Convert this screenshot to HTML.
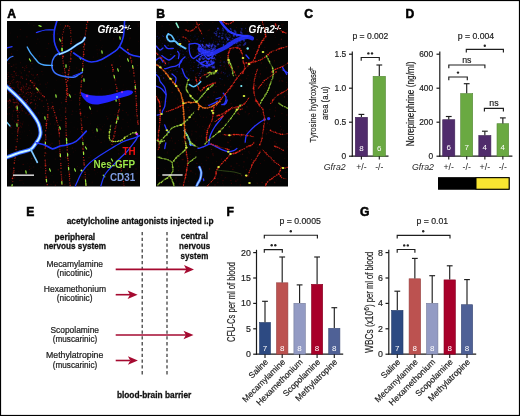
<!DOCTYPE html>
<html><head><meta charset="utf-8">
<style>
html,body{margin:0;padding:0;background:#fff;width:520px;height:416px;overflow:hidden}
svg{display:block;will-change:transform}
text{font-family:"Liberation Sans",sans-serif}
</style></head><body>
<svg width="520" height="416" viewBox="0 0 520 416">
<defs>
<clipPath id="clipA"><rect x="7" y="21" width="133" height="165.5"/></clipPath>
<clipPath id="clipB"><rect x="156" y="21" width="132" height="165.5"/></clipPath>
<filter id="soft" x="-5%" y="-5%" width="110%" height="110%"><feGaussianBlur stdDeviation="0.3"/></filter>
</defs>
<rect x="0" y="0" width="520" height="416" fill="#fff"/>
<g font-weight="bold" font-size="12.1" fill="#000" stroke="#000" stroke-width="0.55">
<text x="7.2" y="17.6">A</text>
<text x="156.2" y="17.6">B</text>
<text x="304.2" y="17.6">C</text>
<text x="405.5" y="17.6">D</text>
<text x="26.2" y="215.6">E</text>
<text x="226.4" y="215.6">F</text>
<text x="360" y="215.6">G</text>
</g>
<g id="panelA">
<rect x="7" y="21" width="133" height="165.5" fill="#040404"/>
<g clip-path="url(#clipA)" filter="url(#soft)">
<circle cx="10.4" cy="99.2" r="0.61" fill="#c81818" opacity="0.18"/>
<circle cx="29.6" cy="97.9" r="0.36" fill="#c81818" opacity="0.32"/>
<circle cx="19.5" cy="94.6" r="0.52" fill="#c81818" opacity="0.48"/>
<circle cx="21.1" cy="99.0" r="0.60" fill="#c81818" opacity="0.53"/>
<circle cx="18.3" cy="91.4" r="0.69" fill="#c81818" opacity="0.27"/>
<circle cx="18.3" cy="97.5" r="0.47" fill="#c81818" opacity="0.48"/>
<circle cx="21.8" cy="108.8" r="0.61" fill="#c81818" opacity="0.30"/>
<circle cx="9.2" cy="90.5" r="0.37" fill="#c81818" opacity="0.23"/>
<circle cx="7.7" cy="78.6" r="0.48" fill="#c81818" opacity="0.38"/>
<circle cx="20.0" cy="71.1" r="0.45" fill="#c81818" opacity="0.38"/>
<circle cx="12.5" cy="80.6" r="0.74" fill="#c81818" opacity="0.20"/>
<circle cx="23.4" cy="105.2" r="0.37" fill="#c81818" opacity="0.42"/>
<circle cx="15.7" cy="73.8" r="0.70" fill="#c81818" opacity="0.28"/>
<circle cx="7.7" cy="74.3" r="0.58" fill="#c81818" opacity="0.33"/>
<circle cx="32.0" cy="63.6" r="0.54" fill="#c81818" opacity="0.42"/>
<circle cx="34.2" cy="100.1" r="0.61" fill="#c81818" opacity="0.55"/>
<circle cx="19.0" cy="81.7" r="0.50" fill="#c81818" opacity="0.42"/>
<circle cx="29.4" cy="94.2" r="0.42" fill="#c81818" opacity="0.20"/>
<circle cx="36.3" cy="100.7" r="0.40" fill="#c81818" opacity="0.25"/>
<circle cx="27.4" cy="99.4" r="0.57" fill="#c81818" opacity="0.50"/>
<circle cx="25.8" cy="66.6" r="0.46" fill="#c81818" opacity="0.32"/>
<circle cx="21.7" cy="89.9" r="0.42" fill="#c81818" opacity="0.24"/>
<circle cx="15.7" cy="108.0" r="0.59" fill="#c81818" opacity="0.26"/>
<circle cx="28.6" cy="92.4" r="0.50" fill="#c81818" opacity="0.38"/>
<circle cx="34.5" cy="85.8" r="0.56" fill="#c81818" opacity="0.40"/>
<circle cx="11.9" cy="87.8" r="0.71" fill="#c81818" opacity="0.46"/>
<circle cx="31.6" cy="74.2" r="0.51" fill="#c81818" opacity="0.31"/>
<circle cx="29.8" cy="104.0" r="0.37" fill="#c81818" opacity="0.18"/>
<circle cx="16.1" cy="100.1" r="0.49" fill="#c81818" opacity="0.17"/>
<circle cx="22.0" cy="92.0" r="0.39" fill="#c81818" opacity="0.30"/>
<circle cx="42.1" cy="96.5" r="0.60" fill="#c81818" opacity="0.21"/>
<circle cx="13.8" cy="104.9" r="0.50" fill="#c81818" opacity="0.20"/>
<circle cx="39.7" cy="56.1" r="0.54" fill="#c81818" opacity="0.34"/>
<circle cx="19.6" cy="95.3" r="0.49" fill="#c81818" opacity="0.26"/>
<circle cx="17.9" cy="84.7" r="0.36" fill="#c81818" opacity="0.53"/>
<circle cx="10.8" cy="91.1" r="0.56" fill="#c81818" opacity="0.54"/>
<circle cx="28.1" cy="75.6" r="0.45" fill="#c81818" opacity="0.30"/>
<circle cx="26.0" cy="112.9" r="0.56" fill="#c81818" opacity="0.46"/>
<circle cx="9.2" cy="100.7" r="0.67" fill="#c81818" opacity="0.54"/>
<circle cx="29.2" cy="71.7" r="0.68" fill="#c81818" opacity="0.45"/>
<circle cx="16.5" cy="108.7" r="0.49" fill="#c81818" opacity="0.16"/>
<circle cx="25.2" cy="94.0" r="0.45" fill="#c81818" opacity="0.43"/>
<circle cx="28.7" cy="87.9" r="0.72" fill="#c81818" opacity="0.55"/>
<circle cx="26.8" cy="88.3" r="0.44" fill="#c81818" opacity="0.24"/>
<circle cx="17.1" cy="100.9" r="0.60" fill="#c81818" opacity="0.51"/>
<circle cx="22.6" cy="78.5" r="0.61" fill="#c81818" opacity="0.47"/>
<circle cx="31.7" cy="102.5" r="0.71" fill="#c81818" opacity="0.46"/>
<circle cx="14.0" cy="76.0" r="0.42" fill="#c81818" opacity="0.47"/>
<circle cx="27.8" cy="89.5" r="0.51" fill="#c81818" opacity="0.53"/>
<circle cx="12.7" cy="83.6" r="0.40" fill="#c81818" opacity="0.21"/>
<circle cx="35.0" cy="77.7" r="0.41" fill="#c81818" opacity="0.48"/>
<circle cx="34.3" cy="89.5" r="0.49" fill="#c81818" opacity="0.37"/>
<circle cx="15.6" cy="93.7" r="0.74" fill="#c81818" opacity="0.41"/>
<circle cx="18.4" cy="83.4" r="0.45" fill="#c81818" opacity="0.27"/>
<circle cx="15.1" cy="110.6" r="0.45" fill="#c81818" opacity="0.32"/>
<circle cx="34.9" cy="114.5" r="0.49" fill="#c81818" opacity="0.33"/>
<circle cx="11.3" cy="91.6" r="0.53" fill="#c81818" opacity="0.22"/>
<circle cx="39.1" cy="92.6" r="0.42" fill="#c81818" opacity="0.34"/>
<circle cx="11.2" cy="74.4" r="0.48" fill="#c81818" opacity="0.36"/>
<circle cx="28.1" cy="103.1" r="0.45" fill="#c81818" opacity="0.26"/>
<circle cx="16.3" cy="75.5" r="0.57" fill="#c81818" opacity="0.45"/>
<circle cx="26.9" cy="84.1" r="0.60" fill="#c81818" opacity="0.35"/>
<circle cx="24.1" cy="88.1" r="0.57" fill="#c81818" opacity="0.53"/>
<circle cx="18.1" cy="85.6" r="0.40" fill="#c81818" opacity="0.33"/>
<circle cx="23.3" cy="96.6" r="0.38" fill="#c81818" opacity="0.42"/>
<circle cx="20.3" cy="62.8" r="0.41" fill="#c81818" opacity="0.44"/>
<circle cx="9.8" cy="85.4" r="0.70" fill="#c81818" opacity="0.54"/>
<circle cx="20.6" cy="125.9" r="0.51" fill="#c81818" opacity="0.34"/>
<circle cx="40.4" cy="90.3" r="0.41" fill="#c81818" opacity="0.32"/>
<circle cx="18.1" cy="103.6" r="0.64" fill="#c81818" opacity="0.16"/>
<circle cx="26.5" cy="93.4" r="0.60" fill="#c81818" opacity="0.35"/>
<circle cx="51.3" cy="108.0" r="0.67" fill="#c81818" opacity="0.54"/>
<circle cx="22.7" cy="98.7" r="0.37" fill="#c81818" opacity="0.46"/>
<circle cx="13.1" cy="99.3" r="0.52" fill="#c81818" opacity="0.51"/>
<circle cx="18.5" cy="82.2" r="0.41" fill="#c81818" opacity="0.52"/>
<circle cx="18.1" cy="94.6" r="0.63" fill="#c81818" opacity="0.32"/>
<circle cx="43.7" cy="106.5" r="0.60" fill="#c81818" opacity="0.47"/>
<circle cx="37.8" cy="105.8" r="0.38" fill="#c81818" opacity="0.50"/>
<circle cx="13.2" cy="99.3" r="0.56" fill="#c81818" opacity="0.25"/>
<circle cx="20.4" cy="97.3" r="0.37" fill="#c81818" opacity="0.23"/>
<circle cx="9.5" cy="103.0" r="0.65" fill="#c81818" opacity="0.27"/>
<circle cx="12.5" cy="94.2" r="0.45" fill="#c81818" opacity="0.16"/>
<circle cx="12.1" cy="74.4" r="0.43" fill="#c81818" opacity="0.34"/>
<circle cx="20.1" cy="89.4" r="0.68" fill="#c81818" opacity="0.32"/>
<circle cx="8.7" cy="72.8" r="0.51" fill="#c81818" opacity="0.29"/>
<circle cx="21.0" cy="94.5" r="0.38" fill="#c81818" opacity="0.45"/>
<circle cx="13.7" cy="100.4" r="0.38" fill="#c81818" opacity="0.49"/>
<circle cx="28.3" cy="76.8" r="0.46" fill="#c81818" opacity="0.25"/>
<circle cx="9.8" cy="107.0" r="0.41" fill="#c81818" opacity="0.33"/>
<circle cx="11.0" cy="127.6" r="0.74" fill="#c81818" opacity="0.37"/>
<circle cx="15.3" cy="128.3" r="0.47" fill="#c81818" opacity="0.29"/>
<circle cx="27.7" cy="92.1" r="0.54" fill="#c81818" opacity="0.35"/>
<circle cx="19.0" cy="107.8" r="0.35" fill="#c81818" opacity="0.26"/>
<circle cx="26.0" cy="99.6" r="0.37" fill="#c81818" opacity="0.16"/>
<circle cx="10.6" cy="101.6" r="0.58" fill="#c81818" opacity="0.36"/>
<circle cx="14.1" cy="71.5" r="0.64" fill="#c81818" opacity="0.50"/>
<circle cx="21.9" cy="91.2" r="0.64" fill="#c81818" opacity="0.41"/>
<circle cx="39.6" cy="99.2" r="0.71" fill="#c81818" opacity="0.40"/>
<circle cx="11.4" cy="66.5" r="0.41" fill="#c81818" opacity="0.36"/>
<circle cx="22.8" cy="67.3" r="0.58" fill="#c81818" opacity="0.51"/>
<circle cx="14.4" cy="95.5" r="0.40" fill="#c81818" opacity="0.29"/>
<circle cx="35.0" cy="108.3" r="0.57" fill="#c81818" opacity="0.40"/>
<circle cx="12.9" cy="92.1" r="0.67" fill="#c81818" opacity="0.45"/>
<circle cx="11.2" cy="87.6" r="0.64" fill="#c81818" opacity="0.25"/>
<circle cx="23.8" cy="97.0" r="0.64" fill="#c81818" opacity="0.23"/>
<circle cx="11.6" cy="53.9" r="0.55" fill="#c81818" opacity="0.30"/>
<circle cx="16.1" cy="72.7" r="0.61" fill="#c81818" opacity="0.18"/>
<circle cx="20.4" cy="100.6" r="0.65" fill="#c81818" opacity="0.27"/>
<circle cx="12.0" cy="91.1" r="0.37" fill="#c81818" opacity="0.26"/>
<circle cx="8.8" cy="81.6" r="0.56" fill="#c81818" opacity="0.34"/>
<circle cx="7.1" cy="93.5" r="0.71" fill="#c81818" opacity="0.23"/>
<circle cx="46.5" cy="87.5" r="0.36" fill="#c81818" opacity="0.33"/>
<circle cx="29.6" cy="58.7" r="0.53" fill="#c81818" opacity="0.26"/>
<circle cx="22.4" cy="124.7" r="0.43" fill="#c81818" opacity="0.38"/>
<circle cx="24.7" cy="105.3" r="0.73" fill="#c81818" opacity="0.20"/>
<circle cx="21.1" cy="76.9" r="0.70" fill="#c81818" opacity="0.43"/>
<circle cx="17.5" cy="121.7" r="0.54" fill="#c81818" opacity="0.16"/>
<circle cx="30.3" cy="92.4" r="0.53" fill="#c81818" opacity="0.27"/>
<circle cx="22.1" cy="101.9" r="0.48" fill="#c81818" opacity="0.49"/>
<circle cx="37.3" cy="92.3" r="0.69" fill="#c81818" opacity="0.20"/>
<circle cx="33.8" cy="82.1" r="0.71" fill="#c81818" opacity="0.27"/>
<circle cx="32.7" cy="91.9" r="0.49" fill="#c81818" opacity="0.32"/>
<circle cx="13.3" cy="96.3" r="0.39" fill="#c81818" opacity="0.48"/>
<circle cx="14.0" cy="103.0" r="0.55" fill="#c81818" opacity="0.23"/>
<circle cx="33.1" cy="75.0" r="0.60" fill="#c81818" opacity="0.52"/>
<circle cx="30.5" cy="85.6" r="0.64" fill="#c81818" opacity="0.17"/>
<circle cx="12.3" cy="76.8" r="0.65" fill="#c81818" opacity="0.41"/>
<circle cx="13.0" cy="96.3" r="0.72" fill="#c81818" opacity="0.20"/>
<circle cx="7.2" cy="113.9" r="0.74" fill="#c81818" opacity="0.25"/>
<circle cx="7.4" cy="82.2" r="0.57" fill="#c81818" opacity="0.31"/>
<circle cx="18.1" cy="99.2" r="0.43" fill="#c81818" opacity="0.51"/>
<circle cx="53.1" cy="65.9" r="0.53" fill="#c81818" opacity="0.21"/>
<circle cx="16.2" cy="97.7" r="0.49" fill="#c81818" opacity="0.19"/>
<circle cx="14.7" cy="102.8" r="0.58" fill="#c81818" opacity="0.50"/>
<circle cx="14.0" cy="77.6" r="0.52" fill="#c81818" opacity="0.36"/>
<circle cx="24.4" cy="96.3" r="0.74" fill="#c81818" opacity="0.20"/>
<circle cx="20.4" cy="84.6" r="0.46" fill="#c81818" opacity="0.25"/>
<circle cx="40.1" cy="84.2" r="0.70" fill="#c81818" opacity="0.16"/>
<circle cx="35.6" cy="96.4" r="0.71" fill="#c81818" opacity="0.34"/>
<circle cx="13.8" cy="91.9" r="0.51" fill="#c81818" opacity="0.52"/>
<circle cx="26.6" cy="67.5" r="0.74" fill="#c81818" opacity="0.25"/>
<circle cx="20.3" cy="97.1" r="0.56" fill="#c81818" opacity="0.42"/>
<circle cx="34.9" cy="84.0" r="0.61" fill="#c81818" opacity="0.46"/>
<circle cx="37.7" cy="98.0" r="0.44" fill="#c81818" opacity="0.52"/>
<circle cx="21.4" cy="99.7" r="0.60" fill="#c81818" opacity="0.43"/>
<circle cx="18.1" cy="95.5" r="0.56" fill="#c81818" opacity="0.38"/>
<circle cx="12.4" cy="90.8" r="0.47" fill="#c81818" opacity="0.33"/>
<circle cx="33.5" cy="86.9" r="0.70" fill="#c81818" opacity="0.34"/>
<circle cx="15.0" cy="102.5" r="0.73" fill="#c81818" opacity="0.43"/>
<circle cx="13.0" cy="94.7" r="0.55" fill="#c81818" opacity="0.42"/>
<circle cx="14.5" cy="95.6" r="0.49" fill="#c81818" opacity="0.32"/>
<circle cx="10.2" cy="83.5" r="0.67" fill="#c81818" opacity="0.45"/>
<circle cx="25.9" cy="89.7" r="0.68" fill="#c81818" opacity="0.24"/>
<circle cx="18.2" cy="115.3" r="0.47" fill="#c81818" opacity="0.53"/>
<circle cx="16.4" cy="106.3" r="0.62" fill="#c81818" opacity="0.53"/>
<circle cx="22.5" cy="103.1" r="0.44" fill="#c81818" opacity="0.54"/>
<circle cx="16.9" cy="95.6" r="0.37" fill="#c81818" opacity="0.31"/>
<circle cx="37.3" cy="74.7" r="0.64" fill="#c81818" opacity="0.55"/>
<circle cx="25.4" cy="86.8" r="0.42" fill="#c81818" opacity="0.52"/>
<circle cx="13.9" cy="88.4" r="0.62" fill="#c81818" opacity="0.30"/>
<circle cx="14.5" cy="92.9" r="0.46" fill="#c81818" opacity="0.29"/>
<circle cx="20.9" cy="90.0" r="0.74" fill="#c81818" opacity="0.23"/>
<circle cx="20.5" cy="78.6" r="0.37" fill="#c81818" opacity="0.34"/>
<circle cx="18.7" cy="104.5" r="0.71" fill="#c81818" opacity="0.16"/>
<circle cx="14.4" cy="88.0" r="0.36" fill="#c81818" opacity="0.18"/>
<circle cx="23.5" cy="86.8" r="0.65" fill="#c81818" opacity="0.51"/>
<circle cx="8.1" cy="101.5" r="0.73" fill="#c81818" opacity="0.40"/>
<circle cx="12.3" cy="114.2" r="0.48" fill="#c81818" opacity="0.26"/>
<circle cx="37.5" cy="92.6" r="0.72" fill="#c81818" opacity="0.40"/>
<circle cx="16.9" cy="90.9" r="0.44" fill="#c81818" opacity="0.34"/>
<circle cx="47.5" cy="82.7" r="0.50" fill="#c81818" opacity="0.25"/>
<circle cx="22.0" cy="88.1" r="0.67" fill="#c81818" opacity="0.45"/>
<circle cx="24.6" cy="70.4" r="0.59" fill="#c81818" opacity="0.28"/>
<circle cx="8.4" cy="104.0" r="0.66" fill="#c81818" opacity="0.18"/>
<circle cx="21.6" cy="114.1" r="0.45" fill="#c81818" opacity="0.18"/>
<circle cx="31.4" cy="95.7" r="0.48" fill="#c81818" opacity="0.54"/>
<circle cx="44.9" cy="64.2" r="0.46" fill="#c81818" opacity="0.18"/>
<circle cx="27.5" cy="101.4" r="0.63" fill="#c81818" opacity="0.33"/>
<circle cx="15.4" cy="106.5" r="0.60" fill="#c81818" opacity="0.42"/>
<circle cx="13.7" cy="64.9" r="0.62" fill="#c81818" opacity="0.20"/>
<circle cx="20.3" cy="82.2" r="0.58" fill="#c81818" opacity="0.30"/>
<circle cx="13.3" cy="82.7" r="0.45" fill="#c81818" opacity="0.25"/>
<circle cx="30.6" cy="115.9" r="0.58" fill="#c81818" opacity="0.28"/>
<circle cx="21.3" cy="73.0" r="0.75" fill="#c81818" opacity="0.19"/>
<circle cx="30.7" cy="65.9" r="0.37" fill="#c81818" opacity="0.27"/>
<circle cx="20.6" cy="98.2" r="0.74" fill="#c81818" opacity="0.38"/>
<circle cx="26.2" cy="86.3" r="0.70" fill="#c81818" opacity="0.33"/>
<circle cx="12.5" cy="116.2" r="0.73" fill="#c81818" opacity="0.19"/>
<circle cx="16.7" cy="105.2" r="0.41" fill="#c81818" opacity="0.23"/>
<circle cx="13.4" cy="110.9" r="0.61" fill="#c81818" opacity="0.23"/>
<circle cx="26.4" cy="92.9" r="0.62" fill="#c81818" opacity="0.22"/>
<circle cx="10.4" cy="100.7" r="0.67" fill="#c81818" opacity="0.37"/>
<circle cx="20.0" cy="94.5" r="0.51" fill="#c81818" opacity="0.37"/>
<circle cx="10.1" cy="87.3" r="0.42" fill="#c81818" opacity="0.43"/>
<circle cx="7.1" cy="108.7" r="0.49" fill="#c81818" opacity="0.32"/>
<circle cx="45.1" cy="56.4" r="0.50" fill="#c81818" opacity="0.23"/>
<circle cx="12.7" cy="82.6" r="0.35" fill="#c81818" opacity="0.51"/>
<circle cx="31.7" cy="93.7" r="0.61" fill="#c81818" opacity="0.51"/>
<circle cx="30.6" cy="102.4" r="0.50" fill="#c81818" opacity="0.35"/>
<circle cx="21.0" cy="101.1" r="0.56" fill="#c81818" opacity="0.52"/>
<circle cx="26.6" cy="102.3" r="0.67" fill="#c81818" opacity="0.54"/>
<circle cx="16.4" cy="98.9" r="0.73" fill="#c81818" opacity="0.54"/>
<circle cx="9.4" cy="92.5" r="0.72" fill="#c81818" opacity="0.31"/>
<circle cx="30.1" cy="81.0" r="0.68" fill="#c81818" opacity="0.21"/>
<circle cx="16.2" cy="82.3" r="0.51" fill="#c81818" opacity="0.49"/>
<circle cx="18.2" cy="84.2" r="0.44" fill="#c81818" opacity="0.31"/>
<circle cx="21.5" cy="99.4" r="0.64" fill="#c81818" opacity="0.51"/>
<circle cx="31.4" cy="96.6" r="0.65" fill="#c81818" opacity="0.17"/>
<circle cx="17.7" cy="86.0" r="0.59" fill="#c81818" opacity="0.37"/>
<circle cx="33.2" cy="94.8" r="0.55" fill="#c81818" opacity="0.24"/>
<circle cx="16.1" cy="67.7" r="0.53" fill="#c81818" opacity="0.22"/>
<circle cx="7.4" cy="93.1" r="0.40" fill="#c81818" opacity="0.32"/>
<circle cx="26.7" cy="100.2" r="0.55" fill="#c81818" opacity="0.17"/>
<circle cx="10.2" cy="87.6" r="0.64" fill="#c81818" opacity="0.46"/>
<circle cx="9.3" cy="91.7" r="0.55" fill="#c81818" opacity="0.30"/>
<circle cx="21.2" cy="89.7" r="0.69" fill="#c81818" opacity="0.55"/>
<circle cx="11.1" cy="66.4" r="0.43" fill="#c81818" opacity="0.54"/>
<circle cx="21.3" cy="87.8" r="0.67" fill="#c81818" opacity="0.52"/>
<circle cx="25.9" cy="97.2" r="0.65" fill="#c81818" opacity="0.21"/>
<circle cx="22.9" cy="85.2" r="0.68" fill="#c81818" opacity="0.21"/>
<circle cx="16.8" cy="102.6" r="0.55" fill="#c81818" opacity="0.28"/>
<circle cx="22.6" cy="94.0" r="0.41" fill="#c81818" opacity="0.52"/>
<circle cx="26.0" cy="113.4" r="0.40" fill="#c81818" opacity="0.36"/>
<circle cx="26.4" cy="79.2" r="0.58" fill="#c81818" opacity="0.50"/>
<circle cx="48.9" cy="118.9" r="0.60" fill="#c81818" opacity="0.31"/>
<circle cx="17.2" cy="81.5" r="0.75" fill="#c81818" opacity="0.38"/>
<circle cx="13.8" cy="87.6" r="0.68" fill="#c81818" opacity="0.25"/>
<circle cx="13.7" cy="92.8" r="0.36" fill="#c81818" opacity="0.21"/>
<circle cx="20.8" cy="99.4" r="0.61" fill="#c81818" opacity="0.16"/>
<circle cx="27.1" cy="92.2" r="0.39" fill="#c81818" opacity="0.29"/>
<circle cx="17.0" cy="110.3" r="0.59" fill="#c81818" opacity="0.23"/>
<circle cx="35.8" cy="116.6" r="0.45" fill="#c81818" opacity="0.21"/>
<circle cx="30.5" cy="103.3" r="0.70" fill="#c81818" opacity="0.46"/>
<circle cx="34.1" cy="93.5" r="0.57" fill="#c81818" opacity="0.29"/>
<circle cx="35.0" cy="83.2" r="0.45" fill="#c81818" opacity="0.51"/>
<circle cx="30.6" cy="96.7" r="0.51" fill="#c81818" opacity="0.25"/>
<circle cx="36.7" cy="100.7" r="0.35" fill="#c81818" opacity="0.37"/>
<circle cx="21.2" cy="89.2" r="0.43" fill="#c81818" opacity="0.39"/>
<circle cx="17.4" cy="84.0" r="0.47" fill="#c81818" opacity="0.27"/>
<circle cx="42.0" cy="100.8" r="0.66" fill="#c81818" opacity="0.44"/>
<circle cx="41.0" cy="93.1" r="0.65" fill="#c81818" opacity="0.34"/>
<circle cx="13.2" cy="76.7" r="0.44" fill="#c81818" opacity="0.19"/>
<circle cx="14.4" cy="95.9" r="0.48" fill="#c81818" opacity="0.45"/>
<circle cx="11.4" cy="81.3" r="0.57" fill="#c81818" opacity="0.32"/>
<circle cx="18.1" cy="75.5" r="0.46" fill="#c81818" opacity="0.41"/>
<circle cx="23.6" cy="89.9" r="0.70" fill="#c81818" opacity="0.16"/>
<circle cx="13.3" cy="102.3" r="0.65" fill="#c81818" opacity="0.53"/>
<circle cx="13.7" cy="79.5" r="0.70" fill="#c81818" opacity="0.28"/>
<circle cx="16.1" cy="122.5" r="0.60" fill="#c81818" opacity="0.43"/>
<circle cx="18.6" cy="111.0" r="0.38" fill="#c81818" opacity="0.51"/>
<circle cx="16.0" cy="94.6" r="0.39" fill="#c81818" opacity="0.52"/>
<circle cx="9.7" cy="98.4" r="0.36" fill="#c81818" opacity="0.17"/>
<circle cx="31.1" cy="99.5" r="0.50" fill="#c81818" opacity="0.48"/>
<circle cx="26.5" cy="65.3" r="0.38" fill="#c81818" opacity="0.50"/>
<circle cx="42.9" cy="74.8" r="0.39" fill="#c81818" opacity="0.23"/>
<circle cx="16.8" cy="94.4" r="0.69" fill="#c81818" opacity="0.47"/>
<circle cx="19.1" cy="95.7" r="0.65" fill="#c81818" opacity="0.23"/>
<circle cx="7.8" cy="105.3" r="0.36" fill="#c81818" opacity="0.25"/>
<circle cx="9.5" cy="113.7" r="0.50" fill="#c81818" opacity="0.28"/>
<circle cx="30.2" cy="88.3" r="0.69" fill="#c81818" opacity="0.40"/>
<circle cx="28.2" cy="94.8" r="0.52" fill="#c81818" opacity="0.46"/>
<circle cx="18.0" cy="87.3" r="0.68" fill="#c81818" opacity="0.22"/>
<circle cx="23.4" cy="92.1" r="0.65" fill="#c81818" opacity="0.54"/>
<circle cx="30.3" cy="92.4" r="0.55" fill="#c81818" opacity="0.47"/>
<circle cx="20.5" cy="107.0" r="0.49" fill="#c81818" opacity="0.48"/>
<circle cx="11.8" cy="125.5" r="0.46" fill="#c81818" opacity="0.24"/>
<circle cx="8.9" cy="76.4" r="0.39" fill="#c81818" opacity="0.40"/>
<circle cx="35.5" cy="104.0" r="0.63" fill="#c81818" opacity="0.46"/>
<circle cx="18.6" cy="88.2" r="0.71" fill="#c81818" opacity="0.16"/>
<circle cx="17.0" cy="102.5" r="0.71" fill="#c81818" opacity="0.35"/>
<circle cx="15.6" cy="107.5" r="0.56" fill="#c81818" opacity="0.45"/>
<circle cx="14.4" cy="71.8" r="0.49" fill="#c81818" opacity="0.28"/>
<circle cx="29.1" cy="114.3" r="0.61" fill="#c81818" opacity="0.45"/>
<circle cx="21.3" cy="105.2" r="0.66" fill="#c81818" opacity="0.38"/>
<circle cx="24.9" cy="103.1" r="0.70" fill="#c81818" opacity="0.25"/>
<circle cx="18.3" cy="103.1" r="0.63" fill="#c81818" opacity="0.49"/>
<circle cx="18.6" cy="98.7" r="0.45" fill="#c81818" opacity="0.28"/>
<circle cx="9.7" cy="100.0" r="0.74" fill="#c81818" opacity="0.44"/>
<circle cx="42.8" cy="113.4" r="0.39" fill="#c81818" opacity="0.30"/>
<circle cx="38.8" cy="89.5" r="0.64" fill="#c81818" opacity="0.32"/>
<circle cx="20.6" cy="110.8" r="0.39" fill="#c81818" opacity="0.23"/>
<circle cx="11.2" cy="94.4" r="0.51" fill="#c81818" opacity="0.47"/>
<circle cx="8.3" cy="76.5" r="0.60" fill="#c81818" opacity="0.34"/>
<circle cx="26.0" cy="106.8" r="0.51" fill="#c81818" opacity="0.45"/>
<circle cx="26.4" cy="83.9" r="0.58" fill="#c81818" opacity="0.45"/>
<circle cx="9.0" cy="63.6" r="0.66" fill="#c81818" opacity="0.43"/>
<circle cx="26.7" cy="75.1" r="0.61" fill="#c81818" opacity="0.33"/>
<circle cx="25.9" cy="100.4" r="0.66" fill="#c81818" opacity="0.44"/>
<circle cx="22.3" cy="110.6" r="0.66" fill="#c81818" opacity="0.31"/>
<circle cx="31.0" cy="96.2" r="0.41" fill="#c81818" opacity="0.46"/>
<circle cx="29.8" cy="85.8" r="0.39" fill="#c81818" opacity="0.38"/>
<circle cx="22.1" cy="77.0" r="0.51" fill="#c81818" opacity="0.53"/>
<circle cx="19.3" cy="112.6" r="0.51" fill="#c81818" opacity="0.46"/>
<circle cx="43.0" cy="120.1" r="0.49" fill="#c81818" opacity="0.17"/>
<circle cx="11.8" cy="106.0" r="0.36" fill="#c81818" opacity="0.32"/>
<circle cx="7.4" cy="100.8" r="0.44" fill="#c81818" opacity="0.45"/>
<circle cx="29.9" cy="85.7" r="0.44" fill="#c81818" opacity="0.47"/>
<circle cx="30.7" cy="109.6" r="0.67" fill="#c81818" opacity="0.40"/>
<circle cx="19.4" cy="127.7" r="0.49" fill="#c81818" opacity="0.41"/>
<circle cx="24.8" cy="68.6" r="0.54" fill="#c81818" opacity="0.27"/>
<circle cx="7.1" cy="89.8" r="0.68" fill="#c81818" opacity="0.29"/>
<circle cx="20.5" cy="83.1" r="0.50" fill="#c81818" opacity="0.25"/>
<circle cx="36.4" cy="92.4" r="0.46" fill="#c81818" opacity="0.25"/>
<circle cx="8.9" cy="107.2" r="0.52" fill="#c81818" opacity="0.40"/>
<circle cx="38.8" cy="80.1" r="0.37" fill="#c81818" opacity="0.48"/>
<circle cx="34.3" cy="78.3" r="0.41" fill="#c81818" opacity="0.48"/>
<circle cx="91.2" cy="111.1" r="0.30" fill="#a01414" opacity="0.39"/>
<circle cx="94.2" cy="129.0" r="0.34" fill="#a01414" opacity="0.14"/>
<circle cx="38.1" cy="169.0" r="0.44" fill="#a01414" opacity="0.15"/>
<circle cx="127.2" cy="170.2" r="0.37" fill="#a01414" opacity="0.37"/>
<circle cx="87.9" cy="169.4" r="0.57" fill="#a01414" opacity="0.37"/>
<circle cx="111.8" cy="173.7" r="0.38" fill="#a01414" opacity="0.31"/>
<circle cx="77.6" cy="166.4" r="0.48" fill="#a01414" opacity="0.36"/>
<circle cx="80.8" cy="130.1" r="0.39" fill="#a01414" opacity="0.14"/>
<circle cx="72.6" cy="114.4" r="0.49" fill="#a01414" opacity="0.14"/>
<circle cx="72.4" cy="147.9" r="0.52" fill="#a01414" opacity="0.36"/>
<circle cx="7.9" cy="173.9" r="0.49" fill="#a01414" opacity="0.27"/>
<circle cx="95.5" cy="173.9" r="0.45" fill="#a01414" opacity="0.23"/>
<circle cx="134.8" cy="115.7" r="0.55" fill="#a01414" opacity="0.29"/>
<circle cx="10.8" cy="156.3" r="0.57" fill="#a01414" opacity="0.38"/>
<circle cx="51.0" cy="184.6" r="0.50" fill="#a01414" opacity="0.25"/>
<circle cx="126.4" cy="112.6" r="0.59" fill="#a01414" opacity="0.29"/>
<circle cx="52.0" cy="175.5" r="0.45" fill="#a01414" opacity="0.24"/>
<circle cx="76.9" cy="168.6" r="0.38" fill="#a01414" opacity="0.23"/>
<circle cx="63.2" cy="152.1" r="0.63" fill="#a01414" opacity="0.19"/>
<circle cx="117.1" cy="140.7" r="0.50" fill="#a01414" opacity="0.18"/>
<circle cx="74.4" cy="184.1" r="0.56" fill="#a01414" opacity="0.34"/>
<circle cx="51.0" cy="134.1" r="0.42" fill="#a01414" opacity="0.28"/>
<circle cx="91.4" cy="169.6" r="0.32" fill="#a01414" opacity="0.32"/>
<circle cx="124.8" cy="151.5" r="0.32" fill="#a01414" opacity="0.19"/>
<circle cx="7.8" cy="124.4" r="0.67" fill="#a01414" opacity="0.28"/>
<circle cx="94.5" cy="170.0" r="0.66" fill="#a01414" opacity="0.28"/>
<circle cx="89.0" cy="157.6" r="0.58" fill="#a01414" opacity="0.28"/>
<circle cx="97.6" cy="126.2" r="0.57" fill="#a01414" opacity="0.24"/>
<circle cx="108.4" cy="117.7" r="0.37" fill="#a01414" opacity="0.11"/>
<circle cx="110.0" cy="179.5" r="0.56" fill="#a01414" opacity="0.21"/>
<circle cx="116.4" cy="169.8" r="0.52" fill="#a01414" opacity="0.18"/>
<circle cx="47.2" cy="142.1" r="0.43" fill="#a01414" opacity="0.23"/>
<circle cx="92.4" cy="181.0" r="0.32" fill="#a01414" opacity="0.27"/>
<circle cx="12.2" cy="119.0" r="0.62" fill="#a01414" opacity="0.27"/>
<circle cx="129.2" cy="143.9" r="0.31" fill="#a01414" opacity="0.22"/>
<circle cx="85.7" cy="181.3" r="0.69" fill="#a01414" opacity="0.24"/>
<circle cx="61.9" cy="117.8" r="0.56" fill="#a01414" opacity="0.16"/>
<circle cx="27.2" cy="111.2" r="0.30" fill="#a01414" opacity="0.31"/>
<circle cx="23.2" cy="183.4" r="0.34" fill="#a01414" opacity="0.36"/>
<circle cx="24.2" cy="111.4" r="0.59" fill="#a01414" opacity="0.17"/>
<circle cx="104.6" cy="124.2" r="0.32" fill="#a01414" opacity="0.33"/>
<circle cx="101.9" cy="175.0" r="0.59" fill="#a01414" opacity="0.13"/>
<circle cx="90.6" cy="163.9" r="0.48" fill="#a01414" opacity="0.38"/>
<circle cx="40.8" cy="183.3" r="0.59" fill="#a01414" opacity="0.10"/>
<circle cx="9.0" cy="159.5" r="0.63" fill="#a01414" opacity="0.12"/>
<circle cx="48.4" cy="165.4" r="0.37" fill="#a01414" opacity="0.36"/>
<circle cx="71.7" cy="114.5" r="0.45" fill="#a01414" opacity="0.27"/>
<circle cx="65.4" cy="161.4" r="0.36" fill="#a01414" opacity="0.34"/>
<circle cx="55.3" cy="159.0" r="0.55" fill="#a01414" opacity="0.23"/>
<circle cx="58.3" cy="169.8" r="0.68" fill="#a01414" opacity="0.34"/>
<circle cx="82.4" cy="132.2" r="0.32" fill="#a01414" opacity="0.39"/>
<circle cx="100.5" cy="172.9" r="0.43" fill="#a01414" opacity="0.28"/>
<circle cx="137.0" cy="173.2" r="0.54" fill="#a01414" opacity="0.19"/>
<circle cx="64.0" cy="177.5" r="0.45" fill="#a01414" opacity="0.31"/>
<circle cx="87.0" cy="178.1" r="0.62" fill="#a01414" opacity="0.18"/>
<circle cx="7.2" cy="130.0" r="0.47" fill="#a01414" opacity="0.28"/>
<circle cx="115.5" cy="177.4" r="0.32" fill="#a01414" opacity="0.35"/>
<circle cx="115.0" cy="175.9" r="0.53" fill="#a01414" opacity="0.18"/>
<circle cx="120.2" cy="171.3" r="0.57" fill="#a01414" opacity="0.37"/>
<circle cx="53.1" cy="116.5" r="0.52" fill="#a01414" opacity="0.34"/>
<circle cx="33.7" cy="167.0" r="0.67" fill="#a01414" opacity="0.17"/>
<circle cx="87.7" cy="161.5" r="0.49" fill="#a01414" opacity="0.16"/>
<circle cx="40.9" cy="167.1" r="0.62" fill="#a01414" opacity="0.24"/>
<circle cx="18.7" cy="171.3" r="0.61" fill="#a01414" opacity="0.17"/>
<circle cx="84.1" cy="178.2" r="0.65" fill="#a01414" opacity="0.26"/>
<circle cx="70.4" cy="154.8" r="0.38" fill="#a01414" opacity="0.16"/>
<circle cx="31.0" cy="163.3" r="0.45" fill="#a01414" opacity="0.27"/>
<circle cx="60.5" cy="149.3" r="0.36" fill="#a01414" opacity="0.11"/>
<circle cx="139.6" cy="138.4" r="0.34" fill="#a01414" opacity="0.29"/>
<circle cx="111.7" cy="121.9" r="0.54" fill="#a01414" opacity="0.20"/>
<circle cx="76.1" cy="111.6" r="0.31" fill="#a01414" opacity="0.40"/>
<circle cx="122.2" cy="147.0" r="0.53" fill="#a01414" opacity="0.18"/>
<circle cx="110.6" cy="142.4" r="0.68" fill="#a01414" opacity="0.33"/>
<circle cx="115.9" cy="183.2" r="0.40" fill="#a01414" opacity="0.11"/>
<circle cx="33.7" cy="123.7" r="0.33" fill="#a01414" opacity="0.12"/>
<circle cx="81.1" cy="176.2" r="0.48" fill="#a01414" opacity="0.38"/>
<circle cx="128.0" cy="114.9" r="0.54" fill="#a01414" opacity="0.22"/>
<circle cx="22.9" cy="182.9" r="0.40" fill="#a01414" opacity="0.27"/>
<circle cx="92.2" cy="182.7" r="0.57" fill="#a01414" opacity="0.22"/>
<circle cx="66.6" cy="122.1" r="0.69" fill="#a01414" opacity="0.40"/>
<circle cx="36.5" cy="112.9" r="0.40" fill="#a01414" opacity="0.21"/>
<circle cx="127.1" cy="178.7" r="0.63" fill="#a01414" opacity="0.11"/>
<circle cx="111.6" cy="163.9" r="0.56" fill="#a01414" opacity="0.40"/>
<circle cx="14.4" cy="121.0" r="0.60" fill="#a01414" opacity="0.38"/>
<circle cx="97.0" cy="132.7" r="0.54" fill="#a01414" opacity="0.33"/>
<circle cx="21.0" cy="134.6" r="0.40" fill="#a01414" opacity="0.14"/>
<circle cx="71.0" cy="122.8" r="0.40" fill="#a01414" opacity="0.14"/>
<circle cx="97.1" cy="111.0" r="0.59" fill="#a01414" opacity="0.16"/>
<circle cx="11.8" cy="180.5" r="0.39" fill="#a01414" opacity="0.38"/>
<circle cx="122.3" cy="177.5" r="0.36" fill="#a01414" opacity="0.23"/>
<circle cx="19.9" cy="180.6" r="0.64" fill="#a01414" opacity="0.29"/>
<circle cx="67.2" cy="135.8" r="0.63" fill="#a01414" opacity="0.24"/>
<circle cx="90.5" cy="120.9" r="0.39" fill="#a01414" opacity="0.12"/>
<circle cx="101.9" cy="152.1" r="0.36" fill="#a01414" opacity="0.36"/>
<circle cx="42.4" cy="141.3" r="0.36" fill="#a01414" opacity="0.18"/>
<circle cx="118.7" cy="135.4" r="0.37" fill="#a01414" opacity="0.25"/>
<circle cx="49.3" cy="178.6" r="0.35" fill="#a01414" opacity="0.39"/>
<circle cx="14.6" cy="178.0" r="0.57" fill="#a01414" opacity="0.16"/>
<circle cx="70.5" cy="131.8" r="0.40" fill="#a01414" opacity="0.16"/>
<circle cx="55.4" cy="185.3" r="0.70" fill="#a01414" opacity="0.38"/>
<circle cx="20.0" cy="132.0" r="0.66" fill="#a01414" opacity="0.12"/>
<circle cx="103.6" cy="132.3" r="0.69" fill="#a01414" opacity="0.10"/>
<circle cx="114.3" cy="135.9" r="0.36" fill="#a01414" opacity="0.10"/>
<circle cx="117.7" cy="150.0" r="0.37" fill="#a01414" opacity="0.23"/>
<circle cx="128.3" cy="126.6" r="0.53" fill="#a01414" opacity="0.14"/>
<circle cx="31.0" cy="168.6" r="0.58" fill="#a01414" opacity="0.16"/>
<circle cx="17.5" cy="116.6" r="0.54" fill="#a01414" opacity="0.25"/>
<circle cx="43.4" cy="125.7" r="0.54" fill="#a01414" opacity="0.31"/>
<circle cx="114.9" cy="154.3" r="0.38" fill="#a01414" opacity="0.12"/>
<circle cx="104.5" cy="141.0" r="0.59" fill="#a01414" opacity="0.12"/>
<circle cx="114.8" cy="135.5" r="0.64" fill="#a01414" opacity="0.36"/>
<circle cx="72.6" cy="111.2" r="0.66" fill="#a01414" opacity="0.24"/>
<circle cx="123.0" cy="130.2" r="0.37" fill="#a01414" opacity="0.35"/>
<circle cx="55.8" cy="122.4" r="0.45" fill="#a01414" opacity="0.28"/>
<circle cx="7.6" cy="149.5" r="0.48" fill="#a01414" opacity="0.25"/>
<circle cx="23.1" cy="164.3" r="0.63" fill="#a01414" opacity="0.36"/>
<circle cx="49.7" cy="164.1" r="0.45" fill="#a01414" opacity="0.33"/>
<circle cx="15.1" cy="176.3" r="0.68" fill="#a01414" opacity="0.25"/>
<circle cx="75.3" cy="150.3" r="0.51" fill="#a01414" opacity="0.11"/>
<circle cx="135.7" cy="127.0" r="0.37" fill="#a01414" opacity="0.13"/>
<circle cx="40.3" cy="172.1" r="0.31" fill="#a01414" opacity="0.13"/>
<circle cx="100.0" cy="124.8" r="0.31" fill="#a01414" opacity="0.28"/>
<circle cx="83.7" cy="149.7" r="0.58" fill="#a01414" opacity="0.13"/>
<circle cx="122.6" cy="164.5" r="0.32" fill="#a01414" opacity="0.14"/>
<circle cx="72.6" cy="148.1" r="0.41" fill="#a01414" opacity="0.14"/>
<circle cx="61.0" cy="120.4" r="0.54" fill="#a01414" opacity="0.36"/>
<circle cx="26.6" cy="153.5" r="0.60" fill="#a01414" opacity="0.15"/>
<circle cx="116.9" cy="181.3" r="0.46" fill="#a01414" opacity="0.23"/>
<circle cx="118.7" cy="149.9" r="0.46" fill="#a01414" opacity="0.38"/>
<circle cx="110.3" cy="135.7" r="0.40" fill="#a01414" opacity="0.20"/>
<circle cx="64.9" cy="184.6" r="0.62" fill="#a01414" opacity="0.37"/>
<circle cx="115.4" cy="174.4" r="0.32" fill="#a01414" opacity="0.26"/>
<circle cx="134.4" cy="181.0" r="0.40" fill="#a01414" opacity="0.23"/>
<circle cx="91.1" cy="137.7" r="0.51" fill="#a01414" opacity="0.12"/>
<circle cx="64.6" cy="148.4" r="0.31" fill="#a01414" opacity="0.14"/>
<circle cx="136.0" cy="169.0" r="0.67" fill="#a01414" opacity="0.29"/>
<circle cx="114.6" cy="177.2" r="0.65" fill="#a01414" opacity="0.11"/>
<circle cx="92.3" cy="130.2" r="0.57" fill="#a01414" opacity="0.18"/>
<circle cx="79.1" cy="180.3" r="0.55" fill="#a01414" opacity="0.18"/>
<circle cx="76.2" cy="143.0" r="0.68" fill="#a01414" opacity="0.19"/>
<circle cx="47.6" cy="159.2" r="0.35" fill="#a01414" opacity="0.28"/>
<circle cx="134.2" cy="149.0" r="0.41" fill="#a01414" opacity="0.24"/>
<circle cx="78.0" cy="121.3" r="0.35" fill="#a01414" opacity="0.14"/>
<circle cx="46.0" cy="140.9" r="0.42" fill="#a01414" opacity="0.17"/>
<circle cx="18.7" cy="151.5" r="0.64" fill="#a01414" opacity="0.28"/>
<circle cx="82.8" cy="159.4" r="0.38" fill="#a01414" opacity="0.31"/>
<circle cx="68.3" cy="151.7" r="0.55" fill="#a01414" opacity="0.24"/>
<circle cx="48.3" cy="128.4" r="0.39" fill="#a01414" opacity="0.25"/>
<circle cx="58.0" cy="154.5" r="0.30" fill="#a01414" opacity="0.21"/>
<circle cx="121.6" cy="128.1" r="0.52" fill="#a01414" opacity="0.25"/>
<circle cx="44.9" cy="185.1" r="0.42" fill="#a01414" opacity="0.33"/>
<circle cx="28.1" cy="115.1" r="0.65" fill="#a01414" opacity="0.23"/>
<circle cx="15.2" cy="139.5" r="0.48" fill="#a01414" opacity="0.32"/>
<circle cx="21.5" cy="127.1" r="0.68" fill="#a01414" opacity="0.32"/>
<circle cx="27.6" cy="135.6" r="0.44" fill="#a01414" opacity="0.30"/>
<circle cx="89.0" cy="174.6" r="0.63" fill="#a01414" opacity="0.26"/>
<circle cx="105.3" cy="166.5" r="0.60" fill="#a01414" opacity="0.24"/>
<circle cx="111.4" cy="163.8" r="0.67" fill="#a01414" opacity="0.14"/>
<circle cx="122.8" cy="110.3" r="0.61" fill="#a01414" opacity="0.28"/>
<circle cx="73.2" cy="183.2" r="0.53" fill="#a01414" opacity="0.23"/>
<circle cx="111.2" cy="176.3" r="0.54" fill="#a01414" opacity="0.21"/>
<circle cx="67.2" cy="144.8" r="0.59" fill="#a01414" opacity="0.19"/>
<circle cx="59.0" cy="152.2" r="0.45" fill="#a01414" opacity="0.20"/>
<circle cx="111.7" cy="174.6" r="0.50" fill="#a01414" opacity="0.23"/>
<circle cx="31.5" cy="133.1" r="0.36" fill="#a01414" opacity="0.27"/>
<circle cx="84.4" cy="116.7" r="0.67" fill="#a01414" opacity="0.20"/>
<circle cx="119.2" cy="173.7" r="0.68" fill="#a01414" opacity="0.16"/>
<circle cx="63.7" cy="179.2" r="0.30" fill="#a01414" opacity="0.11"/>
<circle cx="82.1" cy="147.8" r="0.67" fill="#a01414" opacity="0.33"/>
<circle cx="78.6" cy="185.9" r="0.51" fill="#a01414" opacity="0.26"/>
<circle cx="98.1" cy="139.6" r="0.44" fill="#a01414" opacity="0.28"/>
<circle cx="53.7" cy="182.0" r="0.57" fill="#a01414" opacity="0.26"/>
<circle cx="20.2" cy="138.5" r="0.46" fill="#a01414" opacity="0.27"/>
<circle cx="83.3" cy="176.9" r="0.69" fill="#a01414" opacity="0.25"/>
<circle cx="65.5" cy="157.5" r="0.70" fill="#a01414" opacity="0.20"/>
<circle cx="77.5" cy="172.0" r="0.37" fill="#a01414" opacity="0.20"/>
<circle cx="137.1" cy="172.8" r="0.51" fill="#a01414" opacity="0.13"/>
<circle cx="126.0" cy="162.4" r="0.63" fill="#a01414" opacity="0.40"/>
<circle cx="125.1" cy="142.0" r="0.36" fill="#a01414" opacity="0.19"/>
<circle cx="75.0" cy="148.4" r="0.38" fill="#a01414" opacity="0.15"/>
<circle cx="90.8" cy="155.8" r="0.44" fill="#a01414" opacity="0.40"/>
<circle cx="91.7" cy="113.2" r="0.46" fill="#a01414" opacity="0.34"/>
<circle cx="47.8" cy="162.5" r="0.30" fill="#a01414" opacity="0.19"/>
<circle cx="119.0" cy="154.6" r="0.57" fill="#a01414" opacity="0.16"/>
<circle cx="73.2" cy="152.0" r="0.41" fill="#a01414" opacity="0.29"/>
<circle cx="77.7" cy="185.8" r="0.53" fill="#a01414" opacity="0.22"/>
<circle cx="23.2" cy="121.9" r="0.60" fill="#a01414" opacity="0.13"/>
<circle cx="20.3" cy="123.0" r="0.51" fill="#a01414" opacity="0.35"/>
<circle cx="88.5" cy="171.3" r="0.32" fill="#a01414" opacity="0.10"/>
<circle cx="109.5" cy="134.5" r="0.59" fill="#a01414" opacity="0.21"/>
<circle cx="29.5" cy="130.3" r="0.34" fill="#a01414" opacity="0.37"/>
<circle cx="84.4" cy="136.5" r="0.48" fill="#a01414" opacity="0.22"/>
<circle cx="14.3" cy="177.7" r="0.53" fill="#a01414" opacity="0.39"/>
<circle cx="65.5" cy="157.1" r="0.40" fill="#a01414" opacity="0.11"/>
<circle cx="130.8" cy="175.0" r="0.43" fill="#a01414" opacity="0.37"/>
<circle cx="115.5" cy="133.1" r="0.54" fill="#a01414" opacity="0.39"/>
<circle cx="72.9" cy="182.2" r="0.40" fill="#a01414" opacity="0.22"/>
<circle cx="102.6" cy="126.8" r="0.42" fill="#a01414" opacity="0.36"/>
<circle cx="71.4" cy="170.2" r="0.40" fill="#a01414" opacity="0.15"/>
<circle cx="54.7" cy="124.2" r="0.69" fill="#a01414" opacity="0.19"/>
<circle cx="81.7" cy="118.7" r="0.51" fill="#a01414" opacity="0.22"/>
<circle cx="60.6" cy="115.0" r="0.35" fill="#a01414" opacity="0.35"/>
<circle cx="53.7" cy="128.6" r="0.38" fill="#a01414" opacity="0.19"/>
<circle cx="38.5" cy="112.7" r="0.57" fill="#a01414" opacity="0.20"/>
<circle cx="27.7" cy="163.6" r="0.34" fill="#a01414" opacity="0.18"/>
<circle cx="118.1" cy="119.7" r="0.48" fill="#a01414" opacity="0.35"/>
<circle cx="114.1" cy="122.1" r="0.44" fill="#a01414" opacity="0.32"/>
<circle cx="57.1" cy="182.8" r="0.38" fill="#a01414" opacity="0.39"/>
<circle cx="74.1" cy="127.3" r="0.48" fill="#a01414" opacity="0.14"/>
<circle cx="101.0" cy="129.8" r="0.66" fill="#a01414" opacity="0.28"/>
<circle cx="55.9" cy="128.7" r="0.54" fill="#a01414" opacity="0.16"/>
<circle cx="123.0" cy="119.3" r="0.51" fill="#a01414" opacity="0.26"/>
<circle cx="43.0" cy="168.7" r="0.45" fill="#a01414" opacity="0.30"/>
<circle cx="82.5" cy="133.6" r="0.46" fill="#a01414" opacity="0.13"/>
<circle cx="30.5" cy="174.7" r="0.43" fill="#a01414" opacity="0.30"/>
<circle cx="21.5" cy="152.7" r="0.44" fill="#a01414" opacity="0.25"/>
<circle cx="46.5" cy="115.0" r="0.42" fill="#a01414" opacity="0.17"/>
<circle cx="23.8" cy="164.5" r="0.41" fill="#a01414" opacity="0.22"/>
<circle cx="127.9" cy="168.9" r="0.65" fill="#a01414" opacity="0.36"/>
<circle cx="24.6" cy="131.0" r="0.31" fill="#a01414" opacity="0.30"/>
<circle cx="95.3" cy="136.7" r="0.47" fill="#a01414" opacity="0.30"/>
<circle cx="100.0" cy="128.9" r="0.64" fill="#a01414" opacity="0.21"/>
<circle cx="90.6" cy="123.8" r="0.35" fill="#a01414" opacity="0.37"/>
<circle cx="104.6" cy="164.2" r="0.32" fill="#a01414" opacity="0.11"/>
<circle cx="28.5" cy="125.1" r="0.42" fill="#a01414" opacity="0.21"/>
<circle cx="12.2" cy="133.6" r="0.56" fill="#a01414" opacity="0.15"/>
<circle cx="118.6" cy="153.3" r="0.59" fill="#a01414" opacity="0.18"/>
<circle cx="64.8" cy="162.0" r="0.44" fill="#a01414" opacity="0.10"/>
<circle cx="118.0" cy="169.0" r="0.41" fill="#a01414" opacity="0.11"/>
<circle cx="120.6" cy="156.2" r="0.32" fill="#a01414" opacity="0.17"/>
<circle cx="21.8" cy="170.1" r="0.38" fill="#a01414" opacity="0.37"/>
<circle cx="106.7" cy="116.5" r="0.58" fill="#a01414" opacity="0.22"/>
<circle cx="106.4" cy="173.0" r="0.41" fill="#a01414" opacity="0.13"/>
<circle cx="132.9" cy="142.2" r="0.67" fill="#a01414" opacity="0.31"/>
<circle cx="105.2" cy="173.1" r="0.55" fill="#a01414" opacity="0.24"/>
<circle cx="14.2" cy="163.1" r="0.47" fill="#a01414" opacity="0.25"/>
<circle cx="130.4" cy="119.7" r="0.60" fill="#a01414" opacity="0.11"/>
<circle cx="100.5" cy="171.2" r="0.40" fill="#a01414" opacity="0.26"/>
<circle cx="135.9" cy="158.5" r="0.52" fill="#a01414" opacity="0.17"/>
<circle cx="14.9" cy="137.2" r="0.46" fill="#a01414" opacity="0.16"/>
<circle cx="48.3" cy="120.4" r="0.58" fill="#a01414" opacity="0.30"/>
<circle cx="38.6" cy="128.4" r="0.51" fill="#a01414" opacity="0.23"/>
<circle cx="131.5" cy="136.7" r="0.42" fill="#a01414" opacity="0.37"/>
<circle cx="25.9" cy="152.8" r="0.43" fill="#a01414" opacity="0.34"/>
<circle cx="79.9" cy="167.8" r="0.37" fill="#a01414" opacity="0.30"/>
<circle cx="86.6" cy="145.0" r="0.61" fill="#a01414" opacity="0.35"/>
<circle cx="22.2" cy="132.0" r="0.44" fill="#a01414" opacity="0.16"/>
<circle cx="15.0" cy="131.3" r="0.38" fill="#a01414" opacity="0.31"/>
<circle cx="66.6" cy="118.6" r="0.43" fill="#a01414" opacity="0.24"/>
<circle cx="55.3" cy="122.8" r="0.33" fill="#a01414" opacity="0.10"/>
<circle cx="139.0" cy="167.0" r="0.33" fill="#a01414" opacity="0.32"/>
<circle cx="137.4" cy="152.8" r="0.34" fill="#a01414" opacity="0.25"/>
<circle cx="64.8" cy="124.4" r="0.52" fill="#a01414" opacity="0.10"/>
<circle cx="129.3" cy="159.0" r="0.55" fill="#a01414" opacity="0.38"/>
<circle cx="93.8" cy="129.1" r="0.40" fill="#a01414" opacity="0.14"/>
<circle cx="10.7" cy="168.9" r="0.64" fill="#a01414" opacity="0.19"/>
<circle cx="31.7" cy="158.5" r="0.64" fill="#a01414" opacity="0.38"/>
<circle cx="29.4" cy="169.6" r="0.63" fill="#a01414" opacity="0.32"/>
<circle cx="50.4" cy="124.0" r="0.63" fill="#a01414" opacity="0.20"/>
<circle cx="56.0" cy="151.9" r="0.45" fill="#a01414" opacity="0.35"/>
<circle cx="38.8" cy="113.1" r="0.53" fill="#a01414" opacity="0.29"/>
<circle cx="116.0" cy="163.6" r="0.66" fill="#a01414" opacity="0.38"/>
<circle cx="72.8" cy="148.0" r="0.36" fill="#a01414" opacity="0.19"/>
<circle cx="84.3" cy="116.1" r="0.58" fill="#a01414" opacity="0.15"/>
<circle cx="65.9" cy="183.7" r="0.34" fill="#a01414" opacity="0.11"/>
<circle cx="65.5" cy="124.5" r="0.59" fill="#a01414" opacity="0.10"/>
<circle cx="118.8" cy="175.0" r="0.61" fill="#a01414" opacity="0.23"/>
<circle cx="44.7" cy="160.3" r="0.51" fill="#a01414" opacity="0.23"/>
<circle cx="52.0" cy="143.3" r="0.57" fill="#a01414" opacity="0.35"/>
<circle cx="127.2" cy="122.5" r="0.42" fill="#a01414" opacity="0.23"/>
<circle cx="81.9" cy="136.5" r="0.38" fill="#a01414" opacity="0.13"/>
<circle cx="50.1" cy="145.0" r="0.69" fill="#a01414" opacity="0.37"/>
<circle cx="122.1" cy="184.1" r="0.68" fill="#a01414" opacity="0.29"/>
<circle cx="114.9" cy="114.6" r="0.57" fill="#a01414" opacity="0.28"/>
<circle cx="46.5" cy="153.4" r="0.68" fill="#a01414" opacity="0.24"/>
<circle cx="93.1" cy="132.7" r="0.44" fill="#a01414" opacity="0.37"/>
<circle cx="10.7" cy="124.4" r="0.57" fill="#a01414" opacity="0.23"/>
<circle cx="18.3" cy="160.2" r="0.45" fill="#a01414" opacity="0.27"/>
<circle cx="62.4" cy="150.3" r="0.53" fill="#a01414" opacity="0.22"/>
<circle cx="22.2" cy="123.7" r="0.66" fill="#a01414" opacity="0.26"/>
<circle cx="21.9" cy="175.5" r="0.40" fill="#a01414" opacity="0.13"/>
<circle cx="77.6" cy="129.1" r="0.50" fill="#a01414" opacity="0.27"/>
<circle cx="37.1" cy="153.5" r="0.35" fill="#a01414" opacity="0.25"/>
<circle cx="85.3" cy="116.1" r="0.46" fill="#a01414" opacity="0.12"/>
<circle cx="65.5" cy="175.6" r="0.52" fill="#a01414" opacity="0.31"/>
<circle cx="107.7" cy="118.7" r="0.70" fill="#a01414" opacity="0.32"/>
<circle cx="20.6" cy="173.1" r="0.46" fill="#a01414" opacity="0.15"/>
<circle cx="134.7" cy="152.8" r="0.61" fill="#a01414" opacity="0.14"/>
<circle cx="110.2" cy="114.4" r="0.39" fill="#a01414" opacity="0.21"/>
<circle cx="9.0" cy="155.2" r="0.39" fill="#a01414" opacity="0.19"/>
<circle cx="101.1" cy="142.4" r="0.66" fill="#a01414" opacity="0.29"/>
<circle cx="123.0" cy="152.8" r="0.67" fill="#a01414" opacity="0.36"/>
<circle cx="29.3" cy="166.7" r="0.44" fill="#a01414" opacity="0.33"/>
<circle cx="97.5" cy="172.7" r="0.35" fill="#a01414" opacity="0.21"/>
<circle cx="105.1" cy="182.1" r="0.59" fill="#a01414" opacity="0.11"/>
<circle cx="87.3" cy="117.6" r="0.52" fill="#a01414" opacity="0.34"/>
<circle cx="22.0" cy="180.3" r="0.57" fill="#a01414" opacity="0.18"/>
<circle cx="32.7" cy="144.0" r="0.64" fill="#a01414" opacity="0.27"/>
<circle cx="22.1" cy="111.6" r="0.34" fill="#a01414" opacity="0.34"/>
<circle cx="31.6" cy="152.1" r="0.42" fill="#a01414" opacity="0.31"/>
<circle cx="57.6" cy="33.8" r="0.65" fill="#a01414" opacity="0.23"/>
<circle cx="98.7" cy="92.9" r="0.68" fill="#a01414" opacity="0.10"/>
<circle cx="52.5" cy="34.4" r="0.50" fill="#a01414" opacity="0.32"/>
<circle cx="113.5" cy="24.2" r="0.37" fill="#a01414" opacity="0.30"/>
<circle cx="97.4" cy="55.9" r="0.49" fill="#a01414" opacity="0.14"/>
<circle cx="119.4" cy="56.0" r="0.65" fill="#a01414" opacity="0.25"/>
<circle cx="17.1" cy="50.3" r="0.39" fill="#a01414" opacity="0.32"/>
<circle cx="85.4" cy="24.9" r="0.37" fill="#a01414" opacity="0.19"/>
<circle cx="69.2" cy="72.4" r="0.46" fill="#a01414" opacity="0.19"/>
<circle cx="7.8" cy="72.5" r="0.43" fill="#a01414" opacity="0.11"/>
<circle cx="68.1" cy="108.8" r="0.32" fill="#a01414" opacity="0.14"/>
<circle cx="96.2" cy="45.3" r="0.41" fill="#a01414" opacity="0.23"/>
<circle cx="41.9" cy="71.6" r="0.51" fill="#a01414" opacity="0.34"/>
<circle cx="139.0" cy="24.0" r="0.52" fill="#a01414" opacity="0.29"/>
<circle cx="123.0" cy="89.9" r="0.55" fill="#a01414" opacity="0.26"/>
<circle cx="55.3" cy="46.1" r="0.62" fill="#a01414" opacity="0.32"/>
<circle cx="131.8" cy="81.6" r="0.42" fill="#a01414" opacity="0.29"/>
<circle cx="105.4" cy="66.3" r="0.55" fill="#a01414" opacity="0.19"/>
<circle cx="80.2" cy="57.1" r="0.32" fill="#a01414" opacity="0.18"/>
<circle cx="50.0" cy="109.0" r="0.49" fill="#a01414" opacity="0.19"/>
<circle cx="39.4" cy="41.9" r="0.44" fill="#a01414" opacity="0.13"/>
<circle cx="8.0" cy="98.5" r="0.48" fill="#a01414" opacity="0.21"/>
<circle cx="82.6" cy="47.9" r="0.37" fill="#a01414" opacity="0.12"/>
<circle cx="47.1" cy="48.5" r="0.59" fill="#a01414" opacity="0.24"/>
<circle cx="131.7" cy="51.3" r="0.67" fill="#a01414" opacity="0.25"/>
<circle cx="17.6" cy="36.9" r="0.53" fill="#a01414" opacity="0.35"/>
<circle cx="54.5" cy="89.9" r="0.47" fill="#a01414" opacity="0.32"/>
<circle cx="16.0" cy="64.1" r="0.66" fill="#a01414" opacity="0.17"/>
<circle cx="41.3" cy="23.1" r="0.37" fill="#a01414" opacity="0.17"/>
<circle cx="100.7" cy="40.4" r="0.46" fill="#a01414" opacity="0.15"/>
<circle cx="87.2" cy="97.9" r="0.56" fill="#a01414" opacity="0.15"/>
<circle cx="104.6" cy="106.7" r="0.54" fill="#a01414" opacity="0.12"/>
<circle cx="114.7" cy="98.9" r="0.44" fill="#a01414" opacity="0.13"/>
<circle cx="32.0" cy="68.8" r="0.65" fill="#a01414" opacity="0.26"/>
<circle cx="129.7" cy="39.9" r="0.43" fill="#a01414" opacity="0.29"/>
<circle cx="93.3" cy="57.1" r="0.57" fill="#a01414" opacity="0.18"/>
<circle cx="14.6" cy="57.9" r="0.32" fill="#a01414" opacity="0.26"/>
<circle cx="51.5" cy="65.0" r="0.54" fill="#a01414" opacity="0.16"/>
<circle cx="68.6" cy="22.2" r="0.67" fill="#a01414" opacity="0.24"/>
<circle cx="138.3" cy="26.0" r="0.55" fill="#a01414" opacity="0.28"/>
<circle cx="50.8" cy="29.3" r="0.36" fill="#a01414" opacity="0.14"/>
<circle cx="109.0" cy="29.0" r="0.63" fill="#a01414" opacity="0.21"/>
<circle cx="78.6" cy="73.4" r="0.52" fill="#a01414" opacity="0.26"/>
<circle cx="87.0" cy="50.4" r="0.60" fill="#a01414" opacity="0.16"/>
<circle cx="101.6" cy="88.9" r="0.61" fill="#a01414" opacity="0.18"/>
<circle cx="109.8" cy="108.0" r="0.48" fill="#a01414" opacity="0.17"/>
<circle cx="76.6" cy="104.7" r="0.35" fill="#a01414" opacity="0.10"/>
<circle cx="70.3" cy="79.3" r="0.61" fill="#a01414" opacity="0.19"/>
<circle cx="138.6" cy="41.3" r="0.60" fill="#a01414" opacity="0.12"/>
<circle cx="10.7" cy="32.9" r="0.32" fill="#a01414" opacity="0.23"/>
<circle cx="80.8" cy="37.2" r="0.68" fill="#a01414" opacity="0.19"/>
<circle cx="26.9" cy="36.8" r="0.60" fill="#a01414" opacity="0.33"/>
<circle cx="28.6" cy="23.6" r="0.61" fill="#a01414" opacity="0.16"/>
<circle cx="137.7" cy="65.4" r="0.55" fill="#a01414" opacity="0.19"/>
<circle cx="113.5" cy="61.9" r="0.43" fill="#a01414" opacity="0.33"/>
<circle cx="21.3" cy="86.3" r="0.33" fill="#a01414" opacity="0.26"/>
<circle cx="60.4" cy="97.9" r="0.32" fill="#a01414" opacity="0.24"/>
<circle cx="61.5" cy="102.8" r="0.68" fill="#a01414" opacity="0.26"/>
<circle cx="36.8" cy="43.4" r="0.40" fill="#a01414" opacity="0.21"/>
<circle cx="37.8" cy="39.1" r="0.60" fill="#a01414" opacity="0.26"/>
<circle cx="46.7" cy="109.5" r="0.39" fill="#a01414" opacity="0.24"/>
<circle cx="27.8" cy="97.8" r="0.65" fill="#a01414" opacity="0.17"/>
<circle cx="107.0" cy="94.2" r="0.41" fill="#a01414" opacity="0.18"/>
<circle cx="71.6" cy="100.3" r="0.36" fill="#a01414" opacity="0.27"/>
<circle cx="86.5" cy="61.3" r="0.53" fill="#a01414" opacity="0.32"/>
<circle cx="34.9" cy="99.6" r="0.44" fill="#a01414" opacity="0.29"/>
<circle cx="121.8" cy="37.2" r="0.65" fill="#a01414" opacity="0.35"/>
<circle cx="46.6" cy="23.2" r="0.34" fill="#a01414" opacity="0.34"/>
<circle cx="8.3" cy="102.1" r="0.36" fill="#a01414" opacity="0.28"/>
<circle cx="20.0" cy="36.0" r="0.57" fill="#a01414" opacity="0.12"/>
<circle cx="52.2" cy="102.7" r="0.59" fill="#a01414" opacity="0.32"/>
<circle cx="137.3" cy="23.9" r="0.39" fill="#a01414" opacity="0.30"/>
<circle cx="98.7" cy="24.4" r="0.50" fill="#a01414" opacity="0.16"/>
<circle cx="64.3" cy="30.3" r="0.31" fill="#a01414" opacity="0.35"/>
<circle cx="49.1" cy="99.2" r="0.35" fill="#a01414" opacity="0.22"/>
<circle cx="25.1" cy="59.1" r="0.37" fill="#a01414" opacity="0.27"/>
<circle cx="26.7" cy="86.7" r="0.50" fill="#a01414" opacity="0.13"/>
<circle cx="54.0" cy="65.2" r="0.67" fill="#a01414" opacity="0.19"/>
<circle cx="35.6" cy="107.1" r="0.65" fill="#a01414" opacity="0.28"/>
<circle cx="43.3" cy="36.8" r="0.41" fill="#a01414" opacity="0.12"/>
<circle cx="12.7" cy="66.3" r="0.46" fill="#a01414" opacity="0.24"/>
<circle cx="55.2" cy="21.9" r="0.58" fill="#a01414" opacity="0.26"/>
<circle cx="79.3" cy="69.8" r="0.58" fill="#a01414" opacity="0.35"/>
<circle cx="123.3" cy="84.9" r="0.46" fill="#a01414" opacity="0.18"/>
<circle cx="62.7" cy="107.6" r="0.45" fill="#a01414" opacity="0.20"/>
<circle cx="61.5" cy="33.7" r="0.70" fill="#a01414" opacity="0.10"/>
<circle cx="87.8" cy="103.4" r="0.40" fill="#a01414" opacity="0.25"/>
<circle cx="57.1" cy="42.4" r="0.38" fill="#a01414" opacity="0.13"/>
<circle cx="119.1" cy="90.8" r="0.66" fill="#a01414" opacity="0.11"/>
<circle cx="99.3" cy="49.9" r="0.56" fill="#a01414" opacity="0.24"/>
<circle cx="49.0" cy="107.5" r="0.30" fill="#a01414" opacity="0.29"/>
<circle cx="120.5" cy="66.4" r="0.54" fill="#a01414" opacity="0.35"/>
<circle cx="38.2" cy="77.0" r="0.60" fill="#a01414" opacity="0.19"/>
<circle cx="101.7" cy="56.0" r="0.51" fill="#a01414" opacity="0.25"/>
<circle cx="97.1" cy="49.7" r="0.55" fill="#a01414" opacity="0.24"/>
<circle cx="36.7" cy="75.5" r="0.41" fill="#a01414" opacity="0.33"/>
<circle cx="69.9" cy="85.2" r="0.51" fill="#a01414" opacity="0.22"/>
<circle cx="36.4" cy="33.6" r="0.67" fill="#a01414" opacity="0.23"/>
<circle cx="76.7" cy="67.9" r="0.63" fill="#a01414" opacity="0.16"/>
<circle cx="29.9" cy="94.1" r="0.48" fill="#a01414" opacity="0.26"/>
<circle cx="117.1" cy="100.6" r="0.65" fill="#a01414" opacity="0.11"/>
<circle cx="57.7" cy="95.1" r="0.63" fill="#a01414" opacity="0.13"/>
<circle cx="27.5" cy="43.4" r="0.34" fill="#a01414" opacity="0.19"/>
<circle cx="113.8" cy="67.4" r="0.48" fill="#a01414" opacity="0.12"/>
<circle cx="59.6" cy="109.7" r="0.58" fill="#a01414" opacity="0.21"/>
<circle cx="70.6" cy="92.0" r="0.60" fill="#a01414" opacity="0.14"/>
<circle cx="97.5" cy="53.7" r="0.51" fill="#a01414" opacity="0.16"/>
<circle cx="56.3" cy="51.3" r="0.45" fill="#a01414" opacity="0.10"/>
<circle cx="33.7" cy="71.8" r="0.32" fill="#a01414" opacity="0.14"/>
<circle cx="102.5" cy="45.4" r="0.43" fill="#a01414" opacity="0.16"/>
<circle cx="117.9" cy="29.1" r="0.55" fill="#a01414" opacity="0.31"/>
<circle cx="33.8" cy="58.7" r="0.62" fill="#a01414" opacity="0.25"/>
<circle cx="56.4" cy="24.9" r="0.48" fill="#a01414" opacity="0.19"/>
<circle cx="101.8" cy="47.3" r="0.46" fill="#a01414" opacity="0.26"/>
<circle cx="114.8" cy="52.4" r="0.45" fill="#a01414" opacity="0.24"/>
<circle cx="130.0" cy="38.1" r="0.69" fill="#a01414" opacity="0.28"/>
<circle cx="56.5" cy="80.2" r="0.43" fill="#a01414" opacity="0.12"/>
<circle cx="107.6" cy="54.8" r="0.51" fill="#a01414" opacity="0.22"/>
<circle cx="126.9" cy="88.4" r="0.31" fill="#a01414" opacity="0.25"/>
<circle cx="68.5" cy="62.1" r="0.64" fill="#a01414" opacity="0.20"/>
<circle cx="70.0" cy="100.2" r="0.48" fill="#a01414" opacity="0.22"/>
<circle cx="75.1" cy="94.4" r="0.57" fill="#a01414" opacity="0.29"/>
<circle cx="60.4" cy="24.6" r="0.57" fill="#a01414" opacity="0.24"/>
<circle cx="109.3" cy="89.5" r="0.35" fill="#a01414" opacity="0.16"/>
<circle cx="17.3" cy="93.8" r="0.34" fill="#a01414" opacity="0.12"/>
<circle cx="107.2" cy="71.2" r="0.32" fill="#a01414" opacity="0.27"/>
<circle cx="101.6" cy="64.0" r="0.32" fill="#a01414" opacity="0.27"/>
<circle cx="62.6" cy="73.0" r="0.70" fill="#a01414" opacity="0.30"/>
<circle cx="123.0" cy="34.0" r="0.43" fill="#a01414" opacity="0.23"/>
<circle cx="7.8" cy="109.0" r="0.41" fill="#a01414" opacity="0.17"/>
<circle cx="48.6" cy="43.7" r="0.64" fill="#a01414" opacity="0.24"/>
<circle cx="75.0" cy="58.4" r="0.32" fill="#a01414" opacity="0.18"/>
<circle cx="122.3" cy="92.4" r="0.64" fill="#a01414" opacity="0.16"/>
<circle cx="33.9" cy="25.6" r="0.51" fill="#a01414" opacity="0.19"/>
<circle cx="68.7" cy="64.5" r="0.53" fill="#a01414" opacity="0.19"/>
<circle cx="113.6" cy="38.8" r="0.67" fill="#a01414" opacity="0.24"/>
<circle cx="13.8" cy="49.0" r="0.51" fill="#a01414" opacity="0.20"/>
<circle cx="82.1" cy="49.8" r="0.41" fill="#a01414" opacity="0.30"/>
<circle cx="45.8" cy="84.2" r="0.62" fill="#a01414" opacity="0.25"/>
<circle cx="67.5" cy="104.2" r="0.48" fill="#a01414" opacity="0.32"/>
<circle cx="14.7" cy="59.6" r="0.56" fill="#a01414" opacity="0.11"/>
<circle cx="121.7" cy="27.4" r="0.54" fill="#a01414" opacity="0.15"/>
<circle cx="129.7" cy="70.9" r="0.62" fill="#a01414" opacity="0.22"/>
<circle cx="96.6" cy="81.1" r="0.42" fill="#a01414" opacity="0.15"/>
<circle cx="118.5" cy="34.0" r="0.67" fill="#a01414" opacity="0.15"/>
<circle cx="20.4" cy="29.5" r="0.61" fill="#a01414" opacity="0.34"/>
<circle cx="62.2" cy="79.6" r="0.40" fill="#a01414" opacity="0.33"/>
<circle cx="98.2" cy="34.8" r="0.32" fill="#a01414" opacity="0.27"/>
<circle cx="12.6" cy="95.4" r="0.42" fill="#a01414" opacity="0.16"/>
<circle cx="84.4" cy="49.4" r="0.52" fill="#a01414" opacity="0.14"/>
<circle cx="67.7" cy="25.9" r="0.89" fill="#f0281c" opacity="0.60"/>
<circle cx="69.5" cy="26.6" r="0.72" fill="#f0281c" opacity="0.45"/>
<circle cx="69.9" cy="28.2" r="0.55" fill="#f0281c" opacity="0.81"/>
<circle cx="70.8" cy="30.6" r="0.71" fill="#f0281c" opacity="0.55"/>
<circle cx="70.7" cy="32.2" r="0.54" fill="#f0281c" opacity="0.64"/>
<circle cx="70.9" cy="33.3" r="0.56" fill="#f0281c" opacity="0.54"/>
<circle cx="70.8" cy="36.6" r="0.51" fill="#f0281c" opacity="0.70"/>
<circle cx="71.4" cy="39.1" r="0.52" fill="#f0281c" opacity="0.57"/>
<circle cx="71.3" cy="41.2" r="0.82" fill="#f0281c" opacity="0.55"/>
<circle cx="70.9" cy="43.6" r="0.82" fill="#f0281c" opacity="0.70"/>
<circle cx="71.1" cy="49.5" r="0.65" fill="#f0281c" opacity="0.73"/>
<circle cx="71.3" cy="51.6" r="0.84" fill="#f0281c" opacity="0.84"/>
<circle cx="70.6" cy="53.5" r="0.55" fill="#f0281c" opacity="0.65"/>
<circle cx="70.8" cy="55.0" r="0.71" fill="#f0281c" opacity="0.65"/>
<circle cx="70.6" cy="57.0" r="0.55" fill="#f0281c" opacity="0.52"/>
<circle cx="70.8" cy="58.8" r="0.88" fill="#f0281c" opacity="0.64"/>
<circle cx="70.4" cy="61.5" r="0.80" fill="#f0281c" opacity="0.48"/>
<circle cx="69.6" cy="66.7" r="0.53" fill="#f0281c" opacity="0.69"/>
<circle cx="69.7" cy="68.5" r="0.52" fill="#f0281c" opacity="0.52"/>
<circle cx="68.9" cy="70.4" r="0.78" fill="#f0281c" opacity="0.81"/>
<circle cx="68.9" cy="73.1" r="0.50" fill="#f0281c" opacity="0.87"/>
<circle cx="68.3" cy="74.6" r="0.79" fill="#f0281c" opacity="0.74"/>
<circle cx="68.0" cy="76.6" r="0.59" fill="#f0281c" opacity="0.57"/>
<circle cx="68.2" cy="78.3" r="0.70" fill="#f0281c" opacity="0.79"/>
<circle cx="67.7" cy="80.7" r="0.75" fill="#f0281c" opacity="0.82"/>
<circle cx="66.8" cy="86.3" r="0.77" fill="#f0281c" opacity="0.77"/>
<circle cx="67.1" cy="88.6" r="0.80" fill="#f0281c" opacity="0.82"/>
<circle cx="66.5" cy="90.4" r="0.81" fill="#f0281c" opacity="0.84"/>
<circle cx="66.4" cy="92.9" r="0.55" fill="#f0281c" opacity="0.88"/>
<circle cx="66.5" cy="94.3" r="0.58" fill="#f0281c" opacity="0.63"/>
<circle cx="66.4" cy="97.1" r="0.78" fill="#f0281c" opacity="0.60"/>
<circle cx="66.1" cy="99.3" r="0.83" fill="#f0281c" opacity="0.60"/>
<circle cx="66.1" cy="101.6" r="0.74" fill="#f0281c" opacity="0.82"/>
<circle cx="65.7" cy="108.1" r="0.68" fill="#f0281c" opacity="0.57"/>
<circle cx="65.9" cy="110.0" r="0.62" fill="#f0281c" opacity="0.44"/>
<circle cx="65.6" cy="112.0" r="0.82" fill="#f0281c" opacity="0.46"/>
<circle cx="65.5" cy="116.6" r="0.64" fill="#f0281c" opacity="0.51"/>
<circle cx="66.0" cy="118.8" r="0.70" fill="#f0281c" opacity="0.88"/>
<circle cx="65.5" cy="121.7" r="0.56" fill="#f0281c" opacity="0.66"/>
<circle cx="66.1" cy="123.6" r="0.82" fill="#f0281c" opacity="0.53"/>
<circle cx="65.9" cy="125.4" r="0.71" fill="#f0281c" opacity="0.59"/>
<circle cx="66.0" cy="127.0" r="0.75" fill="#f0281c" opacity="0.62"/>
<circle cx="66.1" cy="130.1" r="0.65" fill="#f0281c" opacity="0.66"/>
<circle cx="66.1" cy="132.8" r="0.89" fill="#f0281c" opacity="0.43"/>
<circle cx="66.3" cy="135.3" r="0.80" fill="#f0281c" opacity="0.85"/>
<circle cx="66.1" cy="137.7" r="0.55" fill="#f0281c" opacity="0.88"/>
<circle cx="66.6" cy="140.4" r="0.52" fill="#f0281c" opacity="0.60"/>
<circle cx="66.6" cy="143.1" r="0.62" fill="#f0281c" opacity="0.67"/>
<circle cx="67.0" cy="145.7" r="0.77" fill="#f0281c" opacity="0.59"/>
<circle cx="67.2" cy="147.4" r="0.56" fill="#f0281c" opacity="0.69"/>
<circle cx="67.2" cy="149.9" r="0.71" fill="#f0281c" opacity="0.84"/>
<circle cx="67.2" cy="152.6" r="0.52" fill="#f0281c" opacity="0.55"/>
<circle cx="67.9" cy="154.5" r="0.62" fill="#f0281c" opacity="0.87"/>
<circle cx="67.7" cy="156.4" r="0.60" fill="#f0281c" opacity="0.60"/>
<circle cx="67.7" cy="158.4" r="0.86" fill="#f0281c" opacity="0.63"/>
<circle cx="68.2" cy="160.4" r="0.56" fill="#f0281c" opacity="0.78"/>
<circle cx="68.4" cy="163.5" r="0.61" fill="#f0281c" opacity="0.58"/>
<circle cx="68.3" cy="165.7" r="0.60" fill="#f0281c" opacity="0.79"/>
<circle cx="68.7" cy="168.5" r="0.88" fill="#f0281c" opacity="0.53"/>
<circle cx="69.0" cy="172.0" r="0.82" fill="#f0281c" opacity="0.46"/>
<circle cx="69.4" cy="174.4" r="0.78" fill="#f0281c" opacity="0.79"/>
<circle cx="69.4" cy="176.4" r="0.66" fill="#f0281c" opacity="0.80"/>
<circle cx="69.7" cy="178.6" r="0.71" fill="#f0281c" opacity="0.73"/>
<circle cx="69.5" cy="180.2" r="0.67" fill="#f0281c" opacity="0.65"/>
<circle cx="69.8" cy="183.0" r="0.73" fill="#f0281c" opacity="0.54"/>
<circle cx="70.2" cy="185.2" r="0.77" fill="#f0281c" opacity="0.78"/>
<circle cx="65.5" cy="25.9" r="0.76" fill="#f0281c" opacity="0.84"/>
<circle cx="64.4" cy="27.9" r="0.61" fill="#f0281c" opacity="0.43"/>
<circle cx="63.5" cy="29.5" r="0.59" fill="#f0281c" opacity="0.45"/>
<circle cx="63.4" cy="31.9" r="0.78" fill="#f0281c" opacity="0.44"/>
<circle cx="62.5" cy="34.3" r="0.56" fill="#f0281c" opacity="0.54"/>
<circle cx="62.6" cy="36.9" r="0.52" fill="#f0281c" opacity="0.81"/>
<circle cx="62.5" cy="38.2" r="0.63" fill="#f0281c" opacity="0.68"/>
<circle cx="62.1" cy="40.2" r="0.82" fill="#f0281c" opacity="0.67"/>
<circle cx="61.8" cy="41.7" r="0.67" fill="#f0281c" opacity="0.43"/>
<circle cx="62.1" cy="43.3" r="0.70" fill="#f0281c" opacity="0.69"/>
<circle cx="62.4" cy="45.8" r="0.88" fill="#f0281c" opacity="0.56"/>
<circle cx="62.1" cy="50.3" r="0.78" fill="#f0281c" opacity="0.63"/>
<circle cx="62.2" cy="52.1" r="0.58" fill="#f0281c" opacity="0.77"/>
<circle cx="62.2" cy="54.4" r="0.58" fill="#f0281c" opacity="0.53"/>
<circle cx="63.0" cy="56.5" r="0.88" fill="#f0281c" opacity="0.86"/>
<circle cx="62.6" cy="58.2" r="0.51" fill="#f0281c" opacity="0.83"/>
<circle cx="63.0" cy="60.9" r="0.57" fill="#f0281c" opacity="0.72"/>
<circle cx="63.2" cy="63.2" r="0.64" fill="#f0281c" opacity="0.85"/>
<circle cx="63.7" cy="66.0" r="0.56" fill="#f0281c" opacity="0.79"/>
<circle cx="64.6" cy="68.8" r="0.69" fill="#f0281c" opacity="0.81"/>
<circle cx="64.7" cy="70.5" r="0.58" fill="#f0281c" opacity="0.53"/>
<circle cx="65.1" cy="72.3" r="0.89" fill="#f0281c" opacity="0.62"/>
<circle cx="65.4" cy="73.7" r="0.55" fill="#f0281c" opacity="0.41"/>
<circle cx="65.5" cy="75.8" r="0.83" fill="#f0281c" opacity="0.79"/>
<circle cx="65.8" cy="79.6" r="0.75" fill="#f0281c" opacity="0.84"/>
<circle cx="66.3" cy="82.2" r="0.86" fill="#f0281c" opacity="0.59"/>
<circle cx="66.5" cy="84.5" r="0.68" fill="#f0281c" opacity="0.69"/>
<circle cx="67.0" cy="86.1" r="0.79" fill="#f0281c" opacity="0.43"/>
<circle cx="67.4" cy="88.9" r="0.60" fill="#f0281c" opacity="0.72"/>
<circle cx="67.3" cy="91.3" r="0.74" fill="#f0281c" opacity="0.43"/>
<circle cx="67.7" cy="93.5" r="0.82" fill="#f0281c" opacity="0.81"/>
<circle cx="67.8" cy="95.1" r="0.89" fill="#f0281c" opacity="0.80"/>
<circle cx="87.6" cy="21.9" r="0.76" fill="#f0281c" opacity="0.86"/>
<circle cx="86.7" cy="24.5" r="0.54" fill="#f0281c" opacity="0.89"/>
<circle cx="86.8" cy="26.1" r="0.70" fill="#f0281c" opacity="0.45"/>
<circle cx="86.5" cy="28.2" r="0.84" fill="#f0281c" opacity="0.68"/>
<circle cx="85.9" cy="30.9" r="0.82" fill="#f0281c" opacity="0.44"/>
<circle cx="85.3" cy="33.0" r="0.50" fill="#f0281c" opacity="0.77"/>
<circle cx="85.4" cy="34.7" r="0.55" fill="#f0281c" opacity="0.73"/>
<circle cx="84.7" cy="36.6" r="0.72" fill="#f0281c" opacity="0.58"/>
<circle cx="85.0" cy="38.6" r="0.54" fill="#f0281c" opacity="0.58"/>
<circle cx="84.4" cy="39.9" r="0.89" fill="#f0281c" opacity="0.78"/>
<circle cx="84.4" cy="43.2" r="0.68" fill="#f0281c" opacity="0.60"/>
<circle cx="84.5" cy="44.8" r="0.82" fill="#f0281c" opacity="0.86"/>
<circle cx="83.7" cy="46.8" r="0.84" fill="#f0281c" opacity="0.62"/>
<circle cx="84.2" cy="49.4" r="0.78" fill="#f0281c" opacity="0.53"/>
<circle cx="83.5" cy="51.9" r="0.68" fill="#f0281c" opacity="0.89"/>
<circle cx="83.7" cy="54.3" r="0.90" fill="#f0281c" opacity="0.78"/>
<circle cx="83.3" cy="56.2" r="0.59" fill="#f0281c" opacity="0.84"/>
<circle cx="83.4" cy="58.8" r="0.86" fill="#f0281c" opacity="0.80"/>
<circle cx="83.3" cy="61.2" r="0.75" fill="#f0281c" opacity="0.58"/>
<circle cx="82.7" cy="63.5" r="0.76" fill="#f0281c" opacity="0.67"/>
<circle cx="83.1" cy="65.7" r="0.89" fill="#f0281c" opacity="0.44"/>
<circle cx="82.9" cy="67.8" r="0.60" fill="#f0281c" opacity="0.76"/>
<circle cx="82.5" cy="70.3" r="0.78" fill="#f0281c" opacity="0.77"/>
<circle cx="82.1" cy="72.8" r="0.78" fill="#f0281c" opacity="0.50"/>
<circle cx="82.2" cy="75.9" r="0.76" fill="#f0281c" opacity="0.70"/>
<circle cx="81.7" cy="77.5" r="0.51" fill="#f0281c" opacity="0.58"/>
<circle cx="81.8" cy="80.6" r="0.78" fill="#f0281c" opacity="0.54"/>
<circle cx="81.3" cy="82.0" r="0.66" fill="#f0281c" opacity="0.74"/>
<circle cx="81.2" cy="84.8" r="0.64" fill="#f0281c" opacity="0.82"/>
<circle cx="81.1" cy="86.7" r="0.82" fill="#f0281c" opacity="0.74"/>
<circle cx="80.7" cy="90.0" r="0.73" fill="#f0281c" opacity="0.73"/>
<circle cx="80.5" cy="92.0" r="0.65" fill="#f0281c" opacity="0.73"/>
<circle cx="80.2" cy="93.1" r="0.84" fill="#f0281c" opacity="0.47"/>
<circle cx="80.4" cy="95.5" r="0.82" fill="#f0281c" opacity="0.53"/>
<circle cx="79.8" cy="98.1" r="0.82" fill="#f0281c" opacity="0.54"/>
<circle cx="79.7" cy="100.2" r="0.59" fill="#f0281c" opacity="0.59"/>
<circle cx="79.9" cy="103.0" r="0.52" fill="#f0281c" opacity="0.73"/>
<circle cx="79.6" cy="104.8" r="0.55" fill="#f0281c" opacity="0.63"/>
<circle cx="80.0" cy="109.5" r="0.68" fill="#f0281c" opacity="0.46"/>
<circle cx="80.3" cy="112.0" r="0.72" fill="#f0281c" opacity="0.44"/>
<circle cx="80.5" cy="113.4" r="0.88" fill="#f0281c" opacity="0.83"/>
<circle cx="80.7" cy="115.0" r="0.57" fill="#f0281c" opacity="0.83"/>
<circle cx="81.0" cy="118.9" r="0.53" fill="#f0281c" opacity="0.63"/>
<circle cx="81.3" cy="120.8" r="0.55" fill="#f0281c" opacity="0.89"/>
<circle cx="81.1" cy="123.1" r="0.71" fill="#f0281c" opacity="0.41"/>
<circle cx="81.6" cy="125.0" r="0.70" fill="#f0281c" opacity="0.70"/>
<circle cx="82.0" cy="127.6" r="0.80" fill="#f0281c" opacity="0.83"/>
<circle cx="81.7" cy="129.3" r="0.74" fill="#f0281c" opacity="0.85"/>
<circle cx="81.8" cy="131.4" r="0.56" fill="#f0281c" opacity="0.50"/>
<circle cx="82.5" cy="132.8" r="0.77" fill="#f0281c" opacity="0.41"/>
<circle cx="82.4" cy="135.3" r="0.88" fill="#f0281c" opacity="0.65"/>
<circle cx="82.3" cy="138.1" r="0.58" fill="#f0281c" opacity="0.90"/>
<circle cx="83.0" cy="140.2" r="0.66" fill="#f0281c" opacity="0.57"/>
<circle cx="83.2" cy="144.7" r="0.74" fill="#f0281c" opacity="0.53"/>
<circle cx="83.3" cy="146.8" r="0.60" fill="#f0281c" opacity="0.46"/>
<circle cx="83.0" cy="149.1" r="0.73" fill="#f0281c" opacity="0.84"/>
<circle cx="83.2" cy="151.7" r="0.68" fill="#f0281c" opacity="0.60"/>
<circle cx="83.8" cy="153.5" r="0.61" fill="#f0281c" opacity="0.87"/>
<circle cx="83.5" cy="157.5" r="0.62" fill="#f0281c" opacity="0.88"/>
<circle cx="84.0" cy="160.2" r="0.82" fill="#f0281c" opacity="0.73"/>
<circle cx="84.0" cy="162.9" r="0.73" fill="#f0281c" opacity="0.80"/>
<circle cx="84.2" cy="164.8" r="0.86" fill="#f0281c" opacity="0.69"/>
<circle cx="84.4" cy="167.8" r="0.65" fill="#f0281c" opacity="0.66"/>
<circle cx="84.9" cy="172.2" r="0.82" fill="#f0281c" opacity="0.40"/>
<circle cx="85.2" cy="174.4" r="0.57" fill="#f0281c" opacity="0.88"/>
<circle cx="85.2" cy="176.8" r="0.58" fill="#f0281c" opacity="0.60"/>
<circle cx="85.3" cy="179.2" r="0.64" fill="#f0281c" opacity="0.73"/>
<circle cx="85.5" cy="181.7" r="0.61" fill="#f0281c" opacity="0.42"/>
<circle cx="85.8" cy="183.9" r="0.73" fill="#f0281c" opacity="0.87"/>
<circle cx="86.1" cy="185.7" r="0.57" fill="#f0281c" opacity="0.64"/>
<circle cx="111.9" cy="65.1" r="0.81" fill="#f0281c" opacity="0.82"/>
<circle cx="112.5" cy="67.4" r="0.58" fill="#f0281c" opacity="0.78"/>
<circle cx="113.1" cy="69.6" r="0.84" fill="#f0281c" opacity="0.84"/>
<circle cx="112.9" cy="71.3" r="0.79" fill="#f0281c" opacity="0.54"/>
<circle cx="113.6" cy="75.0" r="0.61" fill="#f0281c" opacity="0.76"/>
<circle cx="115.1" cy="79.1" r="0.63" fill="#f0281c" opacity="0.66"/>
<circle cx="115.1" cy="80.7" r="0.52" fill="#f0281c" opacity="0.44"/>
<circle cx="115.7" cy="84.5" r="0.79" fill="#f0281c" opacity="0.57"/>
<circle cx="116.6" cy="86.4" r="0.52" fill="#f0281c" opacity="0.48"/>
<circle cx="116.8" cy="88.2" r="0.82" fill="#f0281c" opacity="0.80"/>
<circle cx="117.0" cy="91.1" r="0.82" fill="#f0281c" opacity="0.80"/>
<circle cx="117.9" cy="94.4" r="0.73" fill="#f0281c" opacity="0.45"/>
<circle cx="118.6" cy="96.9" r="0.71" fill="#f0281c" opacity="0.76"/>
<circle cx="119.0" cy="99.3" r="0.76" fill="#f0281c" opacity="0.75"/>
<circle cx="119.2" cy="100.9" r="0.77" fill="#f0281c" opacity="0.53"/>
<circle cx="119.7" cy="103.6" r="0.79" fill="#f0281c" opacity="0.88"/>
<circle cx="119.3" cy="105.4" r="0.52" fill="#f0281c" opacity="0.70"/>
<circle cx="119.3" cy="109.3" r="0.68" fill="#f0281c" opacity="0.50"/>
<circle cx="118.7" cy="110.9" r="0.79" fill="#f0281c" opacity="0.66"/>
<circle cx="118.1" cy="112.5" r="0.69" fill="#f0281c" opacity="0.53"/>
<circle cx="117.8" cy="115.2" r="0.78" fill="#f0281c" opacity="0.79"/>
<circle cx="117.8" cy="117.6" r="0.75" fill="#f0281c" opacity="0.45"/>
<circle cx="116.9" cy="119.1" r="0.89" fill="#f0281c" opacity="0.85"/>
<circle cx="116.8" cy="121.3" r="0.53" fill="#f0281c" opacity="0.78"/>
<circle cx="116.1" cy="122.9" r="0.54" fill="#f0281c" opacity="0.88"/>
<circle cx="116.1" cy="125.3" r="0.54" fill="#f0281c" opacity="0.44"/>
<circle cx="115.8" cy="126.9" r="0.57" fill="#f0281c" opacity="0.78"/>
<circle cx="115.0" cy="128.6" r="0.89" fill="#f0281c" opacity="0.46"/>
<circle cx="115.1" cy="131.4" r="0.69" fill="#f0281c" opacity="0.88"/>
<circle cx="114.5" cy="133.0" r="0.79" fill="#f0281c" opacity="0.46"/>
<circle cx="113.7" cy="135.4" r="0.64" fill="#f0281c" opacity="0.52"/>
<circle cx="114.0" cy="136.6" r="0.84" fill="#f0281c" opacity="0.56"/>
<circle cx="113.2" cy="138.3" r="0.67" fill="#f0281c" opacity="0.81"/>
<circle cx="112.7" cy="140.2" r="0.74" fill="#f0281c" opacity="0.85"/>
<circle cx="112.8" cy="142.5" r="0.61" fill="#f0281c" opacity="0.58"/>
<circle cx="112.0" cy="144.5" r="0.59" fill="#f0281c" opacity="0.85"/>
<circle cx="127.7" cy="49.7" r="0.87" fill="#f0281c" opacity="0.80"/>
<circle cx="128.5" cy="52.4" r="0.60" fill="#f0281c" opacity="0.73"/>
<circle cx="129.0" cy="54.6" r="0.63" fill="#f0281c" opacity="0.81"/>
<circle cx="130.2" cy="57.0" r="0.56" fill="#f0281c" opacity="0.87"/>
<circle cx="130.6" cy="58.1" r="0.85" fill="#f0281c" opacity="0.67"/>
<circle cx="131.5" cy="60.9" r="0.85" fill="#f0281c" opacity="0.51"/>
<circle cx="131.6" cy="62.8" r="0.51" fill="#f0281c" opacity="0.80"/>
<circle cx="132.6" cy="66.8" r="0.66" fill="#f0281c" opacity="0.80"/>
<circle cx="133.2" cy="68.5" r="0.69" fill="#f0281c" opacity="0.85"/>
<circle cx="133.7" cy="70.7" r="0.54" fill="#f0281c" opacity="0.69"/>
<circle cx="133.8" cy="73.0" r="0.85" fill="#f0281c" opacity="0.73"/>
<circle cx="134.1" cy="75.9" r="0.78" fill="#f0281c" opacity="0.46"/>
<circle cx="134.8" cy="80.2" r="0.54" fill="#f0281c" opacity="0.66"/>
<circle cx="134.8" cy="82.2" r="0.80" fill="#f0281c" opacity="0.80"/>
<circle cx="135.5" cy="84.7" r="0.65" fill="#f0281c" opacity="0.75"/>
<circle cx="135.1" cy="86.6" r="0.79" fill="#f0281c" opacity="0.49"/>
<circle cx="135.5" cy="88.9" r="0.88" fill="#f0281c" opacity="0.90"/>
<circle cx="135.3" cy="91.5" r="0.72" fill="#f0281c" opacity="0.78"/>
<circle cx="135.9" cy="93.1" r="0.51" fill="#f0281c" opacity="0.65"/>
<circle cx="136.1" cy="95.9" r="0.87" fill="#f0281c" opacity="0.68"/>
<circle cx="136.1" cy="98.4" r="0.74" fill="#f0281c" opacity="0.53"/>
<circle cx="136.0" cy="99.9" r="0.54" fill="#f0281c" opacity="0.40"/>
<circle cx="136.2" cy="101.8" r="0.60" fill="#f0281c" opacity="0.66"/>
<circle cx="136.5" cy="103.8" r="0.73" fill="#f0281c" opacity="0.76"/>
<circle cx="136.5" cy="105.4" r="0.84" fill="#f0281c" opacity="0.86"/>
<circle cx="136.5" cy="107.5" r="0.53" fill="#f0281c" opacity="0.80"/>
<circle cx="136.6" cy="109.6" r="0.90" fill="#f0281c" opacity="0.57"/>
<circle cx="136.6" cy="111.6" r="0.66" fill="#f0281c" opacity="0.71"/>
<circle cx="136.8" cy="113.9" r="0.58" fill="#f0281c" opacity="0.56"/>
<circle cx="137.2" cy="115.8" r="0.89" fill="#f0281c" opacity="0.64"/>
<circle cx="137.2" cy="118.1" r="0.56" fill="#f0281c" opacity="0.48"/>
<circle cx="137.9" cy="120.5" r="0.64" fill="#f0281c" opacity="0.61"/>
<circle cx="137.7" cy="122.1" r="0.85" fill="#f0281c" opacity="0.69"/>
<circle cx="138.1" cy="124.0" r="0.75" fill="#f0281c" opacity="0.86"/>
<circle cx="30.6" cy="80.8" r="0.79" fill="#f0281c" opacity="0.87"/>
<circle cx="32.1" cy="82.5" r="0.74" fill="#f0281c" opacity="0.74"/>
<circle cx="33.1" cy="83.8" r="0.57" fill="#f0281c" opacity="0.46"/>
<circle cx="34.2" cy="85.5" r="0.69" fill="#f0281c" opacity="0.65"/>
<circle cx="36.2" cy="87.9" r="0.87" fill="#f0281c" opacity="0.72"/>
<circle cx="37.3" cy="89.3" r="0.81" fill="#f0281c" opacity="0.53"/>
<circle cx="38.7" cy="91.3" r="0.72" fill="#f0281c" opacity="0.54"/>
<circle cx="39.8" cy="92.7" r="0.51" fill="#f0281c" opacity="0.50"/>
<circle cx="41.1" cy="94.0" r="0.52" fill="#f0281c" opacity="0.53"/>
<circle cx="42.8" cy="95.6" r="0.72" fill="#f0281c" opacity="0.86"/>
<circle cx="44.2" cy="96.7" r="0.80" fill="#f0281c" opacity="0.83"/>
<circle cx="46.5" cy="99.9" r="0.52" fill="#f0281c" opacity="0.43"/>
<circle cx="47.7" cy="103.8" r="0.57" fill="#f0281c" opacity="0.70"/>
<circle cx="48.1" cy="106.7" r="0.67" fill="#f0281c" opacity="0.60"/>
<circle cx="48.5" cy="108.8" r="0.78" fill="#f0281c" opacity="0.49"/>
<circle cx="48.0" cy="110.5" r="0.52" fill="#f0281c" opacity="0.67"/>
<circle cx="47.7" cy="114.8" r="0.85" fill="#f0281c" opacity="0.70"/>
<circle cx="47.7" cy="117.1" r="0.87" fill="#f0281c" opacity="0.68"/>
<circle cx="47.1" cy="119.2" r="0.50" fill="#f0281c" opacity="0.80"/>
<circle cx="46.6" cy="120.9" r="0.67" fill="#f0281c" opacity="0.73"/>
<circle cx="46.5" cy="123.7" r="0.88" fill="#f0281c" opacity="0.86"/>
<circle cx="46.3" cy="125.5" r="0.86" fill="#f0281c" opacity="0.80"/>
<circle cx="46.5" cy="128.0" r="0.63" fill="#f0281c" opacity="0.78"/>
<circle cx="45.7" cy="130.7" r="0.70" fill="#f0281c" opacity="0.54"/>
<circle cx="45.5" cy="135.0" r="0.73" fill="#f0281c" opacity="0.85"/>
<circle cx="45.9" cy="137.0" r="0.81" fill="#f0281c" opacity="0.45"/>
<circle cx="45.8" cy="139.3" r="0.79" fill="#f0281c" opacity="0.53"/>
<circle cx="45.1" cy="141.4" r="0.79" fill="#f0281c" opacity="0.51"/>
<circle cx="45.2" cy="144.3" r="0.88" fill="#f0281c" opacity="0.90"/>
<circle cx="45.4" cy="146.7" r="0.68" fill="#f0281c" opacity="0.83"/>
<circle cx="45.1" cy="148.3" r="0.80" fill="#f0281c" opacity="0.47"/>
<circle cx="45.2" cy="152.9" r="0.75" fill="#f0281c" opacity="0.59"/>
<circle cx="44.7" cy="155.7" r="0.53" fill="#f0281c" opacity="0.83"/>
<circle cx="45.2" cy="160.2" r="0.64" fill="#f0281c" opacity="0.87"/>
<circle cx="45.3" cy="161.9" r="0.57" fill="#f0281c" opacity="0.65"/>
<circle cx="45.4" cy="163.9" r="0.81" fill="#f0281c" opacity="0.53"/>
<circle cx="45.5" cy="165.7" r="0.89" fill="#f0281c" opacity="0.79"/>
<circle cx="45.7" cy="168.5" r="0.54" fill="#f0281c" opacity="0.86"/>
<circle cx="45.8" cy="170.7" r="0.69" fill="#f0281c" opacity="0.81"/>
<circle cx="45.5" cy="173.3" r="0.72" fill="#f0281c" opacity="0.60"/>
<circle cx="46.0" cy="176.0" r="0.61" fill="#f0281c" opacity="0.58"/>
<circle cx="46.3" cy="177.3" r="0.85" fill="#f0281c" opacity="0.58"/>
<circle cx="46.1" cy="179.6" r="0.89" fill="#f0281c" opacity="0.59"/>
<circle cx="46.3" cy="182.1" r="0.55" fill="#f0281c" opacity="0.54"/>
<circle cx="47.2" cy="184.7" r="0.64" fill="#f0281c" opacity="0.87"/>
<circle cx="17.2" cy="105.4" r="0.74" fill="#f0281c" opacity="0.55"/>
<circle cx="17.5" cy="107.2" r="0.50" fill="#f0281c" opacity="0.68"/>
<circle cx="17.1" cy="110.5" r="0.77" fill="#f0281c" opacity="0.74"/>
<circle cx="17.6" cy="112.5" r="0.50" fill="#f0281c" opacity="0.42"/>
<circle cx="17.5" cy="115.2" r="0.50" fill="#f0281c" opacity="0.61"/>
<circle cx="17.9" cy="117.2" r="0.58" fill="#f0281c" opacity="0.49"/>
<circle cx="18.1" cy="120.3" r="0.85" fill="#f0281c" opacity="0.66"/>
<circle cx="17.9" cy="122.9" r="0.53" fill="#f0281c" opacity="0.82"/>
<circle cx="18.2" cy="124.8" r="0.56" fill="#f0281c" opacity="0.58"/>
<circle cx="18.4" cy="128.0" r="0.75" fill="#f0281c" opacity="0.73"/>
<circle cx="18.0" cy="129.9" r="0.86" fill="#f0281c" opacity="0.53"/>
<circle cx="17.7" cy="131.7" r="0.82" fill="#f0281c" opacity="0.48"/>
<circle cx="17.9" cy="133.1" r="0.72" fill="#f0281c" opacity="0.41"/>
<circle cx="17.5" cy="135.7" r="0.60" fill="#f0281c" opacity="0.81"/>
<circle cx="17.2" cy="139.1" r="0.59" fill="#f0281c" opacity="0.74"/>
<circle cx="17.1" cy="141.4" r="0.74" fill="#f0281c" opacity="0.49"/>
<circle cx="16.2" cy="146.8" r="0.87" fill="#f0281c" opacity="0.52"/>
<circle cx="16.0" cy="149.6" r="0.78" fill="#f0281c" opacity="0.61"/>
<circle cx="15.8" cy="152.8" r="0.75" fill="#f0281c" opacity="0.43"/>
<circle cx="15.2" cy="155.1" r="0.79" fill="#f0281c" opacity="0.66"/>
<circle cx="15.2" cy="157.2" r="0.54" fill="#f0281c" opacity="0.85"/>
<circle cx="15.0" cy="158.5" r="0.54" fill="#f0281c" opacity="0.74"/>
<circle cx="14.7" cy="160.5" r="0.59" fill="#f0281c" opacity="0.60"/>
<circle cx="14.3" cy="163.0" r="0.72" fill="#f0281c" opacity="0.90"/>
<circle cx="13.8" cy="168.2" r="0.70" fill="#f0281c" opacity="0.80"/>
<circle cx="14.0" cy="170.4" r="0.56" fill="#f0281c" opacity="0.64"/>
<circle cx="13.7" cy="172.2" r="0.89" fill="#f0281c" opacity="0.42"/>
<circle cx="13.1" cy="173.8" r="0.52" fill="#f0281c" opacity="0.69"/>
<circle cx="13.2" cy="176.0" r="0.78" fill="#f0281c" opacity="0.54"/>
<circle cx="12.5" cy="178.4" r="0.79" fill="#f0281c" opacity="0.83"/>
<circle cx="12.8" cy="181.6" r="0.55" fill="#f0281c" opacity="0.59"/>
<circle cx="12.3" cy="186.3" r="0.63" fill="#f0281c" opacity="0.85"/>
<circle cx="52.8" cy="106.6" r="0.88" fill="#f0281c" opacity="0.68"/>
<circle cx="53.3" cy="108.7" r="0.65" fill="#f0281c" opacity="0.66"/>
<circle cx="53.8" cy="110.6" r="0.70" fill="#f0281c" opacity="0.61"/>
<circle cx="54.6" cy="112.5" r="0.81" fill="#f0281c" opacity="0.75"/>
<circle cx="55.1" cy="115.1" r="0.70" fill="#f0281c" opacity="0.59"/>
<circle cx="56.2" cy="117.3" r="0.69" fill="#f0281c" opacity="0.77"/>
<circle cx="56.4" cy="118.6" r="0.64" fill="#f0281c" opacity="0.78"/>
<circle cx="56.8" cy="120.7" r="0.76" fill="#f0281c" opacity="0.74"/>
<circle cx="57.4" cy="122.5" r="0.64" fill="#f0281c" opacity="0.42"/>
<circle cx="58.1" cy="125.3" r="0.82" fill="#f0281c" opacity="0.51"/>
<circle cx="58.6" cy="127.9" r="0.70" fill="#f0281c" opacity="0.58"/>
<circle cx="58.8" cy="129.8" r="0.84" fill="#f0281c" opacity="0.83"/>
<circle cx="58.7" cy="131.7" r="0.57" fill="#f0281c" opacity="0.48"/>
<circle cx="59.3" cy="133.1" r="0.84" fill="#f0281c" opacity="0.85"/>
<circle cx="59.3" cy="135.0" r="0.55" fill="#f0281c" opacity="0.85"/>
<circle cx="59.3" cy="136.8" r="0.51" fill="#f0281c" opacity="0.60"/>
<circle cx="59.4" cy="141.1" r="0.75" fill="#f0281c" opacity="0.49"/>
<circle cx="59.7" cy="143.0" r="0.58" fill="#f0281c" opacity="0.83"/>
<circle cx="59.8" cy="144.8" r="0.63" fill="#f0281c" opacity="0.42"/>
<circle cx="59.9" cy="147.6" r="0.55" fill="#f0281c" opacity="0.51"/>
<circle cx="59.9" cy="149.7" r="0.55" fill="#f0281c" opacity="0.89"/>
<circle cx="59.9" cy="151.4" r="0.65" fill="#f0281c" opacity="0.42"/>
<circle cx="60.0" cy="153.4" r="0.69" fill="#f0281c" opacity="0.89"/>
<circle cx="60.2" cy="155.9" r="0.81" fill="#f0281c" opacity="0.82"/>
<circle cx="60.7" cy="157.1" r="0.60" fill="#f0281c" opacity="0.78"/>
<circle cx="60.3" cy="159.6" r="0.59" fill="#f0281c" opacity="0.40"/>
<circle cx="60.8" cy="163.5" r="0.78" fill="#f0281c" opacity="0.66"/>
<circle cx="60.9" cy="165.4" r="0.65" fill="#f0281c" opacity="0.83"/>
<circle cx="61.0" cy="168.3" r="0.75" fill="#f0281c" opacity="0.68"/>
<circle cx="61.0" cy="172.0" r="0.71" fill="#f0281c" opacity="0.56"/>
<circle cx="61.3" cy="174.6" r="0.88" fill="#f0281c" opacity="0.58"/>
<circle cx="61.6" cy="176.9" r="0.68" fill="#f0281c" opacity="0.60"/>
<circle cx="61.6" cy="179.0" r="0.65" fill="#f0281c" opacity="0.77"/>
<circle cx="62.0" cy="180.8" r="0.77" fill="#f0281c" opacity="0.65"/>
<circle cx="61.6" cy="182.5" r="0.78" fill="#f0281c" opacity="0.53"/>
<circle cx="62.0" cy="184.3" r="0.70" fill="#f0281c" opacity="0.56"/>
<circle cx="120.3" cy="161.0" r="0.62" fill="#f0281c" opacity="0.74"/>
<circle cx="120.6" cy="162.9" r="0.59" fill="#f0281c" opacity="0.62"/>
<circle cx="121.0" cy="165.2" r="0.68" fill="#f0281c" opacity="0.88"/>
<circle cx="121.0" cy="168.2" r="0.51" fill="#f0281c" opacity="0.87"/>
<circle cx="121.5" cy="170.8" r="0.57" fill="#f0281c" opacity="0.81"/>
<circle cx="122.6" cy="175.6" r="0.71" fill="#f0281c" opacity="0.83"/>
<circle cx="122.6" cy="177.6" r="0.63" fill="#f0281c" opacity="0.43"/>
<circle cx="122.8" cy="179.4" r="0.62" fill="#f0281c" opacity="0.54"/>
<circle cx="123.5" cy="181.6" r="0.68" fill="#f0281c" opacity="0.80"/>
<circle cx="123.8" cy="183.8" r="0.59" fill="#f0281c" opacity="0.45"/>
<circle cx="124.0" cy="185.7" r="0.56" fill="#f0281c" opacity="0.75"/>
<line x1="59.6" y1="38.9" x2="60.4" y2="41.1" stroke="#98f040" stroke-width="1.2" stroke-linecap="round"/>
<line x1="79.4" y1="57.0" x2="80.6" y2="59.0" stroke="#98f040" stroke-width="1.2" stroke-linecap="round"/>
<line x1="101.8" y1="50.8" x2="102.2" y2="53.2" stroke="#98f040" stroke-width="1.2" stroke-linecap="round"/>
<line x1="117.7" y1="68.8" x2="118.3" y2="71.2" stroke="#98f040" stroke-width="1.2" stroke-linecap="round"/>
<line x1="115.8" y1="98.8" x2="116.2" y2="101.2" stroke="#98f040" stroke-width="1.2" stroke-linecap="round"/>
<line x1="69.6" y1="94.9" x2="70.4" y2="97.1" stroke="#98f040" stroke-width="1.2" stroke-linecap="round"/>
<line x1="29.4" y1="59.0" x2="30.6" y2="61.0" stroke="#98f040" stroke-width="1.2" stroke-linecap="round"/>
<line x1="44.8" y1="116.8" x2="45.2" y2="119.2" stroke="#98f040" stroke-width="1.2" stroke-linecap="round"/>
<line x1="49.6" y1="168.9" x2="50.4" y2="171.1" stroke="#98f040" stroke-width="1.2" stroke-linecap="round"/>
<line x1="103.2" y1="175.1" x2="104.8" y2="176.9" stroke="#98f040" stroke-width="1.2" stroke-linecap="round"/>
<line x1="117.9" y1="116.8" x2="118.1" y2="119.2" stroke="#98f040" stroke-width="1.2" stroke-linecap="round"/>
<line x1="59.7" y1="126.8" x2="60.3" y2="129.2" stroke="#98f040" stroke-width="1.2" stroke-linecap="round"/>
<line x1="85.4" y1="147.0" x2="86.6" y2="149.0" stroke="#98f040" stroke-width="1.2" stroke-linecap="round"/>
<line x1="25.8" y1="170.8" x2="26.2" y2="173.2" stroke="#98f040" stroke-width="1.2" stroke-linecap="round"/>
<line x1="89.6" y1="106.9" x2="90.4" y2="109.1" stroke="#98f040" stroke-width="1.2" stroke-linecap="round"/>
<line x1="119.8" y1="36.8" x2="120.2" y2="39.2" stroke="#98f040" stroke-width="1.2" stroke-linecap="round"/>
<line x1="38.9" y1="25.6" x2="41.1" y2="26.4" stroke="#98f040" stroke-width="1.2" stroke-linecap="round"/>
<line x1="74.6" y1="168.9" x2="75.4" y2="171.1" stroke="#98f040" stroke-width="1.2" stroke-linecap="round"/>
<line x1="96.8" y1="128.8" x2="97.2" y2="131.2" stroke="#98f040" stroke-width="1.2" stroke-linecap="round"/>
<line x1="16.9" y1="123.8" x2="17.1" y2="126.2" stroke="#98f040" stroke-width="1.2" stroke-linecap="round"/>
<line x1="66.0" y1="64.8" x2="66.0" y2="67.2" stroke="#98f040" stroke-width="1.2" stroke-linecap="round"/>
<line x1="83.9" y1="78.8" x2="84.1" y2="81.2" stroke="#98f040" stroke-width="1.2" stroke-linecap="round"/>
<line x1="127.6" y1="58.9" x2="128.4" y2="61.1" stroke="#98f040" stroke-width="1.2" stroke-linecap="round"/>
<line x1="111.4" y1="159.0" x2="112.6" y2="161.0" stroke="#98f040" stroke-width="1.2" stroke-linecap="round"/>
<line x1="55.8" y1="94.8" x2="56.2" y2="97.2" stroke="#98f040" stroke-width="1.2" stroke-linecap="round"/>
<line x1="66.5" y1="138.7" x2="66.6" y2="141.0" stroke="#98f040" stroke-width="1.2" stroke-linecap="round"/>
<line x1="68.5" y1="167.4" x2="68.7" y2="169.8" stroke="#98f040" stroke-width="1.2" stroke-linecap="round"/>
<line x1="66.7" y1="142.3" x2="66.9" y2="144.6" stroke="#98f040" stroke-width="1.2" stroke-linecap="round"/>
<line x1="66.5" y1="138.7" x2="66.6" y2="141.0" stroke="#98f040" stroke-width="1.2" stroke-linecap="round"/>
<line x1="67.5" y1="153.5" x2="67.7" y2="155.9" stroke="#98f040" stroke-width="1.2" stroke-linecap="round"/>
<line x1="62.0" y1="48.5" x2="62.1" y2="50.9" stroke="#98f040" stroke-width="1.2" stroke-linecap="round"/>
<line x1="62.0" y1="48.0" x2="62.1" y2="50.4" stroke="#98f040" stroke-width="1.2" stroke-linecap="round"/>
<line x1="83.5" y1="152.0" x2="83.6" y2="154.4" stroke="#98f040" stroke-width="1.2" stroke-linecap="round"/>
<line x1="82.8" y1="142.3" x2="83.0" y2="144.6" stroke="#98f040" stroke-width="1.2" stroke-linecap="round"/>
<line x1="85.8" y1="183.0" x2="86.0" y2="185.4" stroke="#98f040" stroke-width="1.2" stroke-linecap="round"/>
<line x1="85.5" y1="179.8" x2="85.7" y2="182.2" stroke="#98f040" stroke-width="1.2" stroke-linecap="round"/>
<line x1="82.6" y1="68.5" x2="82.5" y2="70.9" stroke="#98f040" stroke-width="1.2" stroke-linecap="round"/>
<line x1="114.1" y1="75.6" x2="114.5" y2="78.0" stroke="#98f040" stroke-width="1.2" stroke-linecap="round"/>
<line x1="116.8" y1="120.8" x2="116.3" y2="123.2" stroke="#98f040" stroke-width="1.2" stroke-linecap="round"/>
<line x1="135.2" y1="86.0" x2="135.4" y2="88.4" stroke="#98f040" stroke-width="1.2" stroke-linecap="round"/>
<line x1="132.6" y1="65.7" x2="133.0" y2="68.0" stroke="#98f040" stroke-width="1.2" stroke-linecap="round"/>
<line x1="36.7" y1="88.3" x2="38.1" y2="90.2" stroke="#98f040" stroke-width="1.2" stroke-linecap="round"/>
<line x1="45.4" y1="142.3" x2="45.3" y2="144.6" stroke="#98f040" stroke-width="1.2" stroke-linecap="round"/>
<line x1="46.4" y1="179.3" x2="46.6" y2="181.7" stroke="#98f040" stroke-width="1.2" stroke-linecap="round"/>
<line x1="12.2" y1="184.5" x2="11.9" y2="186.9" stroke="#98f040" stroke-width="1.2" stroke-linecap="round"/>
<line x1="17.1" y1="106.7" x2="17.3" y2="109.1" stroke="#98f040" stroke-width="1.2" stroke-linecap="round"/>
<line x1="61.8" y1="181.6" x2="61.9" y2="184.0" stroke="#98f040" stroke-width="1.2" stroke-linecap="round"/>
<line x1="60.3" y1="154.1" x2="60.4" y2="156.5" stroke="#98f040" stroke-width="1.2" stroke-linecap="round"/>
<line x1="122.1" y1="173.7" x2="122.5" y2="176.1" stroke="#98f040" stroke-width="1.2" stroke-linecap="round"/>
<path d="M56.9,21.0 C56.5,22.7 54.7,27.8 54.3,31.2 C53.9,34.6 53.9,38.5 54.3,41.5 C54.7,44.5 56.0,47.2 56.9,49.1 C57.8,51.0 59.0,52.4 59.4,53.0" stroke="#2438ff" stroke-width="1.6" fill="none" stroke-linecap="round" stroke-linejoin="round"/>
<path d="M59.4,53.0 C58.5,53.6 55.6,54.9 54.3,56.8 C53.0,58.7 51.8,61.9 51.8,64.5 C51.8,67.1 52.6,70.3 54.3,72.2 C56.0,74.1 58.8,75.2 62.0,76.0 C65.2,76.8 70.7,77.5 73.5,77.3 C76.3,77.1 77.1,75.5 78.6,74.7 C80.1,73.9 81.8,72.6 82.4,72.2" stroke="#3a70ff" stroke-width="1.5" fill="none" stroke-linecap="round" stroke-linejoin="round"/>
<path d="M59.4,54.2 C60.9,53.6 65.6,51.9 68.4,50.4 C71.2,48.9 73.7,46.8 76.0,45.3 C78.3,43.8 80.9,42.8 82.4,41.5 C83.9,40.2 84.6,38.2 85.0,37.6" stroke="#3a80ff" stroke-width="2.2" fill="none" stroke-linecap="round" stroke-linejoin="round"/>
<path d="M59.4,54.2 C60.9,53.6 65.6,51.9 68.4,50.4 C71.2,48.9 73.7,46.8 76.0,45.3 C78.3,43.8 80.9,42.8 82.4,41.5 C83.9,40.2 84.6,38.2 85.0,37.6" stroke="#b0f4ff" stroke-width="1.1" fill="none" stroke-linecap="round" stroke-linejoin="round"/>
<path d="M27.2,47.0 C27.8,48.0 29.4,51.2 30.5,52.9 C31.6,54.6 32.5,55.4 33.9,57.1 C35.3,58.8 37.2,61.7 38.9,63.0 C40.6,64.3 41.8,64.6 44.0,65.0 C46.2,65.4 51.0,65.4 52.4,65.5" stroke="#4aa8ff" stroke-width="1.4" fill="none" stroke-linecap="round" stroke-linejoin="round"/>
<path d="M36.4,32.5 C37.9,32.1 42.4,30.4 45.4,30.0 C48.4,29.6 52.8,30.0 54.3,30.0" stroke="#2438ff" stroke-width="1.2" fill="none" stroke-linecap="round" stroke-linejoin="round"/>
<path d="M7.0,47.9 L12.1,46.6" stroke="#2438ff" stroke-width="1.2" fill="none" stroke-linecap="round" stroke-linejoin="round"/>
<path d="M7.0,60.5 C7.5,60.0 9.0,58.2 10.0,57.5 C11.0,56.8 12.5,56.5 13.0,56.3" stroke="#3a70ff" stroke-width="1.2" fill="none" stroke-linecap="round" stroke-linejoin="round"/>
<path d="M73.5,53.0 C75.2,54.1 80.7,57.9 83.7,59.4 C86.7,60.9 88.4,62.0 91.4,62.0 C94.4,62.0 97.8,61.1 101.6,59.4 C105.4,57.7 111.4,53.8 114.4,51.7 C117.4,49.6 118.0,49.2 119.5,46.6 C121.0,44.0 122.6,40.6 123.4,36.3 C124.2,32.0 124.4,23.6 124.6,21.0" stroke="#2438ff" stroke-width="1.6" fill="none" stroke-linecap="round" stroke-linejoin="round"/>
<path d="M119.5,46.6 C121.2,47.9 126.4,52.5 129.8,54.2 C133.2,55.9 138.3,56.4 140.0,56.8" stroke="#2438ff" stroke-width="1.6" fill="none" stroke-linecap="round" stroke-linejoin="round"/>
<path d="M73.0,76.0 L81.0,73.0" stroke="#2438ff" stroke-width="1.2" fill="none" stroke-linecap="round" stroke-linejoin="round"/>
<path d="M5.0,85.0 C6.8,86.7 12.5,91.9 15.7,95.0 C18.9,98.1 21.4,100.5 24.3,103.8 C27.2,107.1 30.6,111.3 33.0,114.6 C35.4,117.8 37.1,120.4 38.4,123.3 C39.6,126.2 40.3,129.7 40.5,132.0 C40.7,134.3 40.2,135.6 39.5,137.4 C38.8,139.2 37.7,140.8 36.2,142.8 C34.8,144.8 33.5,147.7 30.8,149.3 C28.1,150.9 24.3,151.1 20.0,152.5 C15.7,153.9 7.5,157.1 5.0,158.0" stroke="#2a5cff" stroke-width="4.0" fill="none" stroke-linecap="round" stroke-linejoin="round"/>
<path d="M5.0,85.0 C6.8,86.7 12.5,91.9 15.7,95.0 C18.9,98.1 21.4,100.5 24.3,103.8 C27.2,107.1 30.6,111.3 33.0,114.6 C35.4,117.8 37.1,120.4 38.4,123.3 C39.6,126.2 40.3,129.7 40.5,132.0 C40.7,134.3 40.2,135.6 39.5,137.4 C38.8,139.2 37.7,140.8 36.2,142.8 C34.8,144.8 33.5,147.7 30.8,149.3 C28.1,150.9 24.3,151.1 20.0,152.5 C15.7,153.9 7.5,157.1 5.0,158.0" stroke="#c8f4ff" stroke-width="2.0" fill="none" stroke-linecap="round" stroke-linejoin="round"/>
<path d="M30.8,149.3 C31.3,150.4 32.9,153.6 34.0,155.8 C35.1,158.0 36.8,161.2 37.3,162.3" stroke="#7fc8ff" stroke-width="1.7" fill="none" stroke-linecap="round" stroke-linejoin="round"/>
<path d="M36.2,142.8 C37.7,143.2 42.2,144.0 44.9,145.0 C47.6,146.0 50.0,148.6 52.5,148.8 C55.0,149.0 57.8,146.6 60.0,146.0 C62.2,145.4 63.1,146.0 65.8,145.2 C68.5,144.4 72.6,143.8 76.0,141.4 C79.4,139.1 84.6,132.8 86.3,131.1" stroke="#2438ff" stroke-width="1.7" fill="none" stroke-linecap="round" stroke-linejoin="round"/>
<path d="M74.5,188.0 C75.0,186.8 76.3,183.7 77.6,181.0 C78.9,178.3 80.1,175.0 82.1,172.0 C84.1,169.0 86.7,165.7 89.7,162.9 C92.7,160.1 96.5,157.8 100.3,155.3 C104.1,152.8 108.6,150.0 112.4,147.7 C116.2,145.4 119.7,143.2 123.0,141.7 C126.3,140.2 129.8,139.4 132.1,138.6 C134.4,137.8 135.2,137.7 136.7,137.1 C138.2,136.5 140.3,135.3 141.0,135.0" stroke="#2438ff" stroke-width="1.25" fill="none" stroke-linecap="round" stroke-linejoin="round"/>
<path d="M100.3,188.0 C101.0,185.8 102.5,178.9 104.8,175.0 C107.1,171.1 111.1,167.4 113.9,164.4 C116.7,161.4 119.2,159.1 121.5,156.8 C123.8,154.5 125.6,153.1 127.6,150.8 C129.6,148.5 132.1,145.2 133.6,143.2 C135.1,141.2 136.0,140.0 136.7,138.6 C137.4,137.2 137.8,135.6 138.0,135.0" stroke="#2438ff" stroke-width="1.25" fill="none" stroke-linecap="round" stroke-linejoin="round"/>
<path d="M110.9,125.0 C110.7,126.5 109.5,131.6 109.4,134.1 C109.3,136.6 109.2,138.9 110.2,140.2 C111.2,141.5 113.6,141.7 115.5,141.7 C117.4,141.7 119.5,141.2 121.5,140.2 C123.5,139.2 125.8,136.8 127.6,135.6 C129.4,134.4 130.6,133.8 132.1,133.3 C133.6,132.8 135.9,132.7 136.7,132.6" stroke="#5a8a20" stroke-width="1.0" fill="none" stroke-linecap="round" stroke-linejoin="round" opacity="0.6"/>
<circle cx="110.4" cy="126.0" r="0.62" fill="#c8f040" opacity="0.76"/>
<circle cx="110.2" cy="129.8" r="0.82" fill="#c8f040" opacity="0.85"/>
<circle cx="109.5" cy="131.9" r="0.95" fill="#c8f040" opacity="0.95"/>
<circle cx="109.3" cy="133.0" r="0.62" fill="#c8f040" opacity="0.93"/>
<circle cx="109.3" cy="135.7" r="0.90" fill="#c8f040" opacity="0.70"/>
<circle cx="109.3" cy="137.4" r="0.74" fill="#c8f040" opacity="0.72"/>
<circle cx="109.4" cy="138.3" r="0.72" fill="#c8f040" opacity="0.99"/>
<circle cx="110.0" cy="139.9" r="0.62" fill="#c8f040" opacity="0.94"/>
<circle cx="111.7" cy="141.0" r="0.86" fill="#c8f040" opacity="0.74"/>
<circle cx="113.3" cy="141.4" r="0.69" fill="#c8f040" opacity="0.99"/>
<circle cx="115.2" cy="141.5" r="0.74" fill="#c8f040" opacity="0.96"/>
<circle cx="117.3" cy="141.4" r="0.69" fill="#c8f040" opacity="0.93"/>
<circle cx="118.7" cy="140.9" r="0.80" fill="#c8f040" opacity="0.77"/>
<circle cx="120.5" cy="141.0" r="0.77" fill="#c8f040" opacity="0.87"/>
<circle cx="122.1" cy="140.0" r="0.89" fill="#c8f040" opacity="0.77"/>
<circle cx="124.3" cy="138.3" r="0.93" fill="#c8f040" opacity="0.96"/>
<circle cx="125.0" cy="137.1" r="0.94" fill="#c8f040" opacity="0.77"/>
<circle cx="127.1" cy="136.2" r="0.70" fill="#c8f040" opacity="0.75"/>
<circle cx="130.6" cy="134.1" r="0.70" fill="#c8f040" opacity="0.98"/>
<circle cx="132.9" cy="132.8" r="0.73" fill="#c8f040" opacity="0.87"/>
<circle cx="135.2" cy="133.1" r="0.83" fill="#c8f040" opacity="0.91"/>
<circle cx="136.1" cy="132.3" r="0.92" fill="#c8f040" opacity="0.91"/>
<circle cx="136.7" cy="134" r="1.2" fill="#e040f0"/><circle cx="81.5" cy="170.5" r="1" fill="#c0ff60"/>
<path d="M5.0,120.0 L10.0,126.0" stroke="#6fd0ff" stroke-width="1.2" fill="none" stroke-linecap="round" stroke-linejoin="round"/>
<path d="M81,92 C86,95 95,96.5 105,95.5 C113,94.5 120,91.5 126,90.5 C130,90 133.5,91 133,92.5 C132,95 127,96 122,97.5 C115,99.5 108,103 98,104.5 C92,105 87,103 84,99 C82,97 80.5,94 81,92 Z" fill="#2222ff"/>
<circle cx="87" cy="96" r="1.3" fill="#d040e0" opacity="0.8"/><circle cx="117" cy="97" r="1" fill="#80ffd0" opacity="0.7"/><circle cx="122" cy="92" r="1.1" fill="#e040e0" opacity="0.7"/>
</g>
<text x="97.4" y="33" font-size="10.4" font-weight="bold" font-style="italic" fill="#fff" textLength="26.6" lengthAdjust="spacingAndGlyphs">Gfra2</text>
<text x="124" y="30.2" font-size="6.8" font-weight="bold" font-style="italic" fill="#fff" textLength="7.4" lengthAdjust="spacingAndGlyphs">+/-</text>
<g font-weight="bold" font-size="10.2">
<text x="122.6" y="154.8" fill="#ee1010" textLength="13.1" lengthAdjust="spacingAndGlyphs">TH</text>
<text x="93.6" y="168.4" fill="#9de84a" textLength="41.6" lengthAdjust="spacingAndGlyphs">Nes-GFP</text>
<text x="110" y="180.8" fill="#7d9be0" textLength="25.2" lengthAdjust="spacingAndGlyphs">CD31</text>
</g>
<line x1="13" y1="175.2" x2="34" y2="175.2" stroke="#cfcfcf" stroke-width="1.6"/>
</g>
<g id="panelB">
<rect x="156" y="21" width="132" height="165.5" fill="#040404"/>
<g clip-path="url(#clipB)" filter="url(#soft)">
<circle cx="283.1" cy="24.5" r="0.55" fill="#b01414" opacity="0.27"/>
<circle cx="252.4" cy="73.6" r="0.70" fill="#b01414" opacity="0.13"/>
<circle cx="228.1" cy="142.6" r="0.66" fill="#b01414" opacity="0.36"/>
<circle cx="248.9" cy="151.9" r="0.67" fill="#b01414" opacity="0.22"/>
<circle cx="246.4" cy="169.6" r="0.65" fill="#b01414" opacity="0.25"/>
<circle cx="260.4" cy="163.5" r="0.53" fill="#b01414" opacity="0.32"/>
<circle cx="206.5" cy="117.1" r="0.54" fill="#b01414" opacity="0.13"/>
<circle cx="240.4" cy="184.9" r="0.65" fill="#b01414" opacity="0.35"/>
<circle cx="207.3" cy="142.3" r="0.53" fill="#b01414" opacity="0.25"/>
<circle cx="266.7" cy="34.8" r="0.60" fill="#b01414" opacity="0.11"/>
<circle cx="235.4" cy="100.4" r="0.39" fill="#b01414" opacity="0.34"/>
<circle cx="221.6" cy="122.4" r="0.67" fill="#b01414" opacity="0.19"/>
<circle cx="157.5" cy="70.7" r="0.57" fill="#b01414" opacity="0.17"/>
<circle cx="178.4" cy="170.4" r="0.56" fill="#b01414" opacity="0.25"/>
<circle cx="273.7" cy="74.9" r="0.57" fill="#b01414" opacity="0.17"/>
<circle cx="212.9" cy="154.0" r="0.67" fill="#b01414" opacity="0.41"/>
<circle cx="206.7" cy="117.2" r="0.43" fill="#b01414" opacity="0.15"/>
<circle cx="221.5" cy="159.1" r="0.64" fill="#b01414" opacity="0.35"/>
<circle cx="281.4" cy="66.7" r="0.37" fill="#b01414" opacity="0.26"/>
<circle cx="192.3" cy="56.3" r="0.47" fill="#b01414" opacity="0.32"/>
<circle cx="221.2" cy="73.0" r="0.64" fill="#b01414" opacity="0.44"/>
<circle cx="215.7" cy="33.3" r="0.31" fill="#b01414" opacity="0.41"/>
<circle cx="161.5" cy="137.9" r="0.53" fill="#b01414" opacity="0.21"/>
<circle cx="260.5" cy="24.2" r="0.35" fill="#b01414" opacity="0.26"/>
<circle cx="159.3" cy="157.9" r="0.39" fill="#b01414" opacity="0.15"/>
<circle cx="162.2" cy="124.8" r="0.48" fill="#b01414" opacity="0.32"/>
<circle cx="242.5" cy="154.2" r="0.68" fill="#b01414" opacity="0.34"/>
<circle cx="182.3" cy="99.4" r="0.37" fill="#b01414" opacity="0.10"/>
<circle cx="218.3" cy="138.8" r="0.37" fill="#b01414" opacity="0.20"/>
<circle cx="201.6" cy="136.1" r="0.51" fill="#b01414" opacity="0.32"/>
<circle cx="255.8" cy="85.9" r="0.62" fill="#b01414" opacity="0.42"/>
<circle cx="167.5" cy="174.9" r="0.59" fill="#b01414" opacity="0.15"/>
<circle cx="215.9" cy="124.2" r="0.66" fill="#b01414" opacity="0.23"/>
<circle cx="231.1" cy="166.1" r="0.62" fill="#b01414" opacity="0.43"/>
<circle cx="217.2" cy="128.5" r="0.38" fill="#b01414" opacity="0.35"/>
<circle cx="264.0" cy="126.9" r="0.59" fill="#b01414" opacity="0.17"/>
<circle cx="274.8" cy="182.8" r="0.69" fill="#b01414" opacity="0.29"/>
<circle cx="260.4" cy="73.9" r="0.66" fill="#b01414" opacity="0.40"/>
<circle cx="202.0" cy="34.7" r="0.48" fill="#b01414" opacity="0.29"/>
<circle cx="257.4" cy="101.4" r="0.31" fill="#b01414" opacity="0.38"/>
<circle cx="164.5" cy="153.0" r="0.37" fill="#b01414" opacity="0.22"/>
<circle cx="260.0" cy="44.2" r="0.36" fill="#b01414" opacity="0.28"/>
<circle cx="251.5" cy="159.6" r="0.58" fill="#b01414" opacity="0.43"/>
<circle cx="221.0" cy="177.6" r="0.33" fill="#b01414" opacity="0.18"/>
<circle cx="225.5" cy="68.9" r="0.59" fill="#b01414" opacity="0.32"/>
<circle cx="225.0" cy="160.2" r="0.52" fill="#b01414" opacity="0.21"/>
<circle cx="206.3" cy="160.5" r="0.66" fill="#b01414" opacity="0.17"/>
<circle cx="268.3" cy="180.8" r="0.51" fill="#b01414" opacity="0.30"/>
<circle cx="182.5" cy="109.4" r="0.50" fill="#b01414" opacity="0.31"/>
<circle cx="159.7" cy="181.0" r="0.51" fill="#b01414" opacity="0.24"/>
<circle cx="261.7" cy="113.9" r="0.50" fill="#b01414" opacity="0.34"/>
<circle cx="164.7" cy="109.9" r="0.47" fill="#b01414" opacity="0.43"/>
<circle cx="277.9" cy="65.4" r="0.49" fill="#b01414" opacity="0.14"/>
<circle cx="213.2" cy="155.6" r="0.66" fill="#b01414" opacity="0.27"/>
<circle cx="197.9" cy="52.6" r="0.55" fill="#b01414" opacity="0.42"/>
<circle cx="173.1" cy="149.6" r="0.31" fill="#b01414" opacity="0.17"/>
<circle cx="186.0" cy="134.4" r="0.43" fill="#b01414" opacity="0.22"/>
<circle cx="237.8" cy="38.3" r="0.59" fill="#b01414" opacity="0.14"/>
<circle cx="223.4" cy="62.3" r="0.38" fill="#b01414" opacity="0.29"/>
<circle cx="213.7" cy="83.0" r="0.47" fill="#b01414" opacity="0.29"/>
<circle cx="177.1" cy="54.7" r="0.55" fill="#b01414" opacity="0.32"/>
<circle cx="225.9" cy="161.5" r="0.54" fill="#b01414" opacity="0.40"/>
<circle cx="186.7" cy="143.2" r="0.62" fill="#b01414" opacity="0.42"/>
<circle cx="197.7" cy="73.0" r="0.67" fill="#b01414" opacity="0.18"/>
<circle cx="287.8" cy="167.4" r="0.35" fill="#b01414" opacity="0.18"/>
<circle cx="251.9" cy="63.8" r="0.34" fill="#b01414" opacity="0.39"/>
<circle cx="211.7" cy="151.3" r="0.35" fill="#b01414" opacity="0.24"/>
<circle cx="246.4" cy="23.9" r="0.38" fill="#b01414" opacity="0.34"/>
<circle cx="276.3" cy="180.8" r="0.35" fill="#b01414" opacity="0.28"/>
<circle cx="256.1" cy="104.0" r="0.57" fill="#b01414" opacity="0.17"/>
<circle cx="165.3" cy="38.5" r="0.31" fill="#b01414" opacity="0.29"/>
<circle cx="224.0" cy="114.8" r="0.36" fill="#b01414" opacity="0.16"/>
<circle cx="182.9" cy="159.6" r="0.70" fill="#b01414" opacity="0.42"/>
<circle cx="168.6" cy="31.2" r="0.68" fill="#b01414" opacity="0.26"/>
<circle cx="256.9" cy="74.9" r="0.49" fill="#b01414" opacity="0.28"/>
<circle cx="212.8" cy="120.2" r="0.31" fill="#b01414" opacity="0.35"/>
<circle cx="267.4" cy="50.9" r="0.48" fill="#b01414" opacity="0.36"/>
<circle cx="209.5" cy="53.2" r="0.37" fill="#b01414" opacity="0.28"/>
<circle cx="158.0" cy="168.4" r="0.62" fill="#b01414" opacity="0.35"/>
<circle cx="269.6" cy="124.8" r="0.46" fill="#b01414" opacity="0.31"/>
<circle cx="222.6" cy="183.1" r="0.62" fill="#b01414" opacity="0.19"/>
<circle cx="276.3" cy="143.8" r="0.61" fill="#b01414" opacity="0.39"/>
<circle cx="209.5" cy="168.9" r="0.65" fill="#b01414" opacity="0.34"/>
<circle cx="257.3" cy="147.3" r="0.46" fill="#b01414" opacity="0.35"/>
<circle cx="165.3" cy="77.4" r="0.49" fill="#b01414" opacity="0.10"/>
<circle cx="202.9" cy="126.4" r="0.55" fill="#b01414" opacity="0.18"/>
<circle cx="280.7" cy="130.9" r="0.44" fill="#b01414" opacity="0.33"/>
<circle cx="231.2" cy="109.0" r="0.46" fill="#b01414" opacity="0.45"/>
<circle cx="240.8" cy="136.7" r="0.60" fill="#b01414" opacity="0.44"/>
<circle cx="159.0" cy="122.5" r="0.60" fill="#b01414" opacity="0.19"/>
<circle cx="209.0" cy="29.3" r="0.38" fill="#b01414" opacity="0.23"/>
<circle cx="169.0" cy="62.4" r="0.66" fill="#b01414" opacity="0.29"/>
<circle cx="223.0" cy="180.6" r="0.53" fill="#b01414" opacity="0.45"/>
<circle cx="240.2" cy="154.6" r="0.33" fill="#b01414" opacity="0.31"/>
<circle cx="256.2" cy="28.4" r="0.67" fill="#b01414" opacity="0.16"/>
<circle cx="218.3" cy="48.9" r="0.50" fill="#b01414" opacity="0.31"/>
<circle cx="163.7" cy="177.0" r="0.47" fill="#b01414" opacity="0.28"/>
<circle cx="234.9" cy="81.3" r="0.41" fill="#b01414" opacity="0.33"/>
<circle cx="230.0" cy="67.8" r="0.59" fill="#b01414" opacity="0.20"/>
<circle cx="157.8" cy="61.4" r="0.32" fill="#b01414" opacity="0.15"/>
<circle cx="255.6" cy="85.3" r="0.66" fill="#b01414" opacity="0.36"/>
<circle cx="162.6" cy="184.1" r="0.68" fill="#b01414" opacity="0.13"/>
<circle cx="275.5" cy="91.9" r="0.49" fill="#b01414" opacity="0.44"/>
<circle cx="188.2" cy="107.4" r="0.67" fill="#b01414" opacity="0.35"/>
<circle cx="217.8" cy="182.5" r="0.63" fill="#b01414" opacity="0.31"/>
<circle cx="171.2" cy="124.0" r="0.48" fill="#b01414" opacity="0.17"/>
<circle cx="162.9" cy="108.1" r="0.35" fill="#b01414" opacity="0.26"/>
<circle cx="244.2" cy="96.2" r="0.40" fill="#b01414" opacity="0.30"/>
<circle cx="211.4" cy="149.4" r="0.51" fill="#b01414" opacity="0.45"/>
<circle cx="281.7" cy="142.2" r="0.40" fill="#b01414" opacity="0.14"/>
<circle cx="273.8" cy="150.4" r="0.55" fill="#b01414" opacity="0.23"/>
<circle cx="191.8" cy="134.0" r="0.53" fill="#b01414" opacity="0.31"/>
<circle cx="239.6" cy="145.3" r="0.38" fill="#b01414" opacity="0.19"/>
<circle cx="285.3" cy="172.1" r="0.65" fill="#b01414" opacity="0.11"/>
<circle cx="164.0" cy="65.7" r="0.47" fill="#b01414" opacity="0.32"/>
<circle cx="169.5" cy="110.4" r="0.33" fill="#b01414" opacity="0.13"/>
<circle cx="245.3" cy="111.9" r="0.55" fill="#b01414" opacity="0.23"/>
<circle cx="219.2" cy="55.8" r="0.44" fill="#b01414" opacity="0.36"/>
<circle cx="266.7" cy="33.3" r="0.35" fill="#b01414" opacity="0.38"/>
<circle cx="238.3" cy="147.8" r="0.39" fill="#b01414" opacity="0.25"/>
<circle cx="190.1" cy="154.6" r="0.45" fill="#b01414" opacity="0.33"/>
<circle cx="286.6" cy="74.7" r="0.52" fill="#b01414" opacity="0.36"/>
<circle cx="277.5" cy="91.6" r="0.45" fill="#b01414" opacity="0.13"/>
<circle cx="271.5" cy="34.0" r="0.33" fill="#b01414" opacity="0.30"/>
<circle cx="220.0" cy="134.1" r="0.42" fill="#b01414" opacity="0.37"/>
<circle cx="166.0" cy="56.2" r="0.56" fill="#b01414" opacity="0.13"/>
<circle cx="196.1" cy="140.6" r="0.58" fill="#b01414" opacity="0.20"/>
<circle cx="174.9" cy="80.0" r="0.59" fill="#b01414" opacity="0.23"/>
<circle cx="171.5" cy="138.0" r="0.53" fill="#b01414" opacity="0.42"/>
<circle cx="280.1" cy="171.7" r="0.48" fill="#b01414" opacity="0.38"/>
<circle cx="196.2" cy="73.4" r="0.46" fill="#b01414" opacity="0.43"/>
<circle cx="274.1" cy="62.0" r="0.44" fill="#b01414" opacity="0.23"/>
<circle cx="204.0" cy="86.3" r="0.46" fill="#b01414" opacity="0.17"/>
<circle cx="230.4" cy="152.5" r="0.52" fill="#b01414" opacity="0.39"/>
<circle cx="230.3" cy="50.1" r="0.60" fill="#b01414" opacity="0.41"/>
<circle cx="193.2" cy="24.7" r="0.51" fill="#b01414" opacity="0.29"/>
<circle cx="230.9" cy="180.5" r="0.56" fill="#b01414" opacity="0.38"/>
<circle cx="164.5" cy="111.2" r="0.62" fill="#b01414" opacity="0.13"/>
<circle cx="166.8" cy="142.6" r="0.66" fill="#b01414" opacity="0.13"/>
<circle cx="239.7" cy="44.7" r="0.60" fill="#b01414" opacity="0.33"/>
<circle cx="188.4" cy="57.4" r="0.61" fill="#b01414" opacity="0.28"/>
<circle cx="256.9" cy="86.1" r="0.44" fill="#b01414" opacity="0.44"/>
<circle cx="244.8" cy="102.5" r="0.51" fill="#b01414" opacity="0.35"/>
<circle cx="249.5" cy="172.0" r="0.46" fill="#b01414" opacity="0.39"/>
<circle cx="244.0" cy="161.8" r="0.62" fill="#b01414" opacity="0.39"/>
<circle cx="273.3" cy="179.0" r="0.56" fill="#b01414" opacity="0.28"/>
<circle cx="249.7" cy="153.4" r="0.47" fill="#b01414" opacity="0.25"/>
<circle cx="175.3" cy="143.3" r="0.70" fill="#b01414" opacity="0.23"/>
<circle cx="178.1" cy="54.7" r="0.47" fill="#b01414" opacity="0.20"/>
<circle cx="284.0" cy="30.8" r="0.42" fill="#b01414" opacity="0.14"/>
<circle cx="241.5" cy="149.0" r="0.37" fill="#b01414" opacity="0.12"/>
<circle cx="216.6" cy="117.4" r="0.66" fill="#b01414" opacity="0.11"/>
<circle cx="170.3" cy="51.4" r="0.39" fill="#b01414" opacity="0.18"/>
<circle cx="250.7" cy="119.1" r="0.39" fill="#b01414" opacity="0.16"/>
<circle cx="193.1" cy="49.5" r="0.60" fill="#b01414" opacity="0.21"/>
<circle cx="228.4" cy="155.8" r="0.49" fill="#b01414" opacity="0.19"/>
<circle cx="273.1" cy="171.9" r="0.44" fill="#b01414" opacity="0.29"/>
<circle cx="282.3" cy="100.6" r="0.39" fill="#b01414" opacity="0.12"/>
<circle cx="281.1" cy="153.2" r="0.45" fill="#b01414" opacity="0.28"/>
<circle cx="224.1" cy="66.3" r="0.70" fill="#b01414" opacity="0.33"/>
<circle cx="187.4" cy="22.8" r="0.49" fill="#b01414" opacity="0.23"/>
<circle cx="261.2" cy="138.7" r="0.54" fill="#b01414" opacity="0.16"/>
<circle cx="176.7" cy="74.1" r="0.40" fill="#b01414" opacity="0.40"/>
<circle cx="224.1" cy="126.1" r="0.70" fill="#b01414" opacity="0.19"/>
<circle cx="226.6" cy="45.9" r="0.61" fill="#b01414" opacity="0.10"/>
<circle cx="264.4" cy="160.6" r="0.63" fill="#b01414" opacity="0.13"/>
<circle cx="191.6" cy="139.2" r="0.34" fill="#b01414" opacity="0.27"/>
<circle cx="217.9" cy="178.7" r="0.53" fill="#b01414" opacity="0.40"/>
<circle cx="196.1" cy="151.2" r="0.47" fill="#b01414" opacity="0.42"/>
<circle cx="168.0" cy="157.3" r="0.38" fill="#b01414" opacity="0.29"/>
<circle cx="225.4" cy="47.0" r="0.63" fill="#b01414" opacity="0.21"/>
<circle cx="197.0" cy="33.5" r="0.42" fill="#b01414" opacity="0.26"/>
<circle cx="250.4" cy="80.4" r="0.57" fill="#b01414" opacity="0.14"/>
<circle cx="208.0" cy="97.2" r="0.69" fill="#b01414" opacity="0.39"/>
<circle cx="242.3" cy="23.0" r="0.45" fill="#b01414" opacity="0.35"/>
<circle cx="187.3" cy="114.1" r="0.48" fill="#b01414" opacity="0.10"/>
<circle cx="286.9" cy="152.9" r="0.38" fill="#b01414" opacity="0.32"/>
<circle cx="194.3" cy="83.0" r="0.52" fill="#b01414" opacity="0.20"/>
<circle cx="200.5" cy="85.7" r="0.57" fill="#b01414" opacity="0.19"/>
<circle cx="182.4" cy="141.7" r="0.43" fill="#b01414" opacity="0.43"/>
<circle cx="230.3" cy="140.4" r="0.43" fill="#b01414" opacity="0.39"/>
<circle cx="168.2" cy="44.2" r="0.34" fill="#b01414" opacity="0.34"/>
<circle cx="249.5" cy="50.7" r="0.46" fill="#b01414" opacity="0.39"/>
<circle cx="234.2" cy="35.9" r="0.39" fill="#b01414" opacity="0.15"/>
<circle cx="172.4" cy="88.1" r="0.33" fill="#b01414" opacity="0.42"/>
<circle cx="212.4" cy="105.4" r="0.56" fill="#b01414" opacity="0.37"/>
<circle cx="264.4" cy="84.7" r="0.43" fill="#b01414" opacity="0.24"/>
<circle cx="158.0" cy="87.1" r="0.58" fill="#b01414" opacity="0.44"/>
<circle cx="260.2" cy="129.9" r="0.54" fill="#b01414" opacity="0.11"/>
<circle cx="199.7" cy="77.5" r="0.56" fill="#b01414" opacity="0.14"/>
<circle cx="205.8" cy="105.0" r="0.62" fill="#b01414" opacity="0.39"/>
<circle cx="236.7" cy="47.1" r="0.61" fill="#b01414" opacity="0.42"/>
<circle cx="228.4" cy="79.2" r="0.50" fill="#b01414" opacity="0.15"/>
<circle cx="250.2" cy="183.8" r="0.51" fill="#b01414" opacity="0.35"/>
<circle cx="266.3" cy="53.5" r="0.68" fill="#b01414" opacity="0.32"/>
<circle cx="182.1" cy="34.7" r="0.40" fill="#b01414" opacity="0.30"/>
<circle cx="248.0" cy="75.3" r="0.67" fill="#b01414" opacity="0.23"/>
<circle cx="217.1" cy="41.5" r="0.69" fill="#b01414" opacity="0.15"/>
<circle cx="275.3" cy="110.7" r="0.52" fill="#b01414" opacity="0.30"/>
<circle cx="190.9" cy="171.0" r="0.70" fill="#b01414" opacity="0.39"/>
<circle cx="235.4" cy="41.2" r="0.63" fill="#b01414" opacity="0.20"/>
<circle cx="274.4" cy="60.7" r="0.53" fill="#b01414" opacity="0.39"/>
<circle cx="180.5" cy="111.4" r="0.33" fill="#b01414" opacity="0.11"/>
<circle cx="179.8" cy="183.9" r="0.68" fill="#b01414" opacity="0.33"/>
<circle cx="196.6" cy="131.8" r="0.60" fill="#b01414" opacity="0.23"/>
<circle cx="234.1" cy="153.6" r="0.31" fill="#b01414" opacity="0.17"/>
<circle cx="217.8" cy="44.6" r="0.45" fill="#b01414" opacity="0.30"/>
<circle cx="178.9" cy="106.8" r="0.41" fill="#b01414" opacity="0.30"/>
<circle cx="199.8" cy="126.9" r="0.32" fill="#b01414" opacity="0.33"/>
<circle cx="175.1" cy="179.3" r="0.54" fill="#b01414" opacity="0.26"/>
<circle cx="210.3" cy="123.9" r="0.58" fill="#b01414" opacity="0.37"/>
<circle cx="255.2" cy="101.2" r="0.70" fill="#b01414" opacity="0.39"/>
<circle cx="268.9" cy="88.5" r="0.47" fill="#b01414" opacity="0.30"/>
<circle cx="275.5" cy="107.8" r="0.51" fill="#b01414" opacity="0.25"/>
<circle cx="275.4" cy="73.9" r="0.32" fill="#b01414" opacity="0.35"/>
<circle cx="274.8" cy="141.8" r="0.54" fill="#b01414" opacity="0.36"/>
<circle cx="196.2" cy="118.9" r="0.33" fill="#b01414" opacity="0.14"/>
<circle cx="215.0" cy="103.9" r="0.46" fill="#b01414" opacity="0.12"/>
<circle cx="247.7" cy="107.8" r="0.40" fill="#b01414" opacity="0.21"/>
<circle cx="208.2" cy="59.9" r="0.33" fill="#b01414" opacity="0.42"/>
<circle cx="283.6" cy="130.8" r="0.65" fill="#b01414" opacity="0.25"/>
<circle cx="262.3" cy="57.6" r="0.60" fill="#b01414" opacity="0.30"/>
<circle cx="275.3" cy="37.3" r="0.62" fill="#b01414" opacity="0.14"/>
<circle cx="227.0" cy="177.9" r="0.30" fill="#b01414" opacity="0.19"/>
<circle cx="195.5" cy="74.6" r="0.33" fill="#b01414" opacity="0.41"/>
<circle cx="263.6" cy="86.5" r="0.44" fill="#b01414" opacity="0.30"/>
<circle cx="162.1" cy="26.1" r="0.66" fill="#b01414" opacity="0.21"/>
<circle cx="221.8" cy="175.1" r="0.69" fill="#b01414" opacity="0.27"/>
<circle cx="183.3" cy="69.7" r="0.67" fill="#b01414" opacity="0.41"/>
<circle cx="181.8" cy="159.3" r="0.44" fill="#b01414" opacity="0.27"/>
<circle cx="178.7" cy="166.2" r="0.70" fill="#b01414" opacity="0.17"/>
<circle cx="239.5" cy="52.6" r="0.65" fill="#b01414" opacity="0.12"/>
<circle cx="170.0" cy="140.8" r="0.43" fill="#b01414" opacity="0.42"/>
<circle cx="270.8" cy="138.7" r="0.35" fill="#b01414" opacity="0.34"/>
<circle cx="279.8" cy="94.5" r="0.33" fill="#b01414" opacity="0.18"/>
<circle cx="196.5" cy="138.2" r="0.38" fill="#b01414" opacity="0.16"/>
<circle cx="187.1" cy="130.7" r="0.62" fill="#b01414" opacity="0.23"/>
<circle cx="243.4" cy="166.9" r="0.54" fill="#b01414" opacity="0.18"/>
<circle cx="195.7" cy="173.9" r="0.57" fill="#b01414" opacity="0.20"/>
<circle cx="240.5" cy="35.8" r="0.69" fill="#b01414" opacity="0.25"/>
<circle cx="225.7" cy="108.6" r="0.32" fill="#b01414" opacity="0.31"/>
<circle cx="193.6" cy="62.4" r="0.62" fill="#b01414" opacity="0.13"/>
<circle cx="193.6" cy="145.7" r="0.40" fill="#b01414" opacity="0.20"/>
<circle cx="228.3" cy="51.7" r="0.66" fill="#b01414" opacity="0.45"/>
<circle cx="160.4" cy="97.2" r="0.60" fill="#b01414" opacity="0.23"/>
<circle cx="278.7" cy="103.5" r="0.37" fill="#b01414" opacity="0.29"/>
<circle cx="241.1" cy="80.3" r="0.56" fill="#b01414" opacity="0.37"/>
<circle cx="224.2" cy="104.4" r="0.64" fill="#b01414" opacity="0.34"/>
<circle cx="224.7" cy="178.0" r="0.37" fill="#b01414" opacity="0.37"/>
<circle cx="177.8" cy="121.3" r="0.39" fill="#b01414" opacity="0.25"/>
<circle cx="258.0" cy="150.8" r="0.62" fill="#b01414" opacity="0.18"/>
<circle cx="220.6" cy="57.5" r="0.53" fill="#b01414" opacity="0.27"/>
<circle cx="160.7" cy="119.5" r="0.59" fill="#b01414" opacity="0.30"/>
<circle cx="271.2" cy="50.7" r="0.36" fill="#b01414" opacity="0.11"/>
<circle cx="221.5" cy="92.7" r="0.48" fill="#b01414" opacity="0.19"/>
<circle cx="261.4" cy="33.0" r="0.66" fill="#b01414" opacity="0.30"/>
<circle cx="227.7" cy="151.6" r="0.40" fill="#b01414" opacity="0.15"/>
<circle cx="197.1" cy="28.0" r="0.43" fill="#b01414" opacity="0.32"/>
<circle cx="225.4" cy="64.7" r="0.54" fill="#b01414" opacity="0.13"/>
<circle cx="264.3" cy="49.3" r="0.40" fill="#b01414" opacity="0.16"/>
<circle cx="247.2" cy="158.1" r="0.61" fill="#b01414" opacity="0.12"/>
<circle cx="210.2" cy="81.1" r="0.39" fill="#b01414" opacity="0.44"/>
<circle cx="161.6" cy="101.8" r="0.60" fill="#b01414" opacity="0.45"/>
<circle cx="175.1" cy="96.1" r="0.60" fill="#b01414" opacity="0.11"/>
<circle cx="187.8" cy="167.9" r="0.36" fill="#b01414" opacity="0.24"/>
<circle cx="195.3" cy="91.0" r="0.33" fill="#b01414" opacity="0.11"/>
<circle cx="287.5" cy="146.9" r="0.59" fill="#b01414" opacity="0.18"/>
<circle cx="189.4" cy="112.1" r="0.40" fill="#b01414" opacity="0.26"/>
<circle cx="279.1" cy="81.1" r="0.43" fill="#b01414" opacity="0.44"/>
<circle cx="236.6" cy="27.5" r="0.46" fill="#b01414" opacity="0.33"/>
<circle cx="163.7" cy="77.6" r="0.58" fill="#b01414" opacity="0.40"/>
<circle cx="234.0" cy="167.3" r="0.49" fill="#b01414" opacity="0.24"/>
<circle cx="267.3" cy="83.9" r="0.61" fill="#b01414" opacity="0.18"/>
<circle cx="201.9" cy="51.3" r="0.52" fill="#b01414" opacity="0.16"/>
<circle cx="182.9" cy="56.4" r="0.49" fill="#b01414" opacity="0.21"/>
<circle cx="215.0" cy="184.9" r="0.57" fill="#b01414" opacity="0.40"/>
<circle cx="183.0" cy="84.2" r="0.33" fill="#b01414" opacity="0.34"/>
<circle cx="203.9" cy="66.3" r="0.31" fill="#b01414" opacity="0.16"/>
<circle cx="190.6" cy="85.8" r="0.67" fill="#b01414" opacity="0.35"/>
<circle cx="191.5" cy="80.6" r="0.36" fill="#b01414" opacity="0.43"/>
<circle cx="203.5" cy="147.3" r="0.59" fill="#b01414" opacity="0.42"/>
<circle cx="158.7" cy="74.1" r="0.45" fill="#b01414" opacity="0.13"/>
<circle cx="272.5" cy="74.7" r="0.61" fill="#b01414" opacity="0.28"/>
<circle cx="163.2" cy="86.0" r="0.40" fill="#b01414" opacity="0.11"/>
<circle cx="175.9" cy="119.2" r="0.31" fill="#b01414" opacity="0.21"/>
<circle cx="212.0" cy="110.8" r="0.35" fill="#b01414" opacity="0.35"/>
<circle cx="190.4" cy="140.7" r="0.57" fill="#b01414" opacity="0.15"/>
<circle cx="183.0" cy="67.3" r="0.59" fill="#b01414" opacity="0.24"/>
<circle cx="207.0" cy="163.9" r="0.39" fill="#b01414" opacity="0.20"/>
<circle cx="201.5" cy="56.6" r="0.32" fill="#b01414" opacity="0.11"/>
<circle cx="239.2" cy="114.4" r="0.62" fill="#b01414" opacity="0.44"/>
<circle cx="195.3" cy="131.6" r="0.67" fill="#b01414" opacity="0.18"/>
<circle cx="247.0" cy="131.0" r="0.68" fill="#b01414" opacity="0.40"/>
<circle cx="187.0" cy="125.4" r="0.34" fill="#b01414" opacity="0.25"/>
<circle cx="207.8" cy="30.9" r="0.45" fill="#b01414" opacity="0.21"/>
<circle cx="221.6" cy="67.2" r="0.36" fill="#b01414" opacity="0.24"/>
<circle cx="218.7" cy="48.5" r="0.57" fill="#b01414" opacity="0.18"/>
<circle cx="168.3" cy="77.4" r="0.47" fill="#b01414" opacity="0.15"/>
<circle cx="232.9" cy="136.7" r="0.52" fill="#b01414" opacity="0.35"/>
<circle cx="159.0" cy="85.6" r="0.45" fill="#b01414" opacity="0.12"/>
<circle cx="209.4" cy="30.0" r="0.50" fill="#b01414" opacity="0.31"/>
<circle cx="217.9" cy="74.7" r="0.40" fill="#b01414" opacity="0.11"/>
<circle cx="201.8" cy="168.1" r="0.53" fill="#b01414" opacity="0.19"/>
<circle cx="244.2" cy="51.7" r="0.49" fill="#b01414" opacity="0.32"/>
<circle cx="282.0" cy="80.8" r="0.53" fill="#b01414" opacity="0.43"/>
<circle cx="257.8" cy="124.5" r="0.55" fill="#b01414" opacity="0.24"/>
<circle cx="210.9" cy="66.6" r="0.63" fill="#b01414" opacity="0.41"/>
<circle cx="206.4" cy="171.1" r="0.32" fill="#b01414" opacity="0.15"/>
<circle cx="222.9" cy="71.9" r="0.44" fill="#b01414" opacity="0.44"/>
<circle cx="175.8" cy="52.8" r="0.39" fill="#b01414" opacity="0.34"/>
<circle cx="187.0" cy="21.2" r="0.52" fill="#b01414" opacity="0.24"/>
<circle cx="187.6" cy="102.4" r="0.56" fill="#b01414" opacity="0.29"/>
<circle cx="238.4" cy="113.5" r="0.63" fill="#b01414" opacity="0.44"/>
<circle cx="200.0" cy="78.2" r="0.65" fill="#b01414" opacity="0.21"/>
<circle cx="250.5" cy="135.7" r="0.57" fill="#b01414" opacity="0.44"/>
<circle cx="264.8" cy="47.3" r="0.55" fill="#b01414" opacity="0.27"/>
<circle cx="230.4" cy="82.0" r="0.41" fill="#b01414" opacity="0.36"/>
<circle cx="226.5" cy="60.1" r="0.40" fill="#b01414" opacity="0.21"/>
<circle cx="179.5" cy="105.8" r="0.35" fill="#b01414" opacity="0.12"/>
<circle cx="165.1" cy="37.9" r="0.58" fill="#b01414" opacity="0.14"/>
<circle cx="215.6" cy="148.4" r="0.49" fill="#b01414" opacity="0.16"/>
<circle cx="270.4" cy="164.5" r="0.32" fill="#b01414" opacity="0.19"/>
<circle cx="223.0" cy="152.4" r="0.46" fill="#b01414" opacity="0.35"/>
<circle cx="189.2" cy="139.1" r="0.43" fill="#b01414" opacity="0.22"/>
<circle cx="256.2" cy="160.0" r="0.63" fill="#b01414" opacity="0.30"/>
<circle cx="211.5" cy="137.6" r="0.55" fill="#b01414" opacity="0.39"/>
<circle cx="261.8" cy="41.7" r="0.45" fill="#b01414" opacity="0.33"/>
<circle cx="186.5" cy="51.5" r="0.31" fill="#b01414" opacity="0.30"/>
<circle cx="280.2" cy="181.1" r="0.35" fill="#b01414" opacity="0.34"/>
<circle cx="211.3" cy="125.2" r="0.46" fill="#b01414" opacity="0.43"/>
<circle cx="286.5" cy="29.0" r="0.59" fill="#b01414" opacity="0.14"/>
<circle cx="161.6" cy="68.2" r="0.59" fill="#b01414" opacity="0.45"/>
<circle cx="171.9" cy="75.5" r="0.31" fill="#b01414" opacity="0.29"/>
<circle cx="219.8" cy="82.6" r="0.42" fill="#b01414" opacity="0.38"/>
<circle cx="266.7" cy="67.8" r="0.46" fill="#b01414" opacity="0.32"/>
<circle cx="257.0" cy="182.9" r="0.46" fill="#b01414" opacity="0.34"/>
<circle cx="228.1" cy="153.0" r="0.36" fill="#b01414" opacity="0.16"/>
<circle cx="170.1" cy="175.0" r="0.40" fill="#b01414" opacity="0.27"/>
<circle cx="171.9" cy="74.4" r="0.31" fill="#b01414" opacity="0.30"/>
<circle cx="175.0" cy="124.2" r="0.41" fill="#b01414" opacity="0.18"/>
<circle cx="219.7" cy="81.4" r="0.40" fill="#b01414" opacity="0.12"/>
<circle cx="164.5" cy="168.3" r="0.42" fill="#b01414" opacity="0.13"/>
<circle cx="180.1" cy="100.8" r="0.70" fill="#b01414" opacity="0.17"/>
<circle cx="270.5" cy="100.9" r="0.47" fill="#b01414" opacity="0.38"/>
<circle cx="208.3" cy="30.5" r="0.52" fill="#b01414" opacity="0.33"/>
<circle cx="238.2" cy="66.7" r="0.68" fill="#b01414" opacity="0.40"/>
<circle cx="287.2" cy="94.1" r="0.63" fill="#b01414" opacity="0.35"/>
<circle cx="179.2" cy="25.4" r="0.37" fill="#b01414" opacity="0.14"/>
<circle cx="165.9" cy="80.2" r="0.60" fill="#b01414" opacity="0.21"/>
<circle cx="223.9" cy="22.7" r="0.38" fill="#b01414" opacity="0.44"/>
<circle cx="157.5" cy="108.0" r="0.62" fill="#b01414" opacity="0.38"/>
<circle cx="253.1" cy="86.9" r="0.62" fill="#b01414" opacity="0.39"/>
<circle cx="257.3" cy="183.7" r="0.34" fill="#b01414" opacity="0.43"/>
<circle cx="209.1" cy="137.4" r="0.40" fill="#b01414" opacity="0.42"/>
<circle cx="159.1" cy="116.2" r="0.39" fill="#b01414" opacity="0.24"/>
<circle cx="204.8" cy="129.4" r="0.62" fill="#b01414" opacity="0.23"/>
<circle cx="240.2" cy="79.4" r="0.41" fill="#b01414" opacity="0.42"/>
<circle cx="198.5" cy="36.5" r="0.43" fill="#b01414" opacity="0.36"/>
<circle cx="183.9" cy="143.6" r="0.52" fill="#b01414" opacity="0.34"/>
<circle cx="179.4" cy="38.5" r="0.36" fill="#b01414" opacity="0.22"/>
<circle cx="212.9" cy="22.6" r="0.50" fill="#b01414" opacity="0.24"/>
<circle cx="198.4" cy="109.6" r="0.68" fill="#b01414" opacity="0.17"/>
<circle cx="272.2" cy="73.9" r="0.60" fill="#b01414" opacity="0.14"/>
<circle cx="286.4" cy="92.0" r="0.69" fill="#b01414" opacity="0.18"/>
<circle cx="209.9" cy="137.5" r="0.37" fill="#b01414" opacity="0.20"/>
<circle cx="245.4" cy="177.4" r="0.43" fill="#b01414" opacity="0.16"/>
<circle cx="203.1" cy="184.3" r="0.36" fill="#b01414" opacity="0.32"/>
<circle cx="205.9" cy="127.2" r="0.38" fill="#b01414" opacity="0.32"/>
<circle cx="273.2" cy="162.3" r="0.55" fill="#b01414" opacity="0.28"/>
<circle cx="230.9" cy="39.8" r="0.63" fill="#b01414" opacity="0.34"/>
<circle cx="215.8" cy="130.8" r="0.47" fill="#b01414" opacity="0.23"/>
<circle cx="186.4" cy="120.1" r="0.53" fill="#b01414" opacity="0.28"/>
<circle cx="160.3" cy="124.5" r="0.48" fill="#b01414" opacity="0.31"/>
<circle cx="234.5" cy="174.7" r="0.36" fill="#b01414" opacity="0.26"/>
<circle cx="287.1" cy="142.8" r="0.43" fill="#b01414" opacity="0.36"/>
<circle cx="286.6" cy="87.3" r="0.65" fill="#b01414" opacity="0.14"/>
<circle cx="286.7" cy="102.0" r="0.39" fill="#b01414" opacity="0.39"/>
<circle cx="241.7" cy="175.7" r="0.63" fill="#b01414" opacity="0.38"/>
<circle cx="223.5" cy="185.0" r="0.33" fill="#b01414" opacity="0.40"/>
<circle cx="249.9" cy="62.4" r="0.62" fill="#b01414" opacity="0.26"/>
<circle cx="226.8" cy="163.8" r="0.38" fill="#b01414" opacity="0.20"/>
<circle cx="241.0" cy="33.1" r="0.52" fill="#b01414" opacity="0.38"/>
<circle cx="220.8" cy="60.9" r="0.62" fill="#b01414" opacity="0.40"/>
<circle cx="257.7" cy="111.6" r="0.66" fill="#b01414" opacity="0.38"/>
<circle cx="176.0" cy="81.4" r="0.34" fill="#b01414" opacity="0.11"/>
<circle cx="201.6" cy="163.7" r="0.63" fill="#b01414" opacity="0.14"/>
<circle cx="180.0" cy="85.1" r="0.64" fill="#b01414" opacity="0.32"/>
<circle cx="275.0" cy="32.9" r="0.70" fill="#b01414" opacity="0.17"/>
<circle cx="239.1" cy="165.6" r="0.59" fill="#b01414" opacity="0.17"/>
<circle cx="244.2" cy="92.1" r="0.31" fill="#b01414" opacity="0.22"/>
<circle cx="197.6" cy="124.9" r="0.41" fill="#b01414" opacity="0.31"/>
<circle cx="247.7" cy="50.8" r="0.35" fill="#b01414" opacity="0.34"/>
<circle cx="217.6" cy="42.3" r="0.35" fill="#b01414" opacity="0.43"/>
<circle cx="236.5" cy="80.0" r="0.38" fill="#b01414" opacity="0.45"/>
<circle cx="247.3" cy="142.5" r="0.44" fill="#b01414" opacity="0.21"/>
<circle cx="209.9" cy="45.1" r="0.55" fill="#b01414" opacity="0.25"/>
<circle cx="264.3" cy="88.5" r="0.48" fill="#b01414" opacity="0.28"/>
<circle cx="280.3" cy="78.1" r="0.58" fill="#b01414" opacity="0.18"/>
<circle cx="232.5" cy="68.0" r="0.65" fill="#b01414" opacity="0.20"/>
<circle cx="268.8" cy="132.7" r="0.48" fill="#b01414" opacity="0.43"/>
<circle cx="207.2" cy="143.6" r="0.54" fill="#b01414" opacity="0.26"/>
<circle cx="164.5" cy="90.2" r="0.41" fill="#b01414" opacity="0.25"/>
<circle cx="282.0" cy="69.3" r="0.58" fill="#b01414" opacity="0.34"/>
<circle cx="188.3" cy="88.9" r="0.35" fill="#b01414" opacity="0.41"/>
<circle cx="189.2" cy="90.4" r="0.44" fill="#b01414" opacity="0.39"/>
<circle cx="268.2" cy="118.5" r="0.52" fill="#b01414" opacity="0.13"/>
<circle cx="274.3" cy="35.6" r="0.45" fill="#b01414" opacity="0.23"/>
<circle cx="251.4" cy="131.4" r="0.44" fill="#b01414" opacity="0.41"/>
<circle cx="281.4" cy="24.8" r="0.55" fill="#b01414" opacity="0.26"/>
<circle cx="203.8" cy="97.7" r="0.43" fill="#b01414" opacity="0.33"/>
<circle cx="235.9" cy="181.1" r="0.69" fill="#b01414" opacity="0.45"/>
<circle cx="208.2" cy="157.7" r="0.56" fill="#b01414" opacity="0.35"/>
<circle cx="287.7" cy="32.0" r="0.48" fill="#b01414" opacity="0.24"/>
<circle cx="242.6" cy="57.0" r="0.70" fill="#b01414" opacity="0.17"/>
<circle cx="204.8" cy="44.6" r="0.46" fill="#b01414" opacity="0.36"/>
<circle cx="167.0" cy="48.5" r="0.56" fill="#b01414" opacity="0.32"/>
<circle cx="253.9" cy="62.8" r="0.62" fill="#b01414" opacity="0.36"/>
<circle cx="258.4" cy="40.7" r="0.49" fill="#b01414" opacity="0.11"/>
<circle cx="269.5" cy="176.8" r="0.66" fill="#b01414" opacity="0.11"/>
<circle cx="202.3" cy="109.4" r="0.51" fill="#b01414" opacity="0.14"/>
<circle cx="260.2" cy="70.8" r="0.50" fill="#b01414" opacity="0.14"/>
<circle cx="231.0" cy="42.4" r="0.34" fill="#b01414" opacity="0.28"/>
<circle cx="194.8" cy="149.3" r="0.40" fill="#b01414" opacity="0.24"/>
<circle cx="163.2" cy="56.9" r="0.48" fill="#b01414" opacity="0.30"/>
<circle cx="216.6" cy="161.4" r="0.34" fill="#b01414" opacity="0.40"/>
<circle cx="176.4" cy="181.1" r="0.51" fill="#b01414" opacity="0.24"/>
<circle cx="236.8" cy="163.5" r="0.69" fill="#b01414" opacity="0.24"/>
<circle cx="157.4" cy="46.4" r="0.63" fill="#b01414" opacity="0.36"/>
<circle cx="250.1" cy="46.8" r="0.51" fill="#b01414" opacity="0.11"/>
<circle cx="170.6" cy="70.6" r="0.69" fill="#b01414" opacity="0.33"/>
<circle cx="267.9" cy="28.6" r="0.47" fill="#b01414" opacity="0.13"/>
<circle cx="190.4" cy="39.4" r="0.67" fill="#b01414" opacity="0.22"/>
<circle cx="220.5" cy="128.9" r="0.65" fill="#b01414" opacity="0.43"/>
<circle cx="231.0" cy="103.7" r="0.66" fill="#b01414" opacity="0.24"/>
<circle cx="195.5" cy="143.0" r="0.40" fill="#b01414" opacity="0.23"/>
<circle cx="212.7" cy="99.7" r="0.44" fill="#b01414" opacity="0.25"/>
<circle cx="215.5" cy="29.2" r="0.63" fill="#b01414" opacity="0.12"/>
<circle cx="225.7" cy="111.3" r="0.46" fill="#b01414" opacity="0.18"/>
<circle cx="169.1" cy="82.4" r="0.43" fill="#b01414" opacity="0.27"/>
<circle cx="186.4" cy="144.7" r="0.49" fill="#b01414" opacity="0.10"/>
<circle cx="209.7" cy="180.4" r="0.30" fill="#b01414" opacity="0.31"/>
<circle cx="282.8" cy="81.3" r="0.54" fill="#b01414" opacity="0.23"/>
<circle cx="195.8" cy="121.5" r="0.54" fill="#b01414" opacity="0.21"/>
<circle cx="221.7" cy="106.2" r="0.60" fill="#b01414" opacity="0.12"/>
<circle cx="168.3" cy="62.6" r="0.41" fill="#b01414" opacity="0.38"/>
<circle cx="212.2" cy="162.9" r="0.46" fill="#b01414" opacity="0.20"/>
<circle cx="245.7" cy="35.1" r="0.69" fill="#b01414" opacity="0.39"/>
<circle cx="199.3" cy="73.4" r="0.63" fill="#b01414" opacity="0.38"/>
<circle cx="240.8" cy="30.4" r="0.61" fill="#b01414" opacity="0.12"/>
<circle cx="238.5" cy="112.1" r="0.67" fill="#b01414" opacity="0.32"/>
<circle cx="158.9" cy="175.2" r="0.60" fill="#b01414" opacity="0.30"/>
<circle cx="156.7" cy="142.6" r="0.47" fill="#b01414" opacity="0.34"/>
<circle cx="285.8" cy="172.3" r="0.33" fill="#b01414" opacity="0.37"/>
<circle cx="214.1" cy="145.0" r="0.45" fill="#b01414" opacity="0.26"/>
<circle cx="213.7" cy="40.5" r="0.43" fill="#b01414" opacity="0.36"/>
<circle cx="165.4" cy="40.1" r="0.63" fill="#b01414" opacity="0.33"/>
<circle cx="228.4" cy="39.7" r="0.35" fill="#b01414" opacity="0.21"/>
<circle cx="281.9" cy="113.4" r="0.67" fill="#b01414" opacity="0.17"/>
<circle cx="210.8" cy="109.5" r="0.64" fill="#b01414" opacity="0.14"/>
<circle cx="271.3" cy="98.9" r="0.31" fill="#b01414" opacity="0.25"/>
<circle cx="205.8" cy="132.3" r="0.67" fill="#b01414" opacity="0.27"/>
<circle cx="247.0" cy="85.0" r="0.61" fill="#b01414" opacity="0.14"/>
<circle cx="254.0" cy="48.5" r="0.53" fill="#b01414" opacity="0.17"/>
<circle cx="201.7" cy="48.0" r="0.44" fill="#b01414" opacity="0.31"/>
<circle cx="224.6" cy="85.1" r="0.53" fill="#b01414" opacity="0.39"/>
<circle cx="203.3" cy="117.3" r="0.49" fill="#b01414" opacity="0.44"/>
<circle cx="199.3" cy="136.1" r="0.39" fill="#b01414" opacity="0.19"/>
<circle cx="252.4" cy="115.9" r="0.40" fill="#b01414" opacity="0.12"/>
<circle cx="264.9" cy="83.3" r="0.59" fill="#b01414" opacity="0.25"/>
<circle cx="237.5" cy="113.3" r="0.69" fill="#b01414" opacity="0.42"/>
<circle cx="216.2" cy="101.3" r="0.39" fill="#b01414" opacity="0.36"/>
<circle cx="169.5" cy="71.6" r="0.64" fill="#b01414" opacity="0.11"/>
<circle cx="248.2" cy="114.7" r="0.52" fill="#b01414" opacity="0.22"/>
<circle cx="176.0" cy="177.9" r="0.61" fill="#b01414" opacity="0.38"/>
<circle cx="168.9" cy="150.4" r="0.39" fill="#b01414" opacity="0.17"/>
<circle cx="226.6" cy="121.6" r="0.35" fill="#b01414" opacity="0.37"/>
<circle cx="232.9" cy="169.4" r="0.67" fill="#b01414" opacity="0.34"/>
<circle cx="204.1" cy="177.9" r="0.59" fill="#b01414" opacity="0.20"/>
<circle cx="269.2" cy="140.9" r="0.41" fill="#b01414" opacity="0.19"/>
<circle cx="158.7" cy="109.6" r="0.40" fill="#b01414" opacity="0.20"/>
<circle cx="189.4" cy="42.7" r="0.49" fill="#b01414" opacity="0.20"/>
<circle cx="193.6" cy="66.8" r="0.50" fill="#b01414" opacity="0.41"/>
<circle cx="177.1" cy="162.8" r="0.64" fill="#b01414" opacity="0.31"/>
<circle cx="227.8" cy="142.1" r="0.51" fill="#b01414" opacity="0.33"/>
<circle cx="277.3" cy="148.9" r="0.40" fill="#b01414" opacity="0.12"/>
<circle cx="279.6" cy="80.8" r="0.61" fill="#b01414" opacity="0.18"/>
<circle cx="215.8" cy="82.1" r="0.59" fill="#b01414" opacity="0.43"/>
<circle cx="222.7" cy="114.4" r="0.44" fill="#b01414" opacity="0.18"/>
<circle cx="281.4" cy="39.2" r="0.68" fill="#b01414" opacity="0.33"/>
<circle cx="165.5" cy="169.8" r="0.34" fill="#b01414" opacity="0.30"/>
<circle cx="171.8" cy="184.2" r="0.42" fill="#b01414" opacity="0.41"/>
<circle cx="164.1" cy="130.9" r="0.33" fill="#b01414" opacity="0.11"/>
<circle cx="231.4" cy="183.2" r="0.57" fill="#b01414" opacity="0.40"/>
<circle cx="259.6" cy="107.0" r="0.33" fill="#b01414" opacity="0.28"/>
<circle cx="180.4" cy="107.9" r="0.44" fill="#b01414" opacity="0.27"/>
<circle cx="182.1" cy="137.3" r="0.47" fill="#b01414" opacity="0.27"/>
<circle cx="166.4" cy="101.3" r="0.52" fill="#b01414" opacity="0.44"/>
<circle cx="230.1" cy="43.3" r="0.42" fill="#b01414" opacity="0.22"/>
<circle cx="248.7" cy="175.9" r="0.69" fill="#b01414" opacity="0.43"/>
<circle cx="278.1" cy="162.7" r="0.67" fill="#b01414" opacity="0.11"/>
<circle cx="220.6" cy="118.5" r="0.57" fill="#b01414" opacity="0.31"/>
<circle cx="236.9" cy="175.0" r="0.33" fill="#b01414" opacity="0.28"/>
<circle cx="282.7" cy="26.3" r="0.34" fill="#b01414" opacity="0.40"/>
<circle cx="282.3" cy="25.0" r="0.31" fill="#b01414" opacity="0.39"/>
<circle cx="246.9" cy="106.8" r="0.53" fill="#b01414" opacity="0.37"/>
<circle cx="262.6" cy="21.1" r="0.33" fill="#b01414" opacity="0.38"/>
<circle cx="284.8" cy="158.5" r="0.46" fill="#b01414" opacity="0.22"/>
<circle cx="201.8" cy="23.5" r="0.61" fill="#b01414" opacity="0.19"/>
<circle cx="233.3" cy="107.8" r="0.43" fill="#b01414" opacity="0.34"/>
<circle cx="216.0" cy="59.7" r="0.65" fill="#b01414" opacity="0.16"/>
<circle cx="175.8" cy="62.8" r="0.49" fill="#b01414" opacity="0.37"/>
<circle cx="199.9" cy="60.3" r="0.56" fill="#b01414" opacity="0.19"/>
<circle cx="225.0" cy="63.1" r="0.65" fill="#b01414" opacity="0.16"/>
<circle cx="186.7" cy="70.7" r="0.43" fill="#b01414" opacity="0.35"/>
<circle cx="245.0" cy="151.4" r="0.52" fill="#b01414" opacity="0.13"/>
<circle cx="256.8" cy="61.3" r="0.39" fill="#b01414" opacity="0.25"/>
<circle cx="286.7" cy="82.2" r="0.44" fill="#b01414" opacity="0.42"/>
<circle cx="286.7" cy="84.9" r="0.35" fill="#b01414" opacity="0.38"/>
<circle cx="259.3" cy="76.8" r="0.62" fill="#b01414" opacity="0.23"/>
<circle cx="193.9" cy="118.9" r="0.60" fill="#b01414" opacity="0.27"/>
<circle cx="264.0" cy="23.3" r="0.50" fill="#b01414" opacity="0.23"/>
<circle cx="164.6" cy="171.9" r="0.36" fill="#b01414" opacity="0.17"/>
<circle cx="271.9" cy="179.5" r="0.67" fill="#b01414" opacity="0.22"/>
<circle cx="278.9" cy="44.4" r="0.59" fill="#b01414" opacity="0.43"/>
<circle cx="181.4" cy="43.4" r="0.57" fill="#b01414" opacity="0.41"/>
<circle cx="251.9" cy="177.6" r="0.48" fill="#b01414" opacity="0.23"/>
<circle cx="171.9" cy="66.0" r="0.68" fill="#b01414" opacity="0.13"/>
<circle cx="180.4" cy="78.3" r="0.32" fill="#b01414" opacity="0.21"/>
<circle cx="180.1" cy="41.3" r="0.51" fill="#b01414" opacity="0.29"/>
<circle cx="230.9" cy="146.8" r="0.51" fill="#b01414" opacity="0.43"/>
<circle cx="166.8" cy="57.8" r="0.33" fill="#b01414" opacity="0.21"/>
<circle cx="256.4" cy="173.5" r="0.50" fill="#b01414" opacity="0.16"/>
<circle cx="199.6" cy="114.8" r="0.42" fill="#b01414" opacity="0.38"/>
<circle cx="284.4" cy="96.9" r="0.54" fill="#b01414" opacity="0.40"/>
<circle cx="217.4" cy="52.5" r="0.68" fill="#b01414" opacity="0.44"/>
<circle cx="159.2" cy="146.8" r="0.46" fill="#b01414" opacity="0.12"/>
<circle cx="177.5" cy="49.6" r="0.59" fill="#b01414" opacity="0.17"/>
<circle cx="158.6" cy="57.3" r="0.62" fill="#b01414" opacity="0.27"/>
<circle cx="242.2" cy="97.7" r="0.37" fill="#b01414" opacity="0.11"/>
<circle cx="196.2" cy="27.9" r="0.40" fill="#b01414" opacity="0.32"/>
<circle cx="204.8" cy="99.0" r="0.55" fill="#b01414" opacity="0.21"/>
<circle cx="203.1" cy="166.8" r="0.53" fill="#b01414" opacity="0.25"/>
<circle cx="227.3" cy="97.0" r="0.43" fill="#b01414" opacity="0.42"/>
<circle cx="186.8" cy="175.4" r="0.64" fill="#b01414" opacity="0.41"/>
<circle cx="177.5" cy="105.0" r="0.69" fill="#b01414" opacity="0.20"/>
<circle cx="178.6" cy="140.4" r="0.39" fill="#b01414" opacity="0.30"/>
<circle cx="176.8" cy="177.3" r="0.41" fill="#b01414" opacity="0.13"/>
<circle cx="246.7" cy="78.3" r="0.52" fill="#b01414" opacity="0.27"/>
<circle cx="277.8" cy="105.8" r="0.45" fill="#b01414" opacity="0.10"/>
<circle cx="221.5" cy="65.4" r="0.53" fill="#b01414" opacity="0.32"/>
<circle cx="217.0" cy="35.8" r="0.50" fill="#b01414" opacity="0.27"/>
<circle cx="240.7" cy="181.1" r="0.41" fill="#b01414" opacity="0.25"/>
<circle cx="167.2" cy="153.0" r="0.39" fill="#b01414" opacity="0.39"/>
<circle cx="261.3" cy="63.0" r="0.66" fill="#b01414" opacity="0.28"/>
<circle cx="212.3" cy="112.6" r="0.68" fill="#b01414" opacity="0.27"/>
<circle cx="219.7" cy="69.0" r="0.64" fill="#b01414" opacity="0.28"/>
<circle cx="201.2" cy="53.4" r="0.39" fill="#b01414" opacity="0.39"/>
<circle cx="262.1" cy="182.5" r="0.67" fill="#b01414" opacity="0.34"/>
<circle cx="261.3" cy="138.4" r="0.62" fill="#b01414" opacity="0.38"/>
<circle cx="179.3" cy="155.4" r="0.42" fill="#b01414" opacity="0.19"/>
<circle cx="277.4" cy="24.8" r="0.50" fill="#b01414" opacity="0.22"/>
<circle cx="260.5" cy="121.7" r="0.66" fill="#b01414" opacity="0.43"/>
<circle cx="241.0" cy="31.6" r="0.57" fill="#b01414" opacity="0.14"/>
<circle cx="285.6" cy="164.8" r="0.42" fill="#b01414" opacity="0.17"/>
<circle cx="247.6" cy="146.1" r="0.69" fill="#b01414" opacity="0.32"/>
<circle cx="172.5" cy="140.9" r="0.32" fill="#b01414" opacity="0.40"/>
<circle cx="257.5" cy="150.6" r="0.65" fill="#b01414" opacity="0.30"/>
<circle cx="280.5" cy="126.5" r="0.50" fill="#b01414" opacity="0.23"/>
<circle cx="202.6" cy="24.8" r="0.36" fill="#b01414" opacity="0.38"/>
<circle cx="186.2" cy="128.8" r="0.61" fill="#b01414" opacity="0.34"/>
<circle cx="224.1" cy="73.1" r="0.41" fill="#b01414" opacity="0.17"/>
<circle cx="241.5" cy="134.2" r="0.68" fill="#b01414" opacity="0.22"/>
<circle cx="278.4" cy="171.4" r="0.42" fill="#b01414" opacity="0.43"/>
<circle cx="237.8" cy="179.8" r="0.61" fill="#b01414" opacity="0.22"/>
<circle cx="192.9" cy="107.2" r="0.50" fill="#b01414" opacity="0.11"/>
<circle cx="269.9" cy="109.4" r="0.49" fill="#b01414" opacity="0.36"/>
<circle cx="189.0" cy="53.9" r="0.53" fill="#b01414" opacity="0.18"/>
<circle cx="199.2" cy="32.5" r="0.32" fill="#b01414" opacity="0.22"/>
<circle cx="225.6" cy="177.6" r="0.56" fill="#b01414" opacity="0.25"/>
<circle cx="209.7" cy="59.8" r="0.49" fill="#b01414" opacity="0.44"/>
<circle cx="172.1" cy="92.4" r="0.57" fill="#b01414" opacity="0.37"/>
<circle cx="229.3" cy="126.8" r="0.68" fill="#b01414" opacity="0.42"/>
<circle cx="189.2" cy="110.3" r="0.70" fill="#b01414" opacity="0.28"/>
<circle cx="181.0" cy="147.4" r="0.32" fill="#b01414" opacity="0.15"/>
<circle cx="228.8" cy="66.0" r="0.59" fill="#b01414" opacity="0.35"/>
<circle cx="198.1" cy="147.5" r="0.56" fill="#b01414" opacity="0.35"/>
<circle cx="216.3" cy="92.4" r="0.34" fill="#b01414" opacity="0.27"/>
<circle cx="282.0" cy="167.6" r="0.32" fill="#b01414" opacity="0.12"/>
<circle cx="191.6" cy="135.6" r="0.48" fill="#b01414" opacity="0.14"/>
<circle cx="212.2" cy="115.6" r="0.60" fill="#b01414" opacity="0.24"/>
<circle cx="241.8" cy="133.4" r="0.55" fill="#b01414" opacity="0.12"/>
<circle cx="249.8" cy="42.2" r="0.32" fill="#b01414" opacity="0.27"/>
<circle cx="158.2" cy="33.0" r="0.46" fill="#b01414" opacity="0.26"/>
<circle cx="169.9" cy="178.4" r="0.64" fill="#b01414" opacity="0.27"/>
<circle cx="233.6" cy="73.1" r="0.69" fill="#b01414" opacity="0.14"/>
<circle cx="196.1" cy="57.5" r="0.65" fill="#b01414" opacity="0.28"/>
<circle cx="210.2" cy="86.8" r="0.65" fill="#b01414" opacity="0.19"/>
<circle cx="260.5" cy="137.8" r="0.48" fill="#b01414" opacity="0.23"/>
<circle cx="213.7" cy="95.7" r="0.43" fill="#b01414" opacity="0.32"/>
<circle cx="210.3" cy="71.1" r="0.61" fill="#b01414" opacity="0.26"/>
<circle cx="218.5" cy="166.1" r="0.48" fill="#b01414" opacity="0.23"/>
<circle cx="274.5" cy="182.1" r="0.61" fill="#b01414" opacity="0.24"/>
<circle cx="244.6" cy="143.3" r="0.42" fill="#b01414" opacity="0.35"/>
<circle cx="281.4" cy="129.2" r="0.57" fill="#b01414" opacity="0.25"/>
<circle cx="242.2" cy="58.3" r="0.61" fill="#b01414" opacity="0.29"/>
<circle cx="285.4" cy="77.4" r="0.58" fill="#b01414" opacity="0.11"/>
<circle cx="210.9" cy="147.5" r="0.40" fill="#b01414" opacity="0.31"/>
<circle cx="185.2" cy="86.7" r="0.70" fill="#b01414" opacity="0.17"/>
<circle cx="276.5" cy="30.9" r="0.53" fill="#b01414" opacity="0.39"/>
<circle cx="266.5" cy="85.6" r="0.54" fill="#b01414" opacity="0.35"/>
<circle cx="256.5" cy="144.2" r="0.53" fill="#b01414" opacity="0.19"/>
<circle cx="249.1" cy="113.6" r="0.52" fill="#b01414" opacity="0.45"/>
<circle cx="174.0" cy="149.8" r="0.43" fill="#b01414" opacity="0.35"/>
<circle cx="281.4" cy="66.3" r="0.53" fill="#b01414" opacity="0.28"/>
<circle cx="221.4" cy="48.6" r="0.55" fill="#b01414" opacity="0.41"/>
<circle cx="243.6" cy="68.7" r="0.62" fill="#b01414" opacity="0.25"/>
<circle cx="175.2" cy="121.0" r="0.48" fill="#b01414" opacity="0.29"/>
<circle cx="286.8" cy="115.0" r="0.68" fill="#b01414" opacity="0.22"/>
<circle cx="256.2" cy="33.4" r="0.42" fill="#b01414" opacity="0.34"/>
<circle cx="247.1" cy="157.7" r="0.45" fill="#b01414" opacity="0.20"/>
<circle cx="203.3" cy="109.7" r="0.31" fill="#b01414" opacity="0.23"/>
<circle cx="242.8" cy="45.5" r="0.42" fill="#b01414" opacity="0.41"/>
<circle cx="279.2" cy="62.2" r="0.37" fill="#b01414" opacity="0.14"/>
<circle cx="167.3" cy="152.0" r="0.60" fill="#b01414" opacity="0.19"/>
<circle cx="220.6" cy="135.7" r="0.31" fill="#b01414" opacity="0.39"/>
<circle cx="269.5" cy="55.9" r="0.58" fill="#b01414" opacity="0.34"/>
<circle cx="200.5" cy="165.9" r="0.39" fill="#b01414" opacity="0.27"/>
<circle cx="197.4" cy="93.9" r="0.62" fill="#b01414" opacity="0.30"/>
<circle cx="236.4" cy="183.9" r="0.39" fill="#b01414" opacity="0.18"/>
<circle cx="237.8" cy="45.8" r="0.69" fill="#b01414" opacity="0.22"/>
<circle cx="214.1" cy="92.1" r="0.63" fill="#b01414" opacity="0.42"/>
<circle cx="245.4" cy="49.3" r="0.44" fill="#b01414" opacity="0.35"/>
<circle cx="184.5" cy="166.6" r="0.65" fill="#b01414" opacity="0.18"/>
<circle cx="204.1" cy="58.7" r="0.59" fill="#b01414" opacity="0.12"/>
<circle cx="247.8" cy="31.3" r="0.64" fill="#b01414" opacity="0.29"/>
<circle cx="233.0" cy="36.7" r="0.32" fill="#b01414" opacity="0.22"/>
<circle cx="286.0" cy="120.0" r="0.64" fill="#b01414" opacity="0.12"/>
<circle cx="169.4" cy="24.4" r="0.58" fill="#b01414" opacity="0.16"/>
<circle cx="192.0" cy="131.1" r="0.58" fill="#b01414" opacity="0.21"/>
<circle cx="217.7" cy="68.7" r="0.52" fill="#b01414" opacity="0.22"/>
<circle cx="203.5" cy="62.1" r="0.42" fill="#b01414" opacity="0.19"/>
<circle cx="158.1" cy="72.2" r="0.54" fill="#b01414" opacity="0.19"/>
<circle cx="170.9" cy="160.6" r="0.49" fill="#b01414" opacity="0.28"/>
<circle cx="197.2" cy="167.4" r="0.60" fill="#b01414" opacity="0.32"/>
<circle cx="243.0" cy="135.2" r="0.50" fill="#b01414" opacity="0.24"/>
<circle cx="207.5" cy="104.2" r="0.49" fill="#b01414" opacity="0.29"/>
<circle cx="226.4" cy="151.1" r="0.66" fill="#b01414" opacity="0.18"/>
<circle cx="158.9" cy="70.7" r="0.31" fill="#b01414" opacity="0.38"/>
<circle cx="237.9" cy="68.1" r="0.38" fill="#b01414" opacity="0.40"/>
<circle cx="266.4" cy="133.8" r="0.58" fill="#b01414" opacity="0.36"/>
<circle cx="216.0" cy="86.6" r="0.52" fill="#b01414" opacity="0.41"/>
<circle cx="286.9" cy="172.3" r="0.63" fill="#b01414" opacity="0.13"/>
<circle cx="188.6" cy="181.2" r="0.52" fill="#b01414" opacity="0.28"/>
<circle cx="196.9" cy="163.2" r="0.51" fill="#b01414" opacity="0.45"/>
<circle cx="166.0" cy="184.9" r="0.31" fill="#b01414" opacity="0.15"/>
<circle cx="207.4" cy="126.5" r="0.34" fill="#b01414" opacity="0.30"/>
<circle cx="280.0" cy="92.9" r="0.60" fill="#b01414" opacity="0.31"/>
<circle cx="232.9" cy="49.6" r="0.49" fill="#b01414" opacity="0.42"/>
<circle cx="245.0" cy="56.8" r="0.48" fill="#b01414" opacity="0.29"/>
<circle cx="200.5" cy="116.3" r="0.55" fill="#b01414" opacity="0.11"/>
<circle cx="185.0" cy="129.4" r="0.39" fill="#b01414" opacity="0.13"/>
<circle cx="256.6" cy="76.1" r="0.68" fill="#b01414" opacity="0.30"/>
<circle cx="169.4" cy="126.1" r="0.40" fill="#b01414" opacity="0.39"/>
<circle cx="251.6" cy="146.1" r="0.32" fill="#b01414" opacity="0.11"/>
<circle cx="261.3" cy="44.2" r="0.38" fill="#b01414" opacity="0.11"/>
<circle cx="177.6" cy="99.1" r="0.68" fill="#b01414" opacity="0.21"/>
<circle cx="190.2" cy="157.6" r="0.37" fill="#b01414" opacity="0.32"/>
<circle cx="237.2" cy="175.3" r="0.32" fill="#b01414" opacity="0.30"/>
<circle cx="206.5" cy="156.9" r="0.40" fill="#b01414" opacity="0.35"/>
<circle cx="180.5" cy="102.7" r="0.69" fill="#b01414" opacity="0.18"/>
<circle cx="192.8" cy="172.4" r="0.57" fill="#b01414" opacity="0.12"/>
<circle cx="180.6" cy="60.1" r="0.42" fill="#b01414" opacity="0.40"/>
<circle cx="248.5" cy="182.7" r="0.57" fill="#b01414" opacity="0.32"/>
<circle cx="206.6" cy="139.4" r="0.50" fill="#b01414" opacity="0.12"/>
<circle cx="220.9" cy="84.4" r="0.51" fill="#b01414" opacity="0.12"/>
<circle cx="159.7" cy="183.2" r="0.45" fill="#b01414" opacity="0.22"/>
<circle cx="175.6" cy="118.8" r="0.67" fill="#b01414" opacity="0.16"/>
<circle cx="222.0" cy="103.5" r="0.61" fill="#b01414" opacity="0.30"/>
<circle cx="187.5" cy="52.3" r="0.59" fill="#b01414" opacity="0.13"/>
<circle cx="270.1" cy="26.5" r="0.38" fill="#b01414" opacity="0.26"/>
<circle cx="267.4" cy="123.2" r="0.60" fill="#b01414" opacity="0.37"/>
<circle cx="251.4" cy="29.5" r="0.63" fill="#b01414" opacity="0.15"/>
<circle cx="177.4" cy="27.2" r="0.31" fill="#b01414" opacity="0.41"/>
<circle cx="206.3" cy="35.3" r="0.32" fill="#b01414" opacity="0.40"/>
<circle cx="235.4" cy="172.2" r="0.31" fill="#b01414" opacity="0.14"/>
<circle cx="193.8" cy="52.5" r="0.34" fill="#b01414" opacity="0.17"/>
<circle cx="240.5" cy="48.7" r="0.37" fill="#b01414" opacity="0.29"/>
<circle cx="205.6" cy="45.7" r="0.53" fill="#b01414" opacity="0.28"/>
<circle cx="207.2" cy="99.3" r="0.32" fill="#b01414" opacity="0.32"/>
<circle cx="181.5" cy="76.4" r="0.30" fill="#b01414" opacity="0.41"/>
<circle cx="233.6" cy="85.7" r="0.52" fill="#b01414" opacity="0.43"/>
<circle cx="173.4" cy="84.3" r="0.58" fill="#b01414" opacity="0.23"/>
<circle cx="249.3" cy="170.9" r="0.32" fill="#b01414" opacity="0.20"/>
<circle cx="194.7" cy="144.8" r="0.61" fill="#b01414" opacity="0.34"/>
<circle cx="278.1" cy="51.6" r="0.46" fill="#b01414" opacity="0.40"/>
<circle cx="257.0" cy="39.6" r="0.69" fill="#b01414" opacity="0.36"/>
<circle cx="270.3" cy="80.7" r="0.54" fill="#b01414" opacity="0.44"/>
<circle cx="274.5" cy="116.2" r="0.66" fill="#b01414" opacity="0.45"/>
<circle cx="266.8" cy="129.2" r="0.68" fill="#b01414" opacity="0.15"/>
<circle cx="209.3" cy="114.1" r="0.35" fill="#b01414" opacity="0.37"/>
<circle cx="160.6" cy="63.3" r="0.41" fill="#2030e0" opacity="0.26"/>
<circle cx="200.9" cy="43.6" r="0.48" fill="#2030e0" opacity="0.45"/>
<circle cx="229.0" cy="46.8" r="0.45" fill="#2030e0" opacity="0.39"/>
<circle cx="170.0" cy="73.2" r="0.38" fill="#2030e0" opacity="0.34"/>
<circle cx="181.1" cy="35.0" r="0.30" fill="#2030e0" opacity="0.15"/>
<circle cx="180.3" cy="47.4" r="0.70" fill="#2030e0" opacity="0.37"/>
<circle cx="160.8" cy="67.2" r="0.39" fill="#2030e0" opacity="0.32"/>
<circle cx="209.5" cy="73.6" r="0.67" fill="#2030e0" opacity="0.30"/>
<circle cx="179.5" cy="52.9" r="0.43" fill="#2030e0" opacity="0.41"/>
<circle cx="190.3" cy="65.8" r="0.36" fill="#2030e0" opacity="0.42"/>
<circle cx="227.5" cy="44.1" r="0.55" fill="#2030e0" opacity="0.21"/>
<circle cx="158.6" cy="53.6" r="0.37" fill="#2030e0" opacity="0.41"/>
<circle cx="198.4" cy="65.4" r="0.69" fill="#2030e0" opacity="0.17"/>
<circle cx="163.3" cy="36.6" r="0.48" fill="#2030e0" opacity="0.44"/>
<circle cx="206.6" cy="59.7" r="0.64" fill="#2030e0" opacity="0.28"/>
<circle cx="164.4" cy="63.9" r="0.31" fill="#2030e0" opacity="0.23"/>
<circle cx="158.2" cy="42.3" r="0.33" fill="#2030e0" opacity="0.34"/>
<circle cx="165.5" cy="62.2" r="0.63" fill="#2030e0" opacity="0.27"/>
<circle cx="164.9" cy="65.2" r="0.59" fill="#2030e0" opacity="0.46"/>
<circle cx="197.0" cy="61.2" r="0.65" fill="#2030e0" opacity="0.39"/>
<circle cx="228.1" cy="47.9" r="0.61" fill="#2030e0" opacity="0.37"/>
<circle cx="190.7" cy="35.5" r="0.49" fill="#2030e0" opacity="0.24"/>
<circle cx="200.5" cy="57.9" r="0.50" fill="#2030e0" opacity="0.17"/>
<circle cx="165.7" cy="62.3" r="0.57" fill="#2030e0" opacity="0.50"/>
<circle cx="214.7" cy="48.1" r="0.48" fill="#2030e0" opacity="0.33"/>
<circle cx="215.5" cy="52.8" r="0.67" fill="#2030e0" opacity="0.32"/>
<circle cx="185.5" cy="56.6" r="0.44" fill="#2030e0" opacity="0.50"/>
<circle cx="159.4" cy="53.0" r="0.33" fill="#2030e0" opacity="0.39"/>
<circle cx="167.1" cy="41.7" r="0.47" fill="#2030e0" opacity="0.36"/>
<circle cx="212.5" cy="55.0" r="0.42" fill="#2030e0" opacity="0.28"/>
<circle cx="221.7" cy="44.6" r="0.30" fill="#2030e0" opacity="0.46"/>
<circle cx="191.7" cy="41.0" r="0.35" fill="#2030e0" opacity="0.46"/>
<circle cx="211.4" cy="37.9" r="0.57" fill="#2030e0" opacity="0.22"/>
<circle cx="189.0" cy="62.2" r="0.32" fill="#2030e0" opacity="0.48"/>
<circle cx="180.8" cy="41.5" r="0.61" fill="#2030e0" opacity="0.19"/>
<circle cx="158.8" cy="64.3" r="0.49" fill="#2030e0" opacity="0.47"/>
<circle cx="214.5" cy="44.3" r="0.32" fill="#2030e0" opacity="0.36"/>
<circle cx="190.8" cy="48.6" r="0.67" fill="#2030e0" opacity="0.22"/>
<circle cx="203.6" cy="38.3" r="0.67" fill="#2030e0" opacity="0.48"/>
<circle cx="201.7" cy="49.4" r="0.59" fill="#2030e0" opacity="0.47"/>
<circle cx="214.8" cy="36.8" r="0.50" fill="#2030e0" opacity="0.20"/>
<circle cx="196.4" cy="77.8" r="0.65" fill="#2030e0" opacity="0.24"/>
<circle cx="196.8" cy="49.3" r="0.37" fill="#2030e0" opacity="0.41"/>
<circle cx="212.2" cy="50.2" r="0.47" fill="#2030e0" opacity="0.39"/>
<circle cx="209.8" cy="55.9" r="0.35" fill="#2030e0" opacity="0.18"/>
<circle cx="168.5" cy="72.2" r="0.50" fill="#2030e0" opacity="0.38"/>
<circle cx="183.0" cy="51.6" r="0.37" fill="#2030e0" opacity="0.49"/>
<circle cx="200.8" cy="40.8" r="0.58" fill="#2030e0" opacity="0.36"/>
<circle cx="201.4" cy="69.6" r="0.54" fill="#2030e0" opacity="0.46"/>
<circle cx="227.8" cy="53.3" r="0.56" fill="#2030e0" opacity="0.28"/>
<circle cx="186.4" cy="51.5" r="0.56" fill="#2030e0" opacity="0.27"/>
<circle cx="182.0" cy="73.1" r="0.62" fill="#2030e0" opacity="0.39"/>
<circle cx="218.4" cy="52.4" r="0.56" fill="#2030e0" opacity="0.24"/>
<circle cx="179.3" cy="39.5" r="0.62" fill="#2030e0" opacity="0.47"/>
<circle cx="178.4" cy="52.0" r="0.35" fill="#2030e0" opacity="0.20"/>
<circle cx="203.2" cy="75.1" r="0.33" fill="#2030e0" opacity="0.24"/>
<circle cx="212.2" cy="45.2" r="0.65" fill="#2030e0" opacity="0.27"/>
<circle cx="191.0" cy="44.1" r="0.42" fill="#2030e0" opacity="0.30"/>
<circle cx="176.6" cy="67.8" r="0.31" fill="#2030e0" opacity="0.37"/>
<circle cx="215.4" cy="49.7" r="0.38" fill="#2030e0" opacity="0.19"/>
<circle cx="161.7" cy="70.6" r="0.54" fill="#2030e0" opacity="0.16"/>
<circle cx="189.5" cy="61.9" r="0.43" fill="#2030e0" opacity="0.16"/>
<circle cx="187.2" cy="50.9" r="0.69" fill="#2030e0" opacity="0.28"/>
<circle cx="224.3" cy="74.1" r="0.53" fill="#2030e0" opacity="0.19"/>
<circle cx="215.8" cy="39.1" r="0.52" fill="#2030e0" opacity="0.18"/>
<circle cx="162.9" cy="53.5" r="0.36" fill="#2030e0" opacity="0.50"/>
<circle cx="198.8" cy="75.4" r="0.68" fill="#2030e0" opacity="0.42"/>
<circle cx="203.8" cy="56.3" r="0.61" fill="#2030e0" opacity="0.38"/>
<circle cx="167.7" cy="58.9" r="0.47" fill="#2030e0" opacity="0.33"/>
<circle cx="208.8" cy="66.0" r="0.53" fill="#2030e0" opacity="0.43"/>
<circle cx="217.1" cy="39.2" r="0.36" fill="#2030e0" opacity="0.17"/>
<circle cx="167.9" cy="78.2" r="0.42" fill="#2030e0" opacity="0.30"/>
<circle cx="190.4" cy="60.4" r="0.41" fill="#2030e0" opacity="0.42"/>
<circle cx="180.5" cy="73.1" r="0.62" fill="#2030e0" opacity="0.15"/>
<circle cx="196.5" cy="39.2" r="0.65" fill="#2030e0" opacity="0.17"/>
<circle cx="175.8" cy="69.6" r="0.54" fill="#2030e0" opacity="0.38"/>
<circle cx="186.6" cy="58.4" r="0.38" fill="#2030e0" opacity="0.31"/>
<circle cx="175.0" cy="65.4" r="0.34" fill="#2030e0" opacity="0.20"/>
<circle cx="170.6" cy="59.0" r="0.53" fill="#2030e0" opacity="0.15"/>
<circle cx="229.0" cy="72.6" r="0.45" fill="#2030e0" opacity="0.21"/>
<circle cx="217.1" cy="79.0" r="0.37" fill="#2030e0" opacity="0.41"/>
<circle cx="216.5" cy="77.2" r="0.38" fill="#2030e0" opacity="0.19"/>
<circle cx="168.2" cy="45.4" r="0.66" fill="#2030e0" opacity="0.47"/>
<circle cx="191.1" cy="40.7" r="0.44" fill="#2030e0" opacity="0.23"/>
<circle cx="204.0" cy="67.4" r="0.61" fill="#2030e0" opacity="0.30"/>
<circle cx="189.8" cy="56.1" r="0.45" fill="#2030e0" opacity="0.31"/>
<circle cx="206.7" cy="67.0" r="0.43" fill="#2030e0" opacity="0.35"/>
<circle cx="166.7" cy="37.0" r="0.45" fill="#2030e0" opacity="0.28"/>
<circle cx="158.4" cy="38.6" r="0.47" fill="#2030e0" opacity="0.48"/>
<circle cx="218.0" cy="36.4" r="0.43" fill="#2030e0" opacity="0.28"/>
<circle cx="179.0" cy="41.2" r="0.54" fill="#2030e0" opacity="0.44"/>
<circle cx="184.2" cy="42.9" r="0.34" fill="#2030e0" opacity="0.16"/>
<circle cx="212.6" cy="45.4" r="0.59" fill="#2030e0" opacity="0.43"/>
<circle cx="162.2" cy="43.5" r="0.43" fill="#2030e0" opacity="0.42"/>
<circle cx="210.5" cy="48.6" r="0.48" fill="#2030e0" opacity="0.27"/>
<circle cx="190.9" cy="70.7" r="0.40" fill="#2030e0" opacity="0.43"/>
<circle cx="224.1" cy="62.0" r="0.68" fill="#2030e0" opacity="0.48"/>
<circle cx="168.7" cy="79.6" r="0.38" fill="#2030e0" opacity="0.43"/>
<circle cx="165.0" cy="48.6" r="0.48" fill="#2030e0" opacity="0.44"/>
<circle cx="206.4" cy="44.2" r="0.66" fill="#2030e0" opacity="0.45"/>
<circle cx="193.7" cy="37.3" r="0.41" fill="#2030e0" opacity="0.25"/>
<circle cx="187.0" cy="77.4" r="0.54" fill="#2030e0" opacity="0.44"/>
<circle cx="161.3" cy="46.0" r="0.59" fill="#2030e0" opacity="0.27"/>
<circle cx="172.8" cy="37.8" r="0.32" fill="#2030e0" opacity="0.29"/>
<circle cx="196.4" cy="53.0" r="0.53" fill="#2030e0" opacity="0.25"/>
<circle cx="157.2" cy="65.3" r="0.43" fill="#2030e0" opacity="0.32"/>
<circle cx="184.0" cy="47.1" r="0.32" fill="#2030e0" opacity="0.25"/>
<circle cx="178.1" cy="40.2" r="0.31" fill="#2030e0" opacity="0.32"/>
<circle cx="157.4" cy="74.6" r="0.44" fill="#2030e0" opacity="0.31"/>
<circle cx="194.9" cy="36.1" r="0.34" fill="#2030e0" opacity="0.42"/>
<circle cx="197.2" cy="57.2" r="0.44" fill="#2030e0" opacity="0.41"/>
<circle cx="193.2" cy="70.7" r="0.63" fill="#2030e0" opacity="0.46"/>
<circle cx="209.7" cy="65.3" r="0.48" fill="#2030e0" opacity="0.34"/>
<circle cx="198.8" cy="58.6" r="0.63" fill="#2030e0" opacity="0.45"/>
<circle cx="159.9" cy="68.8" r="0.55" fill="#2030e0" opacity="0.36"/>
<circle cx="223.2" cy="37.2" r="0.49" fill="#2030e0" opacity="0.28"/>
<circle cx="226.2" cy="42.4" r="0.53" fill="#2030e0" opacity="0.20"/>
<circle cx="211.8" cy="57.0" r="0.59" fill="#2030e0" opacity="0.26"/>
<circle cx="221.4" cy="35.3" r="0.39" fill="#2030e0" opacity="0.41"/>
<circle cx="221.0" cy="70.0" r="0.41" fill="#2030e0" opacity="0.18"/>
<circle cx="208.5" cy="67.9" r="0.32" fill="#2030e0" opacity="0.48"/>
<circle cx="195.1" cy="36.5" r="0.49" fill="#2030e0" opacity="0.27"/>
<circle cx="163.7" cy="74.8" r="0.67" fill="#2030e0" opacity="0.19"/>
<circle cx="189.0" cy="47.3" r="0.57" fill="#2030e0" opacity="0.19"/>
<circle cx="180.7" cy="53.5" r="0.49" fill="#2030e0" opacity="0.30"/>
<circle cx="200.1" cy="77.3" r="0.67" fill="#2030e0" opacity="0.47"/>
<circle cx="217.3" cy="45.3" r="0.40" fill="#2030e0" opacity="0.31"/>
<circle cx="203.6" cy="62.3" r="0.44" fill="#2030e0" opacity="0.50"/>
<circle cx="179.1" cy="35.9" r="0.34" fill="#2030e0" opacity="0.22"/>
<circle cx="210.1" cy="72.8" r="0.32" fill="#2030e0" opacity="0.23"/>
<circle cx="173.9" cy="70.4" r="0.66" fill="#2030e0" opacity="0.24"/>
<circle cx="163.6" cy="78.5" r="0.69" fill="#2030e0" opacity="0.40"/>
<circle cx="191.0" cy="68.6" r="0.61" fill="#2030e0" opacity="0.33"/>
<circle cx="176.1" cy="58.6" r="0.56" fill="#2030e0" opacity="0.26"/>
<circle cx="203.3" cy="41.6" r="0.69" fill="#2030e0" opacity="0.22"/>
<circle cx="172.7" cy="78.2" r="0.68" fill="#2030e0" opacity="0.47"/>
<circle cx="218.2" cy="73.2" r="0.63" fill="#2030e0" opacity="0.35"/>
<circle cx="161.5" cy="67.9" r="0.63" fill="#2030e0" opacity="0.44"/>
<circle cx="159.2" cy="37.8" r="0.59" fill="#2030e0" opacity="0.32"/>
<circle cx="222.1" cy="79.6" r="0.48" fill="#2030e0" opacity="0.39"/>
<circle cx="205.2" cy="66.2" r="0.45" fill="#2030e0" opacity="0.37"/>
<circle cx="161.0" cy="75.5" r="0.59" fill="#2030e0" opacity="0.43"/>
<circle cx="190.2" cy="44.2" r="0.48" fill="#2030e0" opacity="0.39"/>
<circle cx="196.6" cy="39.9" r="0.30" fill="#2030e0" opacity="0.29"/>
<circle cx="174.1" cy="45.2" r="0.39" fill="#2030e0" opacity="0.30"/>
<circle cx="207.4" cy="76.1" r="0.57" fill="#2030e0" opacity="0.16"/>
<circle cx="220.2" cy="62.4" r="0.59" fill="#2030e0" opacity="0.36"/>
<circle cx="182.2" cy="50.3" r="0.33" fill="#2030e0" opacity="0.38"/>
<circle cx="160.0" cy="65.6" r="0.66" fill="#2030e0" opacity="0.38"/>
<circle cx="200.9" cy="71.4" r="0.68" fill="#2030e0" opacity="0.43"/>
<circle cx="229.3" cy="55.7" r="0.31" fill="#2030e0" opacity="0.37"/>
<circle cx="203.2" cy="73.8" r="0.54" fill="#2030e0" opacity="0.28"/>
<circle cx="156.3" cy="72.4" r="0.55" fill="#2030e0" opacity="0.49"/>
<circle cx="199.9" cy="73.4" r="0.61" fill="#2030e0" opacity="0.50"/>
<circle cx="190.2" cy="75.4" r="0.46" fill="#2030e0" opacity="0.15"/>
<circle cx="180.1" cy="50.8" r="0.70" fill="#2030e0" opacity="0.29"/>
<circle cx="176.3" cy="66.1" r="0.34" fill="#2030e0" opacity="0.26"/>
<circle cx="185.2" cy="40.6" r="0.54" fill="#2030e0" opacity="0.30"/>
<circle cx="215.4" cy="50.3" r="0.69" fill="#2030e0" opacity="0.22"/>
<circle cx="195.3" cy="45.2" r="0.31" fill="#2030e0" opacity="0.26"/>
<circle cx="222.3" cy="48.1" r="0.50" fill="#2030e0" opacity="0.33"/>
<circle cx="175.7" cy="59.1" r="0.33" fill="#2030e0" opacity="0.27"/>
<circle cx="177.1" cy="71.7" r="0.61" fill="#2030e0" opacity="0.40"/>
<circle cx="200.0" cy="74.0" r="0.60" fill="#2030e0" opacity="0.17"/>
<circle cx="165.7" cy="68.7" r="0.64" fill="#2030e0" opacity="0.50"/>
<circle cx="213.4" cy="42.1" r="0.53" fill="#2030e0" opacity="0.37"/>
<circle cx="200.7" cy="41.1" r="0.69" fill="#2030e0" opacity="0.33"/>
<circle cx="175.9" cy="79.1" r="0.45" fill="#2030e0" opacity="0.17"/>
<circle cx="205.5" cy="46.7" r="0.39" fill="#2030e0" opacity="0.26"/>
<circle cx="200.9" cy="49.4" r="0.57" fill="#2030e0" opacity="0.47"/>
<circle cx="229.3" cy="75.0" r="0.67" fill="#2030e0" opacity="0.24"/>
<circle cx="217.0" cy="39.0" r="0.53" fill="#2030e0" opacity="0.18"/>
<circle cx="163.3" cy="77.7" r="0.35" fill="#2030e0" opacity="0.40"/>
<circle cx="195.0" cy="35.1" r="0.62" fill="#2030e0" opacity="0.17"/>
<circle cx="221.6" cy="71.8" r="0.50" fill="#2030e0" opacity="0.31"/>
<circle cx="158.1" cy="66.5" r="0.32" fill="#2030e0" opacity="0.33"/>
<circle cx="224.5" cy="65.5" r="0.35" fill="#2030e0" opacity="0.40"/>
<circle cx="207.9" cy="49.8" r="0.61" fill="#2030e0" opacity="0.35"/>
<circle cx="186.6" cy="58.7" r="0.41" fill="#2030e0" opacity="0.25"/>
<circle cx="221.8" cy="50.7" r="0.61" fill="#2030e0" opacity="0.28"/>
<circle cx="170.1" cy="35.1" r="0.69" fill="#2030e0" opacity="0.41"/>
<circle cx="228.7" cy="61.5" r="0.32" fill="#2030e0" opacity="0.21"/>
<circle cx="159.6" cy="62.6" r="0.55" fill="#2030e0" opacity="0.48"/>
<circle cx="177.9" cy="45.5" r="0.39" fill="#2030e0" opacity="0.20"/>
<circle cx="158.1" cy="57.2" r="0.47" fill="#2030e0" opacity="0.28"/>
<circle cx="226.4" cy="49.1" r="0.63" fill="#2030e0" opacity="0.34"/>
<circle cx="163.6" cy="36.3" r="0.54" fill="#2030e0" opacity="0.46"/>
<circle cx="159.7" cy="66.6" r="0.39" fill="#2030e0" opacity="0.39"/>
<circle cx="217.6" cy="67.7" r="0.40" fill="#2030e0" opacity="0.20"/>
<circle cx="227.6" cy="76.2" r="0.67" fill="#2030e0" opacity="0.34"/>
<circle cx="159.8" cy="51.6" r="0.66" fill="#2030e0" opacity="0.17"/>
<circle cx="177.9" cy="36.9" r="0.65" fill="#2030e0" opacity="0.27"/>
<circle cx="162.1" cy="51.0" r="0.38" fill="#2030e0" opacity="0.30"/>
<circle cx="201.6" cy="64.6" r="0.34" fill="#2030e0" opacity="0.34"/>
<circle cx="160.2" cy="54.9" r="0.62" fill="#2030e0" opacity="0.24"/>
<circle cx="216.9" cy="46.0" r="0.46" fill="#2030e0" opacity="0.43"/>
<circle cx="156.3" cy="59.9" r="0.51" fill="#2030e0" opacity="0.40"/>
<circle cx="226.1" cy="66.3" r="0.39" fill="#2030e0" opacity="0.22"/>
<circle cx="191.7" cy="47.7" r="0.52" fill="#2030e0" opacity="0.18"/>
<circle cx="207.3" cy="53.7" r="0.32" fill="#2030e0" opacity="0.19"/>
<circle cx="225.2" cy="73.2" r="0.65" fill="#2030e0" opacity="0.29"/>
<circle cx="228.8" cy="42.7" r="0.59" fill="#2030e0" opacity="0.48"/>
<circle cx="171.4" cy="35.2" r="0.35" fill="#2030e0" opacity="0.18"/>
<circle cx="215.5" cy="62.3" r="0.49" fill="#2030e0" opacity="0.19"/>
<circle cx="203.5" cy="41.2" r="0.35" fill="#2030e0" opacity="0.36"/>
<circle cx="203.6" cy="71.0" r="0.63" fill="#2030e0" opacity="0.20"/>
<circle cx="178.5" cy="41.5" r="0.50" fill="#2030e0" opacity="0.16"/>
<circle cx="220.2" cy="65.7" r="0.62" fill="#2030e0" opacity="0.32"/>
<circle cx="223.5" cy="72.6" r="0.63" fill="#2030e0" opacity="0.43"/>
<circle cx="172.0" cy="50.5" r="0.32" fill="#2030e0" opacity="0.42"/>
<circle cx="191.0" cy="79.4" r="0.42" fill="#2030e0" opacity="0.30"/>
<circle cx="220.1" cy="78.6" r="0.60" fill="#2030e0" opacity="0.46"/>
<circle cx="224.4" cy="47.2" r="0.55" fill="#2030e0" opacity="0.17"/>
<circle cx="206.1" cy="77.9" r="0.50" fill="#2030e0" opacity="0.20"/>
<circle cx="198.1" cy="37.9" r="0.48" fill="#2030e0" opacity="0.18"/>
<circle cx="186.9" cy="71.8" r="0.60" fill="#2030e0" opacity="0.45"/>
<circle cx="189.8" cy="54.8" r="0.32" fill="#2030e0" opacity="0.43"/>
<circle cx="198.2" cy="53.4" r="0.36" fill="#2030e0" opacity="0.31"/>
<circle cx="160.7" cy="40.4" r="0.33" fill="#2030e0" opacity="0.30"/>
<circle cx="166.2" cy="72.2" r="0.54" fill="#2030e0" opacity="0.45"/>
<circle cx="197.0" cy="42.2" r="0.41" fill="#2030e0" opacity="0.44"/>
<circle cx="199.3" cy="64.1" r="0.55" fill="#2030e0" opacity="0.17"/>
<circle cx="170.8" cy="54.4" r="0.64" fill="#2030e0" opacity="0.48"/>
<circle cx="199.7" cy="46.7" r="0.32" fill="#2030e0" opacity="0.35"/>
<circle cx="186.3" cy="76.9" r="0.38" fill="#2030e0" opacity="0.22"/>
<circle cx="157.2" cy="36.3" r="0.62" fill="#2030e0" opacity="0.45"/>
<circle cx="167.4" cy="35.7" r="0.53" fill="#2030e0" opacity="0.24"/>
<circle cx="201.5" cy="76.0" r="0.60" fill="#2030e0" opacity="0.25"/>
<circle cx="200.9" cy="48.0" r="0.60" fill="#2030e0" opacity="0.24"/>
<circle cx="220.3" cy="65.5" r="0.66" fill="#2030e0" opacity="0.27"/>
<circle cx="226.6" cy="61.2" r="0.40" fill="#2030e0" opacity="0.38"/>
<circle cx="179.0" cy="40.1" r="0.32" fill="#2030e0" opacity="0.36"/>
<circle cx="173.9" cy="39.5" r="0.61" fill="#2030e0" opacity="0.20"/>
<circle cx="211.9" cy="47.3" r="0.45" fill="#2030e0" opacity="0.48"/>
<circle cx="217.3" cy="72.6" r="0.69" fill="#2030e0" opacity="0.36"/>
<circle cx="225.2" cy="63.0" r="0.53" fill="#2030e0" opacity="0.26"/>
<circle cx="184.1" cy="60.6" r="0.40" fill="#2030e0" opacity="0.37"/>
<circle cx="219.9" cy="67.4" r="0.39" fill="#2030e0" opacity="0.16"/>
<circle cx="183.2" cy="54.5" r="0.64" fill="#2030e0" opacity="0.34"/>
<circle cx="194.3" cy="62.3" r="0.52" fill="#2030e0" opacity="0.39"/>
<circle cx="197.3" cy="59.9" r="0.39" fill="#2030e0" opacity="0.19"/>
<circle cx="188.5" cy="74.9" r="0.68" fill="#2030e0" opacity="0.25"/>
<circle cx="198.5" cy="58.3" r="0.48" fill="#2030e0" opacity="0.21"/>
<circle cx="214.4" cy="38.8" r="0.39" fill="#2030e0" opacity="0.25"/>
<circle cx="171.0" cy="43.7" r="0.33" fill="#2030e0" opacity="0.33"/>
<circle cx="168.7" cy="63.9" r="0.54" fill="#2030e0" opacity="0.37"/>
<circle cx="191.6" cy="62.6" r="0.42" fill="#2030e0" opacity="0.31"/>
<circle cx="207.0" cy="44.7" r="0.59" fill="#2030e0" opacity="0.35"/>
<circle cx="228.1" cy="62.7" r="0.52" fill="#2030e0" opacity="0.42"/>
<circle cx="177.3" cy="51.8" r="0.47" fill="#2030e0" opacity="0.41"/>
<circle cx="209.2" cy="43.3" r="0.68" fill="#2030e0" opacity="0.49"/>
<circle cx="192.7" cy="79.8" r="0.55" fill="#2030e0" opacity="0.28"/>
<circle cx="162.4" cy="35.8" r="0.54" fill="#2030e0" opacity="0.40"/>
<circle cx="201.6" cy="70.2" r="0.47" fill="#2030e0" opacity="0.41"/>
<circle cx="200.7" cy="63.5" r="0.52" fill="#2030e0" opacity="0.38"/>
<circle cx="197.4" cy="39.1" r="0.57" fill="#2030e0" opacity="0.40"/>
<circle cx="187.7" cy="78.6" r="0.49" fill="#2030e0" opacity="0.21"/>
<circle cx="193.8" cy="51.1" r="0.37" fill="#2030e0" opacity="0.46"/>
<circle cx="169.1" cy="67.1" r="0.37" fill="#2030e0" opacity="0.33"/>
<circle cx="229.8" cy="39.0" r="0.64" fill="#2030e0" opacity="0.15"/>
<path d="M200.0,50.0 C201.4,50.7 205.8,54.0 208.7,54.2 C211.6,54.4 214.4,52.5 217.3,51.3 C220.2,50.1 223.1,48.7 226.0,47.0 C228.9,45.3 232.0,42.7 234.6,41.2 C237.2,39.8 239.6,39.0 241.8,38.3 C244.0,37.6 245.9,36.9 247.6,36.9 C249.3,36.9 251.3,38.1 252.0,38.3" stroke="#2230ff" stroke-width="4.2" fill="none" stroke-linecap="round" stroke-linejoin="round" opacity="0.9"/>
<path d="M220.2,21.0 C220.9,22.0 223.1,25.1 224.5,26.8 C225.9,28.5 227.2,29.9 228.9,31.1 C230.6,32.3 232.7,33.3 234.6,34.0 C236.5,34.7 238.2,35.0 240.4,35.4 C242.6,35.8 246.4,36.1 247.6,36.2" stroke="#2a36ff" stroke-width="2.2" fill="none" stroke-linecap="round" stroke-linejoin="round"/>
<circle cx="245.3" cy="44.4" r="0.72" fill="#3040ff" opacity="0.46"/>
<circle cx="228.7" cy="30.9" r="0.68" fill="#3040ff" opacity="0.38"/>
<circle cx="241.8" cy="30.1" r="0.77" fill="#3040ff" opacity="0.39"/>
<circle cx="231.7" cy="42.3" r="0.80" fill="#3040ff" opacity="0.33"/>
<circle cx="244.6" cy="38.8" r="0.64" fill="#3040ff" opacity="0.42"/>
<circle cx="241.8" cy="28.8" r="0.82" fill="#3040ff" opacity="0.40"/>
<circle cx="223.2" cy="30.9" r="0.62" fill="#3040ff" opacity="0.38"/>
<circle cx="227.5" cy="38.8" r="0.64" fill="#3040ff" opacity="0.45"/>
<circle cx="229.1" cy="42.3" r="0.90" fill="#3040ff" opacity="0.29"/>
<circle cx="245.3" cy="37.8" r="0.67" fill="#3040ff" opacity="0.30"/>
<circle cx="236.8" cy="35.9" r="0.84" fill="#3040ff" opacity="0.30"/>
<circle cx="241.5" cy="32.8" r="0.94" fill="#3040ff" opacity="0.38"/>
<circle cx="226.8" cy="38.4" r="0.76" fill="#3040ff" opacity="0.42"/>
<circle cx="231.9" cy="45.1" r="0.87" fill="#3040ff" opacity="0.24"/>
<circle cx="245.6" cy="28.3" r="0.53" fill="#3040ff" opacity="0.53"/>
<circle cx="222.8" cy="28.5" r="0.59" fill="#3040ff" opacity="0.40"/>
<circle cx="241.0" cy="28.4" r="0.58" fill="#3040ff" opacity="0.21"/>
<circle cx="215.7" cy="33.7" r="0.75" fill="#3040ff" opacity="0.59"/>
<circle cx="234.7" cy="43.4" r="0.80" fill="#3040ff" opacity="0.56"/>
<circle cx="235.5" cy="32.3" r="0.69" fill="#3040ff" opacity="0.39"/>
<circle cx="217.5" cy="44.6" r="0.74" fill="#3040ff" opacity="0.28"/>
<circle cx="229.7" cy="42.5" r="0.64" fill="#3040ff" opacity="0.44"/>
<circle cx="216.9" cy="32.3" r="0.59" fill="#3040ff" opacity="0.40"/>
<circle cx="236.0" cy="32.1" r="0.84" fill="#3040ff" opacity="0.43"/>
<circle cx="238.0" cy="45.9" r="0.67" fill="#3040ff" opacity="0.60"/>
<circle cx="228.6" cy="37.2" r="0.59" fill="#3040ff" opacity="0.23"/>
<circle cx="234.7" cy="29.9" r="0.52" fill="#3040ff" opacity="0.23"/>
<circle cx="231.4" cy="31.5" r="0.63" fill="#3040ff" opacity="0.51"/>
<circle cx="228.3" cy="30.7" r="0.84" fill="#3040ff" opacity="0.60"/>
<circle cx="233.9" cy="36.0" r="0.77" fill="#3040ff" opacity="0.48"/>
<circle cx="240.8" cy="42.1" r="0.62" fill="#3040ff" opacity="0.51"/>
<circle cx="217.3" cy="30.3" r="0.75" fill="#3040ff" opacity="0.27"/>
<circle cx="232.0" cy="33.1" r="0.97" fill="#3040ff" opacity="0.37"/>
<circle cx="240.1" cy="45.0" r="0.73" fill="#3040ff" opacity="0.51"/>
<circle cx="229.8" cy="35.2" r="0.56" fill="#3040ff" opacity="0.46"/>
<circle cx="243.5" cy="40.4" r="0.66" fill="#3040ff" opacity="0.41"/>
<circle cx="225.4" cy="35.0" r="0.89" fill="#3040ff" opacity="0.20"/>
<circle cx="229.4" cy="37.2" r="0.57" fill="#3040ff" opacity="0.49"/>
<circle cx="222.1" cy="35.3" r="0.62" fill="#3040ff" opacity="0.44"/>
<circle cx="227.8" cy="40.3" r="0.71" fill="#3040ff" opacity="0.51"/>
<circle cx="231.6" cy="29.9" r="0.75" fill="#3040ff" opacity="0.30"/>
<circle cx="223.5" cy="45.1" r="0.74" fill="#3040ff" opacity="0.50"/>
<circle cx="219.0" cy="39.3" r="0.56" fill="#3040ff" opacity="0.29"/>
<circle cx="218.1" cy="28.4" r="0.95" fill="#3040ff" opacity="0.59"/>
<circle cx="225.8" cy="28.2" r="0.87" fill="#3040ff" opacity="0.47"/>
<circle cx="215.5" cy="41.8" r="0.53" fill="#3040ff" opacity="0.29"/>
<circle cx="238.9" cy="41.8" r="0.62" fill="#3040ff" opacity="0.40"/>
<circle cx="239.6" cy="38.9" r="0.76" fill="#3040ff" opacity="0.27"/>
<circle cx="216.2" cy="31.4" r="0.76" fill="#3040ff" opacity="0.44"/>
<circle cx="228.7" cy="39.4" r="0.78" fill="#3040ff" opacity="0.46"/>
<circle cx="227.2" cy="43.2" r="0.77" fill="#3040ff" opacity="0.55"/>
<circle cx="245.5" cy="42.9" r="0.89" fill="#3040ff" opacity="0.48"/>
<circle cx="231.7" cy="32.5" r="0.55" fill="#3040ff" opacity="0.46"/>
<circle cx="221.9" cy="39.0" r="0.77" fill="#3040ff" opacity="0.44"/>
<circle cx="227.7" cy="32.3" r="0.65" fill="#3040ff" opacity="0.48"/>
<circle cx="242.3" cy="33.7" r="0.66" fill="#3040ff" opacity="0.38"/>
<circle cx="227.7" cy="39.4" r="0.88" fill="#3040ff" opacity="0.51"/>
<circle cx="239.9" cy="41.1" r="0.99" fill="#3040ff" opacity="0.38"/>
<circle cx="228.3" cy="39.7" r="0.66" fill="#3040ff" opacity="0.53"/>
<circle cx="227.4" cy="38.0" r="0.76" fill="#3040ff" opacity="0.35"/>
<circle cx="214.3" cy="33.0" r="0.74" fill="#3040ff" opacity="0.58"/>
<circle cx="218.4" cy="44.3" r="0.99" fill="#3040ff" opacity="0.52"/>
<circle cx="222.9" cy="28.3" r="0.94" fill="#3040ff" opacity="0.23"/>
<circle cx="223.5" cy="44.9" r="0.84" fill="#3040ff" opacity="0.53"/>
<circle cx="240.7" cy="31.2" r="0.75" fill="#3040ff" opacity="0.24"/>
<circle cx="226.1" cy="36.9" r="0.91" fill="#3040ff" opacity="0.32"/>
<circle cx="235.3" cy="30.5" r="0.63" fill="#3040ff" opacity="0.22"/>
<circle cx="232.6" cy="38.6" r="0.86" fill="#3040ff" opacity="0.37"/>
<circle cx="244.0" cy="41.0" r="0.78" fill="#3040ff" opacity="0.55"/>
<circle cx="219.8" cy="33.3" r="0.78" fill="#3040ff" opacity="0.44"/>
<circle cx="244.6" cy="40.2" r="0.52" fill="#3040ff" opacity="0.58"/>
<circle cx="229.0" cy="31.7" r="0.88" fill="#3040ff" opacity="0.45"/>
<circle cx="241.3" cy="37.9" r="0.63" fill="#3040ff" opacity="0.39"/>
<circle cx="228.9" cy="34.3" r="0.79" fill="#3040ff" opacity="0.26"/>
<circle cx="222.1" cy="30.1" r="0.51" fill="#3040ff" opacity="0.41"/>
<circle cx="237.6" cy="35.2" r="0.95" fill="#3040ff" opacity="0.44"/>
<circle cx="235.1" cy="33.2" r="0.95" fill="#3040ff" opacity="0.34"/>
<circle cx="241.0" cy="32.4" r="0.98" fill="#3040ff" opacity="0.47"/>
<circle cx="219.7" cy="41.2" r="0.58" fill="#3040ff" opacity="0.35"/>
<circle cx="226.1" cy="34.0" r="0.68" fill="#3040ff" opacity="0.26"/>
<circle cx="226.8" cy="29.7" r="0.90" fill="#3040ff" opacity="0.34"/>
<circle cx="236.8" cy="35.7" r="0.99" fill="#3040ff" opacity="0.55"/>
<circle cx="236.6" cy="43.1" r="0.96" fill="#3040ff" opacity="0.57"/>
<circle cx="227.2" cy="38.7" r="0.53" fill="#3040ff" opacity="0.35"/>
<circle cx="224.5" cy="39.2" r="0.50" fill="#3040ff" opacity="0.50"/>
<circle cx="216.4" cy="35.6" r="0.74" fill="#3040ff" opacity="0.54"/>
<circle cx="234.2" cy="30.7" r="0.83" fill="#3040ff" opacity="0.29"/>
<circle cx="233.7" cy="35.4" r="0.98" fill="#3040ff" opacity="0.38"/>
<circle cx="222.7" cy="33.6" r="0.98" fill="#3040ff" opacity="0.34"/>
<circle cx="221.8" cy="37.6" r="0.84" fill="#3040ff" opacity="0.58"/>
<circle cx="216.6" cy="33.9" r="0.86" fill="#3040ff" opacity="0.40"/>
<circle cx="236.1" cy="40.1" r="0.55" fill="#3040ff" opacity="0.22"/>
<circle cx="219.7" cy="33.5" r="0.59" fill="#3040ff" opacity="0.31"/>
<circle cx="217.7" cy="28.5" r="0.76" fill="#3040ff" opacity="0.50"/>
<circle cx="219.1" cy="29.7" r="0.86" fill="#3040ff" opacity="0.23"/>
<circle cx="218.5" cy="36.8" r="0.65" fill="#3040ff" opacity="0.51"/>
<circle cx="230.2" cy="37.4" r="0.69" fill="#3040ff" opacity="0.21"/>
<circle cx="240.3" cy="35.0" r="0.91" fill="#3040ff" opacity="0.24"/>
<circle cx="227.8" cy="37.7" r="0.58" fill="#3040ff" opacity="0.23"/>
<circle cx="243.9" cy="44.9" r="1.00" fill="#3040ff" opacity="0.42"/>
<circle cx="237.5" cy="38.8" r="0.74" fill="#3040ff" opacity="0.27"/>
<circle cx="234.5" cy="36.0" r="0.84" fill="#3040ff" opacity="0.22"/>
<circle cx="223.4" cy="30.0" r="0.88" fill="#3040ff" opacity="0.39"/>
<circle cx="223.2" cy="42.1" r="0.76" fill="#3040ff" opacity="0.32"/>
<circle cx="226.6" cy="28.0" r="0.53" fill="#3040ff" opacity="0.21"/>
<circle cx="244.8" cy="43.8" r="0.77" fill="#3040ff" opacity="0.58"/>
<circle cx="231.3" cy="40.3" r="0.55" fill="#3040ff" opacity="0.37"/>
<circle cx="233.6" cy="35.4" r="0.83" fill="#3040ff" opacity="0.34"/>
<circle cx="235.0" cy="31.7" r="0.74" fill="#3040ff" opacity="0.37"/>
<circle cx="230.8" cy="29.0" r="0.62" fill="#3040ff" opacity="0.49"/>
<circle cx="219.3" cy="36.6" r="1.00" fill="#3040ff" opacity="0.44"/>
<circle cx="237.5" cy="41.9" r="0.98" fill="#3040ff" opacity="0.36"/>
<circle cx="226.7" cy="41.6" r="0.51" fill="#3040ff" opacity="0.39"/>
<circle cx="222.7" cy="38.0" r="0.87" fill="#3040ff" opacity="0.54"/>
<circle cx="230.2" cy="40.5" r="0.54" fill="#3040ff" opacity="0.46"/>
<circle cx="243.7" cy="39.1" r="0.75" fill="#3040ff" opacity="0.40"/>
<circle cx="227.2" cy="31.2" r="0.60" fill="#3040ff" opacity="0.52"/>
<circle cx="230.5" cy="28.7" r="0.81" fill="#3040ff" opacity="0.53"/>
<circle cx="234.8" cy="31.2" r="0.98" fill="#3040ff" opacity="0.27"/>
<circle cx="230.3" cy="36.3" r="0.58" fill="#3040ff" opacity="0.31"/>
<circle cx="201.4" cy="48.0" r="0.52" fill="#3a40ff" opacity="0.62"/>
<circle cx="210.0" cy="50.0" r="1.07" fill="#3a40ff" opacity="0.51"/>
<circle cx="206.2" cy="66.3" r="0.89" fill="#3a40ff" opacity="0.53"/>
<circle cx="211.4" cy="61.8" r="0.68" fill="#3a40ff" opacity="0.33"/>
<circle cx="211.2" cy="62.0" r="0.86" fill="#3a40ff" opacity="0.36"/>
<circle cx="211.4" cy="48.2" r="0.98" fill="#3a40ff" opacity="0.61"/>
<circle cx="209.5" cy="45.8" r="0.72" fill="#3a40ff" opacity="0.67"/>
<circle cx="200.0" cy="44.9" r="0.75" fill="#3a40ff" opacity="0.73"/>
<circle cx="209.3" cy="49.5" r="0.55" fill="#3a40ff" opacity="0.72"/>
<circle cx="213.2" cy="60.8" r="0.62" fill="#3a40ff" opacity="0.68"/>
<circle cx="198.2" cy="48.1" r="0.69" fill="#3a40ff" opacity="0.78"/>
<circle cx="198.6" cy="47.9" r="0.94" fill="#3a40ff" opacity="0.68"/>
<circle cx="202.8" cy="45.8" r="1.01" fill="#3a40ff" opacity="0.79"/>
<circle cx="214.4" cy="57.6" r="0.55" fill="#3a40ff" opacity="0.67"/>
<circle cx="209.7" cy="64.0" r="0.96" fill="#3a40ff" opacity="0.55"/>
<circle cx="215.6" cy="55.1" r="0.77" fill="#3a40ff" opacity="0.62"/>
<circle cx="212.2" cy="58.1" r="1.06" fill="#3a40ff" opacity="0.44"/>
<circle cx="214.1" cy="65.1" r="0.71" fill="#3a40ff" opacity="0.31"/>
<circle cx="208.8" cy="58.9" r="1.08" fill="#3a40ff" opacity="0.58"/>
<circle cx="211.0" cy="62.2" r="0.60" fill="#3a40ff" opacity="0.63"/>
<circle cx="205.9" cy="49.2" r="0.66" fill="#3a40ff" opacity="0.48"/>
<circle cx="211.2" cy="57.2" r="0.69" fill="#3a40ff" opacity="0.33"/>
<circle cx="212.2" cy="62.1" r="1.00" fill="#3a40ff" opacity="0.69"/>
<circle cx="199.1" cy="50.7" r="0.78" fill="#3a40ff" opacity="0.45"/>
<circle cx="212.8" cy="48.9" r="0.51" fill="#3a40ff" opacity="0.53"/>
<circle cx="198.9" cy="44.7" r="0.86" fill="#3a40ff" opacity="0.60"/>
<circle cx="207.8" cy="45.7" r="0.84" fill="#3a40ff" opacity="0.56"/>
<circle cx="203.5" cy="49.4" r="0.59" fill="#3a40ff" opacity="0.54"/>
<circle cx="204.6" cy="58.1" r="0.90" fill="#3a40ff" opacity="0.44"/>
<circle cx="208.9" cy="50.2" r="0.95" fill="#3a40ff" opacity="0.40"/>
<circle cx="208.7" cy="61.7" r="0.98" fill="#3a40ff" opacity="0.57"/>
<circle cx="214.4" cy="67.7" r="0.98" fill="#3a40ff" opacity="0.48"/>
<circle cx="202.8" cy="59.0" r="0.58" fill="#3a40ff" opacity="0.39"/>
<circle cx="199.7" cy="59.6" r="0.73" fill="#3a40ff" opacity="0.76"/>
<circle cx="212.5" cy="56.8" r="0.70" fill="#3a40ff" opacity="0.46"/>
<circle cx="198.9" cy="46.7" r="1.02" fill="#3a40ff" opacity="0.45"/>
<circle cx="198.1" cy="67.5" r="0.73" fill="#3a40ff" opacity="0.69"/>
<circle cx="206.2" cy="67.2" r="0.55" fill="#3a40ff" opacity="0.54"/>
<circle cx="209.7" cy="44.6" r="1.05" fill="#3a40ff" opacity="0.47"/>
<circle cx="210.2" cy="45.9" r="0.55" fill="#3a40ff" opacity="0.34"/>
<circle cx="212.2" cy="66.6" r="1.05" fill="#3a40ff" opacity="0.57"/>
<circle cx="199.6" cy="62.7" r="0.80" fill="#3a40ff" opacity="0.69"/>
<circle cx="209.4" cy="57.6" r="0.60" fill="#3a40ff" opacity="0.37"/>
<circle cx="199.5" cy="54.4" r="0.67" fill="#3a40ff" opacity="0.78"/>
<circle cx="198.9" cy="62.2" r="0.57" fill="#3a40ff" opacity="0.35"/>
<circle cx="214.6" cy="49.3" r="0.86" fill="#3a40ff" opacity="0.59"/>
<circle cx="205.2" cy="52.4" r="0.58" fill="#3a40ff" opacity="0.65"/>
<circle cx="204.7" cy="58.4" r="0.99" fill="#3a40ff" opacity="0.34"/>
<circle cx="205.6" cy="52.5" r="1.06" fill="#3a40ff" opacity="0.61"/>
<circle cx="201.5" cy="55.0" r="0.51" fill="#3a40ff" opacity="0.56"/>
<circle cx="199.3" cy="47.3" r="0.80" fill="#3a40ff" opacity="0.57"/>
<circle cx="201.8" cy="58.0" r="0.69" fill="#3a40ff" opacity="0.65"/>
<circle cx="198.9" cy="64.2" r="0.77" fill="#3a40ff" opacity="0.39"/>
<circle cx="203.2" cy="59.1" r="0.56" fill="#3a40ff" opacity="0.76"/>
<circle cx="202.0" cy="53.9" r="0.54" fill="#3a40ff" opacity="0.53"/>
<circle cx="215.3" cy="48.5" r="0.61" fill="#3a40ff" opacity="0.57"/>
<circle cx="209.5" cy="47.4" r="0.63" fill="#3a40ff" opacity="0.60"/>
<circle cx="202.3" cy="44.7" r="0.92" fill="#3a40ff" opacity="0.73"/>
<circle cx="212.5" cy="64.5" r="0.63" fill="#3a40ff" opacity="0.45"/>
<circle cx="208.8" cy="58.8" r="0.88" fill="#3a40ff" opacity="0.58"/>
<circle cx="202.2" cy="49.7" r="0.55" fill="#3a40ff" opacity="0.33"/>
<circle cx="208.5" cy="46.1" r="1.03" fill="#3a40ff" opacity="0.78"/>
<circle cx="200.6" cy="67.2" r="0.87" fill="#3a40ff" opacity="0.30"/>
<circle cx="204.9" cy="52.7" r="0.69" fill="#3a40ff" opacity="0.33"/>
<circle cx="202.4" cy="44.4" r="0.77" fill="#3a40ff" opacity="0.54"/>
<circle cx="202.2" cy="66.2" r="1.03" fill="#3a40ff" opacity="0.55"/>
<circle cx="212.4" cy="52.5" r="0.95" fill="#3a40ff" opacity="0.69"/>
<circle cx="204.3" cy="61.8" r="0.71" fill="#3a40ff" opacity="0.39"/>
<circle cx="205.5" cy="46.7" r="0.93" fill="#3a40ff" opacity="0.43"/>
<circle cx="207.0" cy="63.4" r="0.86" fill="#3a40ff" opacity="0.75"/>
<circle cx="211.1" cy="60.6" r="0.94" fill="#3a40ff" opacity="0.65"/>
<circle cx="214.5" cy="58.3" r="0.90" fill="#3a40ff" opacity="0.57"/>
<circle cx="207.6" cy="66.6" r="0.68" fill="#3a40ff" opacity="0.40"/>
<circle cx="207.0" cy="51.5" r="0.93" fill="#3a40ff" opacity="0.62"/>
<circle cx="198.0" cy="49.0" r="0.87" fill="#3a40ff" opacity="0.50"/>
<circle cx="210.2" cy="55.3" r="0.57" fill="#3a40ff" opacity="0.64"/>
<circle cx="215.5" cy="46.2" r="0.87" fill="#3a40ff" opacity="0.61"/>
<circle cx="209.0" cy="56.1" r="0.80" fill="#3a40ff" opacity="0.79"/>
<circle cx="213.7" cy="54.4" r="0.99" fill="#3a40ff" opacity="0.63"/>
<circle cx="212.5" cy="68.0" r="0.54" fill="#3a40ff" opacity="0.41"/>
<circle cx="202.2" cy="63.6" r="1.05" fill="#3a40ff" opacity="0.41"/>
<circle cx="206.7" cy="65.3" r="0.93" fill="#3a40ff" opacity="0.59"/>
<circle cx="214.1" cy="66.2" r="0.55" fill="#3a40ff" opacity="0.78"/>
<circle cx="203.2" cy="58.7" r="0.95" fill="#3a40ff" opacity="0.45"/>
<circle cx="203.5" cy="65.7" r="0.97" fill="#3a40ff" opacity="0.79"/>
<circle cx="199.7" cy="59.0" r="0.94" fill="#3a40ff" opacity="0.78"/>
<circle cx="211.1" cy="50.7" r="0.56" fill="#3a40ff" opacity="0.39"/>
<circle cx="202.7" cy="57.7" r="0.69" fill="#3a40ff" opacity="0.37"/>
<circle cx="199.6" cy="60.5" r="0.99" fill="#3a40ff" opacity="0.36"/>
<circle cx="207.2" cy="67.5" r="0.72" fill="#3a40ff" opacity="0.57"/>
<circle cx="212.6" cy="44.6" r="1.02" fill="#3a40ff" opacity="0.69"/>
<circle cx="211.3" cy="52.2" r="0.80" fill="#3a40ff" opacity="0.77"/>
<circle cx="199.1" cy="46.0" r="0.88" fill="#3a40ff" opacity="0.78"/>
<circle cx="200.7" cy="48.5" r="0.78" fill="#3a40ff" opacity="0.69"/>
<circle cx="208.2" cy="59.8" r="0.53" fill="#3a40ff" opacity="0.40"/>
<circle cx="208.5" cy="61.4" r="0.55" fill="#3a40ff" opacity="0.35"/>
<circle cx="203.7" cy="53.9" r="0.70" fill="#3a40ff" opacity="0.39"/>
<circle cx="199.3" cy="59.5" r="1.07" fill="#3a40ff" opacity="0.62"/>
<circle cx="214.5" cy="47.0" r="0.87" fill="#3a40ff" opacity="0.48"/>
<circle cx="213.2" cy="58.4" r="0.87" fill="#3a40ff" opacity="0.76"/>
<circle cx="215.2" cy="47.3" r="0.76" fill="#3a40ff" opacity="0.34"/>
<circle cx="208.1" cy="49.4" r="0.92" fill="#3a40ff" opacity="0.48"/>
<circle cx="198.1" cy="65.3" r="0.58" fill="#3a40ff" opacity="0.43"/>
<circle cx="207.4" cy="45.4" r="0.96" fill="#3a40ff" opacity="0.66"/>
<circle cx="200.1" cy="58.9" r="0.58" fill="#3a40ff" opacity="0.57"/>
<circle cx="199.7" cy="50.8" r="0.77" fill="#3a40ff" opacity="0.57"/>
<circle cx="209.8" cy="66.2" r="0.70" fill="#3a40ff" opacity="0.48"/>
<circle cx="201.8" cy="61.7" r="0.72" fill="#3a40ff" opacity="0.41"/>
<circle cx="201.5" cy="54.1" r="1.00" fill="#3a40ff" opacity="0.52"/>
<circle cx="212.6" cy="55.3" r="0.85" fill="#3a40ff" opacity="0.43"/>
<circle cx="205.4" cy="61.4" r="0.55" fill="#3a40ff" opacity="0.53"/>
<circle cx="202.6" cy="51.0" r="0.70" fill="#3a40ff" opacity="0.40"/>
<circle cx="208.4" cy="45.0" r="0.64" fill="#3a40ff" opacity="0.43"/>
<circle cx="201.3" cy="64.0" r="0.91" fill="#3a40ff" opacity="0.74"/>
<circle cx="200.4" cy="48.5" r="0.69" fill="#3a40ff" opacity="0.55"/>
<circle cx="213.0" cy="64.0" r="1.02" fill="#3a40ff" opacity="0.31"/>
<circle cx="198.5" cy="52.1" r="0.76" fill="#3a40ff" opacity="0.30"/>
<circle cx="204.3" cy="47.1" r="1.02" fill="#3a40ff" opacity="0.41"/>
<circle cx="203.7" cy="48.2" r="1.01" fill="#3a40ff" opacity="0.36"/>
<circle cx="205.9" cy="49.3" r="0.65" fill="#3a40ff" opacity="0.80"/>
<circle cx="210.9" cy="61.7" r="0.71" fill="#3a40ff" opacity="0.79"/>
<circle cx="215.4" cy="59.3" r="0.64" fill="#3a40ff" opacity="0.32"/>
<circle cx="207.8" cy="55.7" r="1.02" fill="#3a40ff" opacity="0.80"/>
<circle cx="212.7" cy="49.8" r="1.09" fill="#3a40ff" opacity="0.61"/>
<circle cx="198.7" cy="49.0" r="1.08" fill="#3a40ff" opacity="0.70"/>
<circle cx="211.3" cy="59.9" r="0.51" fill="#3a40ff" opacity="0.77"/>
<circle cx="203.4" cy="62.5" r="0.82" fill="#3a40ff" opacity="0.54"/>
<circle cx="207.5" cy="66.0" r="1.00" fill="#3a40ff" opacity="0.50"/>
<circle cx="213.3" cy="48.2" r="0.71" fill="#3a40ff" opacity="0.46"/>
<circle cx="198.8" cy="53.6" r="0.50" fill="#3a40ff" opacity="0.78"/>
<circle cx="212.7" cy="55.5" r="0.54" fill="#3a40ff" opacity="0.43"/>
<circle cx="211.9" cy="51.0" r="0.56" fill="#3a40ff" opacity="0.51"/>
<circle cx="208.4" cy="47.0" r="0.73" fill="#3a40ff" opacity="0.58"/>
<circle cx="211.4" cy="53.8" r="1.09" fill="#3a40ff" opacity="0.43"/>
<circle cx="211.5" cy="45.9" r="1.05" fill="#3a40ff" opacity="0.57"/>
<circle cx="201.1" cy="63.6" r="1.03" fill="#3a40ff" opacity="0.36"/>
<circle cx="213.9" cy="67.0" r="0.71" fill="#3a40ff" opacity="0.70"/>
<circle cx="211.0" cy="57.6" r="0.73" fill="#3a40ff" opacity="0.46"/>
<circle cx="212.7" cy="62.8" r="1.07" fill="#3a40ff" opacity="0.33"/>
<circle cx="208.3" cy="60.9" r="0.63" fill="#3a40ff" opacity="0.31"/>
<circle cx="214.1" cy="62.7" r="0.93" fill="#3a40ff" opacity="0.47"/>
<circle cx="205.9" cy="63.5" r="0.56" fill="#3a40ff" opacity="0.66"/>
<circle cx="210.7" cy="55.1" r="1.07" fill="#3a40ff" opacity="0.62"/>
<circle cx="213.9" cy="48.7" r="0.74" fill="#3a40ff" opacity="0.45"/>
<circle cx="207.0" cy="62.1" r="1.09" fill="#3a40ff" opacity="0.76"/>
<circle cx="213.4" cy="67.4" r="0.94" fill="#3a40ff" opacity="0.67"/>
<circle cx="199.6" cy="53.8" r="0.79" fill="#3a40ff" opacity="0.35"/>
<circle cx="214.2" cy="52.9" r="0.65" fill="#3a40ff" opacity="0.34"/>
<circle cx="207.7" cy="52.1" r="1.07" fill="#3a40ff" opacity="0.62"/>
<circle cx="205.7" cy="47.8" r="0.53" fill="#3a40ff" opacity="0.64"/>
<circle cx="209.0" cy="55.9" r="0.80" fill="#3a40ff" opacity="0.51"/>
<circle cx="214.3" cy="45.3" r="0.64" fill="#3a40ff" opacity="0.70"/>
<circle cx="203.7" cy="52.0" r="0.76" fill="#3a40ff" opacity="0.45"/>
<circle cx="211.7" cy="46.3" r="0.83" fill="#3a40ff" opacity="0.66"/>
<circle cx="204.2" cy="61.5" r="0.71" fill="#3a40ff" opacity="0.61"/>
<circle cx="199.8" cy="51.6" r="0.84" fill="#3a40ff" opacity="0.61"/>
<circle cx="206.3" cy="44.9" r="0.82" fill="#3a40ff" opacity="0.73"/>
<circle cx="202.9" cy="49.0" r="0.87" fill="#3a40ff" opacity="0.42"/>
<circle cx="199.8" cy="45.8" r="0.87" fill="#3a40ff" opacity="0.74"/>
<circle cx="211.9" cy="58.2" r="1.02" fill="#3a40ff" opacity="0.72"/>
<path d="M189.2,44.1 C190.2,44.0 193.3,43.3 195.0,43.4 C196.7,43.5 197.9,43.7 199.3,44.8 C200.7,45.9 201.9,48.8 203.6,49.9 C205.3,51.0 207.7,51.3 209.4,51.3 C211.1,51.3 213.0,50.1 213.7,49.9" stroke="#2a36ff" stroke-width="1.3" fill="none" stroke-linecap="round" stroke-linejoin="round"/>
<path d="M189.2,44.1 C189.2,45.1 189.0,48.0 189.2,49.9 C189.4,51.8 189.9,54.2 190.6,55.6 C191.3,57.0 192.3,58.5 193.5,58.5 C194.7,58.5 196.1,56.6 197.8,55.6 C199.5,54.6 202.6,53.2 203.6,52.7" stroke="#2a36ff" stroke-width="1.3" fill="none" stroke-linecap="round" stroke-linejoin="round"/>
<path d="M184.9,57.0 C184.2,57.7 181.5,59.7 180.5,61.4 C179.5,63.1 179.3,66.2 179.1,67.2" stroke="#2a36ff" stroke-width="1.3" fill="none" stroke-linecap="round" stroke-linejoin="round"/>
<path d="M164.7,68.7 C165.6,68.5 168.5,67.7 170.4,67.2 C172.3,66.7 174.5,66.5 176.2,65.8 C177.9,65.1 179.5,63.9 180.5,62.9 C181.5,61.9 181.8,60.5 182.0,60.0" stroke="#2a36ff" stroke-width="1.3" fill="none" stroke-linecap="round" stroke-linejoin="round"/>
<path d="M182.0,68.7 C182.5,69.9 184.0,74.2 184.9,75.9 C185.8,77.6 187.2,78.3 187.7,78.8" stroke="#2a36ff" stroke-width="1.3" fill="none" stroke-linecap="round" stroke-linejoin="round"/>
<path d="M156.0,74.4 C156.5,74.9 158.2,76.1 158.9,77.3 C159.6,78.5 159.3,79.9 160.3,81.6 C161.3,83.3 163.7,85.2 164.7,87.4 C165.7,89.6 166.0,92.5 166.1,94.6 C166.2,96.7 165.7,98.0 165.5,100.0 C165.3,102.0 165.2,104.7 164.7,106.5 C164.2,108.3 163.1,109.5 162.6,110.8 C162.1,112.1 162.4,113.4 161.5,114.1 C160.6,114.8 157.9,114.9 157.2,115.1" stroke="#2a36ff" stroke-width="1.3" fill="none" stroke-linecap="round" stroke-linejoin="round"/>
<path d="M156.0,86.0 C157.0,86.5 160.1,87.5 161.8,88.9 C163.5,90.3 165.4,93.6 166.1,94.6" stroke="#2a36ff" stroke-width="1.3" fill="none" stroke-linecap="round" stroke-linejoin="round"/>
<path d="M196.4,60.0 C197.4,60.7 200.3,63.3 202.2,64.3 C204.1,65.3 206.1,66.0 208.0,65.8 C209.9,65.6 212.8,63.4 213.7,62.9" stroke="#2a36ff" stroke-width="1.3" fill="none" stroke-linecap="round" stroke-linejoin="round"/>
<path d="M223.2,93.2 C223.7,93.9 225.8,95.8 226.1,97.5 C226.3,99.2 225.4,102.1 224.7,103.3 C224.0,104.5 222.3,104.5 221.8,104.7" stroke="#2a36ff" stroke-width="1.3" fill="none" stroke-linecap="round" stroke-linejoin="round"/>
<path d="M216.0,99.0 L220.3,97.5" stroke="#2a36ff" stroke-width="1.3" fill="none" stroke-linecap="round" stroke-linejoin="round"/>
<path d="M282.4,67.2 L286.7,74.4" stroke="#2a36ff" stroke-width="1.3" fill="none" stroke-linecap="round" stroke-linejoin="round"/>
<path d="M164.7,45.5 C165.2,46.0 166.1,47.9 167.5,48.4 C168.9,48.9 172.3,48.4 173.3,48.4" stroke="#2a36ff" stroke-width="1.3" fill="none" stroke-linecap="round" stroke-linejoin="round"/>
<path d="M161.8,55.6 C163.0,56.3 166.8,60.0 169.0,60.0 C171.2,60.0 173.8,56.3 174.8,55.6" stroke="#2a36ff" stroke-width="1.3" fill="none" stroke-linecap="round" stroke-linejoin="round"/>
<path d="M177.6,51.3 C177.8,51.8 179.0,53.0 179.1,54.2 C179.2,55.4 178.5,57.8 178.4,58.5" stroke="#2a36ff" stroke-width="1.3" fill="none" stroke-linecap="round" stroke-linejoin="round"/>
<path d="M200.0,57.0 C200.7,56.7 202.7,54.7 204.0,55.0 C205.3,55.3 206.5,58.8 208.0,59.0 C209.5,59.2 212.2,56.5 213.0,56.0" stroke="#2a36ff" stroke-width="1.3" fill="none" stroke-linecap="round" stroke-linejoin="round"/>
<path d="M201.0,63.0 C201.8,62.7 204.7,60.7 206.0,61.0 C207.3,61.3 207.7,64.8 209.0,65.0 C210.3,65.2 213.2,62.5 214.0,62.0" stroke="#2a36ff" stroke-width="1.3" fill="none" stroke-linecap="round" stroke-linejoin="round"/>
<path d="M156.0,46.0 C156.7,46.7 158.8,49.7 160.0,50.0 C161.2,50.3 162.5,48.3 163.0,48.0" stroke="#2a36ff" stroke-width="1.3" fill="none" stroke-linecap="round" stroke-linejoin="round"/>
<path d="M156.0,60.0 C156.7,59.7 158.8,57.7 160.0,58.0 C161.2,58.3 162.5,61.3 163.0,62.0" stroke="#2a36ff" stroke-width="1.3" fill="none" stroke-linecap="round" stroke-linejoin="round"/>
<path d="M172.0,74.0 C172.7,74.7 175.5,76.3 176.0,78.0 C176.5,79.7 175.2,83.0 175.0,84.0" stroke="#2a36ff" stroke-width="1.3" fill="none" stroke-linecap="round" stroke-linejoin="round"/>
<path d="M246.0,55.0 L249.0,58.5" stroke="#2a36ff" stroke-width="1.3" fill="none" stroke-linecap="round" stroke-linejoin="round"/>
<path d="M283.0,70.0 L288.0,73.0" stroke="#2a36ff" stroke-width="1.3" fill="none" stroke-linecap="round" stroke-linejoin="round"/>
<path d="M164.7,124.9 C165.1,125.8 166.2,129.0 166.9,130.3 C167.6,131.6 168.7,132.1 169.1,132.5" stroke="#2a36ff" stroke-width="1.3" fill="none" stroke-linecap="round" stroke-linejoin="round"/>
<path d="M165.8,143.0 L164.7,148.5" stroke="#2a36ff" stroke-width="1.3" fill="none" stroke-linecap="round" stroke-linejoin="round"/>
<path d="M208.8,105.4 C209.7,105.0 212.8,103.9 214.2,103.2 C215.6,102.5 216.9,101.4 217.5,101.1" stroke="#2a36ff" stroke-width="1.3" fill="none" stroke-linecap="round" stroke-linejoin="round"/>
<path d="M227.2,100.0 C227.0,100.5 226.6,102.4 226.1,103.2 C225.6,104.0 224.3,104.6 224.0,104.9" stroke="#2a36ff" stroke-width="1.3" fill="none" stroke-linecap="round" stroke-linejoin="round"/>
<path d="M222.9,116.2 C222.3,116.9 220.9,119.0 219.6,120.6 C218.3,122.2 216.6,124.2 215.3,126.0 C214.1,127.8 213.0,129.6 212.1,131.4 C211.2,133.2 210.4,134.8 209.9,136.8 C209.4,138.8 209.0,142.2 208.8,143.3" stroke="#2a36ff" stroke-width="1.3" fill="none" stroke-linecap="round" stroke-linejoin="round"/>
<path d="M198.0,148.5 C199.1,148.1 202.5,147.0 204.5,146.3 C206.5,145.6 208.1,144.2 209.9,144.2 C211.7,144.2 213.3,145.4 215.3,146.3 C217.3,147.2 219.6,148.7 221.8,149.6 C224.0,150.5 226.3,151.5 228.3,151.7 C230.3,151.9 232.3,151.2 233.7,150.7 C235.1,150.2 236.4,148.9 236.9,148.5" stroke="#2a36ff" stroke-width="1.3" fill="none" stroke-linecap="round" stroke-linejoin="round"/>
<path d="M264.6,119.5 C263.7,120.0 261.0,121.5 259.2,122.7 C257.4,124.0 255.4,125.5 253.8,127.0 C252.2,128.4 250.8,130.0 249.5,131.4 C248.2,132.8 246.9,133.9 246.2,135.7 C245.5,137.5 245.4,141.1 245.2,142.2" stroke="#2a36ff" stroke-width="1.3" fill="none" stroke-linecap="round" stroke-linejoin="round"/>
<path d="M189.6,144.5 L193.9,145.5" stroke="#2a36ff" stroke-width="1.3" fill="none" stroke-linecap="round" stroke-linejoin="round"/>
<path d="M203.4,178.8 L203.8,180.5" stroke="#2a36ff" stroke-width="1.3" fill="none" stroke-linecap="round" stroke-linejoin="round"/>
<circle cx="268.6" cy="118.6" r="1.6" fill="#2a36ff"/><circle cx="264.6" cy="119.5" r="1.3" fill="#3040ff"/>
<path d="M189.2,84.5 C189.9,84.9 192.1,86.7 193.5,86.7 C194.9,86.7 196.6,85.3 197.8,84.5 C199.0,83.7 200.2,82.1 200.7,81.6" stroke="#58c8ff" stroke-width="1.5" fill="none" stroke-linecap="round" stroke-linejoin="round"/>
<path d="M184.2,130.3 C184.8,131.2 186.6,133.9 187.5,135.7 C188.4,137.5 189.1,139.5 189.6,141.1 C190.1,142.7 190.5,144.3 190.7,145.0" stroke="#50b8ff" stroke-width="1.5" fill="none" stroke-linecap="round" stroke-linejoin="round"/>
<path d="M199.4,167.0 C199.7,167.9 201.1,170.3 201.2,172.3 C201.3,174.3 200.8,176.9 200.2,178.8 C199.6,180.8 198.2,182.5 197.5,184.0 C196.8,185.5 196.2,187.3 196.0,188.0" stroke="#3a6cff" stroke-width="2.6" fill="none" stroke-linecap="round" stroke-linejoin="round"/>
<path d="M199.4,167.0 C199.7,167.9 201.1,170.3 201.2,172.3 C201.3,174.3 200.8,176.9 200.2,178.8 C199.6,180.8 198.2,182.5 197.5,184.0 C196.8,185.5 196.2,187.3 196.0,188.0" stroke="#a8dcff" stroke-width="1.1" fill="none" stroke-linecap="round" stroke-linejoin="round"/>
<path d="M168.3,34.0 C168.1,34.5 166.6,35.7 166.8,36.9 C167.0,38.1 168.4,40.5 169.7,41.2 C171.0,41.9 173.2,40.6 174.8,41.2 C176.4,41.8 177.3,43.6 179.1,44.8 C180.9,46.0 184.5,47.8 185.6,48.4" stroke="#5fc0ff" stroke-width="1.9" fill="none" stroke-linecap="round" stroke-linejoin="round"/>
<path d="M168.3,34.0 C168.8,34.2 170.6,34.6 171.5,35.5 C172.4,36.4 173.6,38.8 174.0,39.5" stroke="#5fc0ff" stroke-width="1.6" fill="none" stroke-linecap="round" stroke-linejoin="round"/>
<path d="M176.2,23.2 L178.4,27.5" stroke="#8af0d0" stroke-width="1.6" fill="none" stroke-linecap="round" stroke-linejoin="round"/>
<circle cx="247.7" cy="48.5" r="1.2" fill="#80f0ff"/><circle cx="241.3" cy="86" r="1.1" fill="#80f0ff"/>
<path d="M156.0,52.7 C157.0,53.7 160.1,56.6 161.8,58.5 C163.5,60.4 165.4,63.3 166.1,64.3" stroke="#a01810" stroke-width="1.0" fill="none" stroke-linecap="round" stroke-linejoin="round" opacity="0.4"/>
<circle cx="156.8" cy="53.2" r="0.75" fill="#f22a1c" opacity="0.74"/>
<circle cx="157.6" cy="54.5" r="0.76" fill="#f22a1c" opacity="0.85"/>
<circle cx="160.2" cy="57.2" r="0.69" fill="#f22a1c" opacity="0.92"/>
<circle cx="161.7" cy="58.0" r="0.79" fill="#f22a1c" opacity="0.84"/>
<circle cx="163.5" cy="60.7" r="0.90" fill="#f22a1c" opacity="0.84"/>
<circle cx="164.7" cy="62.1" r="0.61" fill="#f22a1c" opacity="0.72"/>
<circle cx="165.4" cy="63.5" r="0.70" fill="#f22a1c" opacity="1.00"/>
<path d="M266.0,36.0 C265.0,37.5 262.1,41.0 260.0,45.0 C257.9,49.0 256.0,56.0 253.5,60.0 C251.0,64.0 247.6,65.8 244.9,68.7 C242.2,71.6 240.0,74.2 237.6,77.3 C235.2,80.4 232.6,84.5 230.4,87.4 C228.2,90.3 226.6,92.2 224.7,94.6 C222.8,97.0 220.3,99.9 218.9,101.8 C217.5,103.7 216.5,105.5 216.0,106.2" stroke="#a01810" stroke-width="1.0" fill="none" stroke-linecap="round" stroke-linejoin="round" opacity="0.4"/>
<circle cx="265.0" cy="37.1" r="0.51" fill="#f22a1c" opacity="0.81"/>
<circle cx="263.9" cy="38.4" r="0.69" fill="#f22a1c" opacity="0.69"/>
<circle cx="263.6" cy="40.1" r="0.87" fill="#f22a1c" opacity="0.65"/>
<circle cx="262.3" cy="40.5" r="0.76" fill="#f22a1c" opacity="0.99"/>
<circle cx="261.5" cy="42.4" r="0.87" fill="#f22a1c" opacity="0.96"/>
<circle cx="260.8" cy="44.0" r="0.67" fill="#f22a1c" opacity="0.83"/>
<circle cx="259.3" cy="45.7" r="0.85" fill="#f22a1c" opacity="0.88"/>
<circle cx="259.0" cy="47.3" r="0.78" fill="#f22a1c" opacity="0.95"/>
<circle cx="258.2" cy="49.2" r="0.50" fill="#f22a1c" opacity="0.73"/>
<circle cx="258.0" cy="50.2" r="0.76" fill="#f22a1c" opacity="0.96"/>
<circle cx="257.2" cy="51.7" r="0.80" fill="#f22a1c" opacity="1.00"/>
<circle cx="256.9" cy="53.3" r="0.71" fill="#f22a1c" opacity="0.87"/>
<circle cx="255.7" cy="54.7" r="0.78" fill="#f22a1c" opacity="0.93"/>
<circle cx="255.3" cy="56.8" r="0.56" fill="#f22a1c" opacity="0.86"/>
<circle cx="254.7" cy="58.2" r="0.83" fill="#f22a1c" opacity="0.98"/>
<circle cx="253.5" cy="60.3" r="0.68" fill="#f22a1c" opacity="0.76"/>
<circle cx="252.4" cy="61.7" r="0.51" fill="#f22a1c" opacity="0.96"/>
<circle cx="251.8" cy="62.5" r="0.74" fill="#f22a1c" opacity="0.77"/>
<circle cx="250.4" cy="63.9" r="0.51" fill="#f22a1c" opacity="0.67"/>
<circle cx="248.9" cy="64.4" r="0.65" fill="#f22a1c" opacity="0.75"/>
<circle cx="247.9" cy="65.9" r="0.64" fill="#f22a1c" opacity="0.91"/>
<circle cx="245.2" cy="68.4" r="0.78" fill="#f22a1c" opacity="0.76"/>
<circle cx="244.3" cy="69.3" r="0.56" fill="#f22a1c" opacity="0.71"/>
<circle cx="243.4" cy="71.0" r="0.78" fill="#f22a1c" opacity="0.75"/>
<circle cx="242.1" cy="72.2" r="0.75" fill="#f22a1c" opacity="0.87"/>
<circle cx="240.6" cy="73.6" r="0.77" fill="#f22a1c" opacity="0.91"/>
<circle cx="239.1" cy="75.6" r="0.70" fill="#f22a1c" opacity="0.78"/>
<circle cx="238.5" cy="76.5" r="0.55" fill="#f22a1c" opacity="0.75"/>
<circle cx="237.0" cy="78.1" r="0.89" fill="#f22a1c" opacity="0.81"/>
<circle cx="236.2" cy="79.4" r="0.66" fill="#f22a1c" opacity="0.80"/>
<circle cx="235.2" cy="80.3" r="0.70" fill="#f22a1c" opacity="0.70"/>
<circle cx="234.4" cy="82.3" r="0.80" fill="#f22a1c" opacity="0.85"/>
<circle cx="233.4" cy="83.1" r="0.65" fill="#f22a1c" opacity="0.83"/>
<circle cx="232.4" cy="85.0" r="0.51" fill="#f22a1c" opacity="0.79"/>
<circle cx="231.6" cy="85.9" r="0.88" fill="#f22a1c" opacity="0.78"/>
<circle cx="230.7" cy="86.9" r="0.87" fill="#f22a1c" opacity="0.69"/>
<circle cx="230.0" cy="88.6" r="0.83" fill="#f22a1c" opacity="0.84"/>
<circle cx="228.5" cy="89.6" r="0.83" fill="#f22a1c" opacity="0.82"/>
<circle cx="227.8" cy="90.9" r="0.67" fill="#f22a1c" opacity="0.96"/>
<circle cx="226.8" cy="92.4" r="0.64" fill="#f22a1c" opacity="0.90"/>
<circle cx="225.3" cy="93.9" r="0.87" fill="#f22a1c" opacity="0.96"/>
<circle cx="224.5" cy="95.1" r="0.54" fill="#f22a1c" opacity="0.80"/>
<circle cx="223.1" cy="96.1" r="0.60" fill="#f22a1c" opacity="0.71"/>
<circle cx="222.4" cy="97.6" r="0.80" fill="#f22a1c" opacity="0.76"/>
<circle cx="221.1" cy="99.0" r="0.87" fill="#f22a1c" opacity="0.95"/>
<circle cx="220.1" cy="99.7" r="0.75" fill="#f22a1c" opacity="0.74"/>
<circle cx="219.4" cy="101.1" r="0.70" fill="#f22a1c" opacity="0.85"/>
<circle cx="218.6" cy="102.6" r="0.69" fill="#f22a1c" opacity="0.86"/>
<circle cx="217.4" cy="104.1" r="0.59" fill="#f22a1c" opacity="0.98"/>
<circle cx="216.5" cy="105.6" r="0.56" fill="#f22a1c" opacity="0.70"/>
<path d="M257.8,68.7 C257.3,70.1 255.7,74.4 255.0,77.3 C254.3,80.2 253.6,83.3 253.5,86.0 C253.4,88.7 253.7,90.6 254.2,93.2 C254.7,95.8 256.0,100.4 256.4,101.8" stroke="#a01810" stroke-width="1.0" fill="none" stroke-linecap="round" stroke-linejoin="round" opacity="0.4"/>
<circle cx="257.2" cy="69.9" r="0.68" fill="#f22a1c" opacity="0.83"/>
<circle cx="256.6" cy="71.6" r="0.53" fill="#f22a1c" opacity="0.81"/>
<circle cx="256.3" cy="73.2" r="0.51" fill="#f22a1c" opacity="0.69"/>
<circle cx="255.4" cy="74.5" r="0.65" fill="#f22a1c" opacity="0.81"/>
<circle cx="255.1" cy="76.8" r="0.57" fill="#f22a1c" opacity="0.81"/>
<circle cx="254.9" cy="78.3" r="0.59" fill="#f22a1c" opacity="0.98"/>
<circle cx="254.3" cy="79.8" r="0.58" fill="#f22a1c" opacity="0.94"/>
<circle cx="254.2" cy="81.2" r="0.67" fill="#f22a1c" opacity="0.65"/>
<circle cx="254.1" cy="83.3" r="0.55" fill="#f22a1c" opacity="0.78"/>
<circle cx="253.9" cy="85.0" r="0.85" fill="#f22a1c" opacity="0.63"/>
<circle cx="253.7" cy="87.1" r="0.84" fill="#f22a1c" opacity="0.90"/>
<circle cx="253.5" cy="88.4" r="0.86" fill="#f22a1c" opacity="0.94"/>
<circle cx="253.9" cy="89.8" r="0.70" fill="#f22a1c" opacity="0.72"/>
<circle cx="254.0" cy="92.1" r="0.80" fill="#f22a1c" opacity="0.86"/>
<circle cx="254.1" cy="93.6" r="0.67" fill="#f22a1c" opacity="0.80"/>
<circle cx="254.5" cy="95.2" r="0.71" fill="#f22a1c" opacity="0.60"/>
<circle cx="255.5" cy="99.1" r="0.62" fill="#f22a1c" opacity="0.61"/>
<circle cx="256.2" cy="100.5" r="0.64" fill="#f22a1c" opacity="0.95"/>
<circle cx="256.4" cy="101.5" r="0.82" fill="#f22a1c" opacity="0.72"/>
<path d="M270.8,73.0 C271.8,72.3 274.4,69.9 276.6,68.7 C278.8,67.5 281.9,66.8 283.8,65.8 C285.7,64.8 287.3,63.4 288.0,62.9" stroke="#a01810" stroke-width="1.0" fill="none" stroke-linecap="round" stroke-linejoin="round" opacity="0.4"/>
<circle cx="272.0" cy="71.8" r="0.73" fill="#f22a1c" opacity="0.98"/>
<circle cx="273.6" cy="70.5" r="0.81" fill="#f22a1c" opacity="0.86"/>
<circle cx="274.9" cy="69.6" r="0.51" fill="#f22a1c" opacity="0.84"/>
<circle cx="275.7" cy="69.2" r="0.73" fill="#f22a1c" opacity="0.96"/>
<circle cx="277.5" cy="68.5" r="0.81" fill="#f22a1c" opacity="0.80"/>
<circle cx="279.3" cy="67.7" r="0.53" fill="#f22a1c" opacity="0.81"/>
<circle cx="280.4" cy="67.4" r="0.69" fill="#f22a1c" opacity="0.93"/>
<circle cx="282.1" cy="66.6" r="0.67" fill="#f22a1c" opacity="0.98"/>
<circle cx="283.3" cy="66.0" r="0.61" fill="#f22a1c" opacity="0.78"/>
<circle cx="287.8" cy="63.2" r="0.61" fill="#f22a1c" opacity="0.82"/>
<path d="M257.8,88.9 C258.8,87.7 261.4,83.8 263.6,81.6 C265.8,79.4 268.6,77.6 270.8,75.9 C273.0,74.2 275.6,72.2 276.6,71.5" stroke="#a01810" stroke-width="1.0" fill="none" stroke-linecap="round" stroke-linejoin="round" opacity="0.4"/>
<circle cx="258.5" cy="88.1" r="0.52" fill="#f22a1c" opacity="0.95"/>
<circle cx="259.4" cy="86.9" r="0.70" fill="#f22a1c" opacity="0.71"/>
<circle cx="260.5" cy="85.4" r="0.73" fill="#f22a1c" opacity="0.83"/>
<circle cx="261.6" cy="84.5" r="0.66" fill="#f22a1c" opacity="0.76"/>
<circle cx="262.9" cy="82.6" r="0.74" fill="#f22a1c" opacity="0.81"/>
<circle cx="264.3" cy="80.5" r="0.79" fill="#f22a1c" opacity="0.93"/>
<circle cx="266.1" cy="79.3" r="0.63" fill="#f22a1c" opacity="0.97"/>
<circle cx="267.8" cy="78.0" r="0.58" fill="#f22a1c" opacity="0.89"/>
<circle cx="270.7" cy="76.2" r="0.51" fill="#f22a1c" opacity="0.76"/>
<circle cx="272.0" cy="75.3" r="0.50" fill="#f22a1c" opacity="0.98"/>
<circle cx="272.9" cy="74.5" r="0.55" fill="#f22a1c" opacity="0.70"/>
<circle cx="274.1" cy="73.6" r="0.66" fill="#f22a1c" opacity="0.66"/>
<circle cx="276.0" cy="72.0" r="0.83" fill="#f22a1c" opacity="0.93"/>
<path d="M270.8,103.3 C271.8,102.1 274.4,98.0 276.6,96.1 C278.8,94.2 281.9,92.9 283.8,91.7 C285.7,90.5 287.3,89.4 288.0,88.9" stroke="#a01810" stroke-width="1.0" fill="none" stroke-linecap="round" stroke-linejoin="round" opacity="0.4"/>
<circle cx="270.7" cy="103.4" r="0.64" fill="#f22a1c" opacity="0.84"/>
<circle cx="272.3" cy="101.9" r="0.55" fill="#f22a1c" opacity="0.87"/>
<circle cx="272.7" cy="100.2" r="0.84" fill="#f22a1c" opacity="0.84"/>
<circle cx="273.9" cy="99.1" r="0.62" fill="#f22a1c" opacity="0.86"/>
<circle cx="275.0" cy="97.6" r="0.53" fill="#f22a1c" opacity="0.62"/>
<circle cx="277.7" cy="95.1" r="0.89" fill="#f22a1c" opacity="0.64"/>
<circle cx="278.7" cy="94.5" r="0.64" fill="#f22a1c" opacity="0.61"/>
<circle cx="280.9" cy="93.7" r="0.60" fill="#f22a1c" opacity="0.91"/>
<circle cx="282.0" cy="92.6" r="0.87" fill="#f22a1c" opacity="0.70"/>
<circle cx="283.4" cy="92.1" r="0.71" fill="#f22a1c" opacity="0.74"/>
<circle cx="284.8" cy="91.3" r="0.54" fill="#f22a1c" opacity="0.94"/>
<circle cx="286.3" cy="90.2" r="0.52" fill="#f22a1c" opacity="0.87"/>
<circle cx="287.9" cy="89.2" r="0.70" fill="#f22a1c" opacity="0.91"/>
<path d="M216.0,116.3 C217.2,115.8 220.8,114.6 223.2,113.4 C225.6,112.2 227.8,110.3 230.4,109.1 C233.1,107.9 236.7,107.2 239.1,106.2 C241.5,105.2 243.2,104.8 244.9,103.3 C246.6,101.8 248.5,98.5 249.2,97.5" stroke="#a01810" stroke-width="1.0" fill="none" stroke-linecap="round" stroke-linejoin="round" opacity="0.4"/>
<circle cx="217.2" cy="115.7" r="0.68" fill="#f22a1c" opacity="0.93"/>
<circle cx="218.3" cy="115.3" r="0.78" fill="#f22a1c" opacity="0.83"/>
<circle cx="219.4" cy="115.3" r="0.90" fill="#f22a1c" opacity="0.89"/>
<circle cx="221.4" cy="114.1" r="0.56" fill="#f22a1c" opacity="0.94"/>
<circle cx="222.6" cy="113.9" r="0.75" fill="#f22a1c" opacity="0.69"/>
<circle cx="224.1" cy="112.9" r="0.73" fill="#f22a1c" opacity="0.62"/>
<circle cx="225.3" cy="111.9" r="0.57" fill="#f22a1c" opacity="0.98"/>
<circle cx="226.6" cy="111.2" r="0.85" fill="#f22a1c" opacity="0.96"/>
<circle cx="228.6" cy="109.8" r="0.88" fill="#f22a1c" opacity="0.67"/>
<circle cx="230.1" cy="109.2" r="0.60" fill="#f22a1c" opacity="0.96"/>
<circle cx="232.2" cy="108.0" r="0.61" fill="#f22a1c" opacity="0.72"/>
<circle cx="234.1" cy="107.6" r="0.58" fill="#f22a1c" opacity="0.75"/>
<circle cx="236.0" cy="106.9" r="0.71" fill="#f22a1c" opacity="0.65"/>
<circle cx="237.3" cy="107.1" r="0.79" fill="#f22a1c" opacity="0.77"/>
<circle cx="238.5" cy="106.5" r="0.81" fill="#f22a1c" opacity="0.89"/>
<circle cx="240.7" cy="105.9" r="0.80" fill="#f22a1c" opacity="0.92"/>
<circle cx="242.3" cy="105.2" r="0.68" fill="#f22a1c" opacity="0.98"/>
<circle cx="244.1" cy="104.0" r="0.84" fill="#f22a1c" opacity="0.94"/>
<circle cx="245.3" cy="102.9" r="0.55" fill="#f22a1c" opacity="0.96"/>
<circle cx="246.4" cy="101.4" r="0.63" fill="#f22a1c" opacity="0.73"/>
<circle cx="247.6" cy="99.7" r="0.53" fill="#f22a1c" opacity="0.65"/>
<circle cx="248.4" cy="98.4" r="0.65" fill="#f22a1c" opacity="0.79"/>
<path d="M199.3,80.2 C199.8,79.5 201.0,76.9 202.2,75.9 C203.4,74.9 205.1,75.1 206.5,74.4 C207.9,73.7 210.1,72.0 210.8,71.5" stroke="#a01810" stroke-width="1.0" fill="none" stroke-linecap="round" stroke-linejoin="round" opacity="0.4"/>
<circle cx="199.6" cy="80.3" r="0.83" fill="#f22a1c" opacity="0.81"/>
<circle cx="200.4" cy="77.8" r="0.68" fill="#f22a1c" opacity="0.93"/>
<circle cx="204.9" cy="74.7" r="0.75" fill="#f22a1c" opacity="0.88"/>
<circle cx="206.2" cy="74.1" r="0.53" fill="#f22a1c" opacity="0.65"/>
<circle cx="208.2" cy="73.4" r="0.64" fill="#f22a1c" opacity="0.79"/>
<circle cx="209.8" cy="71.9" r="0.69" fill="#f22a1c" opacity="0.97"/>
<path d="M184.9,29.7 C185.8,29.9 188.9,31.4 190.6,31.1 C192.3,30.9 193.4,29.4 195.0,28.2 C196.6,27.0 199.2,24.7 200.0,24.0" stroke="#a01810" stroke-width="1.0" fill="none" stroke-linecap="round" stroke-linejoin="round" opacity="0.4"/>
<circle cx="186.1" cy="30.1" r="0.75" fill="#f22a1c" opacity="0.88"/>
<circle cx="188.1" cy="30.9" r="0.77" fill="#f22a1c" opacity="0.92"/>
<circle cx="190.3" cy="31.1" r="0.51" fill="#f22a1c" opacity="0.90"/>
<circle cx="191.8" cy="30.6" r="0.83" fill="#f22a1c" opacity="0.71"/>
<circle cx="192.9" cy="30.1" r="0.79" fill="#f22a1c" opacity="0.68"/>
<circle cx="194.4" cy="28.8" r="0.56" fill="#f22a1c" opacity="0.77"/>
<circle cx="196.0" cy="27.1" r="0.89" fill="#f22a1c" opacity="0.78"/>
<circle cx="198.5" cy="25.1" r="0.57" fill="#f22a1c" opacity="0.66"/>
<circle cx="199.4" cy="24.3" r="0.61" fill="#f22a1c" opacity="0.82"/>
<path d="M182.0,37.0 C182.7,37.2 184.7,37.2 186.0,38.0 C187.3,38.8 189.3,41.3 190.0,42.0" stroke="#a01810" stroke-width="1.0" fill="none" stroke-linecap="round" stroke-linejoin="round" opacity="0.4"/>
<circle cx="183.3" cy="37.0" r="0.77" fill="#f22a1c" opacity="0.67"/>
<circle cx="185.7" cy="37.9" r="0.75" fill="#f22a1c" opacity="0.69"/>
<circle cx="189.0" cy="41.5" r="0.72" fill="#f22a1c" opacity="0.65"/>
<path d="M196.0,21.0 C196.5,22.2 198.0,25.8 199.0,28.0 C200.0,30.2 201.5,33.0 202.0,34.0" stroke="#a01810" stroke-width="1.0" fill="none" stroke-linecap="round" stroke-linejoin="round" opacity="0.4"/>
<circle cx="196.8" cy="22.5" r="0.51" fill="#f22a1c" opacity="0.63"/>
<circle cx="197.0" cy="24.2" r="0.83" fill="#f22a1c" opacity="0.64"/>
<circle cx="198.8" cy="28.0" r="0.52" fill="#f22a1c" opacity="0.99"/>
<circle cx="199.6" cy="29.9" r="0.72" fill="#f22a1c" opacity="0.80"/>
<circle cx="200.5" cy="31.0" r="0.82" fill="#f22a1c" opacity="0.85"/>
<circle cx="201.5" cy="33.2" r="0.57" fill="#f22a1c" opacity="0.74"/>
<path d="M222.0,21.0 C223.0,21.5 226.0,24.0 228.0,24.0 C230.0,24.0 233.0,21.5 234.0,21.0" stroke="#a01810" stroke-width="1.0" fill="none" stroke-linecap="round" stroke-linejoin="round" opacity="0.4"/>
<circle cx="223.3" cy="21.7" r="0.79" fill="#f22a1c" opacity="0.71"/>
<circle cx="224.3" cy="22.6" r="0.76" fill="#f22a1c" opacity="0.70"/>
<circle cx="226.0" cy="23.5" r="0.84" fill="#f22a1c" opacity="0.71"/>
<circle cx="226.8" cy="23.7" r="0.70" fill="#f22a1c" opacity="0.87"/>
<circle cx="228.5" cy="24.0" r="0.57" fill="#f22a1c" opacity="0.86"/>
<circle cx="230.4" cy="23.5" r="0.54" fill="#f22a1c" opacity="0.81"/>
<circle cx="231.3" cy="22.7" r="0.76" fill="#f22a1c" opacity="0.71"/>
<circle cx="233.1" cy="21.7" r="0.60" fill="#f22a1c" opacity="0.98"/>
<path d="M262.0,21.0 C262.5,22.5 264.3,27.2 265.0,30.0 C265.7,32.8 265.8,36.7 266.0,38.0" stroke="#a01810" stroke-width="1.0" fill="none" stroke-linecap="round" stroke-linejoin="round" opacity="0.4"/>
<circle cx="262.5" cy="22.1" r="0.58" fill="#f22a1c" opacity="0.91"/>
<circle cx="262.9" cy="24.2" r="0.57" fill="#f22a1c" opacity="0.77"/>
<circle cx="264.9" cy="28.4" r="0.62" fill="#f22a1c" opacity="0.73"/>
<circle cx="264.9" cy="30.1" r="0.64" fill="#f22a1c" opacity="0.69"/>
<circle cx="265.2" cy="31.5" r="0.84" fill="#f22a1c" opacity="0.99"/>
<circle cx="265.3" cy="34.4" r="0.83" fill="#f22a1c" opacity="0.79"/>
<circle cx="265.7" cy="36.4" r="0.78" fill="#f22a1c" opacity="0.99"/>
<path d="M275.0,24.0 C275.8,25.0 278.2,28.5 280.0,30.0 C281.8,31.5 285.0,32.5 286.0,33.0" stroke="#a01810" stroke-width="1.0" fill="none" stroke-linecap="round" stroke-linejoin="round" opacity="0.4"/>
<circle cx="275.5" cy="24.0" r="0.77" fill="#f22a1c" opacity="0.87"/>
<circle cx="275.8" cy="25.2" r="0.82" fill="#f22a1c" opacity="0.82"/>
<circle cx="277.9" cy="27.7" r="0.76" fill="#f22a1c" opacity="0.86"/>
<circle cx="279.0" cy="28.8" r="0.51" fill="#f22a1c" opacity="1.00"/>
<circle cx="281.4" cy="30.8" r="0.51" fill="#f22a1c" opacity="0.66"/>
<circle cx="282.9" cy="32.0" r="0.90" fill="#f22a1c" opacity="0.99"/>
<circle cx="284.3" cy="32.4" r="0.70" fill="#f22a1c" opacity="0.73"/>
<circle cx="285.9" cy="33.1" r="0.75" fill="#f22a1c" opacity="0.63"/>
<path d="M230.3,48.4 C229.9,49.8 228.3,54.4 228.1,57.0 C227.9,59.6 228.1,62.1 228.9,64.3 C229.8,66.5 232.0,68.1 233.2,70.0 C234.4,71.9 235.6,74.8 236.1,75.8" stroke="#a01810" stroke-width="1.0" fill="none" stroke-linecap="round" stroke-linejoin="round" opacity="0.4"/>
<circle cx="230.0" cy="48.8" r="0.80" fill="#f22a1c" opacity="0.95"/>
<circle cx="229.3" cy="51.0" r="0.64" fill="#f22a1c" opacity="0.88"/>
<circle cx="228.9" cy="52.5" r="0.74" fill="#f22a1c" opacity="0.98"/>
<circle cx="228.4" cy="53.5" r="0.78" fill="#f22a1c" opacity="0.63"/>
<circle cx="228.1" cy="55.6" r="0.76" fill="#f22a1c" opacity="0.99"/>
<circle cx="228.3" cy="57.4" r="0.87" fill="#f22a1c" opacity="0.74"/>
<circle cx="228.2" cy="59.0" r="0.76" fill="#f22a1c" opacity="1.00"/>
<circle cx="228.2" cy="61.0" r="0.66" fill="#f22a1c" opacity="0.75"/>
<circle cx="228.2" cy="62.6" r="0.52" fill="#f22a1c" opacity="0.90"/>
<circle cx="229.0" cy="63.7" r="0.54" fill="#f22a1c" opacity="0.68"/>
<circle cx="229.6" cy="64.9" r="0.50" fill="#f22a1c" opacity="0.82"/>
<circle cx="230.5" cy="66.7" r="0.55" fill="#f22a1c" opacity="0.99"/>
<circle cx="231.0" cy="67.5" r="0.57" fill="#f22a1c" opacity="0.71"/>
<circle cx="232.1" cy="68.5" r="0.53" fill="#f22a1c" opacity="0.96"/>
<circle cx="233.2" cy="70.8" r="0.51" fill="#f22a1c" opacity="0.91"/>
<circle cx="234.4" cy="72.1" r="0.78" fill="#f22a1c" opacity="0.83"/>
<circle cx="235.8" cy="75.1" r="0.54" fill="#f22a1c" opacity="0.65"/>
<path d="M230.3,48.4 C231.5,48.3 235.6,47.0 237.5,47.7 C239.4,48.4 240.8,50.4 241.8,52.7 C242.8,55.0 242.8,58.8 243.3,61.4 C243.8,64.0 244.9,66.4 244.7,68.6 C244.4,70.8 242.3,73.4 241.8,74.4" stroke="#a01810" stroke-width="1.0" fill="none" stroke-linecap="round" stroke-linejoin="round" opacity="0.4"/>
<circle cx="230.9" cy="48.4" r="0.58" fill="#f22a1c" opacity="0.84"/>
<circle cx="232.1" cy="47.9" r="0.62" fill="#f22a1c" opacity="0.62"/>
<circle cx="233.6" cy="47.9" r="0.70" fill="#f22a1c" opacity="0.71"/>
<circle cx="235.3" cy="47.5" r="0.51" fill="#f22a1c" opacity="0.75"/>
<circle cx="237.1" cy="47.9" r="0.85" fill="#f22a1c" opacity="0.96"/>
<circle cx="238.6" cy="47.9" r="0.65" fill="#f22a1c" opacity="0.62"/>
<circle cx="239.8" cy="48.8" r="0.83" fill="#f22a1c" opacity="0.88"/>
<circle cx="241.0" cy="50.7" r="0.88" fill="#f22a1c" opacity="0.97"/>
<circle cx="241.5" cy="52.5" r="0.84" fill="#f22a1c" opacity="0.76"/>
<circle cx="242.2" cy="53.7" r="0.75" fill="#f22a1c" opacity="0.81"/>
<circle cx="242.9" cy="57.4" r="0.59" fill="#f22a1c" opacity="0.97"/>
<circle cx="243.2" cy="58.6" r="0.58" fill="#f22a1c" opacity="0.69"/>
<circle cx="243.1" cy="61.2" r="0.83" fill="#f22a1c" opacity="0.62"/>
<circle cx="243.5" cy="62.7" r="0.84" fill="#f22a1c" opacity="0.72"/>
<circle cx="244.1" cy="63.5" r="0.76" fill="#f22a1c" opacity="0.60"/>
<circle cx="244.5" cy="64.8" r="0.64" fill="#f22a1c" opacity="0.67"/>
<circle cx="244.6" cy="66.7" r="0.59" fill="#f22a1c" opacity="0.66"/>
<circle cx="244.7" cy="68.9" r="0.61" fill="#f22a1c" opacity="0.69"/>
<circle cx="244.0" cy="70.1" r="0.67" fill="#f22a1c" opacity="0.62"/>
<circle cx="243.2" cy="71.8" r="0.82" fill="#f22a1c" opacity="0.79"/>
<circle cx="242.9" cy="73.2" r="0.89" fill="#f22a1c" opacity="0.64"/>
<path d="M246.2,63.1 C247.7,62.8 252.6,62.3 255.4,61.5 C258.2,60.7 260.5,60.0 263.1,58.5 C265.7,57.0 268.2,53.8 270.8,52.3 C273.4,50.8 275.6,50.2 278.5,49.2 C281.4,48.2 286.4,46.7 288.0,46.2" stroke="#a01810" stroke-width="1.0" fill="none" stroke-linecap="round" stroke-linejoin="round" opacity="0.4"/>
<circle cx="246.2" cy="62.9" r="0.82" fill="#f22a1c" opacity="0.91"/>
<circle cx="248.3" cy="62.9" r="0.53" fill="#f22a1c" opacity="0.78"/>
<circle cx="250.1" cy="62.4" r="0.63" fill="#f22a1c" opacity="0.83"/>
<circle cx="251.4" cy="62.3" r="0.87" fill="#f22a1c" opacity="0.62"/>
<circle cx="253.6" cy="61.9" r="0.76" fill="#f22a1c" opacity="0.61"/>
<circle cx="255.3" cy="61.5" r="0.89" fill="#f22a1c" opacity="0.82"/>
<circle cx="256.8" cy="61.4" r="0.65" fill="#f22a1c" opacity="0.61"/>
<circle cx="258.7" cy="60.4" r="0.53" fill="#f22a1c" opacity="0.98"/>
<circle cx="260.3" cy="60.0" r="0.66" fill="#f22a1c" opacity="0.92"/>
<circle cx="261.9" cy="59.4" r="0.57" fill="#f22a1c" opacity="0.88"/>
<circle cx="262.8" cy="58.3" r="0.50" fill="#f22a1c" opacity="0.87"/>
<circle cx="264.8" cy="57.4" r="0.79" fill="#f22a1c" opacity="0.82"/>
<circle cx="266.3" cy="56.0" r="0.53" fill="#f22a1c" opacity="0.82"/>
<circle cx="268.1" cy="54.6" r="0.86" fill="#f22a1c" opacity="0.99"/>
<circle cx="269.6" cy="53.1" r="0.74" fill="#f22a1c" opacity="0.74"/>
<circle cx="271.2" cy="52.0" r="0.78" fill="#f22a1c" opacity="0.93"/>
<circle cx="273.0" cy="50.7" r="0.55" fill="#f22a1c" opacity="0.63"/>
<circle cx="276.4" cy="50.2" r="0.64" fill="#f22a1c" opacity="0.79"/>
<circle cx="278.0" cy="49.1" r="0.56" fill="#f22a1c" opacity="0.72"/>
<circle cx="279.3" cy="48.7" r="0.89" fill="#f22a1c" opacity="0.83"/>
<circle cx="281.2" cy="48.1" r="0.89" fill="#f22a1c" opacity="0.96"/>
<circle cx="283.0" cy="47.6" r="0.69" fill="#f22a1c" opacity="0.72"/>
<circle cx="283.7" cy="47.7" r="0.63" fill="#f22a1c" opacity="0.67"/>
<circle cx="286.2" cy="46.7" r="0.55" fill="#f22a1c" opacity="0.98"/>
<path d="M195.4,76.5 C196.1,78.8 197.7,88.9 199.4,90.6 C201.1,92.3 202.8,87.9 205.5,86.6 C208.2,85.3 213.8,83.3 215.5,82.6" stroke="#a01810" stroke-width="1.0" fill="none" stroke-linecap="round" stroke-linejoin="round" opacity="0.4"/>
<circle cx="195.9" cy="77.6" r="0.63" fill="#f22a1c" opacity="0.67"/>
<circle cx="196.2" cy="80.0" r="0.89" fill="#f22a1c" opacity="0.81"/>
<circle cx="196.9" cy="81.4" r="0.58" fill="#f22a1c" opacity="0.94"/>
<circle cx="197.0" cy="83.3" r="0.65" fill="#f22a1c" opacity="0.61"/>
<circle cx="197.8" cy="86.3" r="0.72" fill="#f22a1c" opacity="0.61"/>
<circle cx="198.5" cy="87.9" r="0.62" fill="#f22a1c" opacity="0.95"/>
<circle cx="198.9" cy="89.7" r="0.57" fill="#f22a1c" opacity="0.80"/>
<circle cx="200.7" cy="90.9" r="0.67" fill="#f22a1c" opacity="0.84"/>
<circle cx="202.4" cy="89.8" r="0.78" fill="#f22a1c" opacity="0.82"/>
<circle cx="203.4" cy="87.9" r="0.80" fill="#f22a1c" opacity="0.80"/>
<circle cx="204.4" cy="87.6" r="0.87" fill="#f22a1c" opacity="0.91"/>
<circle cx="206.5" cy="86.5" r="0.68" fill="#f22a1c" opacity="0.88"/>
<circle cx="207.6" cy="85.4" r="0.60" fill="#f22a1c" opacity="0.99"/>
<circle cx="209.3" cy="85.1" r="0.77" fill="#f22a1c" opacity="0.72"/>
<circle cx="210.8" cy="84.6" r="0.79" fill="#f22a1c" opacity="0.84"/>
<circle cx="212.0" cy="83.8" r="0.65" fill="#f22a1c" opacity="0.99"/>
<circle cx="213.0" cy="83.4" r="0.85" fill="#f22a1c" opacity="0.93"/>
<circle cx="215.1" cy="83.1" r="0.86" fill="#f22a1c" opacity="0.64"/>
<path d="M156.0,96.0 L160.0,104.0" stroke="#a01810" stroke-width="1.0" fill="none" stroke-linecap="round" stroke-linejoin="round" opacity="0.4"/>
<circle cx="156.0" cy="96.5" r="0.83" fill="#f22a1c" opacity="0.76"/>
<circle cx="157.4" cy="98.1" r="0.64" fill="#f22a1c" opacity="0.70"/>
<circle cx="158.0" cy="99.5" r="0.80" fill="#f22a1c" opacity="0.84"/>
<circle cx="158.4" cy="100.5" r="0.72" fill="#f22a1c" opacity="0.86"/>
<circle cx="159.4" cy="102.3" r="0.84" fill="#f22a1c" opacity="0.77"/>
<path d="M159.3,100.0 C159.4,101.1 159.7,103.8 159.9,106.5 C160.1,109.2 160.5,112.8 160.4,116.2 C160.3,119.6 159.7,123.4 159.3,127.0 C158.9,130.6 158.2,134.9 158.2,137.9 C158.2,140.9 159.3,143.0 159.3,145.0 C159.3,147.0 158.2,149.2 158.0,150.0" stroke="#a01810" stroke-width="1.0" fill="none" stroke-linecap="round" stroke-linejoin="round" opacity="0.4"/>
<circle cx="159.2" cy="101.6" r="0.77" fill="#f22a1c" opacity="0.80"/>
<circle cx="159.8" cy="103.8" r="0.58" fill="#f22a1c" opacity="0.89"/>
<circle cx="160.0" cy="106.2" r="0.87" fill="#f22a1c" opacity="0.95"/>
<circle cx="160.1" cy="109.5" r="0.51" fill="#f22a1c" opacity="0.85"/>
<circle cx="160.0" cy="110.8" r="0.81" fill="#f22a1c" opacity="0.99"/>
<circle cx="160.2" cy="112.5" r="0.72" fill="#f22a1c" opacity="0.80"/>
<circle cx="160.3" cy="114.8" r="0.76" fill="#f22a1c" opacity="0.99"/>
<circle cx="160.1" cy="116.2" r="0.70" fill="#f22a1c" opacity="0.92"/>
<circle cx="159.9" cy="118.4" r="0.89" fill="#f22a1c" opacity="0.74"/>
<circle cx="160.0" cy="120.3" r="0.78" fill="#f22a1c" opacity="0.96"/>
<circle cx="159.8" cy="122.6" r="0.71" fill="#f22a1c" opacity="0.97"/>
<circle cx="159.4" cy="126.1" r="0.53" fill="#f22a1c" opacity="0.83"/>
<circle cx="159.2" cy="128.0" r="0.56" fill="#f22a1c" opacity="0.70"/>
<circle cx="159.0" cy="130.4" r="0.83" fill="#f22a1c" opacity="0.90"/>
<circle cx="158.5" cy="132.1" r="0.87" fill="#f22a1c" opacity="0.63"/>
<circle cx="158.3" cy="134.3" r="0.51" fill="#f22a1c" opacity="0.66"/>
<circle cx="158.5" cy="135.8" r="0.83" fill="#f22a1c" opacity="0.67"/>
<circle cx="158.0" cy="139.5" r="0.90" fill="#f22a1c" opacity="0.99"/>
<circle cx="158.8" cy="141.0" r="0.74" fill="#f22a1c" opacity="0.68"/>
<circle cx="158.8" cy="142.7" r="0.50" fill="#f22a1c" opacity="0.73"/>
<circle cx="159.0" cy="144.1" r="0.53" fill="#f22a1c" opacity="0.97"/>
<circle cx="159.0" cy="145.8" r="0.58" fill="#f22a1c" opacity="0.63"/>
<circle cx="159.2" cy="147.4" r="0.73" fill="#f22a1c" opacity="0.63"/>
<circle cx="158.2" cy="149.2" r="0.56" fill="#f22a1c" opacity="0.79"/>
<path d="M165.8,111.9 C166.9,111.5 170.0,110.6 172.3,109.7 C174.7,108.8 178.1,107.4 179.9,106.5 C181.7,105.6 182.6,104.7 183.1,104.3" stroke="#a01810" stroke-width="1.0" fill="none" stroke-linecap="round" stroke-linejoin="round" opacity="0.4"/>
<circle cx="166.5" cy="111.5" r="0.51" fill="#f22a1c" opacity="0.65"/>
<circle cx="168.3" cy="111.2" r="0.60" fill="#f22a1c" opacity="0.68"/>
<circle cx="170.2" cy="110.5" r="0.74" fill="#f22a1c" opacity="0.70"/>
<circle cx="172.0" cy="109.8" r="0.73" fill="#f22a1c" opacity="0.88"/>
<circle cx="173.6" cy="109.3" r="0.63" fill="#f22a1c" opacity="0.81"/>
<circle cx="175.5" cy="108.2" r="0.58" fill="#f22a1c" opacity="0.82"/>
<circle cx="177.0" cy="108.0" r="0.74" fill="#f22a1c" opacity="0.66"/>
<circle cx="178.4" cy="107.1" r="0.89" fill="#f22a1c" opacity="0.79"/>
<circle cx="180.3" cy="106.1" r="0.90" fill="#f22a1c" opacity="0.86"/>
<circle cx="182.3" cy="105.3" r="0.84" fill="#f22a1c" opacity="0.83"/>
<path d="M184.7,137.9 C184.8,139.1 185.1,142.2 185.5,145.0 C185.9,147.8 186.6,151.9 186.9,155.0 C187.2,158.1 187.6,160.7 187.5,163.6 C187.4,166.5 186.9,169.6 186.4,172.3 C185.9,175.0 185.2,177.3 184.7,179.9 C184.1,182.5 183.4,186.7 183.1,188.0" stroke="#a01810" stroke-width="1.0" fill="none" stroke-linecap="round" stroke-linejoin="round" opacity="0.4"/>
<circle cx="185.1" cy="138.6" r="0.90" fill="#f22a1c" opacity="0.74"/>
<circle cx="184.9" cy="140.9" r="0.52" fill="#f22a1c" opacity="0.95"/>
<circle cx="185.5" cy="142.8" r="0.80" fill="#f22a1c" opacity="0.67"/>
<circle cx="185.4" cy="145.4" r="0.54" fill="#f22a1c" opacity="0.87"/>
<circle cx="185.9" cy="149.7" r="0.61" fill="#f22a1c" opacity="0.61"/>
<circle cx="186.2" cy="151.7" r="0.67" fill="#f22a1c" opacity="0.63"/>
<circle cx="186.4" cy="152.7" r="0.62" fill="#f22a1c" opacity="0.78"/>
<circle cx="186.6" cy="154.7" r="0.85" fill="#f22a1c" opacity="0.77"/>
<circle cx="187.1" cy="156.8" r="0.59" fill="#f22a1c" opacity="0.68"/>
<circle cx="187.6" cy="158.4" r="0.75" fill="#f22a1c" opacity="0.72"/>
<circle cx="187.8" cy="160.5" r="0.69" fill="#f22a1c" opacity="0.63"/>
<circle cx="187.7" cy="161.9" r="0.59" fill="#f22a1c" opacity="0.62"/>
<circle cx="187.4" cy="164.0" r="0.80" fill="#f22a1c" opacity="0.69"/>
<circle cx="187.6" cy="165.3" r="0.81" fill="#f22a1c" opacity="0.92"/>
<circle cx="186.9" cy="167.9" r="0.73" fill="#f22a1c" opacity="0.79"/>
<circle cx="186.7" cy="169.9" r="0.86" fill="#f22a1c" opacity="1.00"/>
<circle cx="186.4" cy="171.8" r="0.68" fill="#f22a1c" opacity="0.63"/>
<circle cx="186.0" cy="174.1" r="0.86" fill="#f22a1c" opacity="0.81"/>
<circle cx="185.4" cy="175.5" r="0.88" fill="#f22a1c" opacity="0.72"/>
<circle cx="185.5" cy="177.4" r="0.74" fill="#f22a1c" opacity="0.84"/>
<circle cx="185.0" cy="178.8" r="0.63" fill="#f22a1c" opacity="0.99"/>
<circle cx="184.2" cy="181.0" r="0.52" fill="#f22a1c" opacity="0.79"/>
<circle cx="183.9" cy="182.5" r="0.67" fill="#f22a1c" opacity="0.65"/>
<circle cx="183.5" cy="184.7" r="0.66" fill="#f22a1c" opacity="0.68"/>
<circle cx="183.4" cy="185.7" r="0.57" fill="#f22a1c" opacity="0.97"/>
<circle cx="183.2" cy="187.7" r="0.56" fill="#f22a1c" opacity="0.94"/>
<path d="M214.2,106.5 C214.0,107.6 213.4,110.8 213.1,113.0 C212.8,115.2 212.6,117.5 212.1,119.5 C211.6,121.5 210.6,123.1 209.9,124.9 C209.2,126.7 208.2,128.5 207.7,130.3 C207.2,132.1 206.9,133.9 206.7,135.7 C206.5,137.5 206.7,140.2 206.7,141.1" stroke="#a01810" stroke-width="1.0" fill="none" stroke-linecap="round" stroke-linejoin="round" opacity="0.4"/>
<circle cx="213.9" cy="107.5" r="0.81" fill="#f22a1c" opacity="0.94"/>
<circle cx="213.6" cy="108.9" r="0.71" fill="#f22a1c" opacity="0.82"/>
<circle cx="213.7" cy="110.6" r="0.67" fill="#f22a1c" opacity="0.87"/>
<circle cx="213.1" cy="112.5" r="0.61" fill="#f22a1c" opacity="0.80"/>
<circle cx="213.1" cy="114.8" r="0.70" fill="#f22a1c" opacity="0.74"/>
<circle cx="212.9" cy="116.5" r="0.60" fill="#f22a1c" opacity="0.93"/>
<circle cx="212.6" cy="118.1" r="0.62" fill="#f22a1c" opacity="0.84"/>
<circle cx="212.3" cy="119.7" r="0.81" fill="#f22a1c" opacity="0.65"/>
<circle cx="211.7" cy="121.3" r="0.68" fill="#f22a1c" opacity="0.62"/>
<circle cx="210.0" cy="124.2" r="0.53" fill="#f22a1c" opacity="0.74"/>
<circle cx="209.5" cy="125.7" r="0.68" fill="#f22a1c" opacity="0.93"/>
<circle cx="209.2" cy="127.0" r="0.73" fill="#f22a1c" opacity="0.84"/>
<circle cx="208.0" cy="128.6" r="0.72" fill="#f22a1c" opacity="0.67"/>
<circle cx="207.3" cy="130.6" r="0.77" fill="#f22a1c" opacity="0.80"/>
<circle cx="207.3" cy="132.4" r="0.90" fill="#f22a1c" opacity="0.97"/>
<circle cx="206.8" cy="134.6" r="0.74" fill="#f22a1c" opacity="0.88"/>
<circle cx="206.9" cy="136.2" r="0.61" fill="#f22a1c" opacity="0.70"/>
<circle cx="206.4" cy="137.4" r="0.78" fill="#f22a1c" opacity="0.90"/>
<circle cx="206.5" cy="139.0" r="0.90" fill="#f22a1c" opacity="0.78"/>
<circle cx="206.5" cy="140.9" r="0.66" fill="#f22a1c" opacity="0.87"/>
<path d="M232.6,106.5 C231.9,107.2 229.7,109.4 228.3,110.8 C226.9,112.2 225.4,113.8 224.0,115.1 C222.6,116.4 221.0,117.3 219.6,118.4 C218.2,119.5 216.0,121.1 215.3,121.6" stroke="#a01810" stroke-width="1.0" fill="none" stroke-linecap="round" stroke-linejoin="round" opacity="0.4"/>
<circle cx="231.7" cy="107.5" r="0.57" fill="#f22a1c" opacity="1.00"/>
<circle cx="230.4" cy="108.6" r="0.52" fill="#f22a1c" opacity="0.87"/>
<circle cx="229.1" cy="109.7" r="0.80" fill="#f22a1c" opacity="0.94"/>
<circle cx="228.2" cy="110.9" r="0.56" fill="#f22a1c" opacity="0.92"/>
<circle cx="226.7" cy="112.0" r="0.50" fill="#f22a1c" opacity="0.65"/>
<circle cx="225.6" cy="113.5" r="0.66" fill="#f22a1c" opacity="0.82"/>
<circle cx="222.9" cy="116.1" r="0.89" fill="#f22a1c" opacity="0.79"/>
<circle cx="222.2" cy="116.6" r="0.87" fill="#f22a1c" opacity="0.98"/>
<circle cx="221.1" cy="117.4" r="0.90" fill="#f22a1c" opacity="0.80"/>
<circle cx="219.5" cy="118.5" r="0.58" fill="#f22a1c" opacity="0.99"/>
<circle cx="218.4" cy="119.3" r="0.78" fill="#f22a1c" opacity="0.89"/>
<circle cx="216.6" cy="120.6" r="0.68" fill="#f22a1c" opacity="0.79"/>
<circle cx="215.1" cy="121.4" r="0.55" fill="#f22a1c" opacity="0.81"/>
<path d="M234.8,107.6 C235.5,107.9 237.8,109.5 239.1,109.7 C240.4,109.9 241.8,108.9 242.4,108.7" stroke="#a01810" stroke-width="1.0" fill="none" stroke-linecap="round" stroke-linejoin="round" opacity="0.4"/>
<circle cx="235.1" cy="107.9" r="0.61" fill="#f22a1c" opacity="0.63"/>
<circle cx="236.9" cy="109.2" r="0.56" fill="#f22a1c" opacity="0.72"/>
<circle cx="238.5" cy="109.3" r="0.70" fill="#f22a1c" opacity="0.90"/>
<circle cx="240.5" cy="109.5" r="0.65" fill="#f22a1c" opacity="0.71"/>
<circle cx="242.1" cy="109.1" r="0.53" fill="#f22a1c" opacity="0.61"/>
<path d="M222.9,134.6 C224.0,134.7 227.4,135.2 229.4,135.2 C231.4,135.2 232.8,134.7 234.8,134.6 C236.8,134.5 239.0,134.4 241.3,134.6 C243.6,134.8 246.3,135.3 248.4,135.7 C250.5,136.1 252.9,136.6 253.8,136.8" stroke="#a01810" stroke-width="1.0" fill="none" stroke-linecap="round" stroke-linejoin="round" opacity="0.4"/>
<circle cx="224.7" cy="134.6" r="0.57" fill="#f22a1c" opacity="0.91"/>
<circle cx="225.8" cy="135.0" r="0.68" fill="#f22a1c" opacity="0.68"/>
<circle cx="228.1" cy="135.0" r="0.63" fill="#f22a1c" opacity="0.74"/>
<circle cx="229.7" cy="134.9" r="0.65" fill="#f22a1c" opacity="0.82"/>
<circle cx="231.2" cy="135.0" r="0.56" fill="#f22a1c" opacity="0.96"/>
<circle cx="233.4" cy="134.5" r="0.80" fill="#f22a1c" opacity="0.91"/>
<circle cx="234.5" cy="134.6" r="0.89" fill="#f22a1c" opacity="0.81"/>
<circle cx="236.3" cy="134.5" r="0.78" fill="#f22a1c" opacity="0.89"/>
<circle cx="238.0" cy="134.6" r="0.82" fill="#f22a1c" opacity="0.90"/>
<circle cx="239.9" cy="134.9" r="0.76" fill="#f22a1c" opacity="0.70"/>
<circle cx="241.8" cy="134.8" r="0.84" fill="#f22a1c" opacity="0.99"/>
<circle cx="243.9" cy="134.7" r="0.51" fill="#f22a1c" opacity="0.96"/>
<circle cx="245.7" cy="135.4" r="0.58" fill="#f22a1c" opacity="0.73"/>
<circle cx="247.6" cy="135.8" r="0.78" fill="#f22a1c" opacity="0.88"/>
<circle cx="250.3" cy="135.8" r="0.57" fill="#f22a1c" opacity="0.79"/>
<circle cx="251.6" cy="136.2" r="0.54" fill="#f22a1c" opacity="0.76"/>
<circle cx="252.9" cy="136.6" r="0.53" fill="#f22a1c" opacity="0.72"/>
<path d="M211.0,144.2 C212.4,144.6 216.5,146.0 219.6,146.9 C222.7,147.8 227.8,149.2 229.4,149.6" stroke="#a01810" stroke-width="1.0" fill="none" stroke-linecap="round" stroke-linejoin="round" opacity="0.4"/>
<circle cx="211.2" cy="144.0" r="0.77" fill="#f22a1c" opacity="0.99"/>
<circle cx="213.0" cy="144.7" r="0.85" fill="#f22a1c" opacity="0.63"/>
<circle cx="215.5" cy="145.5" r="0.67" fill="#f22a1c" opacity="0.74"/>
<circle cx="217.0" cy="146.0" r="0.84" fill="#f22a1c" opacity="0.84"/>
<circle cx="218.4" cy="146.9" r="0.52" fill="#f22a1c" opacity="0.76"/>
<circle cx="219.8" cy="147.2" r="0.55" fill="#f22a1c" opacity="0.71"/>
<circle cx="225.9" cy="148.6" r="0.72" fill="#f22a1c" opacity="0.78"/>
<circle cx="227.4" cy="149.2" r="0.82" fill="#f22a1c" opacity="0.99"/>
<circle cx="228.9" cy="149.6" r="0.56" fill="#f22a1c" opacity="0.94"/>
<path d="M230.5,153.9 C229.8,154.8 227.5,157.7 226.1,159.3 C224.7,160.9 223.1,162.3 221.8,163.6 C220.6,164.9 219.5,165.6 218.6,166.9 C217.7,168.2 216.9,169.6 216.4,171.2 C215.9,172.8 216.0,175.0 215.3,176.6 C214.6,178.2 213.2,179.7 212.1,181.0 C211.0,182.3 209.9,183.0 208.8,184.2 C207.7,185.4 206.1,187.4 205.6,188.0" stroke="#a01810" stroke-width="1.0" fill="none" stroke-linecap="round" stroke-linejoin="round" opacity="0.4"/>
<circle cx="230.1" cy="154.8" r="0.53" fill="#f22a1c" opacity="0.87"/>
<circle cx="229.0" cy="155.9" r="0.58" fill="#f22a1c" opacity="0.81"/>
<circle cx="227.6" cy="157.8" r="0.74" fill="#f22a1c" opacity="0.77"/>
<circle cx="226.7" cy="158.6" r="0.82" fill="#f22a1c" opacity="0.91"/>
<circle cx="225.1" cy="160.3" r="0.87" fill="#f22a1c" opacity="0.92"/>
<circle cx="223.3" cy="161.7" r="0.75" fill="#f22a1c" opacity="0.66"/>
<circle cx="222.5" cy="163.2" r="0.51" fill="#f22a1c" opacity="0.72"/>
<circle cx="221.6" cy="163.8" r="0.69" fill="#f22a1c" opacity="0.88"/>
<circle cx="220.3" cy="164.9" r="0.52" fill="#f22a1c" opacity="0.66"/>
<circle cx="219.2" cy="166.3" r="0.51" fill="#f22a1c" opacity="0.86"/>
<circle cx="218.0" cy="168.1" r="0.77" fill="#f22a1c" opacity="0.97"/>
<circle cx="217.0" cy="169.4" r="0.75" fill="#f22a1c" opacity="0.76"/>
<circle cx="216.0" cy="171.7" r="0.79" fill="#f22a1c" opacity="0.74"/>
<circle cx="216.1" cy="173.2" r="0.83" fill="#f22a1c" opacity="0.98"/>
<circle cx="216.1" cy="174.7" r="0.71" fill="#f22a1c" opacity="0.68"/>
<circle cx="215.1" cy="176.4" r="0.57" fill="#f22a1c" opacity="0.64"/>
<circle cx="214.7" cy="178.2" r="0.87" fill="#f22a1c" opacity="0.96"/>
<circle cx="213.8" cy="179.1" r="0.56" fill="#f22a1c" opacity="0.61"/>
<circle cx="212.7" cy="180.4" r="0.50" fill="#f22a1c" opacity="0.64"/>
<circle cx="211.4" cy="181.7" r="0.67" fill="#f22a1c" opacity="0.85"/>
<circle cx="208.6" cy="184.7" r="0.61" fill="#f22a1c" opacity="0.61"/>
<circle cx="207.5" cy="186.1" r="0.74" fill="#f22a1c" opacity="0.75"/>
<circle cx="206.1" cy="187.5" r="0.71" fill="#f22a1c" opacity="0.70"/>
<path d="M230.5,153.9 C231.4,153.7 233.9,153.5 235.9,152.8 C237.9,152.1 240.3,150.7 242.4,149.6 C244.5,148.5 246.7,147.2 248.4,146.3 C250.1,145.4 251.8,144.9 252.7,144.2 C253.6,143.5 253.6,142.4 253.8,142.0" stroke="#a01810" stroke-width="1.0" fill="none" stroke-linecap="round" stroke-linejoin="round" opacity="0.4"/>
<circle cx="232.3" cy="153.7" r="0.66" fill="#f22a1c" opacity="0.68"/>
<circle cx="233.8" cy="153.5" r="0.88" fill="#f22a1c" opacity="0.75"/>
<circle cx="235.6" cy="153.1" r="0.84" fill="#f22a1c" opacity="0.93"/>
<circle cx="236.6" cy="152.6" r="0.81" fill="#f22a1c" opacity="0.92"/>
<circle cx="237.9" cy="152.0" r="0.78" fill="#f22a1c" opacity="0.82"/>
<circle cx="239.6" cy="150.9" r="0.88" fill="#f22a1c" opacity="0.91"/>
<circle cx="240.8" cy="150.1" r="0.52" fill="#f22a1c" opacity="0.87"/>
<circle cx="242.2" cy="149.6" r="0.61" fill="#f22a1c" opacity="0.90"/>
<circle cx="244.3" cy="148.8" r="0.78" fill="#f22a1c" opacity="0.65"/>
<circle cx="246.9" cy="146.8" r="0.84" fill="#f22a1c" opacity="0.62"/>
<circle cx="249.1" cy="145.9" r="0.80" fill="#f22a1c" opacity="0.97"/>
<circle cx="250.7" cy="145.6" r="0.89" fill="#f22a1c" opacity="0.87"/>
<circle cx="252.4" cy="144.4" r="0.77" fill="#f22a1c" opacity="0.79"/>
<circle cx="253.7" cy="143.0" r="0.81" fill="#f22a1c" opacity="0.68"/>
<path d="M256.0,100.0 C256.5,100.9 258.1,104.0 259.2,105.4 C260.3,106.9 261.8,107.2 262.5,108.7 C263.2,110.2 263.2,112.3 263.6,114.1 C264.0,115.9 264.6,117.3 264.6,119.5 C264.6,121.7 264.0,124.5 263.6,127.0 C263.2,129.5 262.9,132.2 262.5,134.6 C262.1,136.9 261.9,139.4 261.4,141.1 C260.8,142.8 259.6,144.3 259.2,145.0" stroke="#a01810" stroke-width="1.0" fill="none" stroke-linecap="round" stroke-linejoin="round" opacity="0.4"/>
<circle cx="256.2" cy="100.5" r="0.88" fill="#f22a1c" opacity="0.64"/>
<circle cx="257.4" cy="101.7" r="0.84" fill="#f22a1c" opacity="0.73"/>
<circle cx="258.1" cy="103.3" r="0.77" fill="#f22a1c" opacity="0.81"/>
<circle cx="259.1" cy="104.7" r="0.87" fill="#f22a1c" opacity="0.95"/>
<circle cx="259.9" cy="106.0" r="0.67" fill="#f22a1c" opacity="0.97"/>
<circle cx="261.7" cy="107.7" r="0.68" fill="#f22a1c" opacity="0.86"/>
<circle cx="262.9" cy="109.2" r="0.81" fill="#f22a1c" opacity="0.94"/>
<circle cx="263.2" cy="110.9" r="0.62" fill="#f22a1c" opacity="0.60"/>
<circle cx="263.3" cy="112.4" r="0.65" fill="#f22a1c" opacity="0.84"/>
<circle cx="263.6" cy="114.0" r="0.78" fill="#f22a1c" opacity="0.65"/>
<circle cx="264.1" cy="115.8" r="0.74" fill="#f22a1c" opacity="0.68"/>
<circle cx="264.5" cy="117.2" r="0.70" fill="#f22a1c" opacity="0.63"/>
<circle cx="264.5" cy="119.1" r="0.88" fill="#f22a1c" opacity="0.75"/>
<circle cx="264.5" cy="120.6" r="0.59" fill="#f22a1c" opacity="0.74"/>
<circle cx="264.3" cy="123.8" r="0.64" fill="#f22a1c" opacity="0.98"/>
<circle cx="263.7" cy="126.1" r="0.77" fill="#f22a1c" opacity="1.00"/>
<circle cx="263.8" cy="127.6" r="0.58" fill="#f22a1c" opacity="0.80"/>
<circle cx="263.5" cy="129.3" r="0.76" fill="#f22a1c" opacity="0.86"/>
<circle cx="263.1" cy="130.8" r="0.67" fill="#f22a1c" opacity="0.74"/>
<circle cx="262.7" cy="132.9" r="0.71" fill="#f22a1c" opacity="0.63"/>
<circle cx="262.2" cy="138.3" r="0.69" fill="#f22a1c" opacity="0.90"/>
<circle cx="261.6" cy="140.0" r="0.68" fill="#f22a1c" opacity="0.74"/>
<circle cx="261.1" cy="141.5" r="0.71" fill="#f22a1c" opacity="0.69"/>
<circle cx="260.7" cy="143.0" r="0.50" fill="#f22a1c" opacity="0.73"/>
<circle cx="259.8" cy="144.6" r="0.87" fill="#f22a1c" opacity="0.90"/>
<path d="M270.0,130.3 C270.9,130.7 273.5,131.8 275.5,132.5 C277.5,133.2 279.9,134.4 282.0,134.6 C284.1,134.8 287.0,133.7 288.0,133.5" stroke="#a01810" stroke-width="1.0" fill="none" stroke-linecap="round" stroke-linejoin="round" opacity="0.4"/>
<circle cx="270.5" cy="130.4" r="0.82" fill="#f22a1c" opacity="0.91"/>
<circle cx="272.0" cy="131.3" r="0.64" fill="#f22a1c" opacity="0.61"/>
<circle cx="273.8" cy="132.1" r="0.65" fill="#f22a1c" opacity="0.70"/>
<circle cx="275.4" cy="132.2" r="0.63" fill="#f22a1c" opacity="0.98"/>
<circle cx="276.8" cy="133.1" r="0.63" fill="#f22a1c" opacity="0.85"/>
<circle cx="279.2" cy="133.7" r="0.59" fill="#f22a1c" opacity="0.83"/>
<circle cx="280.7" cy="134.3" r="0.70" fill="#f22a1c" opacity="0.92"/>
<circle cx="282.5" cy="134.3" r="0.77" fill="#f22a1c" opacity="0.91"/>
<circle cx="287.1" cy="133.8" r="0.52" fill="#f22a1c" opacity="0.66"/>
<path d="M260.3,150.7 C259.8,151.8 258.4,154.9 257.1,157.1 C255.8,159.2 253.8,161.6 252.7,163.6 C251.6,165.6 251.3,167.2 250.6,169.0 C249.9,170.8 249.1,173.2 248.4,174.5 C247.7,175.8 246.6,176.2 246.2,176.6" stroke="#a01810" stroke-width="1.0" fill="none" stroke-linecap="round" stroke-linejoin="round" opacity="0.4"/>
<circle cx="260.0" cy="152.2" r="0.68" fill="#f22a1c" opacity="0.77"/>
<circle cx="259.2" cy="153.5" r="0.81" fill="#f22a1c" opacity="0.79"/>
<circle cx="257.9" cy="155.2" r="0.70" fill="#f22a1c" opacity="0.75"/>
<circle cx="257.3" cy="156.4" r="0.61" fill="#f22a1c" opacity="0.70"/>
<circle cx="256.2" cy="158.6" r="0.64" fill="#f22a1c" opacity="0.84"/>
<circle cx="255.4" cy="160.0" r="0.64" fill="#f22a1c" opacity="0.68"/>
<circle cx="254.1" cy="160.9" r="0.84" fill="#f22a1c" opacity="0.63"/>
<circle cx="253.3" cy="162.7" r="0.84" fill="#f22a1c" opacity="0.69"/>
<circle cx="252.1" cy="164.4" r="0.63" fill="#f22a1c" opacity="0.73"/>
<circle cx="251.8" cy="165.4" r="0.78" fill="#f22a1c" opacity="0.81"/>
<circle cx="251.5" cy="167.0" r="0.64" fill="#f22a1c" opacity="0.85"/>
<circle cx="250.4" cy="168.8" r="0.54" fill="#f22a1c" opacity="0.85"/>
<circle cx="249.8" cy="170.4" r="0.53" fill="#f22a1c" opacity="0.64"/>
<circle cx="249.1" cy="172.5" r="0.78" fill="#f22a1c" opacity="0.68"/>
<circle cx="246.7" cy="176.2" r="0.60" fill="#f22a1c" opacity="0.97"/>
<path d="M262.5,149.6 C263.6,150.7 267.0,154.1 269.0,156.1 C271.0,158.1 272.6,159.9 274.4,161.5 C276.2,163.1 278.4,164.7 279.8,165.8 C281.2,166.9 281.6,167.8 283.0,168.0 C284.4,168.2 287.2,167.1 288.0,166.9" stroke="#a01810" stroke-width="1.0" fill="none" stroke-linecap="round" stroke-linejoin="round" opacity="0.4"/>
<circle cx="263.3" cy="150.6" r="0.55" fill="#f22a1c" opacity="0.72"/>
<circle cx="264.4" cy="152.0" r="0.58" fill="#f22a1c" opacity="0.76"/>
<circle cx="266.0" cy="152.9" r="0.82" fill="#f22a1c" opacity="0.74"/>
<circle cx="267.0" cy="154.5" r="0.87" fill="#f22a1c" opacity="0.69"/>
<circle cx="268.5" cy="156.0" r="0.62" fill="#f22a1c" opacity="0.93"/>
<circle cx="270.0" cy="156.8" r="0.51" fill="#f22a1c" opacity="0.85"/>
<circle cx="271.2" cy="158.0" r="0.71" fill="#f22a1c" opacity="0.69"/>
<circle cx="272.0" cy="159.8" r="0.61" fill="#f22a1c" opacity="0.65"/>
<circle cx="273.9" cy="160.8" r="0.72" fill="#f22a1c" opacity="0.89"/>
<circle cx="275.0" cy="162.2" r="0.56" fill="#f22a1c" opacity="0.92"/>
<circle cx="276.7" cy="163.5" r="0.65" fill="#f22a1c" opacity="0.71"/>
<circle cx="278.5" cy="164.4" r="0.70" fill="#f22a1c" opacity="0.86"/>
<circle cx="279.6" cy="165.4" r="0.52" fill="#f22a1c" opacity="0.63"/>
<circle cx="282.1" cy="167.6" r="0.68" fill="#f22a1c" opacity="0.79"/>
<circle cx="283.8" cy="168.0" r="0.67" fill="#f22a1c" opacity="0.84"/>
<circle cx="285.5" cy="167.9" r="0.51" fill="#f22a1c" opacity="0.93"/>
<circle cx="287.2" cy="167.4" r="0.55" fill="#f22a1c" opacity="0.80"/>
<path d="M280.9,166.9 C280.5,168.0 279.8,171.8 278.7,173.4 C277.6,175.0 275.8,175.5 274.4,176.6 C272.9,177.7 271.3,178.8 270.0,179.9 C268.7,181.0 267.7,181.8 266.8,183.1 C265.9,184.4 265.0,187.2 264.6,188.0" stroke="#a01810" stroke-width="1.0" fill="none" stroke-linecap="round" stroke-linejoin="round" opacity="0.4"/>
<circle cx="280.8" cy="168.7" r="0.60" fill="#f22a1c" opacity="0.73"/>
<circle cx="280.3" cy="170.5" r="0.81" fill="#f22a1c" opacity="0.84"/>
<circle cx="279.6" cy="171.8" r="0.59" fill="#f22a1c" opacity="0.76"/>
<circle cx="278.6" cy="173.7" r="0.78" fill="#f22a1c" opacity="0.95"/>
<circle cx="276.8" cy="175.0" r="0.84" fill="#f22a1c" opacity="0.68"/>
<circle cx="274.9" cy="176.3" r="0.58" fill="#f22a1c" opacity="0.97"/>
<circle cx="273.4" cy="177.2" r="0.70" fill="#f22a1c" opacity="0.64"/>
<circle cx="272.0" cy="178.5" r="0.81" fill="#f22a1c" opacity="0.87"/>
<circle cx="271.3" cy="179.0" r="0.60" fill="#f22a1c" opacity="0.79"/>
<circle cx="270.0" cy="179.7" r="0.78" fill="#f22a1c" opacity="0.92"/>
<circle cx="267.5" cy="182.1" r="0.74" fill="#f22a1c" opacity="0.88"/>
<circle cx="266.2" cy="183.9" r="0.90" fill="#f22a1c" opacity="0.88"/>
<circle cx="265.7" cy="184.9" r="0.65" fill="#f22a1c" opacity="0.77"/>
<circle cx="265.6" cy="186.1" r="0.70" fill="#f22a1c" opacity="0.89"/>
<circle cx="265.0" cy="187.5" r="0.58" fill="#f22a1c" opacity="0.75"/>
<path d="M278.7,173.4 C279.2,174.1 280.7,176.8 282.0,177.7 C283.3,178.6 285.6,178.6 286.3,178.8" stroke="#a01810" stroke-width="1.0" fill="none" stroke-linecap="round" stroke-linejoin="round" opacity="0.4"/>
<circle cx="279.1" cy="174.3" r="0.64" fill="#f22a1c" opacity="0.95"/>
<circle cx="280.5" cy="175.9" r="0.89" fill="#f22a1c" opacity="0.88"/>
<circle cx="281.4" cy="177.6" r="0.57" fill="#f22a1c" opacity="0.94"/>
<circle cx="283.8" cy="178.5" r="0.51" fill="#f22a1c" opacity="0.71"/>
<path d="M274.0,146.0 C274.8,146.3 277.3,147.2 279.0,148.0 C280.7,148.8 283.2,150.5 284.0,151.0" stroke="#a01810" stroke-width="1.0" fill="none" stroke-linecap="round" stroke-linejoin="round" opacity="0.4"/>
<circle cx="274.9" cy="146.2" r="0.82" fill="#f22a1c" opacity="0.99"/>
<circle cx="276.0" cy="146.8" r="0.86" fill="#f22a1c" opacity="0.63"/>
<circle cx="277.7" cy="147.3" r="0.79" fill="#f22a1c" opacity="0.74"/>
<circle cx="279.6" cy="148.2" r="0.81" fill="#f22a1c" opacity="0.62"/>
<circle cx="281.7" cy="149.3" r="0.51" fill="#f22a1c" opacity="0.82"/>
<circle cx="283.2" cy="150.3" r="0.72" fill="#f22a1c" opacity="0.83"/>
<path d="M156.0,64.3 C157.2,65.3 160.8,67.7 163.2,70.1 C165.6,72.5 168.2,76.1 170.4,78.8 C172.6,81.5 174.5,83.6 176.2,86.0 C177.9,88.4 179.4,90.8 180.5,93.2 C181.6,95.6 182.3,98.4 182.7,100.4 C183.1,102.4 182.9,103.3 183.1,105.4 C183.3,107.5 183.5,110.3 183.7,113.0 C183.9,115.7 184.0,118.7 184.2,121.6 C184.4,124.5 184.6,127.6 184.7,130.3 C184.8,133.0 184.7,136.6 184.7,137.9" stroke="#d04010" stroke-width="1.3" fill="none" stroke-linecap="round" stroke-linejoin="round" opacity="0.6"/>
<circle cx="157.1" cy="65.1" r="0.90" fill="#f87a20" opacity="0.70"/>
<circle cx="158.5" cy="65.8" r="0.76" fill="#f87a20" opacity="0.76"/>
<circle cx="159.6" cy="67.2" r="0.74" fill="#f87a20" opacity="0.77"/>
<circle cx="161.2" cy="68.3" r="0.69" fill="#f87a20" opacity="0.72"/>
<circle cx="163.6" cy="70.5" r="0.84" fill="#f87a20" opacity="0.81"/>
<circle cx="165.1" cy="71.8" r="0.66" fill="#f87a20" opacity="0.83"/>
<circle cx="165.9" cy="73.4" r="0.84" fill="#f87a20" opacity="1.00"/>
<circle cx="166.8" cy="73.8" r="0.67" fill="#f87a20" opacity="0.91"/>
<circle cx="167.8" cy="75.3" r="0.93" fill="#f87a20" opacity="0.70"/>
<circle cx="168.4" cy="76.7" r="0.71" fill="#f87a20" opacity="0.95"/>
<circle cx="169.5" cy="77.8" r="0.82" fill="#f87a20" opacity="0.77"/>
<circle cx="171.4" cy="79.4" r="0.67" fill="#f87a20" opacity="0.93"/>
<circle cx="172.9" cy="82.4" r="0.93" fill="#f87a20" opacity="0.73"/>
<circle cx="174.8" cy="83.9" r="0.94" fill="#f87a20" opacity="0.98"/>
<circle cx="175.6" cy="85.0" r="0.84" fill="#f87a20" opacity="0.95"/>
<circle cx="176.5" cy="86.3" r="0.67" fill="#f87a20" opacity="0.80"/>
<circle cx="178.3" cy="88.7" r="0.81" fill="#f87a20" opacity="0.73"/>
<circle cx="178.7" cy="90.2" r="0.93" fill="#f87a20" opacity="0.84"/>
<circle cx="179.4" cy="91.3" r="0.69" fill="#f87a20" opacity="0.72"/>
<circle cx="180.5" cy="92.7" r="0.65" fill="#f87a20" opacity="0.85"/>
<circle cx="181.2" cy="94.1" r="0.73" fill="#f87a20" opacity="0.95"/>
<circle cx="181.3" cy="96.0" r="0.63" fill="#f87a20" opacity="1.00"/>
<circle cx="181.8" cy="97.9" r="0.97" fill="#f87a20" opacity="0.73"/>
<circle cx="182.6" cy="99.8" r="0.95" fill="#f87a20" opacity="0.75"/>
<circle cx="182.6" cy="101.2" r="0.98" fill="#f87a20" opacity="0.82"/>
<circle cx="183.0" cy="101.7" r="0.85" fill="#f87a20" opacity="0.74"/>
<circle cx="183.0" cy="105.2" r="0.91" fill="#f87a20" opacity="0.85"/>
<circle cx="183.2" cy="107.2" r="0.94" fill="#f87a20" opacity="0.76"/>
<circle cx="183.2" cy="108.4" r="0.64" fill="#f87a20" opacity="0.84"/>
<circle cx="183.6" cy="109.4" r="0.72" fill="#f87a20" opacity="0.85"/>
<circle cx="183.5" cy="111.3" r="0.98" fill="#f87a20" opacity="0.86"/>
<circle cx="184.0" cy="113.2" r="0.72" fill="#f87a20" opacity="0.72"/>
<circle cx="183.5" cy="114.4" r="0.91" fill="#f87a20" opacity="0.81"/>
<circle cx="184.0" cy="116.7" r="0.84" fill="#f87a20" opacity="0.73"/>
<circle cx="184.2" cy="118.3" r="0.79" fill="#f87a20" opacity="0.91"/>
<circle cx="184.2" cy="119.8" r="0.63" fill="#f87a20" opacity="0.76"/>
<circle cx="184.1" cy="120.9" r="0.63" fill="#f87a20" opacity="0.96"/>
<circle cx="184.3" cy="121.8" r="0.91" fill="#f87a20" opacity="0.79"/>
<circle cx="184.1" cy="123.3" r="0.97" fill="#f87a20" opacity="0.94"/>
<circle cx="184.1" cy="124.7" r="0.71" fill="#f87a20" opacity="0.86"/>
<circle cx="184.7" cy="125.4" r="0.79" fill="#f87a20" opacity="0.82"/>
<circle cx="184.2" cy="128.1" r="0.73" fill="#f87a20" opacity="0.71"/>
<circle cx="185.0" cy="129.5" r="0.79" fill="#f87a20" opacity="0.93"/>
<circle cx="184.6" cy="131.0" r="0.94" fill="#f87a20" opacity="0.91"/>
<circle cx="184.9" cy="132.7" r="0.89" fill="#f87a20" opacity="0.84"/>
<circle cx="184.8" cy="134.1" r="0.73" fill="#f87a20" opacity="0.82"/>
<circle cx="184.7" cy="135.7" r="0.89" fill="#f87a20" opacity="0.73"/>
<circle cx="184.4" cy="137.0" r="0.89" fill="#f87a20" opacity="0.78"/>
<path d="M183.1,104.3 C183.8,104.0 186.1,102.5 187.5,102.2 C188.9,101.9 190.4,102.7 191.8,102.7 C193.2,102.7 194.8,101.8 196.1,102.2 C197.4,102.7 198.2,104.5 199.4,105.4 C200.6,106.3 201.8,107.2 203.4,107.6 C205.0,108.0 207.0,108.0 208.8,107.6 C210.6,107.2 212.4,106.5 214.2,105.4 C216.0,104.3 218.7,101.8 219.6,101.1" stroke="#d04010" stroke-width="1.3" fill="none" stroke-linecap="round" stroke-linejoin="round" opacity="0.6"/>
<circle cx="183.5" cy="103.8" r="0.67" fill="#f87a20" opacity="0.92"/>
<circle cx="184.7" cy="103.3" r="0.76" fill="#f87a20" opacity="0.80"/>
<circle cx="185.9" cy="102.9" r="0.94" fill="#f87a20" opacity="0.73"/>
<circle cx="188.9" cy="102.2" r="0.85" fill="#f87a20" opacity="0.86"/>
<circle cx="190.6" cy="102.7" r="0.96" fill="#f87a20" opacity="0.72"/>
<circle cx="191.7" cy="102.5" r="0.78" fill="#f87a20" opacity="0.74"/>
<circle cx="193.7" cy="102.2" r="0.68" fill="#f87a20" opacity="0.76"/>
<circle cx="195.4" cy="102.1" r="0.86" fill="#f87a20" opacity="0.81"/>
<circle cx="197.1" cy="102.6" r="0.79" fill="#f87a20" opacity="0.73"/>
<circle cx="198.3" cy="103.5" r="0.74" fill="#f87a20" opacity="0.72"/>
<circle cx="198.7" cy="105.2" r="0.84" fill="#f87a20" opacity="0.93"/>
<circle cx="200.1" cy="106.1" r="1.00" fill="#f87a20" opacity="0.75"/>
<circle cx="201.3" cy="106.5" r="0.80" fill="#f87a20" opacity="0.85"/>
<circle cx="202.8" cy="107.7" r="0.88" fill="#f87a20" opacity="0.77"/>
<circle cx="204.6" cy="108.0" r="0.81" fill="#f87a20" opacity="0.86"/>
<circle cx="205.7" cy="108.0" r="0.81" fill="#f87a20" opacity="0.87"/>
<circle cx="207.7" cy="108.1" r="0.70" fill="#f87a20" opacity="0.88"/>
<circle cx="209.4" cy="107.2" r="0.66" fill="#f87a20" opacity="0.80"/>
<circle cx="211.1" cy="107.1" r="0.64" fill="#f87a20" opacity="0.84"/>
<circle cx="212.2" cy="106.3" r="0.86" fill="#f87a20" opacity="0.76"/>
<circle cx="213.7" cy="105.6" r="0.94" fill="#f87a20" opacity="0.76"/>
<circle cx="214.3" cy="105.1" r="0.68" fill="#f87a20" opacity="0.82"/>
<circle cx="215.9" cy="104.4" r="0.68" fill="#f87a20" opacity="0.79"/>
<circle cx="216.8" cy="103.2" r="0.87" fill="#f87a20" opacity="0.95"/>
<circle cx="218.4" cy="102.5" r="0.75" fill="#f87a20" opacity="0.73"/>
<circle cx="219.9" cy="101.4" r="0.88" fill="#f87a20" opacity="0.77"/>
<path d="M199.4,105.4 L198.3,109.7" stroke="#d04010" stroke-width="1.3" fill="none" stroke-linecap="round" stroke-linejoin="round" opacity="0.6"/>
<circle cx="199.4" cy="105.9" r="0.81" fill="#f87a20" opacity="0.76"/>
<circle cx="199.0" cy="107.4" r="0.96" fill="#f87a20" opacity="0.70"/>
<circle cx="198.5" cy="109.3" r="0.84" fill="#f87a20" opacity="0.72"/>
<path d="M196.4,101.8 C197.4,100.8 200.3,98.2 202.2,96.1 C204.1,93.9 206.1,90.8 208.0,88.9 C209.9,87.0 212.8,85.2 213.7,84.5" stroke="#6a9a28" stroke-width="1.0" fill="none" stroke-linecap="round" stroke-linejoin="round" opacity="0.6"/>
<circle cx="196.9" cy="101.6" r="0.76" fill="#a8e040" opacity="0.77"/>
<circle cx="197.8" cy="100.7" r="0.68" fill="#a8e040" opacity="0.77"/>
<circle cx="199.4" cy="99.0" r="0.61" fill="#a8e040" opacity="0.76"/>
<circle cx="200.1" cy="98.1" r="0.77" fill="#a8e040" opacity="0.63"/>
<circle cx="200.7" cy="97.3" r="0.81" fill="#a8e040" opacity="0.62"/>
<circle cx="201.9" cy="96.0" r="0.89" fill="#a8e040" opacity="0.71"/>
<circle cx="203.1" cy="94.5" r="0.67" fill="#a8e040" opacity="0.93"/>
<circle cx="204.1" cy="93.4" r="0.72" fill="#a8e040" opacity="0.97"/>
<circle cx="205.2" cy="92.3" r="0.76" fill="#a8e040" opacity="0.77"/>
<circle cx="206.5" cy="90.5" r="0.74" fill="#a8e040" opacity="0.81"/>
<circle cx="207.3" cy="89.7" r="0.76" fill="#a8e040" opacity="0.80"/>
<circle cx="208.6" cy="88.0" r="0.74" fill="#a8e040" opacity="0.89"/>
<circle cx="210.6" cy="87.2" r="0.62" fill="#a8e040" opacity="0.94"/>
<circle cx="211.9" cy="85.9" r="0.88" fill="#a8e040" opacity="0.77"/>
<circle cx="213.0" cy="84.9" r="0.78" fill="#a8e040" opacity="0.69"/>
<path d="M196.4,101.8 C195.4,100.8 192.3,98.2 190.6,96.1 C188.9,93.9 186.8,91.3 186.3,88.9 C185.8,86.5 187.2,83.3 187.7,81.6 C188.2,79.9 188.9,79.3 189.2,78.8" stroke="#6a9a28" stroke-width="1.0" fill="none" stroke-linecap="round" stroke-linejoin="round" opacity="0.6"/>
<circle cx="196.0" cy="100.8" r="0.58" fill="#a8e040" opacity="0.99"/>
<circle cx="194.6" cy="100.1" r="0.78" fill="#a8e040" opacity="0.93"/>
<circle cx="193.3" cy="98.8" r="0.59" fill="#a8e040" opacity="0.86"/>
<circle cx="192.4" cy="98.1" r="0.90" fill="#a8e040" opacity="0.93"/>
<circle cx="191.0" cy="97.1" r="0.68" fill="#a8e040" opacity="0.86"/>
<circle cx="190.3" cy="95.4" r="0.59" fill="#a8e040" opacity="0.70"/>
<circle cx="189.9" cy="94.6" r="0.62" fill="#a8e040" opacity="0.81"/>
<circle cx="188.1" cy="92.6" r="0.58" fill="#a8e040" opacity="0.78"/>
<circle cx="187.4" cy="91.5" r="0.88" fill="#a8e040" opacity="0.89"/>
<circle cx="186.7" cy="90.2" r="0.86" fill="#a8e040" opacity="0.79"/>
<circle cx="186.1" cy="89.0" r="0.80" fill="#a8e040" opacity="0.79"/>
<circle cx="186.3" cy="87.0" r="0.85" fill="#a8e040" opacity="0.78"/>
<circle cx="186.7" cy="85.9" r="0.90" fill="#a8e040" opacity="0.63"/>
<circle cx="187.1" cy="84.5" r="0.81" fill="#a8e040" opacity="0.82"/>
<circle cx="187.2" cy="83.0" r="0.57" fill="#a8e040" opacity="0.72"/>
<circle cx="187.8" cy="80.5" r="0.74" fill="#a8e040" opacity="0.77"/>
<circle cx="188.6" cy="79.9" r="0.86" fill="#a8e040" opacity="0.98"/>
<path d="M206.5,77.3 C207.2,76.8 209.2,75.1 210.8,74.4 C212.4,73.7 215.1,73.2 216.0,73.0" stroke="#6a9a28" stroke-width="1.0" fill="none" stroke-linecap="round" stroke-linejoin="round" opacity="0.6"/>
<circle cx="207.0" cy="76.7" r="0.81" fill="#a8e040" opacity="0.70"/>
<circle cx="208.5" cy="75.8" r="0.55" fill="#a8e040" opacity="0.65"/>
<circle cx="209.5" cy="74.7" r="0.69" fill="#a8e040" opacity="0.61"/>
<circle cx="211.6" cy="73.9" r="0.79" fill="#a8e040" opacity="0.68"/>
<circle cx="213.9" cy="73.7" r="0.85" fill="#a8e040" opacity="0.72"/>
<path d="M229.0,60.0 C229.5,61.5 231.2,66.0 231.9,68.7 C232.6,71.4 233.1,74.7 233.3,75.9" stroke="#6a9a28" stroke-width="1.0" fill="none" stroke-linecap="round" stroke-linejoin="round" opacity="0.6"/>
<circle cx="228.9" cy="60.0" r="0.57" fill="#a8e040" opacity="0.67"/>
<circle cx="229.7" cy="61.3" r="0.58" fill="#a8e040" opacity="0.95"/>
<circle cx="229.5" cy="62.5" r="0.71" fill="#a8e040" opacity="0.83"/>
<circle cx="230.5" cy="63.6" r="0.74" fill="#a8e040" opacity="0.88"/>
<circle cx="230.8" cy="64.7" r="0.67" fill="#a8e040" opacity="0.98"/>
<circle cx="231.5" cy="66.1" r="0.75" fill="#a8e040" opacity="0.74"/>
<circle cx="231.8" cy="67.2" r="0.80" fill="#a8e040" opacity="0.85"/>
<circle cx="232.2" cy="68.4" r="0.57" fill="#a8e040" opacity="0.89"/>
<circle cx="232.2" cy="69.9" r="0.65" fill="#a8e040" opacity="0.82"/>
<circle cx="232.8" cy="72.2" r="0.85" fill="#a8e040" opacity="0.62"/>
<circle cx="232.6" cy="73.6" r="0.83" fill="#a8e040" opacity="0.79"/>
<circle cx="233.5" cy="75.6" r="0.67" fill="#a8e040" opacity="0.68"/>
<path d="M266.2,55.4 C266.7,56.4 268.2,59.5 269.2,61.5 C270.2,63.5 271.6,65.4 272.3,67.7 C273.0,70.0 273.4,72.8 273.1,75.4 C272.9,78.0 271.7,80.5 270.8,83.1 C269.9,85.7 269.0,88.2 267.7,90.8 C266.4,93.4 264.4,96.3 263.1,98.5 C261.8,100.7 260.5,103.1 260.0,104.0" stroke="#6a9a28" stroke-width="1.0" fill="none" stroke-linecap="round" stroke-linejoin="round" opacity="0.6"/>
<circle cx="266.6" cy="56.2" r="0.86" fill="#a8e040" opacity="0.85"/>
<circle cx="266.8" cy="57.1" r="0.63" fill="#a8e040" opacity="0.64"/>
<circle cx="268.1" cy="58.8" r="0.74" fill="#a8e040" opacity="0.86"/>
<circle cx="268.3" cy="60.0" r="0.75" fill="#a8e040" opacity="0.65"/>
<circle cx="269.4" cy="61.3" r="0.89" fill="#a8e040" opacity="0.89"/>
<circle cx="269.7" cy="62.8" r="0.66" fill="#a8e040" opacity="0.79"/>
<circle cx="272.5" cy="67.1" r="0.65" fill="#a8e040" opacity="0.79"/>
<circle cx="272.7" cy="68.4" r="0.87" fill="#a8e040" opacity="0.96"/>
<circle cx="273.1" cy="70.4" r="0.88" fill="#a8e040" opacity="0.72"/>
<circle cx="273.2" cy="71.3" r="0.86" fill="#a8e040" opacity="0.86"/>
<circle cx="273.1" cy="72.5" r="0.87" fill="#a8e040" opacity="0.75"/>
<circle cx="273.4" cy="74.5" r="0.66" fill="#a8e040" opacity="0.80"/>
<circle cx="272.8" cy="76.3" r="0.82" fill="#a8e040" opacity="0.65"/>
<circle cx="272.8" cy="77.9" r="0.64" fill="#a8e040" opacity="0.96"/>
<circle cx="271.8" cy="79.5" r="0.56" fill="#a8e040" opacity="0.72"/>
<circle cx="270.9" cy="81.9" r="0.66" fill="#a8e040" opacity="0.64"/>
<circle cx="270.7" cy="83.2" r="0.63" fill="#a8e040" opacity="0.86"/>
<circle cx="270.1" cy="84.3" r="0.90" fill="#a8e040" opacity="0.70"/>
<circle cx="269.5" cy="85.7" r="0.63" fill="#a8e040" opacity="0.68"/>
<circle cx="269.3" cy="87.1" r="0.68" fill="#a8e040" opacity="0.96"/>
<circle cx="268.8" cy="88.3" r="0.75" fill="#a8e040" opacity="1.00"/>
<circle cx="268.4" cy="89.9" r="0.59" fill="#a8e040" opacity="1.00"/>
<circle cx="267.7" cy="90.5" r="0.74" fill="#a8e040" opacity="0.72"/>
<circle cx="267.2" cy="92.2" r="0.78" fill="#a8e040" opacity="0.87"/>
<circle cx="266.2" cy="94.0" r="0.83" fill="#a8e040" opacity="0.95"/>
<circle cx="265.0" cy="94.9" r="0.58" fill="#a8e040" opacity="0.95"/>
<circle cx="264.9" cy="96.1" r="0.85" fill="#a8e040" opacity="0.61"/>
<circle cx="263.9" cy="97.6" r="0.67" fill="#a8e040" opacity="0.66"/>
<circle cx="263.3" cy="98.5" r="0.64" fill="#a8e040" opacity="0.90"/>
<circle cx="262.2" cy="99.8" r="0.84" fill="#a8e040" opacity="0.88"/>
<circle cx="261.5" cy="100.4" r="0.73" fill="#a8e040" opacity="0.81"/>
<circle cx="260.8" cy="102.5" r="0.72" fill="#a8e040" opacity="0.77"/>
<circle cx="260.5" cy="103.6" r="0.66" fill="#a8e040" opacity="0.70"/>
<path d="M207.2,73.0 C208.4,72.9 212.7,72.7 214.4,72.2 C216.1,71.7 216.8,70.4 217.3,70.0" stroke="#6a9a28" stroke-width="1.0" fill="none" stroke-linecap="round" stroke-linejoin="round" opacity="0.6"/>
<circle cx="208.2" cy="72.7" r="0.63" fill="#a8e040" opacity="0.75"/>
<circle cx="209.3" cy="72.5" r="0.76" fill="#a8e040" opacity="0.82"/>
<circle cx="210.6" cy="72.8" r="0.86" fill="#a8e040" opacity="0.80"/>
<circle cx="211.6" cy="72.9" r="0.63" fill="#a8e040" opacity="0.63"/>
<circle cx="213.2" cy="72.1" r="0.63" fill="#a8e040" opacity="0.73"/>
<circle cx="214.7" cy="72.5" r="0.76" fill="#a8e040" opacity="0.60"/>
<circle cx="215.7" cy="71.7" r="0.88" fill="#a8e040" opacity="0.83"/>
<circle cx="217.0" cy="70.4" r="0.66" fill="#a8e040" opacity="0.82"/>
<path d="M228.1,57.0 L228.9,64.3" stroke="#6a9a28" stroke-width="1.0" fill="none" stroke-linecap="round" stroke-linejoin="round" opacity="0.6"/>
<circle cx="228.7" cy="60.1" r="0.78" fill="#a8e040" opacity="0.71"/>
<circle cx="228.5" cy="62.2" r="0.64" fill="#a8e040" opacity="0.78"/>
<circle cx="228.8" cy="63.2" r="0.69" fill="#a8e040" opacity="0.65"/>
<path d="M193.9,111.9 C193.2,112.8 191.0,115.7 189.6,117.3 C188.2,118.9 186.7,120.3 185.3,121.6 C183.9,122.9 182.4,124.2 181.0,124.9 C179.6,125.6 178.0,125.5 176.6,126.0 C175.2,126.5 173.6,127.2 172.3,128.1 C171.1,129.0 170.2,130.1 169.1,131.4 C168.0,132.7 167.1,134.3 165.8,135.7 C164.5,137.1 162.6,138.6 161.5,140.0 C160.4,141.4 159.7,143.7 159.3,144.4" stroke="#6a9a28" stroke-width="1.0" fill="none" stroke-linecap="round" stroke-linejoin="round" opacity="0.6"/>
<circle cx="193.5" cy="113.1" r="0.61" fill="#a8e040" opacity="0.95"/>
<circle cx="191.6" cy="114.7" r="0.85" fill="#a8e040" opacity="0.72"/>
<circle cx="190.4" cy="116.2" r="0.65" fill="#a8e040" opacity="0.67"/>
<circle cx="187.4" cy="120.0" r="0.90" fill="#a8e040" opacity="0.62"/>
<circle cx="185.4" cy="121.4" r="0.84" fill="#a8e040" opacity="0.78"/>
<circle cx="184.7" cy="122.7" r="0.68" fill="#a8e040" opacity="0.61"/>
<circle cx="183.3" cy="123.1" r="0.68" fill="#a8e040" opacity="1.00"/>
<circle cx="182.2" cy="124.0" r="0.74" fill="#a8e040" opacity="0.64"/>
<circle cx="180.8" cy="125.1" r="0.75" fill="#a8e040" opacity="0.89"/>
<circle cx="179.4" cy="125.2" r="0.77" fill="#a8e040" opacity="0.72"/>
<circle cx="177.8" cy="126.0" r="0.66" fill="#a8e040" opacity="0.87"/>
<circle cx="176.9" cy="125.9" r="0.74" fill="#a8e040" opacity="0.78"/>
<circle cx="174.8" cy="126.7" r="0.79" fill="#a8e040" opacity="0.95"/>
<circle cx="173.2" cy="127.3" r="0.76" fill="#a8e040" opacity="0.71"/>
<circle cx="171.7" cy="128.3" r="0.78" fill="#a8e040" opacity="0.84"/>
<circle cx="170.6" cy="129.2" r="0.60" fill="#a8e040" opacity="0.76"/>
<circle cx="169.2" cy="131.1" r="0.62" fill="#a8e040" opacity="0.78"/>
<circle cx="168.7" cy="132.3" r="0.72" fill="#a8e040" opacity="0.95"/>
<circle cx="168.0" cy="132.8" r="0.71" fill="#a8e040" opacity="0.77"/>
<circle cx="167.0" cy="134.0" r="0.67" fill="#a8e040" opacity="0.83"/>
<circle cx="166.8" cy="134.9" r="0.84" fill="#a8e040" opacity="0.79"/>
<circle cx="165.3" cy="135.8" r="0.81" fill="#a8e040" opacity="0.64"/>
<circle cx="164.4" cy="136.7" r="0.59" fill="#a8e040" opacity="0.88"/>
<circle cx="163.6" cy="137.8" r="0.76" fill="#a8e040" opacity="0.99"/>
<circle cx="161.8" cy="139.6" r="0.57" fill="#a8e040" opacity="0.77"/>
<circle cx="161.0" cy="140.3" r="0.73" fill="#a8e040" opacity="0.93"/>
<circle cx="160.4" cy="141.5" r="0.59" fill="#a8e040" opacity="0.95"/>
<circle cx="160.1" cy="143.3" r="0.76" fill="#a8e040" opacity="0.85"/>
<path d="M185.3,132.5 C186.0,133.8 188.3,138.0 189.6,140.0 C190.9,142.0 192.3,143.7 192.9,144.4" stroke="#6a9a28" stroke-width="1.0" fill="none" stroke-linecap="round" stroke-linejoin="round" opacity="0.6"/>
<circle cx="185.8" cy="133.5" r="0.80" fill="#a8e040" opacity="0.69"/>
<circle cx="186.5" cy="135.1" r="0.88" fill="#a8e040" opacity="0.98"/>
<circle cx="187.3" cy="135.4" r="0.83" fill="#a8e040" opacity="0.94"/>
<circle cx="188.3" cy="137.1" r="0.57" fill="#a8e040" opacity="0.74"/>
<circle cx="188.3" cy="138.3" r="0.85" fill="#a8e040" opacity="0.61"/>
<circle cx="189.6" cy="139.3" r="0.75" fill="#a8e040" opacity="0.68"/>
<circle cx="190.6" cy="141.4" r="0.56" fill="#a8e040" opacity="0.61"/>
<circle cx="190.7" cy="142.3" r="0.71" fill="#a8e040" opacity="0.99"/>
<circle cx="191.7" cy="143.6" r="0.86" fill="#a8e040" opacity="0.65"/>
<circle cx="192.8" cy="144.1" r="0.76" fill="#a8e040" opacity="0.79"/>
<path d="M157.2,157.1 C157.9,157.3 160.1,157.8 161.5,158.2 C162.9,158.6 164.5,158.9 165.8,159.3 C167.1,159.7 168.0,159.9 169.1,160.4 C170.2,160.9 171.8,162.2 172.3,162.6" stroke="#6a9a28" stroke-width="1.0" fill="none" stroke-linecap="round" stroke-linejoin="round" opacity="0.6"/>
<circle cx="158.8" cy="157.1" r="0.66" fill="#a8e040" opacity="0.77"/>
<circle cx="159.7" cy="157.4" r="0.88" fill="#a8e040" opacity="0.67"/>
<circle cx="161.2" cy="158.3" r="0.69" fill="#a8e040" opacity="0.94"/>
<circle cx="162.9" cy="158.6" r="0.61" fill="#a8e040" opacity="0.67"/>
<circle cx="164.5" cy="158.8" r="0.67" fill="#a8e040" opacity="0.70"/>
<circle cx="165.9" cy="159.0" r="0.63" fill="#a8e040" opacity="0.82"/>
<circle cx="167.8" cy="159.7" r="0.58" fill="#a8e040" opacity="0.75"/>
<circle cx="168.5" cy="159.9" r="0.57" fill="#a8e040" opacity="0.63"/>
<circle cx="170.1" cy="160.8" r="0.60" fill="#a8e040" opacity="0.83"/>
<circle cx="171.3" cy="161.8" r="0.62" fill="#a8e040" opacity="0.95"/>
<circle cx="172.3" cy="162.3" r="0.66" fill="#a8e040" opacity="0.95"/>
<path d="M172.3,162.6 C173.0,161.7 175.2,158.5 176.6,157.1 C178.0,155.7 179.7,155.0 181.0,153.9 C182.3,152.8 183.3,151.8 184.2,150.7 C185.1,149.6 186.2,148.8 186.4,147.4 C186.6,146.0 185.5,142.9 185.3,142.0" stroke="#6a9a28" stroke-width="1.0" fill="none" stroke-linecap="round" stroke-linejoin="round" opacity="0.6"/>
<circle cx="173.9" cy="160.8" r="0.89" fill="#a8e040" opacity="0.99"/>
<circle cx="174.6" cy="159.4" r="0.72" fill="#a8e040" opacity="0.69"/>
<circle cx="175.8" cy="158.3" r="0.84" fill="#a8e040" opacity="0.88"/>
<circle cx="176.5" cy="157.4" r="0.87" fill="#a8e040" opacity="0.74"/>
<circle cx="177.7" cy="156.1" r="0.73" fill="#a8e040" opacity="0.66"/>
<circle cx="178.8" cy="155.9" r="0.68" fill="#a8e040" opacity="0.96"/>
<circle cx="180.0" cy="154.5" r="0.55" fill="#a8e040" opacity="0.72"/>
<circle cx="180.8" cy="153.6" r="0.55" fill="#a8e040" opacity="0.60"/>
<circle cx="182.1" cy="152.7" r="0.61" fill="#a8e040" opacity="0.78"/>
<circle cx="183.2" cy="151.7" r="0.89" fill="#a8e040" opacity="0.77"/>
<circle cx="184.4" cy="150.7" r="0.76" fill="#a8e040" opacity="0.98"/>
<circle cx="184.9" cy="150.1" r="0.86" fill="#a8e040" opacity="0.83"/>
<circle cx="186.0" cy="148.3" r="0.76" fill="#a8e040" opacity="0.91"/>
<circle cx="186.2" cy="147.2" r="0.80" fill="#a8e040" opacity="0.95"/>
<circle cx="186.1" cy="145.5" r="0.65" fill="#a8e040" opacity="0.99"/>
<circle cx="185.7" cy="143.7" r="0.82" fill="#a8e040" opacity="0.99"/>
<circle cx="185.6" cy="141.9" r="0.68" fill="#a8e040" opacity="0.64"/>
<path d="M172.3,162.6 C172.4,163.5 172.8,166.4 172.8,168.0 C172.8,169.6 172.8,171.1 172.3,172.3 C171.9,173.6 170.5,175.0 170.1,175.5" stroke="#6a9a28" stroke-width="1.0" fill="none" stroke-linecap="round" stroke-linejoin="round" opacity="0.6"/>
<circle cx="172.2" cy="164.1" r="0.56" fill="#a8e040" opacity="0.97"/>
<circle cx="172.5" cy="165.4" r="0.57" fill="#a8e040" opacity="0.65"/>
<circle cx="172.6" cy="166.9" r="0.87" fill="#a8e040" opacity="0.80"/>
<circle cx="173.0" cy="167.8" r="0.68" fill="#a8e040" opacity="0.69"/>
<circle cx="173.1" cy="169.9" r="0.69" fill="#a8e040" opacity="0.71"/>
<circle cx="172.9" cy="171.6" r="0.58" fill="#a8e040" opacity="0.96"/>
<circle cx="171.9" cy="172.7" r="0.68" fill="#a8e040" opacity="0.68"/>
<circle cx="171.4" cy="174.3" r="0.57" fill="#a8e040" opacity="0.64"/>
<circle cx="170.6" cy="175.4" r="0.72" fill="#a8e040" opacity="1.00"/>
<path d="M170.1,175.5 C169.4,176.1 167.2,177.7 165.8,178.8 C164.4,179.9 162.9,180.9 161.5,182.0 C160.1,183.1 157.9,184.8 157.2,185.3" stroke="#6a9a28" stroke-width="1.0" fill="none" stroke-linecap="round" stroke-linejoin="round" opacity="0.6"/>
<circle cx="170.1" cy="175.9" r="0.67" fill="#a8e040" opacity="0.96"/>
<circle cx="168.9" cy="176.8" r="0.75" fill="#a8e040" opacity="0.73"/>
<circle cx="167.5" cy="178.1" r="0.86" fill="#a8e040" opacity="0.89"/>
<circle cx="166.6" cy="178.5" r="0.78" fill="#a8e040" opacity="0.84"/>
<circle cx="165.4" cy="179.1" r="0.88" fill="#a8e040" opacity="0.75"/>
<circle cx="163.9" cy="179.8" r="0.55" fill="#a8e040" opacity="0.64"/>
<circle cx="162.5" cy="181.3" r="0.75" fill="#a8e040" opacity="0.86"/>
<circle cx="161.4" cy="182.3" r="0.87" fill="#a8e040" opacity="0.92"/>
<circle cx="159.7" cy="182.8" r="0.74" fill="#a8e040" opacity="0.62"/>
<circle cx="159.0" cy="183.6" r="0.85" fill="#a8e040" opacity="0.67"/>
<circle cx="158.0" cy="184.8" r="0.63" fill="#a8e040" opacity="0.99"/>
<path d="M170.1,175.5 C170.5,176.4 171.6,178.9 172.3,181.0 C173.0,183.1 174.1,186.8 174.5,188.0" stroke="#6a9a28" stroke-width="1.0" fill="none" stroke-linecap="round" stroke-linejoin="round" opacity="0.6"/>
<circle cx="170.5" cy="175.6" r="0.63" fill="#a8e040" opacity="0.75"/>
<circle cx="170.7" cy="177.3" r="0.85" fill="#a8e040" opacity="0.80"/>
<circle cx="171.1" cy="178.4" r="0.74" fill="#a8e040" opacity="0.63"/>
<circle cx="172.2" cy="179.5" r="0.60" fill="#a8e040" opacity="0.91"/>
<circle cx="172.2" cy="181.1" r="0.75" fill="#a8e040" opacity="0.76"/>
<circle cx="173.1" cy="182.4" r="0.89" fill="#a8e040" opacity="0.71"/>
<circle cx="173.6" cy="183.9" r="0.87" fill="#a8e040" opacity="0.92"/>
<circle cx="173.9" cy="185.6" r="0.76" fill="#a8e040" opacity="0.62"/>
<circle cx="174.1" cy="187.2" r="0.61" fill="#a8e040" opacity="0.98"/>
<path d="M187.5,163.6 C188.2,163.1 190.4,161.5 191.8,160.4 C193.2,159.3 195.4,157.7 196.1,157.1" stroke="#6a9a28" stroke-width="1.0" fill="none" stroke-linecap="round" stroke-linejoin="round" opacity="0.6"/>
<circle cx="188.3" cy="163.3" r="0.63" fill="#a8e040" opacity="0.86"/>
<circle cx="189.1" cy="161.9" r="0.60" fill="#a8e040" opacity="0.61"/>
<circle cx="190.4" cy="161.4" r="0.57" fill="#a8e040" opacity="0.65"/>
<circle cx="191.2" cy="160.8" r="0.67" fill="#a8e040" opacity="0.95"/>
<circle cx="192.5" cy="160.1" r="0.76" fill="#a8e040" opacity="0.97"/>
<circle cx="193.6" cy="158.8" r="0.56" fill="#a8e040" opacity="0.74"/>
<circle cx="194.9" cy="158.4" r="0.62" fill="#a8e040" opacity="0.62"/>
<circle cx="195.8" cy="157.1" r="0.68" fill="#a8e040" opacity="0.91"/>
<path d="M189.6,142.0 C190.3,142.5 192.4,144.3 193.9,145.2 C195.4,146.1 197.6,147.0 198.3,147.4" stroke="#6a9a28" stroke-width="1.0" fill="none" stroke-linecap="round" stroke-linejoin="round" opacity="0.6"/>
<circle cx="190.2" cy="142.9" r="0.85" fill="#a8e040" opacity="0.73"/>
<circle cx="192.2" cy="143.5" r="0.75" fill="#a8e040" opacity="0.72"/>
<circle cx="193.2" cy="144.8" r="0.62" fill="#a8e040" opacity="0.84"/>
<circle cx="194.5" cy="145.4" r="0.86" fill="#a8e040" opacity="0.97"/>
<circle cx="195.3" cy="146.0" r="0.55" fill="#a8e040" opacity="0.80"/>
<path d="M241.3,104.3 C240.6,105.2 238.4,107.7 236.9,109.7 C235.4,111.7 234.0,114.2 232.6,116.2 C231.2,118.2 229.7,119.8 228.3,121.6 C226.9,123.4 225.4,125.4 224.0,127.0 C222.6,128.6 221.2,130.0 219.6,131.4 C218.0,132.8 216.0,134.3 214.2,135.7 C212.4,137.1 210.4,138.6 208.8,140.0 C207.2,141.4 205.2,143.7 204.5,144.4" stroke="#6a9a28" stroke-width="1.0" fill="none" stroke-linecap="round" stroke-linejoin="round" opacity="0.6"/>
<circle cx="240.1" cy="105.4" r="0.87" fill="#a8e040" opacity="0.79"/>
<circle cx="239.9" cy="106.0" r="0.78" fill="#a8e040" opacity="0.64"/>
<circle cx="238.6" cy="107.9" r="0.78" fill="#a8e040" opacity="0.93"/>
<circle cx="236.9" cy="109.2" r="0.81" fill="#a8e040" opacity="0.61"/>
<circle cx="236.2" cy="110.8" r="0.80" fill="#a8e040" opacity="0.68"/>
<circle cx="235.6" cy="111.7" r="0.73" fill="#a8e040" opacity="0.88"/>
<circle cx="234.5" cy="113.5" r="0.77" fill="#a8e040" opacity="0.83"/>
<circle cx="233.8" cy="114.2" r="0.57" fill="#a8e040" opacity="0.96"/>
<circle cx="232.4" cy="116.0" r="0.69" fill="#a8e040" opacity="0.79"/>
<circle cx="231.4" cy="117.4" r="0.57" fill="#a8e040" opacity="0.83"/>
<circle cx="230.7" cy="118.6" r="0.87" fill="#a8e040" opacity="0.84"/>
<circle cx="229.0" cy="120.1" r="0.56" fill="#a8e040" opacity="0.82"/>
<circle cx="228.4" cy="121.6" r="0.56" fill="#a8e040" opacity="0.96"/>
<circle cx="226.0" cy="124.3" r="0.75" fill="#a8e040" opacity="0.60"/>
<circle cx="225.3" cy="125.4" r="0.66" fill="#a8e040" opacity="0.88"/>
<circle cx="223.3" cy="127.7" r="0.80" fill="#a8e040" opacity="0.76"/>
<circle cx="222.1" cy="128.8" r="0.82" fill="#a8e040" opacity="0.75"/>
<circle cx="220.9" cy="130.0" r="0.56" fill="#a8e040" opacity="0.67"/>
<circle cx="220.4" cy="131.0" r="0.59" fill="#a8e040" opacity="0.70"/>
<circle cx="219.1" cy="131.4" r="0.67" fill="#a8e040" opacity="0.62"/>
<circle cx="218.3" cy="132.6" r="0.76" fill="#a8e040" opacity="0.79"/>
<circle cx="217.0" cy="133.1" r="0.63" fill="#a8e040" opacity="0.74"/>
<circle cx="215.7" cy="134.5" r="0.68" fill="#a8e040" opacity="0.85"/>
<circle cx="214.4" cy="135.6" r="0.65" fill="#a8e040" opacity="0.72"/>
<circle cx="213.6" cy="136.2" r="0.69" fill="#a8e040" opacity="0.84"/>
<circle cx="212.8" cy="136.9" r="0.62" fill="#a8e040" opacity="0.82"/>
<circle cx="210.1" cy="138.8" r="0.59" fill="#a8e040" opacity="0.77"/>
<circle cx="209.3" cy="139.9" r="0.73" fill="#a8e040" opacity="0.84"/>
<circle cx="208.7" cy="140.2" r="0.69" fill="#a8e040" opacity="0.95"/>
<circle cx="207.3" cy="141.7" r="0.56" fill="#a8e040" opacity="0.75"/>
<circle cx="206.2" cy="142.3" r="0.81" fill="#a8e040" opacity="0.62"/>
<circle cx="205.2" cy="143.8" r="0.83" fill="#a8e040" opacity="0.91"/>
<path d="M278.7,103.2 C279.6,103.8 282.6,105.6 284.1,106.5 C285.7,107.4 287.4,108.3 288.0,108.7" stroke="#6a9a28" stroke-width="1.0" fill="none" stroke-linecap="round" stroke-linejoin="round" opacity="0.6"/>
<circle cx="279.0" cy="103.2" r="0.69" fill="#a8e040" opacity="0.75"/>
<circle cx="280.1" cy="104.3" r="0.83" fill="#a8e040" opacity="0.71"/>
<circle cx="281.4" cy="105.2" r="0.67" fill="#a8e040" opacity="0.77"/>
<circle cx="282.5" cy="105.9" r="0.55" fill="#a8e040" opacity="0.97"/>
<circle cx="284.9" cy="106.7" r="0.67" fill="#a8e040" opacity="0.96"/>
<circle cx="286.7" cy="107.8" r="0.75" fill="#a8e040" opacity="0.62"/>
<circle cx="287.6" cy="108.1" r="0.60" fill="#a8e040" opacity="0.71"/>
<path d="M156.0,140.0 C156.7,140.3 158.7,141.8 160.0,142.0 C161.3,142.2 163.3,141.2 164.0,141.0" stroke="#6a9a28" stroke-width="1.0" fill="none" stroke-linecap="round" stroke-linejoin="round" opacity="0.6"/>
<circle cx="157.5" cy="140.6" r="0.69" fill="#a8e040" opacity="0.85"/>
<circle cx="158.3" cy="141.1" r="0.90" fill="#a8e040" opacity="0.68"/>
<circle cx="160.0" cy="141.9" r="0.85" fill="#a8e040" opacity="0.77"/>
<circle cx="161.4" cy="141.7" r="0.64" fill="#a8e040" opacity="0.98"/>
<circle cx="162.5" cy="141.3" r="0.83" fill="#a8e040" opacity="0.85"/>
<circle cx="164.3" cy="140.8" r="0.74" fill="#a8e040" opacity="0.81"/>
<path d="M217.0,170.0 C218.3,170.2 222.2,170.7 225.0,171.0 C227.8,171.3 231.3,171.5 234.0,172.0 C236.7,172.5 239.8,173.7 241.0,174.0" stroke="#4a6a20" stroke-width="1.0" fill="none" stroke-linecap="round" stroke-linejoin="round" opacity="0.6"/>
<ellipse cx="183.4" cy="103.3" rx="1.3" ry="1.0" fill="#d8f040"/>
<ellipse cx="196.4" cy="101.8" rx="1.3" ry="1.0" fill="#d8f040"/>
<ellipse cx="176.2" cy="86" rx="1.3" ry="1.0" fill="#d8f040"/>
<ellipse cx="170.4" cy="78.8" rx="1.3" ry="1.0" fill="#d8f040"/>
<ellipse cx="190.6" cy="96.1" rx="1.3" ry="1.0" fill="#d8f040"/>
<ellipse cx="208" cy="88.9" rx="1.3" ry="1.0" fill="#d8f040"/>
<ellipse cx="263" cy="52" rx="1.3" ry="1.0" fill="#d8f040"/>
<ellipse cx="244" cy="96" rx="1.3" ry="1.0" fill="#d8f040"/>
<ellipse cx="180" cy="44" rx="1.3" ry="1.0" fill="#d8f040"/>
<ellipse cx="228.5" cy="60" rx="1.3" ry="1.0" fill="#d8f040"/>
<ellipse cx="243" cy="58" rx="1.3" ry="1.0" fill="#d8f040"/>
<ellipse cx="216" cy="71" rx="1.3" ry="1.0" fill="#d8f040"/>
<ellipse cx="249" cy="64" rx="1.3" ry="1.0" fill="#d8f040"/>
<ellipse cx="160.3" cy="67.2" rx="1.3" ry="1.0" fill="#d8f040"/>
<ellipse cx="212.1" cy="110.8" rx="1.3" ry="1.0" fill="#d8f040"/>
<ellipse cx="161.5" cy="114.1" rx="1.3" ry="1.0" fill="#d8f040"/>
<ellipse cx="189.6" cy="117.3" rx="1.3" ry="1.0" fill="#d8f040"/>
<ellipse cx="170.1" cy="175.5" rx="1.3" ry="1.0" fill="#d8f040"/>
<ellipse cx="219.6" cy="131.4" rx="1.3" ry="1.0" fill="#d8f040"/>
<ellipse cx="229.4" cy="135.2" rx="1.3" ry="1.0" fill="#d8f040"/>
<ellipse cx="218.6" cy="166.9" rx="1.3" ry="1.0" fill="#d8f040"/>
<ellipse cx="230.5" cy="153.9" rx="1.3" ry="1.0" fill="#d8f040"/>
<ellipse cx="181" cy="124.9" rx="1.3" ry="1.0" fill="#d8f040"/>
<ellipse cx="249.5" cy="183.1" rx="1.3" ry="1.0" fill="#d8f040"/>
<ellipse cx="246.2" cy="175.5" rx="1.3" ry="1.0" fill="#d8f040"/>
<ellipse cx="283" cy="168" rx="1.3" ry="1.0" fill="#d8f040"/>
<ellipse cx="166.9" cy="130.3" rx="1.3" ry="1.0" fill="#d8f040"/>
<ellipse cx="186.4" cy="147.4" rx="1.3" ry="1.0" fill="#d8f040"/>
<ellipse cx="236.9" cy="109.7" rx="1.3" ry="1.0" fill="#d8f040"/>
<ellipse cx="228.3" cy="151.7" rx="1.3" ry="1.0" fill="#d8f040"/>
<ellipse cx="213.1" cy="113" rx="1.3" ry="1.0" fill="#d8f040"/>
</g>
<text x="248.6" y="33.4" font-size="10.4" font-weight="bold" font-style="italic" fill="#fff" textLength="26.4" lengthAdjust="spacingAndGlyphs">Gfra2</text>
<text x="274.8" y="30.4" font-size="6.4" font-weight="bold" font-style="italic" fill="#fff" textLength="6.4" lengthAdjust="spacingAndGlyphs">-/-</text>
<line x1="162.3" y1="175" x2="182.6" y2="175" stroke="#cfcfcf" stroke-width="1.6"/>
</g>
<g id="panelC">
<g stroke="#1a1a1a" stroke-width="1.2" fill="none">
<line x1="352.3" y1="51.6" x2="352.3" y2="156.79999999999998"/>
<line x1="349.0" y1="156.20" x2="352.3" y2="156.20"/>
<line x1="349.0" y1="122.20" x2="352.3" y2="122.20"/>
<line x1="349.0" y1="88.20" x2="352.3" y2="88.20"/>
<line x1="349.0" y1="54.20" x2="352.3" y2="54.20"/>
<line x1="351.7" y1="156.2" x2="388.5" y2="156.2"/>
</g>
<rect x="355.30" y="117.30" width="12.20" height="38.90" fill="#502c6c" stroke="#402356" stroke-width="0.6"/>
<rect x="373.10" y="76.30" width="12.40" height="79.90" fill="#6aa942" stroke="#548734" stroke-width="0.6"/>
<g stroke="#1e1e1e" stroke-width="1.15" fill="none">
<line x1="361.40" y1="117" x2="361.40" y2="114.4"/><line x1="358.50" y1="114.4" x2="364.30" y2="114.4"/>
<line x1="361.40" y1="156.2" x2="361.40" y2="159.5"/>
<line x1="379.30" y1="76" x2="379.30" y2="65"/><line x1="376.40" y1="65" x2="382.20" y2="65"/>
<line x1="379.30" y1="156.2" x2="379.30" y2="159.5"/>
<polyline points="361.2,60.7 361.2,57.5 379.3,57.5 379.3,60.7"/>
</g>
<g font-size="8.4" fill="#222" stroke="#222" stroke-width="0.18">
<text x="346.2" y="159.20" text-anchor="end">0</text>
<text x="346.2" y="125.20" text-anchor="end">0.5</text>
<text x="346.2" y="91.20" text-anchor="end">1.0</text>
<text x="346.2" y="57.20" text-anchor="end">1.5</text>
<circle cx="368.40" cy="53.4" r="1.2" stroke="none"/><circle cx="372.00" cy="53.4" r="1.2" stroke="none"/>
<text x="352.4" y="38.6" font-size="8.6" textLength="36" lengthAdjust="spacingAndGlyphs">p = 0.002</text>
<text x="345.7" y="170.2" text-anchor="end" font-style="italic" font-size="8.8" stroke="none">Gfra2</text>
<text x="361.4" y="170.2" text-anchor="middle" font-size="8.8" stroke="none">+/-</text>
<text x="379.3" y="170.2" text-anchor="middle" font-size="8.8" stroke="none">-/-</text>
<text transform="translate(315.6,142.4) rotate(-90)" font-size="9.6" textLength="72.5" lengthAdjust="spacingAndGlyphs">Tyrosine hydroxylase</text>
<text transform="translate(313.9,71.5) rotate(-90)" font-size="8.5">+</text>
<text transform="translate(328.4,120.1) rotate(-90)" font-size="9.6" textLength="33.7" lengthAdjust="spacingAndGlyphs">area (a.u)</text>
</g>
<g font-size="8.0" fill="#fff">
<text x="361.40" y="150.5" text-anchor="middle">8</text>
<text x="379.30" y="150.5" text-anchor="middle">6</text>
</g>
</g>
<g id="panelD">
<g stroke="#1a1a1a" stroke-width="1.2" fill="none">
<line x1="439.8" y1="51.6" x2="439.8" y2="156.79999999999998"/>
<line x1="436.5" y1="156.20" x2="439.8" y2="156.20"/>
<line x1="436.5" y1="122.20" x2="439.8" y2="122.20"/>
<line x1="436.5" y1="88.20" x2="439.8" y2="88.20"/>
<line x1="436.5" y1="54.20" x2="439.8" y2="54.20"/>
<line x1="439.2" y1="156.2" x2="512.4" y2="156.2"/>
</g>
<rect x="442.70" y="119.70" width="12.10" height="36.50" fill="#502c6c" stroke="#402356" stroke-width="0.6"/>
<rect x="460.70" y="93.60" width="12.00" height="62.60" fill="#6aa942" stroke="#548734" stroke-width="0.6"/>
<rect x="478.80" y="135.50" width="12.10" height="20.70" fill="#502c6c" stroke="#402356" stroke-width="0.6"/>
<rect x="497.00" y="123.70" width="11.70" height="32.50" fill="#6aa942" stroke="#548734" stroke-width="0.6"/>
<g stroke="#1e1e1e" stroke-width="1.15" fill="none">
<line x1="448.75" y1="119.4" x2="448.75" y2="116.5"/><line x1="445.85" y1="116.5" x2="451.65" y2="116.5"/>
<line x1="448.75" y1="156.2" x2="448.75" y2="159.5"/>
<line x1="466.70" y1="93.3" x2="466.70" y2="83.7"/><line x1="463.80" y1="83.7" x2="469.60" y2="83.7"/>
<line x1="466.70" y1="156.2" x2="466.70" y2="159.5"/>
<line x1="484.85" y1="135.2" x2="484.85" y2="131.2"/><line x1="481.95" y1="131.2" x2="487.75" y2="131.2"/>
<line x1="484.85" y1="156.2" x2="484.85" y2="159.5"/>
<line x1="502.85" y1="123.4" x2="502.85" y2="117.9"/><line x1="499.95" y1="117.9" x2="505.75" y2="117.9"/>
<line x1="502.85" y1="156.2" x2="502.85" y2="159.5"/>
<polyline points="448.8,80.2 448.8,77 467.3,77 467.3,80.2"/>
<polyline points="448.8,68.2 448.8,65 484.9,65 484.9,68.2"/>
<polyline points="466.3,52.5 466.3,49.3 503.4,49.3 503.4,52.5"/>
<polyline points="484.4,111.5 484.4,108.3 503.4,108.3 503.4,111.5"/>
</g>
<g font-size="8.4" fill="#222" stroke="#222" stroke-width="0.18">
<text x="433.2" y="159.20" text-anchor="end">0</text>
<text x="433.2" y="125.20" text-anchor="end">200</text>
<text x="433.2" y="91.20" text-anchor="end">400</text>
<text x="433.2" y="57.20" text-anchor="end">600</text>
<circle cx="458" cy="72.6" r="1.2" stroke="none"/>
<circle cx="484.8" cy="45.7" r="1.2" stroke="none"/>
<text x="457.7" y="38.6" font-size="8.6" textLength="36.5" lengthAdjust="spacingAndGlyphs">p = 0.004</text>
<text x="466.8" y="62.6" text-anchor="middle" font-size="8.8">ns</text>
<text x="493.9" y="105.8" text-anchor="middle" font-size="8.8">ns</text>
<text x="434" y="170.2" text-anchor="end" font-style="italic" font-size="8.8" stroke="none">Gfra2</text>
<text x="448.75" y="170.2" text-anchor="middle" font-size="8.8" stroke="none">+/-</text>
<text x="466.7" y="170.2" text-anchor="middle" font-size="8.8" stroke="none">-/-</text>
<text x="484.85" y="170.2" text-anchor="middle" font-size="8.8" stroke="none">+/-</text>
<text x="502.85" y="170.2" text-anchor="middle" font-size="8.8" stroke="none">-/-</text>
<text transform="translate(413.7,146.2) rotate(-90)" font-size="10" textLength="84.7" lengthAdjust="spacingAndGlyphs">Norepinephrine (ng/ml)</text>
</g>
<g font-size="8.0" fill="#fff">
<text x="448.75" y="149.7" text-anchor="middle">6</text>
<text x="466.70" y="149.7" text-anchor="middle">7</text>
<text x="484.85" y="149.7" text-anchor="middle">4</text>
<text x="502.85" y="149.7" text-anchor="middle">4</text>
</g>
<rect x="438.5" y="177.7" width="70.6" height="11.5" fill="#000" stroke="#000" stroke-width="1"/>
<rect x="476" y="177.7" width="33.1" height="11.5" fill="#f8e631" stroke="#000" stroke-width="1"/>
</g>
<!-- ============ PANEL E ============ -->
<g id="panelE">
<g font-weight="bold" fill="#111" stroke="#111" stroke-width="0.3" font-size="9.2">
<text x="66.7" y="223.8" textLength="147" lengthAdjust="spacingAndGlyphs">acetylcholine antagonists injected i.p</text>
<text x="54.6" y="239.8" textLength="40.6" lengthAdjust="spacingAndGlyphs">peripheral</text>
<text x="43.8" y="249.3" textLength="62.2" lengthAdjust="spacingAndGlyphs">nervous system</text>
<text x="180.8" y="239.2" textLength="27.2" lengthAdjust="spacingAndGlyphs">central</text>
<text x="179.1" y="249" textLength="31.1" lengthAdjust="spacingAndGlyphs">nervous</text>
<text x="180.6" y="258.7" textLength="27.7" lengthAdjust="spacingAndGlyphs">system</text>
<text x="116.9" y="397.6" textLength="74.4" lengthAdjust="spacingAndGlyphs">blood-brain barrier</text>
</g>
<g fill="#1c1c1c" stroke="#1c1c1c" stroke-width="0.22" font-size="8.4">
<text x="46.5" y="267" textLength="56.5" lengthAdjust="spacingAndGlyphs">Mecamylamine</text>
<text x="56.8" y="275.8" textLength="35.7" lengthAdjust="spacingAndGlyphs">(nicotinic)</text>
<text x="43.8" y="292.4" textLength="62.2" lengthAdjust="spacingAndGlyphs">Hexamethonium</text>
<text x="56.8" y="301.3" textLength="35.7" lengthAdjust="spacingAndGlyphs">(nicotinic)</text>
<text x="50.5" y="332.5" textLength="48.5" lengthAdjust="spacingAndGlyphs">Scopolamine</text>
<text x="52.8" y="342.4" textLength="44.4" lengthAdjust="spacingAndGlyphs">(muscarinic)</text>
<text x="46" y="358.3" textLength="57.3" lengthAdjust="spacingAndGlyphs">Methylatropine</text>
<text x="52.8" y="367.7" textLength="44.4" lengthAdjust="spacingAndGlyphs">(muscarinic)</text>
</g>
<g stroke="#333" stroke-width="1.2" stroke-dasharray="3.3 2.5">
<line x1="142.2" y1="231.9" x2="142.2" y2="376"/>
<line x1="167" y1="231.9" x2="167" y2="376"/>
</g>
<g stroke="#a50a30" stroke-width="1.6" fill="#a50a30">
<line x1="115.7" y1="269.4" x2="187" y2="269.4"/>
<line x1="115.7" y1="294.7" x2="130" y2="294.7"/>
<line x1="115.7" y1="335" x2="186.5" y2="335"/>
<line x1="115.7" y1="360.5" x2="130" y2="360.5"/>
</g>
<g fill="#a50a30">
<path d="M194,269.4 L184,265.1 L186.4,269.4 L184,273.7 Z"/>
<path d="M137.6,294.7 L127.6,290.4 L130,294.7 L127.6,299 Z"/>
<path d="M193.5,335 L183.5,330.7 L185.9,335 L183.5,339.3 Z"/>
<path d="M137.9,360.5 L127.9,356.2 L130.3,360.5 L127.9,364.8 Z"/>
</g>
</g>


<g id="panelF">
<g stroke="#1a1a1a" stroke-width="1.2" fill="none">
<line x1="256.5" y1="249.8" x2="256.5" y2="354.8"/>
<line x1="253.2" y1="354.20" x2="256.5" y2="354.20"/>
<line x1="253.2" y1="328.80" x2="256.5" y2="328.80"/>
<line x1="253.2" y1="303.40" x2="256.5" y2="303.40"/>
<line x1="253.2" y1="278.00" x2="256.5" y2="278.00"/>
<line x1="253.2" y1="252.60" x2="256.5" y2="252.60"/>
<line x1="255.9" y1="354.2" x2="343.2" y2="354.2"/>
</g>
<rect x="259.50" y="322.50" width="11.00" height="31.70" fill="#2d4a82" stroke="#243b68" stroke-width="0.6"/>
<rect x="276.50" y="282.80" width="11.40" height="71.40" fill="#bc5250" stroke="#964140" stroke-width="0.6"/>
<rect x="293.90" y="303.30" width="11.40" height="50.90" fill="#939bc4" stroke="#757c9c" stroke-width="0.6"/>
<rect x="311.50" y="284.30" width="11.20" height="69.90" fill="#a8002a" stroke="#860021" stroke-width="0.6"/>
<rect x="328.70" y="328.30" width="11.20" height="25.90" fill="#4f6196" stroke="#3f4d78" stroke-width="0.6"/>
<g stroke="#1e1e1e" stroke-width="1.15" fill="none">
<line x1="265.00" y1="322.2" x2="265.00" y2="301.3"/><line x1="262.10" y1="301.3" x2="267.90" y2="301.3"/>
<line x1="265.00" y1="354.2" x2="265.00" y2="358.0"/>
<line x1="282.20" y1="282.5" x2="282.20" y2="257"/><line x1="279.30" y1="257" x2="285.10" y2="257"/>
<line x1="282.20" y1="354.2" x2="282.20" y2="358.0"/>
<line x1="299.60" y1="303" x2="299.60" y2="284.9"/><line x1="296.70" y1="284.9" x2="302.50" y2="284.9"/>
<line x1="299.60" y1="354.2" x2="299.60" y2="358.0"/>
<line x1="317.10" y1="284" x2="317.10" y2="257"/><line x1="314.20" y1="257" x2="320.00" y2="257"/>
<line x1="317.10" y1="354.2" x2="317.10" y2="358.0"/>
<line x1="334.30" y1="328" x2="334.30" y2="307.7"/><line x1="331.40" y1="307.7" x2="337.20" y2="307.7"/>
<line x1="334.30" y1="354.2" x2="334.30" y2="358.0"/>
<polyline points="264.3,252.79999999999998 264.3,249.6 282.3,249.6 282.3,252.79999999999998"/>
<polyline points="264.3,238.39999999999998 264.3,235.2 317.4,235.2 317.4,238.39999999999998"/>
</g>
<g font-size="8.8" fill="#222" stroke="#222" stroke-width="0.18">
<text x="250.8" y="357.20" text-anchor="end">0</text>
<text x="250.8" y="331.80" text-anchor="end">5</text>
<text x="250.8" y="306.40" text-anchor="end">10</text>
<text x="250.8" y="281.00" text-anchor="end">15</text>
<text x="250.8" y="255.60" text-anchor="end">20</text>
<circle cx="271.70" cy="245.2" r="1.2" stroke="none"/><circle cx="275.30" cy="245.2" r="1.2" stroke="none"/>
<circle cx="290.8" cy="231.2" r="1.2" stroke="none"/>
<text x="279.5" y="224.4" font-size="8.6" textLength="41.4" lengthAdjust="spacingAndGlyphs">p = 0.0005</text><text transform="translate(235.3,342.1) rotate(-90)" font-size="10" textLength="80" lengthAdjust="spacingAndGlyphs">CFU-Cs per ml of blood</text>
</g>
<g font-size="8.0" fill="#fff">
<text x="265.00" y="350.8" text-anchor="middle">7</text>
<text x="282.20" y="350.8" text-anchor="middle">8</text>
<text x="299.60" y="350.8" text-anchor="middle">8</text>
<text x="317.10" y="350.8" text-anchor="middle">8</text>
<text x="334.30" y="350.8" text-anchor="middle">8</text>
</g>
<g font-size="8.45" fill="#222" stroke="#222" stroke-width="0.18">
<text transform="translate(268.60,362.5) rotate(-45)" text-anchor="end">Saline</text>
<text transform="translate(285.80,362.5) rotate(-45)" text-anchor="end">Mecamylamine</text>
<text transform="translate(303.20,362.5) rotate(-45)" text-anchor="end">Hexamethonium</text>
<text transform="translate(320.70,362.5) rotate(-45)" text-anchor="end">Scopolamine</text>
<text transform="translate(337.90,362.5) rotate(-45)" text-anchor="end">Methylatropine</text>
</g>
</g>
<g id="panelG">
<g stroke="#1a1a1a" stroke-width="1.2" fill="none">
<line x1="388.8" y1="249.8" x2="388.8" y2="354.8"/>
<line x1="385.5" y1="354.20" x2="388.8" y2="354.20"/>
<line x1="385.5" y1="328.80" x2="388.8" y2="328.80"/>
<line x1="385.5" y1="303.40" x2="388.8" y2="303.40"/>
<line x1="385.5" y1="278.00" x2="388.8" y2="278.00"/>
<line x1="385.5" y1="252.60" x2="388.8" y2="252.60"/>
<line x1="388.2" y1="354.2" x2="476.2" y2="354.2"/>
</g>
<rect x="391.60" y="310.40" width="11.40" height="43.80" fill="#2d4a82" stroke="#243b68" stroke-width="0.6"/>
<rect x="409.10" y="278.80" width="11.50" height="75.40" fill="#bc5250" stroke="#964140" stroke-width="0.6"/>
<rect x="426.50" y="303.30" width="11.40" height="50.90" fill="#939bc4" stroke="#757c9c" stroke-width="0.6"/>
<rect x="444.00" y="279.90" width="11.40" height="74.30" fill="#a8002a" stroke="#860021" stroke-width="0.6"/>
<rect x="461.30" y="304.70" width="11.40" height="49.50" fill="#4f6196" stroke="#3f4d78" stroke-width="0.6"/>
<g stroke="#1e1e1e" stroke-width="1.15" fill="none">
<line x1="397.30" y1="310.1" x2="397.30" y2="291.2"/><line x1="394.40" y1="291.2" x2="400.20" y2="291.2"/>
<line x1="397.30" y1="354.2" x2="397.30" y2="358.0"/>
<line x1="414.85" y1="278.5" x2="414.85" y2="258.4"/><line x1="411.95" y1="258.4" x2="417.75" y2="258.4"/>
<line x1="414.85" y1="354.2" x2="414.85" y2="358.0"/>
<line x1="432.20" y1="303" x2="432.20" y2="275.7"/><line x1="429.30" y1="275.7" x2="435.10" y2="275.7"/>
<line x1="432.20" y1="354.2" x2="432.20" y2="358.0"/>
<line x1="449.70" y1="279.6" x2="449.70" y2="265.8"/><line x1="446.80" y1="265.8" x2="452.60" y2="265.8"/>
<line x1="449.70" y1="354.2" x2="449.70" y2="358.0"/>
<line x1="467.00" y1="304.4" x2="467.00" y2="279.6"/><line x1="464.10" y1="279.6" x2="469.90" y2="279.6"/>
<line x1="467.00" y1="354.2" x2="467.00" y2="358.0"/>
<polyline points="397.2,252.7 397.2,249.5 414.9,249.5 414.9,252.7"/>
<polyline points="397.2,238.6 397.2,235.4 450,235.4 450,238.6"/>
</g>
<g font-size="8.8" fill="#222" stroke="#222" stroke-width="0.18">
<text x="382.8" y="357.20" text-anchor="end">0</text>
<text x="382.8" y="331.80" text-anchor="end">2</text>
<text x="382.8" y="306.40" text-anchor="end">4</text>
<text x="382.8" y="281.00" text-anchor="end">6</text>
<text x="382.8" y="255.60" text-anchor="end">8</text>
<circle cx="404.20" cy="245.4" r="1.2" stroke="none"/><circle cx="407.80" cy="245.4" r="1.2" stroke="none"/>
<circle cx="423.2" cy="231.3" r="1.2" stroke="none"/>
<text x="416.5" y="224.4" font-size="8.6" textLength="31.7" lengthAdjust="spacingAndGlyphs">p = 0.01</text><text transform="translate(372.8,352.9) rotate(-90)" font-size="10" textLength="42" lengthAdjust="spacingAndGlyphs">WBCs (x10</text><text transform="translate(369.2,310.7) rotate(-90)" font-size="6.5">6</text><text transform="translate(372.8,306.8) rotate(-90)" font-size="10" textLength="55" lengthAdjust="spacingAndGlyphs">) per ml of blood</text>
</g>
<g font-size="8.0" fill="#fff">
<text x="397.30" y="350.8" text-anchor="middle">7</text>
<text x="414.85" y="350.8" text-anchor="middle">8</text>
<text x="432.20" y="350.8" text-anchor="middle">8</text>
<text x="449.70" y="350.8" text-anchor="middle">8</text>
<text x="467.00" y="350.8" text-anchor="middle">8</text>
</g>
<g font-size="8.45" fill="#222" stroke="#222" stroke-width="0.18">
<text transform="translate(400.90,362.5) rotate(-45)" text-anchor="end">Saline</text>
<text transform="translate(418.45,362.5) rotate(-45)" text-anchor="end">Mecamylamine</text>
<text transform="translate(435.80,362.5) rotate(-45)" text-anchor="end">Hexamethonium</text>
<text transform="translate(453.30,362.5) rotate(-45)" text-anchor="end">Scopolamine</text>
<text transform="translate(470.60,362.5) rotate(-45)" text-anchor="end">Methylatropine</text>
</g>
</g>
<rect x="0.5" y="0.5" width="519" height="415" fill="none" stroke="#000" stroke-width="1.2"/>
</svg>
</body></html>
